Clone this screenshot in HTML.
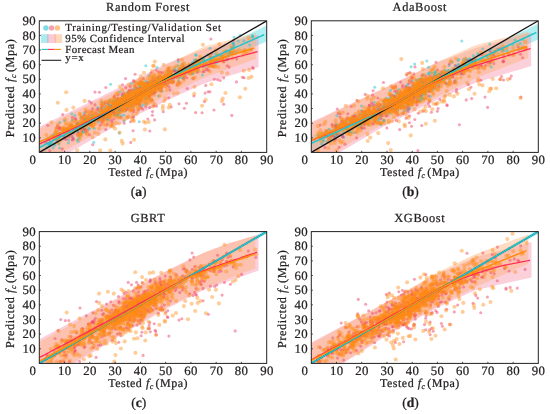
<!DOCTYPE html>
<html><head><meta charset="utf-8"><title>Predicted vs tested</title>
<style>
html,body{margin:0;padding:0;background:#fff;}
body{width:550px;height:414px;overflow:hidden;}
svg{display:block;font-family:"Liberation Serif",serif;opacity:0.999;will-change:transform;}
text{stroke:#231f20;stroke-width:0.24px;}
</style></head>
<body>
<svg width="550" height="414" viewBox="0 0 550 414" text-rendering="geometricPrecision">
<rect width="550" height="414" fill="#fff"/>
<clipPath id="clip_a"><rect x="39.3" y="20.8" width="227.4" height="131.6"/></clipPath>
<g clip-path="url(#clip_a)">
<polygon points="39.3,140.3 45.1,137.5 51,134.8 56.8,132.1 62.6,129.3 68.5,126.6 74.3,123.9 80.1,121 85.9,118 91.8,115.1 97.6,112.1 103.4,109.2 109.3,106.2 115.1,103.3 120.9,100.4 126.8,97.5 132.6,94.5 138.4,91.7 144.3,88.3 150.1,84.7 155.9,81.1 161.7,77.9 167.6,74.7 173.4,71.6 179.2,68.5 185.1,65.4 190.9,62.3 196.7,59.2 202.6,56.4 208.4,53.6 214.2,50.8 220.1,48 225.9,45.2 231.7,42.4 237.5,39.6 243.4,36.8 249.2,34 255,31.1 260.9,28.3 266.7,25.5 266.7,41.6 260.9,44 255,46.3 249.2,48.7 243.4,51.1 237.5,53.4 231.7,55.8 225.9,58.2 220.1,60.5 214.2,62.9 208.4,65.3 202.6,67.6 196.7,70 190.9,72.6 185.1,75.2 179.2,77.9 173.4,80.5 167.6,83.2 161.7,86 155.9,88.7 150.1,91.9 144.3,95 138.4,98.2 132.6,101.6 126.8,105 120.9,108.4 115.1,111.8 109.3,115.2 103.4,118.6 97.6,122 91.8,125.4 85.9,128.9 80.1,132.3 74.3,135.7 68.5,138.9 62.6,142.1 56.8,145.3 51,148.5 45.1,151.7 39.3,154.9" fill="#55dbe2" fill-opacity="0.45"/>
<polygon points="39.3,126.8 44.9,124 50.5,121.3 56.2,118.5 61.8,115.7 67.4,113 73,110.2 78.7,107.4 84.3,104.7 89.9,101.9 95.5,99.1 101.2,96.4 106.8,93.6 112.4,90.9 118,88 123.7,85.2 129.3,82.3 134.9,79.5 140.5,76.7 146.1,73.8 151.8,71 157.4,68.1 163,65.3 168.6,62.8 174.3,60.6 179.9,58.4 185.5,56.2 191.1,54 196.8,51.8 202.4,49.6 208,48 213.6,46.5 219.3,45 224.9,43.5 230.5,42 236.1,40.5 241.7,39 247.4,37.5 253,36 258.6,34.5 258.6,67 253,68.7 247.4,70.4 241.7,72.1 236.1,73.8 230.5,75.5 224.9,77.2 219.3,78.9 213.6,80.6 208,82.3 202.4,84.2 196.8,86.8 191.1,89.4 185.5,92 179.9,94.6 174.3,97.2 168.6,99.8 163,102.5 157.4,105.3 151.8,108 146.1,110.8 140.5,113.6 134.9,116.3 129.3,119.1 123.7,121.9 118,124.6 112.4,127.6 106.8,130.9 101.2,134.1 95.5,137.4 89.9,140.7 84.3,143.9 78.7,147.2 73,150.4 67.4,153.2 61.8,155.4 56.2,157.6 50.5,159.8 44.9,161.9 39.3,164.1" fill="#f58aa6" fill-opacity="0.4"/>
<polygon points="39.3,129 44.9,126.3 50.4,123.5 56,120.8 61.5,118.1 67.1,115.3 72.6,112.6 78.2,109.9 83.7,107.2 89.3,104.4 94.8,101.7 100.4,99 105.9,96.2 111.5,93.5 117,90.7 122.6,87.8 128.1,84.9 133.7,82 139.2,79.1 144.8,76.2 150.3,73.3 155.9,70.4 161.4,67.4 167,64.6 172.6,61.9 178.1,59.2 183.7,56.5 189.2,53.8 194.8,51.1 200.3,48.4 205.9,46.2 211.4,44.8 217,43.3 222.5,41.8 228.1,40.4 233.6,38.9 239.2,37.5 244.7,36 250.3,34.5 255.8,33.1 255.8,59 250.3,61 244.7,63 239.2,65 233.6,67 228.1,69 222.5,71 217,73 211.4,75 205.9,77 200.3,79.4 194.8,82.1 189.2,84.7 183.7,87.4 178.1,90.1 172.6,92.8 167,95.4 161.4,98.3 155.9,101.3 150.3,104.3 144.8,107.3 139.2,110.2 133.7,113.2 128.1,116.2 122.6,119.1 117,122.1 111.5,125.2 105.9,128.2 100.4,131.3 94.8,134.3 89.3,137.4 83.7,140.5 78.2,143.5 72.6,146.6 67.1,149.6 61.5,152.6 56,154.7 50.4,156.9 44.9,159 39.3,161.2" fill="#ffb27a" fill-opacity="0.45"/>
<g fill="#22c6d2" fill-opacity="0.5"><circle cx="105.3" cy="106.6" r="1.5"/><circle cx="157.8" cy="88" r="1.5"/><circle cx="157.3" cy="86.3" r="1.5"/><circle cx="83.2" cy="132.1" r="1.5"/><circle cx="77.4" cy="130.9" r="1.5"/><circle cx="221.5" cy="55.4" r="1.5"/><circle cx="73.8" cy="131.3" r="1.5"/><circle cx="89.9" cy="121.9" r="1.5"/><circle cx="230.2" cy="52.5" r="1.5"/><circle cx="129.5" cy="102.7" r="1.5"/><circle cx="124.9" cy="103.5" r="1.5"/><circle cx="136.4" cy="94.8" r="1.5"/><circle cx="148.1" cy="90.4" r="1.5"/><circle cx="145.8" cy="65.7" r="1.5"/><circle cx="85.8" cy="122.9" r="1.5"/><circle cx="203" cy="61.4" r="1.5"/><circle cx="105.9" cy="116" r="1.5"/><circle cx="120.1" cy="100.4" r="1.5"/><circle cx="189.1" cy="73.3" r="1.5"/><circle cx="118.7" cy="113.5" r="1.5"/><circle cx="135.9" cy="101.2" r="1.5"/><circle cx="54.8" cy="137.7" r="1.5"/><circle cx="118.9" cy="111.1" r="1.5"/><circle cx="133.1" cy="92" r="1.5"/><circle cx="116.9" cy="107" r="1.5"/><circle cx="141.1" cy="100.9" r="1.5"/><circle cx="120.8" cy="105.8" r="1.5"/><circle cx="178.1" cy="65.7" r="1.5"/><circle cx="228.4" cy="54.3" r="1.5"/><circle cx="88.8" cy="128.3" r="1.5"/><circle cx="115.1" cy="105.5" r="1.5"/><circle cx="131.7" cy="92.8" r="1.5"/><circle cx="59.9" cy="133.5" r="1.5"/><circle cx="210.5" cy="60.2" r="1.5"/><circle cx="114.4" cy="107.4" r="1.5"/><circle cx="112.3" cy="107.9" r="1.5"/><circle cx="147.7" cy="84.5" r="1.5"/><circle cx="139" cy="84.9" r="1.5"/><circle cx="211.1" cy="59" r="1.5"/><circle cx="117.6" cy="100.5" r="1.5"/><circle cx="64.3" cy="136.6" r="1.5"/><circle cx="104.7" cy="110.8" r="1.5"/><circle cx="102" cy="119.4" r="1.5"/><circle cx="141.4" cy="97.2" r="1.5"/><circle cx="124.6" cy="100.8" r="1.5"/><circle cx="145.8" cy="95.3" r="1.5"/><circle cx="102.2" cy="110.7" r="1.5"/><circle cx="145.9" cy="93.6" r="1.5"/><circle cx="91.3" cy="120.5" r="1.5"/><circle cx="212.9" cy="58.1" r="1.5"/><circle cx="125.1" cy="104" r="1.5"/><circle cx="152.5" cy="86.6" r="1.5"/><circle cx="84.8" cy="119.4" r="1.5"/><circle cx="74.9" cy="115.6" r="1.5"/><circle cx="205.1" cy="66.3" r="1.5"/><circle cx="168.1" cy="77.6" r="1.5"/><circle cx="112.9" cy="109.9" r="1.5"/><circle cx="147.4" cy="94.4" r="1.5"/><circle cx="90.1" cy="118" r="1.5"/><circle cx="49.9" cy="145.4" r="1.5"/><circle cx="119" cy="106.1" r="1.5"/><circle cx="252.3" cy="35.6" r="1.5"/><circle cx="118.3" cy="115.6" r="1.5"/><circle cx="121.8" cy="103.1" r="1.5"/><circle cx="137.7" cy="93.6" r="1.5"/><circle cx="78.5" cy="132.3" r="1.5"/><circle cx="116.4" cy="104.7" r="1.5"/><circle cx="140.9" cy="92.3" r="1.5"/><circle cx="194.8" cy="67.4" r="1.5"/><circle cx="116.8" cy="101.3" r="1.5"/><circle cx="228.9" cy="55.9" r="1.5"/><circle cx="102.6" cy="111.7" r="1.5"/><circle cx="50.4" cy="143" r="1.5"/><circle cx="46.5" cy="147.5" r="1.5"/><circle cx="158.2" cy="84.9" r="1.5"/><circle cx="118.8" cy="107.5" r="1.5"/><circle cx="139.4" cy="90.9" r="1.5"/><circle cx="145.3" cy="98.4" r="1.5"/><circle cx="78.1" cy="129" r="1.5"/><circle cx="112" cy="111.7" r="1.5"/><circle cx="167.9" cy="71.8" r="1.5"/><circle cx="147.3" cy="95.5" r="1.5"/><circle cx="179" cy="68.7" r="1.5"/><circle cx="133" cy="106.4" r="1.5"/><circle cx="159.7" cy="81.7" r="1.5"/><circle cx="109.3" cy="111.7" r="1.5"/><circle cx="135.9" cy="94.9" r="1.5"/><circle cx="77.5" cy="139.7" r="1.5"/><circle cx="94.3" cy="128.4" r="1.5"/><circle cx="145.6" cy="98.4" r="1.5"/><circle cx="71.7" cy="113.7" r="1.5"/><circle cx="191.8" cy="66.4" r="1.5"/><circle cx="129.4" cy="104.2" r="1.5"/><circle cx="145.6" cy="87.1" r="1.5"/><circle cx="134.6" cy="100.9" r="1.5"/><circle cx="124" cy="115" r="1.5"/><circle cx="182.3" cy="77.6" r="1.5"/><circle cx="196.2" cy="60" r="1.5"/><circle cx="133.8" cy="88.7" r="1.5"/><circle cx="127.1" cy="105.9" r="1.5"/><circle cx="89.2" cy="120.7" r="1.5"/><circle cx="164.7" cy="76.3" r="1.5"/><circle cx="109.8" cy="100.9" r="1.5"/><circle cx="121.7" cy="115.6" r="1.5"/><circle cx="113.8" cy="108" r="1.5"/><circle cx="79.7" cy="124.3" r="1.5"/><circle cx="183.4" cy="78.4" r="1.5"/><circle cx="91.2" cy="119.1" r="1.5"/><circle cx="226.1" cy="51.2" r="1.5"/><circle cx="77.2" cy="125.3" r="1.5"/><circle cx="133.8" cy="100.6" r="1.5"/><circle cx="92.1" cy="115.2" r="1.5"/><circle cx="105.4" cy="116.1" r="1.5"/><circle cx="189.9" cy="65.6" r="1.5"/><circle cx="111.6" cy="109.1" r="1.5"/><circle cx="107.7" cy="113.8" r="1.5"/><circle cx="107" cy="119" r="1.5"/><circle cx="108" cy="104.1" r="1.5"/><circle cx="164.4" cy="75.8" r="1.5"/><circle cx="64.9" cy="131.4" r="1.5"/><circle cx="57.1" cy="141.3" r="1.5"/><circle cx="101.5" cy="117.1" r="1.5"/><circle cx="115.5" cy="99.9" r="1.5"/><circle cx="153.1" cy="83.5" r="1.5"/><circle cx="113.6" cy="112.8" r="1.5"/><circle cx="152.1" cy="87.9" r="1.5"/><circle cx="138.4" cy="94.8" r="1.5"/><circle cx="72.4" cy="132" r="1.5"/><circle cx="119.4" cy="110.1" r="1.5"/><circle cx="141.1" cy="88" r="1.5"/><circle cx="116.4" cy="104.5" r="1.5"/><circle cx="76" cy="130.2" r="1.5"/><circle cx="73.2" cy="137.8" r="1.5"/><circle cx="149.6" cy="98.7" r="1.5"/><circle cx="139" cy="95.1" r="1.5"/><circle cx="243.9" cy="40.7" r="1.5"/><circle cx="130.6" cy="106" r="1.5"/><circle cx="56.4" cy="135.2" r="1.5"/><circle cx="232.4" cy="48.6" r="1.5"/><circle cx="168.5" cy="82.4" r="1.5"/><circle cx="78" cy="141.2" r="1.5"/><circle cx="119.5" cy="111.1" r="1.5"/><circle cx="82.6" cy="132.6" r="1.5"/><circle cx="158.9" cy="84.5" r="1.5"/><circle cx="130.6" cy="98" r="1.5"/><circle cx="238.4" cy="41" r="1.5"/><circle cx="144.1" cy="92.2" r="1.5"/><circle cx="139.4" cy="100.2" r="1.5"/><circle cx="195.6" cy="55" r="1.5"/><circle cx="80.9" cy="125.1" r="1.5"/><circle cx="101.4" cy="116.6" r="1.5"/><circle cx="153.5" cy="87.9" r="1.5"/><circle cx="129.5" cy="106.4" r="1.5"/><circle cx="138.6" cy="92.2" r="1.5"/><circle cx="182.9" cy="66.9" r="1.5"/><circle cx="144.7" cy="84.3" r="1.5"/><circle cx="78" cy="122.9" r="1.5"/><circle cx="175.9" cy="71.1" r="1.5"/><circle cx="136.8" cy="90.3" r="1.5"/><circle cx="115.5" cy="109" r="1.5"/><circle cx="149.5" cy="91" r="1.5"/><circle cx="151.5" cy="88" r="1.5"/><circle cx="127" cy="107.2" r="1.5"/><circle cx="142.8" cy="93.5" r="1.5"/><circle cx="134.1" cy="99.1" r="1.5"/><circle cx="121.9" cy="101" r="1.5"/><circle cx="126" cy="102.8" r="1.5"/><circle cx="162.3" cy="90.9" r="1.5"/><circle cx="108.8" cy="111.1" r="1.5"/><circle cx="122.7" cy="97.1" r="1.5"/><circle cx="125.6" cy="110.7" r="1.5"/><circle cx="128.6" cy="104" r="1.5"/><circle cx="69.7" cy="132.3" r="1.5"/><circle cx="236" cy="52.6" r="1.5"/><circle cx="229.9" cy="52.3" r="1.5"/><circle cx="133.6" cy="97.5" r="1.5"/><circle cx="133.1" cy="104.2" r="1.5"/><circle cx="145.3" cy="89.9" r="1.5"/><circle cx="149.5" cy="87" r="1.5"/><circle cx="155.2" cy="91.5" r="1.5"/><circle cx="138" cy="95.3" r="1.5"/><circle cx="159.7" cy="78.2" r="1.5"/><circle cx="163.3" cy="82.2" r="1.5"/><circle cx="58.3" cy="136.5" r="1.5"/><circle cx="233.9" cy="45.8" r="1.5"/><circle cx="139.9" cy="95.5" r="1.5"/><circle cx="125.7" cy="97.4" r="1.5"/><circle cx="130.5" cy="97.6" r="1.5"/><circle cx="249.7" cy="45" r="1.5"/><circle cx="155.5" cy="82.9" r="1.5"/><circle cx="102.2" cy="102.2" r="1.5"/><circle cx="84.2" cy="113" r="1.5"/><circle cx="133.9" cy="100.6" r="1.5"/><circle cx="177.1" cy="72.3" r="1.5"/><circle cx="126.7" cy="95" r="1.5"/><circle cx="131.8" cy="97.6" r="1.5"/><circle cx="153.1" cy="81.1" r="1.5"/><circle cx="150.1" cy="82.4" r="1.5"/><circle cx="73.8" cy="130.3" r="1.5"/><circle cx="162" cy="78.9" r="1.5"/><circle cx="122.6" cy="105" r="1.5"/><circle cx="99.2" cy="111.4" r="1.5"/><circle cx="143.9" cy="92.4" r="1.5"/><circle cx="123.6" cy="105.6" r="1.5"/><circle cx="118.4" cy="106" r="1.5"/><circle cx="166.7" cy="80.9" r="1.5"/><circle cx="104.2" cy="111.8" r="1.5"/><circle cx="139" cy="92.6" r="1.5"/><circle cx="141.1" cy="99.1" r="1.5"/><circle cx="130.3" cy="102.5" r="1.5"/><circle cx="131.6" cy="97" r="1.5"/><circle cx="87.2" cy="120.6" r="1.5"/><circle cx="101.2" cy="114.8" r="1.5"/><circle cx="240.3" cy="35.2" r="1.5"/><circle cx="64.3" cy="120.6" r="1.5"/><circle cx="69.3" cy="132.7" r="1.5"/><circle cx="112.7" cy="105.5" r="1.5"/><circle cx="140.8" cy="87.4" r="1.5"/><circle cx="184.8" cy="68.8" r="1.5"/><circle cx="69" cy="140" r="1.5"/><circle cx="128.1" cy="100.1" r="1.5"/><circle cx="140.1" cy="93.8" r="1.5"/><circle cx="109.4" cy="100.7" r="1.5"/><circle cx="119.3" cy="132.9" r="1.5"/><circle cx="113.2" cy="101.3" r="1.5"/><circle cx="114.9" cy="108.4" r="1.5"/><circle cx="122.5" cy="99.2" r="1.5"/><circle cx="146.3" cy="91.9" r="1.5"/><circle cx="136.6" cy="95.1" r="1.5"/><circle cx="207.8" cy="54.9" r="1.5"/><circle cx="122.3" cy="103.2" r="1.5"/><circle cx="116.8" cy="101.7" r="1.5"/><circle cx="100.7" cy="115.7" r="1.5"/><circle cx="113.5" cy="110.3" r="1.5"/><circle cx="145.3" cy="92.1" r="1.5"/><circle cx="49.8" cy="143.9" r="1.5"/><circle cx="89.3" cy="122.2" r="1.5"/><circle cx="123.8" cy="96.4" r="1.5"/><circle cx="98.4" cy="122.1" r="1.5"/><circle cx="138.7" cy="102.5" r="1.5"/><circle cx="63.3" cy="135.4" r="1.5"/><circle cx="53.7" cy="134.3" r="1.5"/><circle cx="160.4" cy="77.7" r="1.5"/><circle cx="159" cy="77.1" r="1.5"/><circle cx="114.5" cy="102" r="1.5"/><circle cx="48.7" cy="145.1" r="1.5"/><circle cx="59.5" cy="136.8" r="1.5"/><circle cx="158.3" cy="96.1" r="1.5"/><circle cx="172.3" cy="79.4" r="1.5"/><circle cx="154.7" cy="82.7" r="1.5"/><circle cx="136" cy="103.4" r="1.5"/><circle cx="225.9" cy="59.9" r="1.5"/><circle cx="134.2" cy="103.2" r="1.5"/><circle cx="129.2" cy="96.3" r="1.5"/><circle cx="110" cy="104.7" r="1.5"/><circle cx="178.3" cy="61.4" r="1.5"/><circle cx="123.6" cy="96.1" r="1.5"/><circle cx="154.8" cy="92.5" r="1.5"/><circle cx="79.2" cy="137.8" r="1.5"/><circle cx="149.2" cy="87.9" r="1.5"/><circle cx="109" cy="105.8" r="1.5"/><circle cx="193.1" cy="73.5" r="1.5"/><circle cx="110.9" cy="112.1" r="1.5"/><circle cx="52.1" cy="142.5" r="1.5"/><circle cx="158.4" cy="83.3" r="1.5"/><circle cx="170.9" cy="77.9" r="1.5"/><circle cx="203.6" cy="59.1" r="1.5"/><circle cx="150" cy="83.1" r="1.5"/><circle cx="141.6" cy="92.6" r="1.5"/><circle cx="118.4" cy="102" r="1.5"/><circle cx="97.6" cy="107.5" r="1.5"/><circle cx="134.3" cy="101.7" r="1.5"/><circle cx="159.2" cy="87.9" r="1.5"/><circle cx="119" cy="102.8" r="1.5"/><circle cx="83.5" cy="115.8" r="1.5"/><circle cx="127.4" cy="99.8" r="1.5"/><circle cx="199.9" cy="64.3" r="1.5"/><circle cx="77.8" cy="123.3" r="1.5"/><circle cx="153.5" cy="88.9" r="1.5"/><circle cx="93.7" cy="115.7" r="1.5"/><circle cx="199.6" cy="61.3" r="1.5"/><circle cx="126.7" cy="99" r="1.5"/><circle cx="138" cy="88.4" r="1.5"/><circle cx="86.8" cy="117.6" r="1.5"/><circle cx="124.2" cy="105" r="1.5"/><circle cx="115.1" cy="103" r="1.5"/><circle cx="85.4" cy="131.3" r="1.5"/><circle cx="104.3" cy="108.4" r="1.5"/><circle cx="149" cy="75.6" r="1.5"/><circle cx="146.1" cy="81.3" r="1.5"/><circle cx="146.3" cy="87.7" r="1.5"/><circle cx="111.3" cy="107.2" r="1.5"/><circle cx="192.5" cy="62.5" r="1.5"/><circle cx="220.2" cy="55.6" r="1.5"/><circle cx="252.5" cy="37" r="1.5"/><circle cx="137.6" cy="96.1" r="1.5"/><circle cx="141.7" cy="94.6" r="1.5"/><circle cx="156.6" cy="83.5" r="1.5"/><circle cx="169" cy="78" r="1.5"/><circle cx="89.4" cy="129.1" r="1.5"/><circle cx="196.2" cy="55.1" r="1.5"/><circle cx="84.3" cy="123.1" r="1.5"/><circle cx="54.8" cy="145.3" r="1.5"/><circle cx="158" cy="78.2" r="1.5"/><circle cx="131.7" cy="98.1" r="1.5"/><circle cx="103.6" cy="112.3" r="1.5"/><circle cx="133.8" cy="93.5" r="1.5"/><circle cx="103.4" cy="117.5" r="1.5"/><circle cx="59.4" cy="148.1" r="1.5"/><circle cx="82.7" cy="125.1" r="1.5"/><circle cx="119" cy="103.7" r="1.5"/><circle cx="157.2" cy="67.4" r="1.5"/><circle cx="131.5" cy="101.6" r="1.5"/><circle cx="141.7" cy="93.8" r="1.5"/><circle cx="203.3" cy="59.4" r="1.5"/><circle cx="115.6" cy="108.2" r="1.5"/><circle cx="103.4" cy="114.5" r="1.5"/><circle cx="141.2" cy="91.6" r="1.5"/><circle cx="84.3" cy="128.4" r="1.5"/><circle cx="81.1" cy="118.1" r="1.5"/><circle cx="108.3" cy="114.9" r="1.5"/><circle cx="124.1" cy="101.9" r="1.5"/><circle cx="146.8" cy="91.2" r="1.5"/><circle cx="135" cy="99.5" r="1.5"/><circle cx="192.2" cy="63.9" r="1.5"/><circle cx="131.7" cy="93.2" r="1.5"/><circle cx="131" cy="91.5" r="1.5"/><circle cx="124.2" cy="99.3" r="1.5"/><circle cx="88.3" cy="123.7" r="1.5"/><circle cx="142.1" cy="88.3" r="1.5"/><circle cx="148.5" cy="95.4" r="1.5"/><circle cx="145.4" cy="90.2" r="1.5"/><circle cx="92.2" cy="117" r="1.5"/><circle cx="155.7" cy="81.9" r="1.5"/><circle cx="107.9" cy="116.3" r="1.5"/><circle cx="137" cy="102.2" r="1.5"/><circle cx="140.1" cy="85.7" r="1.5"/><circle cx="141.3" cy="95.2" r="1.5"/><circle cx="114.1" cy="115.3" r="1.5"/><circle cx="118.4" cy="111.1" r="1.5"/><circle cx="81.2" cy="125.5" r="1.5"/><circle cx="233.2" cy="43.4" r="1.5"/><circle cx="147.9" cy="89.1" r="1.5"/><circle cx="194.3" cy="60" r="1.5"/><circle cx="233.4" cy="47" r="1.5"/><circle cx="150.3" cy="85.5" r="1.5"/><circle cx="233.7" cy="43.9" r="1.5"/><circle cx="72.9" cy="131.7" r="1.5"/><circle cx="76.2" cy="126.9" r="1.5"/><circle cx="160.5" cy="83.9" r="1.5"/><circle cx="177.9" cy="76.4" r="1.5"/><circle cx="111.3" cy="106.1" r="1.5"/><circle cx="184.4" cy="74" r="1.5"/><circle cx="166.9" cy="78.5" r="1.5"/><circle cx="101.6" cy="118.2" r="1.5"/><circle cx="143.9" cy="91.9" r="1.5"/><circle cx="137.7" cy="97.4" r="1.5"/><circle cx="84.4" cy="118.8" r="1.5"/><circle cx="127.7" cy="99.9" r="1.5"/><circle cx="139.5" cy="93.6" r="1.5"/><circle cx="110.6" cy="84.2" r="1.5"/><circle cx="145.9" cy="103.9" r="1.5"/><circle cx="179.9" cy="77.7" r="1.5"/><circle cx="143.2" cy="104.8" r="1.5"/><circle cx="90.8" cy="120.6" r="1.5"/><circle cx="58.5" cy="135.9" r="1.5"/><circle cx="112.5" cy="105.7" r="1.5"/><circle cx="147.9" cy="88" r="1.5"/><circle cx="102.8" cy="118.1" r="1.5"/><circle cx="127.5" cy="92.4" r="1.5"/><circle cx="91" cy="119" r="1.5"/><circle cx="121.1" cy="105.3" r="1.5"/><circle cx="137.7" cy="100.4" r="1.5"/><circle cx="124.4" cy="100.4" r="1.5"/><circle cx="94.9" cy="120.6" r="1.5"/><circle cx="57.2" cy="140" r="1.5"/><circle cx="138.2" cy="93.9" r="1.5"/><circle cx="96.8" cy="116.3" r="1.5"/><circle cx="49.2" cy="145.1" r="1.5"/><circle cx="108.7" cy="105" r="1.5"/><circle cx="120.1" cy="109.4" r="1.5"/><circle cx="132.8" cy="103" r="1.5"/><circle cx="124.7" cy="100.8" r="1.5"/><circle cx="155.2" cy="84.6" r="1.5"/><circle cx="153.2" cy="86" r="1.5"/><circle cx="155.4" cy="87" r="1.5"/><circle cx="151.1" cy="87.4" r="1.5"/><circle cx="150.7" cy="90.5" r="1.5"/><circle cx="138.3" cy="102.6" r="1.5"/><circle cx="78.2" cy="124.1" r="1.5"/><circle cx="50.1" cy="145.4" r="1.5"/><circle cx="153.8" cy="87.1" r="1.5"/><circle cx="138.6" cy="91.4" r="1.5"/><circle cx="166.7" cy="79.2" r="1.5"/><circle cx="234" cy="37.2" r="1.5"/><circle cx="151.5" cy="93.9" r="1.5"/><circle cx="102.1" cy="118.1" r="1.5"/><circle cx="226.3" cy="51.1" r="1.5"/><circle cx="150.7" cy="81.5" r="1.5"/><circle cx="112.6" cy="110" r="1.5"/><circle cx="129.4" cy="106.4" r="1.5"/><circle cx="156.1" cy="79.4" r="1.5"/><circle cx="122.1" cy="108" r="1.5"/><circle cx="137.6" cy="96.3" r="1.5"/><circle cx="144.5" cy="87.3" r="1.5"/><circle cx="164.5" cy="83.6" r="1.5"/><circle cx="229.8" cy="51.7" r="1.5"/><circle cx="215.6" cy="54.1" r="1.5"/><circle cx="133.3" cy="98.6" r="1.5"/><circle cx="154.4" cy="84.4" r="1.5"/><circle cx="202.5" cy="75.1" r="1.5"/><circle cx="133.7" cy="98" r="1.5"/><circle cx="231.8" cy="53.3" r="1.5"/><circle cx="93.8" cy="142.3" r="1.5"/><circle cx="122.3" cy="95.4" r="1.5"/><circle cx="161.1" cy="80.1" r="1.5"/><circle cx="174.8" cy="71.1" r="1.5"/><circle cx="204.8" cy="65.2" r="1.5"/><circle cx="47.9" cy="143.3" r="1.5"/><circle cx="136.4" cy="96.9" r="1.5"/><circle cx="118.6" cy="112.3" r="1.5"/><circle cx="60.4" cy="134.7" r="1.5"/><circle cx="116.1" cy="110.3" r="1.5"/><circle cx="177.9" cy="74.7" r="1.5"/><circle cx="178.4" cy="80.7" r="1.5"/><circle cx="87.9" cy="117.7" r="1.5"/><circle cx="158.1" cy="80.3" r="1.5"/><circle cx="134.4" cy="95.2" r="1.5"/><circle cx="146.6" cy="94.5" r="1.5"/><circle cx="110.7" cy="112.5" r="1.5"/><circle cx="140.5" cy="88.1" r="1.5"/><circle cx="128.8" cy="101.4" r="1.5"/><circle cx="146.4" cy="89.2" r="1.5"/><circle cx="140.2" cy="93.3" r="1.5"/><circle cx="134.6" cy="102.2" r="1.5"/><circle cx="101.2" cy="108" r="1.5"/><circle cx="117.3" cy="115.6" r="1.5"/><circle cx="150.9" cy="86.7" r="1.5"/><circle cx="144.9" cy="91.7" r="1.5"/><circle cx="197.9" cy="71.2" r="1.5"/><circle cx="98" cy="115.3" r="1.5"/><circle cx="88.5" cy="119.6" r="1.5"/><circle cx="124.7" cy="102.1" r="1.5"/><circle cx="171.8" cy="80.7" r="1.5"/><circle cx="68.7" cy="130.7" r="1.5"/><circle cx="196.1" cy="59.9" r="1.5"/><circle cx="177.5" cy="70.7" r="1.5"/><circle cx="113.9" cy="100.1" r="1.5"/><circle cx="119.8" cy="92.1" r="1.5"/><circle cx="139.4" cy="90.8" r="1.5"/><circle cx="138.1" cy="88.6" r="1.5"/><circle cx="135.2" cy="99.7" r="1.5"/><circle cx="133.9" cy="99.8" r="1.5"/><circle cx="76.4" cy="126.3" r="1.5"/><circle cx="139" cy="92.2" r="1.5"/><circle cx="117.5" cy="99.2" r="1.5"/><circle cx="170.7" cy="72" r="1.5"/><circle cx="146.7" cy="89.4" r="1.5"/><circle cx="203.5" cy="60.6" r="1.5"/><circle cx="177.8" cy="75.1" r="1.5"/><circle cx="197.4" cy="65.9" r="1.5"/><circle cx="185.3" cy="72.2" r="1.5"/><circle cx="193.9" cy="61.9" r="1.5"/><circle cx="91.5" cy="122.6" r="1.5"/><circle cx="134.8" cy="98.5" r="1.5"/><circle cx="152.5" cy="86.1" r="1.5"/><circle cx="81" cy="128.5" r="1.5"/><circle cx="142.4" cy="93.7" r="1.5"/><circle cx="53.2" cy="148" r="1.5"/><circle cx="231.3" cy="47.7" r="1.5"/><circle cx="83" cy="129.3" r="1.5"/><circle cx="130.3" cy="98.3" r="1.5"/><circle cx="153.3" cy="84.6" r="1.5"/><circle cx="139.3" cy="121.8" r="1.5"/><circle cx="210" cy="48.3" r="1.5"/><circle cx="134.1" cy="96.3" r="1.5"/><circle cx="182.5" cy="70.5" r="1.5"/><circle cx="58.9" cy="144.1" r="1.5"/><circle cx="110.4" cy="106.8" r="1.5"/><circle cx="88.5" cy="119.7" r="1.5"/><circle cx="164" cy="82.1" r="1.5"/><circle cx="135.5" cy="91.3" r="1.5"/><circle cx="156.7" cy="78" r="1.5"/><circle cx="126.4" cy="102.5" r="1.5"/><circle cx="113.8" cy="111.9" r="1.5"/><circle cx="232.8" cy="42.8" r="1.5"/><circle cx="117.9" cy="104.1" r="1.5"/><circle cx="117.1" cy="106.6" r="1.5"/><circle cx="72.3" cy="120" r="1.5"/><circle cx="142.5" cy="91.3" r="1.5"/><circle cx="114.1" cy="108.2" r="1.5"/><circle cx="132.3" cy="96.3" r="1.5"/><circle cx="203.9" cy="62.5" r="1.5"/><circle cx="93.8" cy="117.4" r="1.5"/><circle cx="132.6" cy="96.7" r="1.5"/><circle cx="86.7" cy="125.4" r="1.5"/><circle cx="136.9" cy="96.3" r="1.5"/><circle cx="138.3" cy="92.9" r="1.5"/><circle cx="182.5" cy="63.9" r="1.5"/><circle cx="77.7" cy="124.6" r="1.5"/><circle cx="148" cy="85.2" r="1.5"/><circle cx="85.1" cy="122.1" r="1.5"/><circle cx="140.9" cy="90.6" r="1.5"/><circle cx="158.9" cy="87.1" r="1.5"/><circle cx="197.3" cy="64.9" r="1.5"/><circle cx="134.3" cy="91.7" r="1.5"/><circle cx="108.5" cy="119.8" r="1.5"/><circle cx="200.4" cy="60.8" r="1.5"/><circle cx="131.5" cy="83.3" r="1.5"/><circle cx="216.1" cy="63.3" r="1.5"/><circle cx="133.5" cy="90.1" r="1.5"/><circle cx="80.1" cy="134.4" r="1.5"/><circle cx="140.6" cy="91.6" r="1.5"/><circle cx="136.3" cy="88" r="1.5"/><circle cx="128" cy="93.2" r="1.5"/><circle cx="102.1" cy="118.4" r="1.5"/><circle cx="124.2" cy="120.9" r="1.5"/><circle cx="106.3" cy="118.7" r="1.5"/><circle cx="171.2" cy="73.4" r="1.5"/><circle cx="149.1" cy="90.4" r="1.5"/><circle cx="196.8" cy="64.3" r="1.5"/><circle cx="147.5" cy="88.3" r="1.5"/><circle cx="210.5" cy="56.5" r="1.5"/><circle cx="111" cy="107" r="1.5"/><circle cx="193.8" cy="65.2" r="1.5"/><circle cx="192.4" cy="73.7" r="1.5"/><circle cx="147.5" cy="82.8" r="1.5"/><circle cx="140.9" cy="106.2" r="1.5"/><circle cx="129.6" cy="93.6" r="1.5"/><circle cx="164" cy="83.4" r="1.5"/><circle cx="142.1" cy="93.6" r="1.5"/><circle cx="164.6" cy="82.7" r="1.5"/><circle cx="158.2" cy="85.3" r="1.5"/><circle cx="66.1" cy="133.9" r="1.5"/><circle cx="98.7" cy="117.6" r="1.5"/><circle cx="147" cy="95" r="1.5"/><circle cx="252.6" cy="36.6" r="1.5"/><circle cx="156.3" cy="87.3" r="1.5"/><circle cx="141" cy="87.1" r="1.5"/><circle cx="74.8" cy="130.1" r="1.5"/><circle cx="140.7" cy="96.8" r="1.5"/><circle cx="133.2" cy="95.5" r="1.5"/><circle cx="110.4" cy="105.8" r="1.5"/><circle cx="136.7" cy="100" r="1.5"/><circle cx="133.2" cy="98.9" r="1.5"/><circle cx="175.1" cy="68.4" r="1.5"/><circle cx="128.3" cy="104.9" r="1.5"/><circle cx="120.7" cy="108.3" r="1.5"/><circle cx="149.9" cy="87.4" r="1.5"/><circle cx="216.5" cy="60.8" r="1.5"/><circle cx="68.4" cy="143.1" r="1.5"/><circle cx="116.9" cy="114.2" r="1.5"/><circle cx="173.3" cy="69.9" r="1.5"/><circle cx="141.3" cy="90.2" r="1.5"/><circle cx="171.1" cy="74.2" r="1.5"/><circle cx="78" cy="125.8" r="1.5"/><circle cx="217.3" cy="60.5" r="1.5"/><circle cx="89.1" cy="118.4" r="1.5"/><circle cx="59.9" cy="122.6" r="1.5"/></g>
<g fill="#f0466a" fill-opacity="0.5"><circle cx="152" cy="92.9" r="1.55"/><circle cx="233.6" cy="40.3" r="1.55"/><circle cx="119.7" cy="104.1" r="1.55"/><circle cx="127.7" cy="103.3" r="1.55"/><circle cx="139.6" cy="94" r="1.55"/><circle cx="202.9" cy="71.7" r="1.55"/><circle cx="166.7" cy="75.5" r="1.55"/><circle cx="126.2" cy="96.7" r="1.55"/><circle cx="165.5" cy="84" r="1.55"/><circle cx="178" cy="70.9" r="1.55"/><circle cx="136" cy="97.7" r="1.55"/><circle cx="160.3" cy="82" r="1.55"/><circle cx="171.2" cy="107" r="1.55"/><circle cx="49.8" cy="150.6" r="1.55"/><circle cx="179.4" cy="82.8" r="1.55"/><circle cx="185.7" cy="71.8" r="1.55"/><circle cx="125.4" cy="104.6" r="1.55"/><circle cx="155.3" cy="86.9" r="1.55"/><circle cx="83" cy="129.3" r="1.55"/><circle cx="92.7" cy="144.7" r="1.55"/><circle cx="154.9" cy="88.9" r="1.55"/><circle cx="227.2" cy="65.8" r="1.55"/><circle cx="77" cy="123.8" r="1.55"/><circle cx="154.8" cy="92.3" r="1.55"/><circle cx="124.9" cy="99.4" r="1.55"/><circle cx="59.3" cy="127.8" r="1.55"/><circle cx="137.8" cy="94.8" r="1.55"/><circle cx="89.3" cy="101.2" r="1.55"/><circle cx="214.6" cy="61" r="1.55"/><circle cx="95" cy="104.9" r="1.55"/><circle cx="103.8" cy="115.8" r="1.55"/><circle cx="138" cy="89.4" r="1.55"/><circle cx="73.6" cy="139.2" r="1.55"/><circle cx="206.9" cy="62.8" r="1.55"/><circle cx="223.8" cy="61.9" r="1.55"/><circle cx="149.7" cy="107.5" r="1.55"/><circle cx="102.3" cy="120.7" r="1.55"/><circle cx="135.1" cy="86" r="1.55"/><circle cx="117.2" cy="101.5" r="1.55"/><circle cx="144.3" cy="85.2" r="1.55"/><circle cx="179.1" cy="73.6" r="1.55"/><circle cx="141.3" cy="107.8" r="1.55"/><circle cx="106.5" cy="110.5" r="1.55"/><circle cx="89.5" cy="134.7" r="1.55"/><circle cx="139.8" cy="96.7" r="1.55"/><circle cx="111.3" cy="111.6" r="1.55"/><circle cx="205.1" cy="93.1" r="1.55"/><circle cx="139.7" cy="103.4" r="1.55"/><circle cx="174.6" cy="71.1" r="1.55"/><circle cx="187.7" cy="67.9" r="1.55"/><circle cx="137.5" cy="98.7" r="1.55"/><circle cx="127.2" cy="105" r="1.55"/><circle cx="101.9" cy="104.9" r="1.55"/><circle cx="135.3" cy="93" r="1.55"/><circle cx="69.4" cy="128.6" r="1.55"/><circle cx="122" cy="109.8" r="1.55"/><circle cx="173.6" cy="81.9" r="1.55"/><circle cx="130.6" cy="104.8" r="1.55"/><circle cx="62.2" cy="148.9" r="1.55"/><circle cx="161.1" cy="78.6" r="1.55"/><circle cx="123.3" cy="104.7" r="1.55"/><circle cx="150" cy="90.4" r="1.55"/><circle cx="183.7" cy="78.4" r="1.55"/><circle cx="158" cy="77.3" r="1.55"/><circle cx="114.4" cy="97.3" r="1.55"/><circle cx="84.8" cy="114.9" r="1.55"/><circle cx="160.5" cy="78.7" r="1.55"/><circle cx="204.2" cy="71.4" r="1.55"/><circle cx="129.1" cy="98.3" r="1.55"/><circle cx="186.8" cy="71.4" r="1.55"/><circle cx="102.6" cy="106.4" r="1.55"/><circle cx="80.5" cy="124.9" r="1.55"/><circle cx="167.2" cy="85.1" r="1.55"/><circle cx="79.5" cy="125.7" r="1.55"/><circle cx="236.7" cy="59" r="1.55"/><circle cx="124.6" cy="95.2" r="1.55"/><circle cx="140.1" cy="90.8" r="1.55"/><circle cx="67" cy="128.5" r="1.55"/><circle cx="163.7" cy="81.1" r="1.55"/><circle cx="183" cy="66.1" r="1.55"/><circle cx="105.4" cy="114.8" r="1.55"/><circle cx="98.7" cy="120.3" r="1.55"/><circle cx="72.5" cy="137.8" r="1.55"/><circle cx="153.1" cy="80.7" r="1.55"/><circle cx="222.2" cy="58.8" r="1.55"/><circle cx="117.4" cy="100.1" r="1.55"/><circle cx="153.1" cy="86.4" r="1.55"/><circle cx="128.8" cy="91.9" r="1.55"/><circle cx="133.8" cy="102.4" r="1.55"/><circle cx="211.5" cy="53.4" r="1.55"/><circle cx="113.8" cy="112.3" r="1.55"/><circle cx="96.3" cy="119.2" r="1.55"/><circle cx="72.3" cy="140" r="1.55"/><circle cx="154.4" cy="85.6" r="1.55"/><circle cx="138.6" cy="110" r="1.55"/><circle cx="116.8" cy="104.4" r="1.55"/><circle cx="160.8" cy="86.2" r="1.55"/><circle cx="135.4" cy="103.6" r="1.55"/><circle cx="152.7" cy="81.6" r="1.55"/><circle cx="140.8" cy="81.6" r="1.55"/><circle cx="120.9" cy="100.7" r="1.55"/><circle cx="202.9" cy="66.6" r="1.55"/><circle cx="138.3" cy="91.3" r="1.55"/><circle cx="77.3" cy="135.1" r="1.55"/><circle cx="212.6" cy="66.5" r="1.55"/><circle cx="56.5" cy="127.7" r="1.55"/><circle cx="108.1" cy="108.8" r="1.55"/><circle cx="100.8" cy="119" r="1.55"/><circle cx="170.7" cy="74.7" r="1.55"/><circle cx="90" cy="120.9" r="1.55"/><circle cx="134.5" cy="90.3" r="1.55"/><circle cx="68.9" cy="137" r="1.55"/><circle cx="150.2" cy="91" r="1.55"/><circle cx="183.1" cy="71" r="1.55"/><circle cx="182.5" cy="72.7" r="1.55"/><circle cx="159.6" cy="81.1" r="1.55"/><circle cx="173.3" cy="78" r="1.55"/><circle cx="135" cy="98.9" r="1.55"/><circle cx="95.7" cy="113" r="1.55"/><circle cx="227.2" cy="59.8" r="1.55"/><circle cx="136.7" cy="103.5" r="1.55"/><circle cx="142.7" cy="109.2" r="1.55"/><circle cx="190.5" cy="72" r="1.55"/><circle cx="154" cy="85.5" r="1.55"/><circle cx="168.5" cy="70.4" r="1.55"/><circle cx="121.4" cy="110.7" r="1.55"/><circle cx="137" cy="93.2" r="1.55"/><circle cx="187.2" cy="88.5" r="1.55"/><circle cx="209.9" cy="91.7" r="1.55"/><circle cx="168.7" cy="82.4" r="1.55"/><circle cx="139.2" cy="96" r="1.55"/><circle cx="90.7" cy="122.9" r="1.55"/><circle cx="161.5" cy="87.9" r="1.55"/><circle cx="144.3" cy="93.4" r="1.55"/><circle cx="68.1" cy="132.2" r="1.55"/><circle cx="130.8" cy="142.4" r="1.55"/><circle cx="85.6" cy="129.4" r="1.55"/><circle cx="197" cy="72.4" r="1.55"/><circle cx="129.5" cy="94.9" r="1.55"/><circle cx="251.5" cy="49.4" r="1.55"/><circle cx="125.8" cy="87.6" r="1.55"/><circle cx="81.1" cy="123.8" r="1.55"/><circle cx="160.6" cy="90.9" r="1.55"/><circle cx="103.5" cy="112.5" r="1.55"/><circle cx="188.2" cy="68.6" r="1.55"/><circle cx="94.4" cy="117.3" r="1.55"/><circle cx="104.5" cy="118.1" r="1.55"/><circle cx="85.4" cy="123.6" r="1.55"/><circle cx="152.1" cy="100" r="1.55"/><circle cx="64.5" cy="138.6" r="1.55"/><circle cx="140.8" cy="99.7" r="1.55"/><circle cx="47.8" cy="125.2" r="1.55"/><circle cx="156.5" cy="106.3" r="1.55"/><circle cx="59.2" cy="134.3" r="1.55"/><circle cx="114.3" cy="109.1" r="1.55"/><circle cx="171.8" cy="71.7" r="1.55"/><circle cx="145.1" cy="88.2" r="1.55"/><circle cx="64.1" cy="136.4" r="1.55"/><circle cx="181" cy="68.6" r="1.55"/><circle cx="133.8" cy="116.9" r="1.55"/><circle cx="122.5" cy="84.8" r="1.55"/><circle cx="155.9" cy="69.9" r="1.55"/><circle cx="106.8" cy="112.1" r="1.55"/><circle cx="210.5" cy="57.5" r="1.55"/><circle cx="190.9" cy="69.9" r="1.55"/><circle cx="66.3" cy="139.4" r="1.55"/><circle cx="139.7" cy="89.1" r="1.55"/><circle cx="131.8" cy="96.5" r="1.55"/><circle cx="138.4" cy="90.8" r="1.55"/><circle cx="105.1" cy="102.5" r="1.55"/><circle cx="151.1" cy="72.8" r="1.55"/><circle cx="129.2" cy="90.2" r="1.55"/><circle cx="102.7" cy="114.2" r="1.55"/><circle cx="54.8" cy="136.7" r="1.55"/><circle cx="107.6" cy="108.4" r="1.55"/><circle cx="176.7" cy="77.1" r="1.55"/><circle cx="155.1" cy="88" r="1.55"/><circle cx="75.2" cy="118.6" r="1.55"/><circle cx="144.2" cy="89.3" r="1.55"/><circle cx="122" cy="94.4" r="1.55"/><circle cx="140.5" cy="97.7" r="1.55"/><circle cx="134" cy="97.5" r="1.55"/><circle cx="207.2" cy="68.6" r="1.55"/><circle cx="145.9" cy="92.6" r="1.55"/><circle cx="97.4" cy="119.1" r="1.55"/><circle cx="111.2" cy="110" r="1.55"/><circle cx="45.8" cy="142.5" r="1.55"/><circle cx="133.5" cy="80.6" r="1.55"/><circle cx="160.8" cy="76.9" r="1.55"/><circle cx="105.6" cy="115.9" r="1.55"/><circle cx="118.6" cy="108.2" r="1.55"/><circle cx="57.5" cy="125.7" r="1.55"/><circle cx="116.3" cy="104" r="1.55"/><circle cx="80.1" cy="128.1" r="1.55"/><circle cx="71.1" cy="125.2" r="1.55"/><circle cx="71.7" cy="135.8" r="1.55"/><circle cx="127.9" cy="102.9" r="1.55"/><circle cx="178.2" cy="59.6" r="1.55"/><circle cx="120.6" cy="117.3" r="1.55"/><circle cx="143.8" cy="93.9" r="1.55"/><circle cx="184.6" cy="68.5" r="1.55"/><circle cx="117.4" cy="106.8" r="1.55"/><circle cx="173.1" cy="81.7" r="1.55"/><circle cx="138.8" cy="103.1" r="1.55"/><circle cx="100.2" cy="125.2" r="1.55"/><circle cx="122.7" cy="109.8" r="1.55"/><circle cx="91.6" cy="119" r="1.55"/><circle cx="147.7" cy="92.5" r="1.55"/><circle cx="103.3" cy="113.5" r="1.55"/><circle cx="165.3" cy="82.6" r="1.55"/><circle cx="63.8" cy="129.7" r="1.55"/><circle cx="149.8" cy="131" r="1.55"/><circle cx="145.5" cy="92.4" r="1.55"/><circle cx="121.7" cy="105.5" r="1.55"/><circle cx="111.1" cy="112.4" r="1.55"/><circle cx="138.1" cy="103.5" r="1.55"/><circle cx="170" cy="89.9" r="1.55"/><circle cx="83.3" cy="120.4" r="1.55"/><circle cx="152.8" cy="82.7" r="1.55"/><circle cx="114.4" cy="96" r="1.55"/><circle cx="189.4" cy="64.7" r="1.55"/><circle cx="129.6" cy="91.6" r="1.55"/><circle cx="137.3" cy="92.6" r="1.55"/><circle cx="103.4" cy="115.2" r="1.55"/><circle cx="186.7" cy="77.7" r="1.55"/><circle cx="113.9" cy="119" r="1.55"/><circle cx="152.8" cy="94" r="1.55"/><circle cx="104.2" cy="113.5" r="1.55"/><circle cx="158.9" cy="89.2" r="1.55"/><circle cx="162.4" cy="73" r="1.55"/><circle cx="89.5" cy="114.8" r="1.55"/><circle cx="194.5" cy="65.2" r="1.55"/><circle cx="140.1" cy="90" r="1.55"/><circle cx="108" cy="102.9" r="1.55"/><circle cx="137.1" cy="96.3" r="1.55"/><circle cx="115.5" cy="113.8" r="1.55"/><circle cx="89.7" cy="124.9" r="1.55"/><circle cx="104.9" cy="104" r="1.55"/><circle cx="97.8" cy="115.1" r="1.55"/><circle cx="169.1" cy="86.9" r="1.55"/><circle cx="158.4" cy="71.8" r="1.55"/><circle cx="128.9" cy="99" r="1.55"/><circle cx="136.5" cy="88" r="1.55"/><circle cx="85.9" cy="111.5" r="1.55"/><circle cx="107.2" cy="124.2" r="1.55"/><circle cx="122.8" cy="102.3" r="1.55"/><circle cx="154" cy="93" r="1.55"/><circle cx="125.6" cy="109.6" r="1.55"/><circle cx="87.1" cy="130.4" r="1.55"/><circle cx="143.1" cy="89.8" r="1.55"/><circle cx="130.2" cy="86.4" r="1.55"/><circle cx="101.6" cy="122.6" r="1.55"/><circle cx="117.9" cy="98.2" r="1.55"/><circle cx="136.4" cy="95.5" r="1.55"/><circle cx="124.4" cy="104.4" r="1.55"/><circle cx="118.2" cy="94.9" r="1.55"/><circle cx="162" cy="84.3" r="1.55"/><circle cx="174.3" cy="70.5" r="1.55"/><circle cx="149.4" cy="90.2" r="1.55"/><circle cx="138.7" cy="99.2" r="1.55"/><circle cx="60.6" cy="128.2" r="1.55"/><circle cx="149.7" cy="95.6" r="1.55"/><circle cx="154.6" cy="119.9" r="1.55"/><circle cx="158.1" cy="85.2" r="1.55"/><circle cx="59.3" cy="134.7" r="1.55"/><circle cx="80.5" cy="126.1" r="1.55"/><circle cx="252.6" cy="67.5" r="1.55"/><circle cx="133.8" cy="109.8" r="1.55"/><circle cx="113.3" cy="103.2" r="1.55"/><circle cx="167.9" cy="74.7" r="1.55"/><circle cx="110.9" cy="114.4" r="1.55"/><circle cx="112.1" cy="106.1" r="1.55"/><circle cx="213.2" cy="62.2" r="1.55"/><circle cx="155.2" cy="80.5" r="1.55"/><circle cx="171.2" cy="82.1" r="1.55"/><circle cx="147.1" cy="82.7" r="1.55"/><circle cx="85.8" cy="124.8" r="1.55"/><circle cx="98.2" cy="108.7" r="1.55"/><circle cx="131.3" cy="89.7" r="1.55"/><circle cx="147.8" cy="119" r="1.55"/><circle cx="98.5" cy="118.4" r="1.55"/><circle cx="124.2" cy="100.9" r="1.55"/><circle cx="127.6" cy="95.5" r="1.55"/><circle cx="148.6" cy="95.8" r="1.55"/><circle cx="91.2" cy="121.8" r="1.55"/><circle cx="140.1" cy="87.9" r="1.55"/><circle cx="190" cy="66.4" r="1.55"/><circle cx="85.5" cy="132" r="1.55"/><circle cx="126.7" cy="109.4" r="1.55"/><circle cx="127.3" cy="96.5" r="1.55"/><circle cx="229.1" cy="67.1" r="1.55"/><circle cx="149" cy="87.6" r="1.55"/><circle cx="59.4" cy="127.5" r="1.55"/><circle cx="179.5" cy="75.1" r="1.55"/><circle cx="112" cy="122.1" r="1.55"/><circle cx="168.7" cy="68.3" r="1.55"/><circle cx="185.4" cy="67.2" r="1.55"/><circle cx="143.3" cy="78.5" r="1.55"/><circle cx="152.9" cy="78.2" r="1.55"/><circle cx="149" cy="97.1" r="1.55"/><circle cx="81.8" cy="117" r="1.55"/><circle cx="109.2" cy="106.8" r="1.55"/><circle cx="123.5" cy="98.1" r="1.55"/><circle cx="108.3" cy="118" r="1.55"/><circle cx="168.7" cy="97.8" r="1.55"/><circle cx="74.4" cy="128.9" r="1.55"/><circle cx="134.2" cy="81.8" r="1.55"/><circle cx="143.3" cy="90.7" r="1.55"/><circle cx="138" cy="96.7" r="1.55"/><circle cx="204.4" cy="101.6" r="1.55"/><circle cx="125.4" cy="99.4" r="1.55"/><circle cx="130.3" cy="98.9" r="1.55"/><circle cx="124.1" cy="101.6" r="1.55"/><circle cx="123.6" cy="93.1" r="1.55"/><circle cx="72.4" cy="117.4" r="1.55"/><circle cx="156.4" cy="84.9" r="1.55"/><circle cx="126.8" cy="99.9" r="1.55"/><circle cx="83.8" cy="124" r="1.55"/><circle cx="152.1" cy="83.4" r="1.55"/><circle cx="58.9" cy="129.5" r="1.55"/><circle cx="195.3" cy="67.4" r="1.55"/><circle cx="160.5" cy="87.4" r="1.55"/><circle cx="228" cy="59" r="1.55"/><circle cx="113.3" cy="103.7" r="1.55"/><circle cx="139.3" cy="99.6" r="1.55"/><circle cx="151.2" cy="83.6" r="1.55"/><circle cx="110.7" cy="111.4" r="1.55"/><circle cx="139.4" cy="105.1" r="1.55"/><circle cx="86.4" cy="122" r="1.55"/><circle cx="121.6" cy="99" r="1.55"/><circle cx="78" cy="132.8" r="1.55"/><circle cx="105.8" cy="129.5" r="1.55"/><circle cx="193.2" cy="64.8" r="1.55"/><circle cx="129.1" cy="105.3" r="1.55"/><circle cx="176.9" cy="85" r="1.55"/><circle cx="145.8" cy="106.9" r="1.55"/><circle cx="161.8" cy="79.5" r="1.55"/><circle cx="101.2" cy="108.3" r="1.55"/><circle cx="151.3" cy="92.3" r="1.55"/><circle cx="118.9" cy="108" r="1.55"/><circle cx="47.2" cy="139.7" r="1.55"/><circle cx="109.1" cy="112.3" r="1.55"/><circle cx="163.3" cy="111.7" r="1.55"/><circle cx="153.2" cy="91.8" r="1.55"/><circle cx="92.5" cy="108.6" r="1.55"/><circle cx="81.7" cy="131" r="1.55"/><circle cx="210.9" cy="39" r="1.55"/><circle cx="134" cy="94.1" r="1.55"/><circle cx="124.1" cy="123.2" r="1.55"/><circle cx="174.4" cy="77.2" r="1.55"/><circle cx="209.9" cy="62.5" r="1.55"/><circle cx="129.6" cy="97.6" r="1.55"/><circle cx="143" cy="90.1" r="1.55"/><circle cx="208.6" cy="70.4" r="1.55"/><circle cx="188.8" cy="72.1" r="1.55"/><circle cx="86.1" cy="118.7" r="1.55"/><circle cx="160.9" cy="72.2" r="1.55"/><circle cx="141" cy="95.6" r="1.55"/><circle cx="136.3" cy="99.5" r="1.55"/><circle cx="171.7" cy="71.5" r="1.55"/><circle cx="97.3" cy="110.1" r="1.55"/><circle cx="75.8" cy="119.4" r="1.55"/><circle cx="149.3" cy="82.6" r="1.55"/><circle cx="138.6" cy="95.1" r="1.55"/><circle cx="223.7" cy="77.9" r="1.55"/><circle cx="64.3" cy="129.7" r="1.55"/><circle cx="186.2" cy="69.3" r="1.55"/><circle cx="195.9" cy="60.8" r="1.55"/><circle cx="91.8" cy="111.4" r="1.55"/><circle cx="223.7" cy="104.3" r="1.55"/><circle cx="144.3" cy="84.1" r="1.55"/><circle cx="103" cy="119.7" r="1.55"/><circle cx="253.2" cy="68.4" r="1.55"/><circle cx="101.6" cy="110.3" r="1.55"/><circle cx="116.3" cy="107.5" r="1.55"/><circle cx="49.8" cy="140.4" r="1.55"/><circle cx="149.6" cy="94.9" r="1.55"/><circle cx="73.7" cy="133" r="1.55"/><circle cx="142.3" cy="93.8" r="1.55"/><circle cx="133.3" cy="111.7" r="1.55"/><circle cx="161.8" cy="83.2" r="1.55"/><circle cx="159.8" cy="83" r="1.55"/><circle cx="143.5" cy="93.4" r="1.55"/><circle cx="193.1" cy="78.6" r="1.55"/><circle cx="75.5" cy="127.7" r="1.55"/><circle cx="111.4" cy="120.2" r="1.55"/><circle cx="206.4" cy="69.7" r="1.55"/><circle cx="178.3" cy="75.1" r="1.55"/><circle cx="145.2" cy="86.3" r="1.55"/><circle cx="143" cy="90.9" r="1.55"/><circle cx="162.2" cy="85" r="1.55"/><circle cx="157.9" cy="82.8" r="1.55"/><circle cx="128.8" cy="109" r="1.55"/><circle cx="113.9" cy="112.9" r="1.55"/><circle cx="160.6" cy="86.8" r="1.55"/><circle cx="130.8" cy="99.6" r="1.55"/><circle cx="185" cy="76.1" r="1.55"/><circle cx="129.4" cy="101.1" r="1.55"/><circle cx="84.6" cy="128.7" r="1.55"/><circle cx="137.1" cy="101" r="1.55"/><circle cx="133.1" cy="130.8" r="1.55"/><circle cx="153.8" cy="105.9" r="1.55"/><circle cx="220.2" cy="80.5" r="1.55"/><circle cx="179" cy="103.8" r="1.55"/><circle cx="217.7" cy="79.8" r="1.55"/><circle cx="195.6" cy="112.6" r="1.55"/><circle cx="186.5" cy="103.2" r="1.55"/><circle cx="202.1" cy="112.8" r="1.55"/><circle cx="132.7" cy="117.3" r="1.55"/><circle cx="130.6" cy="121.7" r="1.55"/><circle cx="244" cy="77.7" r="1.55"/><circle cx="214" cy="110" r="1.55"/><circle cx="152.5" cy="111.6" r="1.55"/><circle cx="214.3" cy="79.2" r="1.55"/><circle cx="242.5" cy="77.2" r="1.55"/><circle cx="231.8" cy="115.4" r="1.55"/><circle cx="208.1" cy="91.7" r="1.55"/><circle cx="193.9" cy="96" r="1.55"/><circle cx="205.8" cy="85.4" r="1.55"/><circle cx="152.4" cy="115.2" r="1.55"/><circle cx="184.4" cy="108.2" r="1.55"/><circle cx="236.5" cy="81.9" r="1.55"/><circle cx="105.8" cy="87.5" r="1.55"/><circle cx="91.3" cy="102.9" r="1.55"/><circle cx="62.7" cy="114.6" r="1.55"/><circle cx="125.6" cy="78.6" r="1.55"/><circle cx="99.4" cy="92.3" r="1.55"/><circle cx="135.1" cy="74.3" r="1.55"/><circle cx="95" cy="92.1" r="1.55"/></g>
<g fill="#ff8a14" fill-opacity="0.43"><circle cx="122.3" cy="90" r="2.05"/><circle cx="144.8" cy="90.4" r="2.05"/><circle cx="129.9" cy="92" r="2.05"/><circle cx="201.2" cy="61.2" r="2.05"/><circle cx="119.1" cy="123.5" r="2.05"/><circle cx="228.1" cy="54.6" r="2.05"/><circle cx="144.2" cy="84.2" r="2.05"/><circle cx="246.3" cy="53.8" r="2.05"/><circle cx="178.6" cy="73.5" r="2.05"/><circle cx="127" cy="117.7" r="2.05"/><circle cx="139.2" cy="94.1" r="2.05"/><circle cx="166.8" cy="90.1" r="2.05"/><circle cx="146.6" cy="97.1" r="2.05"/><circle cx="82.6" cy="123.3" r="2.05"/><circle cx="135.3" cy="100.8" r="2.05"/><circle cx="67.5" cy="135.9" r="2.05"/><circle cx="169.7" cy="75" r="2.05"/><circle cx="117.9" cy="101.7" r="2.05"/><circle cx="139.4" cy="101.1" r="2.05"/><circle cx="110.8" cy="126.1" r="2.05"/><circle cx="169.2" cy="72.7" r="2.05"/><circle cx="137.2" cy="111.8" r="2.05"/><circle cx="154.7" cy="78.5" r="2.05"/><circle cx="140.8" cy="83.1" r="2.05"/><circle cx="143.2" cy="93.3" r="2.05"/><circle cx="178.6" cy="75" r="2.05"/><circle cx="218.1" cy="56.3" r="2.05"/><circle cx="153.4" cy="87.1" r="2.05"/><circle cx="221.9" cy="72.5" r="2.05"/><circle cx="224" cy="52.4" r="2.05"/><circle cx="107.9" cy="107.3" r="2.05"/><circle cx="162.4" cy="86.3" r="2.05"/><circle cx="81.1" cy="121" r="2.05"/><circle cx="113.6" cy="109.2" r="2.05"/><circle cx="98.3" cy="118.3" r="2.05"/><circle cx="137.3" cy="92.3" r="2.05"/><circle cx="117.5" cy="117.5" r="2.05"/><circle cx="122.4" cy="109.9" r="2.05"/><circle cx="93.1" cy="118.1" r="2.05"/><circle cx="110.2" cy="114.7" r="2.05"/><circle cx="152.8" cy="83.2" r="2.05"/><circle cx="124.5" cy="108.7" r="2.05"/><circle cx="121.8" cy="140.9" r="2.05"/><circle cx="90.7" cy="120.3" r="2.05"/><circle cx="92.5" cy="126.8" r="2.05"/><circle cx="217.4" cy="54.6" r="2.05"/><circle cx="153.5" cy="86.4" r="2.05"/><circle cx="87.9" cy="117.3" r="2.05"/><circle cx="166.1" cy="75.4" r="2.05"/><circle cx="159.4" cy="82.4" r="2.05"/><circle cx="121.3" cy="108.1" r="2.05"/><circle cx="171.7" cy="70.5" r="2.05"/><circle cx="192.2" cy="70" r="2.05"/><circle cx="113.1" cy="126.6" r="2.05"/><circle cx="147.5" cy="97.9" r="2.05"/><circle cx="174.1" cy="67.6" r="2.05"/><circle cx="123.7" cy="104.8" r="2.05"/><circle cx="147.4" cy="93.3" r="2.05"/><circle cx="119.6" cy="112.5" r="2.05"/><circle cx="162.6" cy="78.3" r="2.05"/><circle cx="84.9" cy="122.3" r="2.05"/><circle cx="94.1" cy="113" r="2.05"/><circle cx="143.4" cy="92.2" r="2.05"/><circle cx="87.2" cy="123.8" r="2.05"/><circle cx="183.1" cy="67.6" r="2.05"/><circle cx="144.9" cy="129.5" r="2.05"/><circle cx="117.2" cy="112.2" r="2.05"/><circle cx="95.2" cy="116.9" r="2.05"/><circle cx="140.3" cy="90.9" r="2.05"/><circle cx="108.9" cy="105.6" r="2.05"/><circle cx="244.9" cy="51.2" r="2.05"/><circle cx="123.1" cy="104" r="2.05"/><circle cx="109.4" cy="108" r="2.05"/><circle cx="144.8" cy="93" r="2.05"/><circle cx="206.3" cy="64.9" r="2.05"/><circle cx="182.2" cy="68.6" r="2.05"/><circle cx="128.8" cy="116.6" r="2.05"/><circle cx="138.1" cy="97" r="2.05"/><circle cx="131.4" cy="94.1" r="2.05"/><circle cx="167.9" cy="78.2" r="2.05"/><circle cx="135.3" cy="98.9" r="2.05"/><circle cx="66.1" cy="124.7" r="2.05"/><circle cx="106.5" cy="111.7" r="2.05"/><circle cx="128" cy="97.9" r="2.05"/><circle cx="208.8" cy="65.4" r="2.05"/><circle cx="100.5" cy="117.1" r="2.05"/><circle cx="160.1" cy="88.6" r="2.05"/><circle cx="147.1" cy="85.5" r="2.05"/><circle cx="198.3" cy="60.8" r="2.05"/><circle cx="165.9" cy="75.3" r="2.05"/><circle cx="129.9" cy="98.2" r="2.05"/><circle cx="137.6" cy="93.7" r="2.05"/><circle cx="190.9" cy="70.2" r="2.05"/><circle cx="139.9" cy="89.1" r="2.05"/><circle cx="119.5" cy="105.6" r="2.05"/><circle cx="177.9" cy="83.4" r="2.05"/><circle cx="163.7" cy="77.2" r="2.05"/><circle cx="158.8" cy="80.3" r="2.05"/><circle cx="106.4" cy="106.7" r="2.05"/><circle cx="115.5" cy="107.1" r="2.05"/><circle cx="101.5" cy="115.1" r="2.05"/><circle cx="144.9" cy="90.9" r="2.05"/><circle cx="137.3" cy="94.8" r="2.05"/><circle cx="209.3" cy="66.3" r="2.05"/><circle cx="136.2" cy="98.1" r="2.05"/><circle cx="90.8" cy="122.9" r="2.05"/><circle cx="142.9" cy="82.9" r="2.05"/><circle cx="137.8" cy="106.9" r="2.05"/><circle cx="146.4" cy="100.7" r="2.05"/><circle cx="121.3" cy="111.6" r="2.05"/><circle cx="129.8" cy="99.1" r="2.05"/><circle cx="96.9" cy="119.5" r="2.05"/><circle cx="116.5" cy="99.4" r="2.05"/><circle cx="148.6" cy="86.2" r="2.05"/><circle cx="180.4" cy="83.2" r="2.05"/><circle cx="132.9" cy="97.3" r="2.05"/><circle cx="155.4" cy="83.8" r="2.05"/><circle cx="211.3" cy="66" r="2.05"/><circle cx="53.4" cy="136.4" r="2.05"/><circle cx="51.1" cy="136.4" r="2.05"/><circle cx="183.9" cy="77.7" r="2.05"/><circle cx="95.4" cy="117.5" r="2.05"/><circle cx="137.7" cy="94.2" r="2.05"/><circle cx="141.9" cy="95.1" r="2.05"/><circle cx="146" cy="102.6" r="2.05"/><circle cx="145.6" cy="122.8" r="2.05"/><circle cx="162.8" cy="79.2" r="2.05"/><circle cx="172" cy="82.8" r="2.05"/><circle cx="113.7" cy="103" r="2.05"/><circle cx="202.9" cy="44.8" r="2.05"/><circle cx="94.8" cy="110.2" r="2.05"/><circle cx="133.9" cy="101.7" r="2.05"/><circle cx="218.2" cy="66.9" r="2.05"/><circle cx="65.4" cy="131.4" r="2.05"/><circle cx="151.1" cy="85.9" r="2.05"/><circle cx="158.7" cy="87" r="2.05"/><circle cx="124" cy="106.8" r="2.05"/><circle cx="150" cy="100.9" r="2.05"/><circle cx="65.3" cy="133.3" r="2.05"/><circle cx="81.8" cy="118.2" r="2.05"/><circle cx="197.1" cy="60.9" r="2.05"/><circle cx="215.5" cy="57.7" r="2.05"/><circle cx="126.4" cy="102.1" r="2.05"/><circle cx="168.6" cy="80.4" r="2.05"/><circle cx="89.1" cy="111.4" r="2.05"/><circle cx="170.3" cy="77.8" r="2.05"/><circle cx="141" cy="93.6" r="2.05"/><circle cx="153.1" cy="65.7" r="2.05"/><circle cx="147.1" cy="89.5" r="2.05"/><circle cx="131.6" cy="99.9" r="2.05"/><circle cx="133.8" cy="99.7" r="2.05"/><circle cx="180" cy="68.9" r="2.05"/><circle cx="91.8" cy="120.2" r="2.05"/><circle cx="182.1" cy="74.9" r="2.05"/><circle cx="195.8" cy="63.1" r="2.05"/><circle cx="79.9" cy="114" r="2.05"/><circle cx="58.3" cy="124.1" r="2.05"/><circle cx="137.9" cy="102.7" r="2.05"/><circle cx="146.3" cy="86.8" r="2.05"/><circle cx="248.6" cy="51.5" r="2.05"/><circle cx="107.2" cy="107.4" r="2.05"/><circle cx="148.6" cy="102.7" r="2.05"/><circle cx="182.3" cy="73.7" r="2.05"/><circle cx="111" cy="99.9" r="2.05"/><circle cx="72" cy="126" r="2.05"/><circle cx="110.4" cy="150.6" r="2.05"/><circle cx="180.5" cy="69.8" r="2.05"/><circle cx="222.3" cy="56.8" r="2.05"/><circle cx="221.7" cy="59.2" r="2.05"/><circle cx="154.6" cy="85.7" r="2.05"/><circle cx="184.9" cy="73.1" r="2.05"/><circle cx="105.6" cy="101.9" r="2.05"/><circle cx="76.5" cy="125.6" r="2.05"/><circle cx="99" cy="128.5" r="2.05"/><circle cx="139.7" cy="101.6" r="2.05"/><circle cx="137.8" cy="88.9" r="2.05"/><circle cx="121.7" cy="99.3" r="2.05"/><circle cx="126.7" cy="94.5" r="2.05"/><circle cx="89.5" cy="122.5" r="2.05"/><circle cx="71.8" cy="123.3" r="2.05"/><circle cx="160.6" cy="78.6" r="2.05"/><circle cx="161" cy="81.6" r="2.05"/><circle cx="231.2" cy="52.7" r="2.05"/><circle cx="141.5" cy="83.5" r="2.05"/><circle cx="65.7" cy="122.5" r="2.05"/><circle cx="102.5" cy="111.3" r="2.05"/><circle cx="100.1" cy="110.3" r="2.05"/><circle cx="150" cy="93.2" r="2.05"/><circle cx="48.5" cy="138.7" r="2.05"/><circle cx="128.8" cy="96.9" r="2.05"/><circle cx="158.6" cy="76.9" r="2.05"/><circle cx="122.5" cy="101.8" r="2.05"/><circle cx="198.3" cy="62" r="2.05"/><circle cx="86.3" cy="120.7" r="2.05"/><circle cx="119.1" cy="113.2" r="2.05"/><circle cx="151.1" cy="85.9" r="2.05"/><circle cx="55.5" cy="131.7" r="2.05"/><circle cx="109" cy="117.5" r="2.05"/><circle cx="109.9" cy="113" r="2.05"/><circle cx="129.7" cy="99.3" r="2.05"/><circle cx="127.6" cy="117" r="2.05"/><circle cx="134.8" cy="96.6" r="2.05"/><circle cx="147.9" cy="94.9" r="2.05"/><circle cx="239" cy="50" r="2.05"/><circle cx="169.8" cy="80.7" r="2.05"/><circle cx="168.4" cy="75.8" r="2.05"/><circle cx="147.9" cy="95.7" r="2.05"/><circle cx="132.7" cy="94.5" r="2.05"/><circle cx="147.1" cy="88.1" r="2.05"/><circle cx="166.6" cy="71.4" r="2.05"/><circle cx="166.1" cy="86.6" r="2.05"/><circle cx="100.2" cy="150.4" r="2.05"/><circle cx="135.2" cy="90.6" r="2.05"/><circle cx="153.2" cy="78.7" r="2.05"/><circle cx="141.2" cy="100.4" r="2.05"/><circle cx="140.3" cy="91.8" r="2.05"/><circle cx="193.4" cy="64.6" r="2.05"/><circle cx="124.6" cy="96.8" r="2.05"/><circle cx="141.2" cy="92.8" r="2.05"/><circle cx="81" cy="129.4" r="2.05"/><circle cx="115.8" cy="123.1" r="2.05"/><circle cx="102.7" cy="104.7" r="2.05"/><circle cx="158.7" cy="80" r="2.05"/><circle cx="232.7" cy="51.4" r="2.05"/><circle cx="130.1" cy="100.8" r="2.05"/><circle cx="138.1" cy="96.1" r="2.05"/><circle cx="211.7" cy="62" r="2.05"/><circle cx="140.6" cy="97.4" r="2.05"/><circle cx="142.8" cy="93.6" r="2.05"/><circle cx="87.4" cy="124.7" r="2.05"/><circle cx="194" cy="69.5" r="2.05"/><circle cx="134.9" cy="87.4" r="2.05"/><circle cx="145.7" cy="90.7" r="2.05"/><circle cx="108.7" cy="115.8" r="2.05"/><circle cx="73.2" cy="120.4" r="2.05"/><circle cx="136.7" cy="90.8" r="2.05"/><circle cx="181.2" cy="72.8" r="2.05"/><circle cx="122.9" cy="110.1" r="2.05"/><circle cx="147.6" cy="78.5" r="2.05"/><circle cx="111.9" cy="103.4" r="2.05"/><circle cx="139.9" cy="96.4" r="2.05"/><circle cx="122" cy="97.9" r="2.05"/><circle cx="196.2" cy="70.1" r="2.05"/><circle cx="165.2" cy="81.5" r="2.05"/><circle cx="212.1" cy="62.8" r="2.05"/><circle cx="200.2" cy="64.6" r="2.05"/><circle cx="136" cy="97.4" r="2.05"/><circle cx="128.6" cy="94.6" r="2.05"/><circle cx="144.6" cy="92.7" r="2.05"/><circle cx="146.9" cy="88.3" r="2.05"/><circle cx="190.1" cy="69.3" r="2.05"/><circle cx="163.6" cy="80.2" r="2.05"/><circle cx="106" cy="114.7" r="2.05"/><circle cx="63.4" cy="131.4" r="2.05"/><circle cx="170.9" cy="72.1" r="2.05"/><circle cx="56.2" cy="131.9" r="2.05"/><circle cx="143.4" cy="101.9" r="2.05"/><circle cx="109.5" cy="111.3" r="2.05"/><circle cx="131.2" cy="107.4" r="2.05"/><circle cx="196.8" cy="69.4" r="2.05"/><circle cx="152.9" cy="89.1" r="2.05"/><circle cx="193" cy="78.2" r="2.05"/><circle cx="160.5" cy="78.6" r="2.05"/><circle cx="125.6" cy="94" r="2.05"/><circle cx="65.1" cy="129.3" r="2.05"/><circle cx="223.2" cy="61.1" r="2.05"/><circle cx="62.7" cy="130.3" r="2.05"/><circle cx="134.1" cy="103.9" r="2.05"/><circle cx="103.5" cy="103.6" r="2.05"/><circle cx="158.9" cy="74.1" r="2.05"/><circle cx="209.9" cy="71.5" r="2.05"/><circle cx="157.4" cy="82.6" r="2.05"/><circle cx="121.8" cy="103.5" r="2.05"/><circle cx="193.3" cy="67.4" r="2.05"/><circle cx="142.3" cy="93.8" r="2.05"/><circle cx="159.7" cy="95.8" r="2.05"/><circle cx="125.4" cy="102.2" r="2.05"/><circle cx="141.6" cy="94.7" r="2.05"/><circle cx="176.4" cy="75.9" r="2.05"/><circle cx="132.5" cy="98.5" r="2.05"/><circle cx="173.4" cy="80.7" r="2.05"/><circle cx="51.4" cy="122.4" r="2.05"/><circle cx="119.6" cy="132.5" r="2.05"/><circle cx="80.8" cy="132.9" r="2.05"/><circle cx="105.1" cy="116.9" r="2.05"/><circle cx="137.2" cy="96.3" r="2.05"/><circle cx="160.6" cy="76.4" r="2.05"/><circle cx="67.3" cy="129.7" r="2.05"/><circle cx="152.5" cy="90.1" r="2.05"/><circle cx="108" cy="121.7" r="2.05"/><circle cx="137.2" cy="91" r="2.05"/><circle cx="213.8" cy="63.2" r="2.05"/><circle cx="177.7" cy="72.3" r="2.05"/><circle cx="120.1" cy="107.3" r="2.05"/><circle cx="80.3" cy="128.1" r="2.05"/><circle cx="84.4" cy="122.1" r="2.05"/><circle cx="139.4" cy="108.3" r="2.05"/><circle cx="138.4" cy="84.7" r="2.05"/><circle cx="73.8" cy="131.1" r="2.05"/><circle cx="222.1" cy="56.9" r="2.05"/><circle cx="133.2" cy="96.1" r="2.05"/><circle cx="73.3" cy="107.6" r="2.05"/><circle cx="104.1" cy="110.4" r="2.05"/><circle cx="117.8" cy="102.4" r="2.05"/><circle cx="137" cy="97.8" r="2.05"/><circle cx="165.6" cy="80.8" r="2.05"/><circle cx="138.4" cy="95" r="2.05"/><circle cx="164.6" cy="75.6" r="2.05"/><circle cx="132.2" cy="102.4" r="2.05"/><circle cx="127.4" cy="97.4" r="2.05"/><circle cx="126.4" cy="105.2" r="2.05"/><circle cx="130.4" cy="106.7" r="2.05"/><circle cx="73" cy="131.2" r="2.05"/><circle cx="152.8" cy="87.7" r="2.05"/><circle cx="145" cy="84.6" r="2.05"/><circle cx="133.3" cy="93.7" r="2.05"/><circle cx="122.9" cy="98.7" r="2.05"/><circle cx="199.2" cy="71.3" r="2.05"/><circle cx="133.5" cy="98" r="2.05"/><circle cx="234.6" cy="53.1" r="2.05"/><circle cx="114.6" cy="114.3" r="2.05"/><circle cx="66.3" cy="129" r="2.05"/><circle cx="111.2" cy="110" r="2.05"/><circle cx="116.2" cy="104.4" r="2.05"/><circle cx="58.7" cy="142.8" r="2.05"/><circle cx="136.3" cy="104.3" r="2.05"/><circle cx="66.5" cy="109.9" r="2.05"/><circle cx="174.3" cy="75.7" r="2.05"/><circle cx="86.7" cy="121.2" r="2.05"/><circle cx="154.1" cy="75.6" r="2.05"/><circle cx="87.4" cy="116.2" r="2.05"/><circle cx="89.9" cy="117.2" r="2.05"/><circle cx="162.9" cy="106" r="2.05"/><circle cx="164.6" cy="77.2" r="2.05"/><circle cx="172.2" cy="76.1" r="2.05"/><circle cx="124.2" cy="104.3" r="2.05"/><circle cx="149" cy="83.1" r="2.05"/><circle cx="107.6" cy="107.5" r="2.05"/><circle cx="128.2" cy="98.1" r="2.05"/><circle cx="159.7" cy="86.1" r="2.05"/><circle cx="128.7" cy="105.7" r="2.05"/><circle cx="168.1" cy="74.4" r="2.05"/><circle cx="138.5" cy="93.8" r="2.05"/><circle cx="171.5" cy="81.6" r="2.05"/><circle cx="160" cy="81.5" r="2.05"/><circle cx="58.2" cy="133.4" r="2.05"/><circle cx="191.8" cy="71.8" r="2.05"/><circle cx="136.7" cy="96.5" r="2.05"/><circle cx="86.7" cy="113.6" r="2.05"/><circle cx="131.3" cy="97.4" r="2.05"/><circle cx="158" cy="87" r="2.05"/><circle cx="118" cy="108.3" r="2.05"/><circle cx="155.8" cy="83.5" r="2.05"/><circle cx="126.3" cy="105.4" r="2.05"/><circle cx="143.9" cy="91.1" r="2.05"/><circle cx="181.1" cy="73.6" r="2.05"/><circle cx="136" cy="101.3" r="2.05"/><circle cx="154.3" cy="95" r="2.05"/><circle cx="133.1" cy="120.1" r="2.05"/><circle cx="122.4" cy="103.1" r="2.05"/><circle cx="122.3" cy="103.3" r="2.05"/><circle cx="139.2" cy="83.5" r="2.05"/><circle cx="195.4" cy="67.1" r="2.05"/><circle cx="124.7" cy="102.5" r="2.05"/><circle cx="224" cy="56" r="2.05"/><circle cx="81.6" cy="124.6" r="2.05"/><circle cx="139.7" cy="79.3" r="2.05"/><circle cx="127.5" cy="103" r="2.05"/><circle cx="198.1" cy="69.3" r="2.05"/><circle cx="92.7" cy="119.6" r="2.05"/><circle cx="150.3" cy="83.2" r="2.05"/><circle cx="156" cy="87" r="2.05"/><circle cx="149.7" cy="94.6" r="2.05"/><circle cx="70.4" cy="126" r="2.05"/><circle cx="139.4" cy="84.2" r="2.05"/><circle cx="151.9" cy="88.7" r="2.05"/><circle cx="118.1" cy="102.7" r="2.05"/><circle cx="128.9" cy="105.5" r="2.05"/><circle cx="116.2" cy="94.4" r="2.05"/><circle cx="190.2" cy="73.6" r="2.05"/><circle cx="161.2" cy="83.4" r="2.05"/><circle cx="131.2" cy="100.6" r="2.05"/><circle cx="139.1" cy="98.2" r="2.05"/><circle cx="155.7" cy="85.3" r="2.05"/><circle cx="166.7" cy="77" r="2.05"/><circle cx="160.2" cy="89.7" r="2.05"/><circle cx="108.9" cy="102.5" r="2.05"/><circle cx="121.6" cy="101.6" r="2.05"/><circle cx="114.6" cy="106.3" r="2.05"/><circle cx="160.3" cy="85.8" r="2.05"/><circle cx="161.8" cy="82.5" r="2.05"/><circle cx="133.3" cy="94.4" r="2.05"/><circle cx="133" cy="102" r="2.05"/><circle cx="162.7" cy="84.3" r="2.05"/><circle cx="91.5" cy="121.6" r="2.05"/><circle cx="130.7" cy="110.3" r="2.05"/><circle cx="155.7" cy="82.5" r="2.05"/><circle cx="194.8" cy="70.6" r="2.05"/><circle cx="111.5" cy="102.3" r="2.05"/><circle cx="148.8" cy="122" r="2.05"/><circle cx="87.2" cy="123.3" r="2.05"/><circle cx="107.7" cy="110.5" r="2.05"/><circle cx="146.5" cy="98.8" r="2.05"/><circle cx="111.1" cy="117.5" r="2.05"/><circle cx="142.5" cy="95.2" r="2.05"/><circle cx="112" cy="108.7" r="2.05"/><circle cx="125.9" cy="109.7" r="2.05"/><circle cx="153.8" cy="83.8" r="2.05"/><circle cx="112.5" cy="124.1" r="2.05"/><circle cx="172" cy="76.1" r="2.05"/><circle cx="159.8" cy="74.8" r="2.05"/><circle cx="77" cy="121.5" r="2.05"/><circle cx="164.6" cy="72.3" r="2.05"/><circle cx="102" cy="114.8" r="2.05"/><circle cx="168.8" cy="82.3" r="2.05"/><circle cx="145.3" cy="86.6" r="2.05"/><circle cx="137.9" cy="96.6" r="2.05"/><circle cx="106.4" cy="108.7" r="2.05"/><circle cx="132.7" cy="102.1" r="2.05"/><circle cx="120.8" cy="102.7" r="2.05"/><circle cx="182.1" cy="71.5" r="2.05"/><circle cx="155.2" cy="104.2" r="2.05"/><circle cx="90.5" cy="119.3" r="2.05"/><circle cx="134.1" cy="95.3" r="2.05"/><circle cx="143.8" cy="89.8" r="2.05"/><circle cx="127.1" cy="98" r="2.05"/><circle cx="145.1" cy="86.1" r="2.05"/><circle cx="147.2" cy="90.2" r="2.05"/><circle cx="222.6" cy="60.6" r="2.05"/><circle cx="189.8" cy="68.6" r="2.05"/><circle cx="143.8" cy="83.5" r="2.05"/><circle cx="120.1" cy="105.9" r="2.05"/><circle cx="117.7" cy="92.9" r="2.05"/><circle cx="113.6" cy="108.5" r="2.05"/><circle cx="151.3" cy="100.2" r="2.05"/><circle cx="144.1" cy="99.3" r="2.05"/><circle cx="94.1" cy="124.4" r="2.05"/><circle cx="141.4" cy="82.6" r="2.05"/><circle cx="168.4" cy="78.5" r="2.05"/><circle cx="108.5" cy="112.5" r="2.05"/><circle cx="157.1" cy="83.8" r="2.05"/><circle cx="160.8" cy="77" r="2.05"/><circle cx="131.3" cy="99.3" r="2.05"/><circle cx="138.5" cy="97.8" r="2.05"/><circle cx="124.9" cy="100.8" r="2.05"/><circle cx="139.2" cy="97.9" r="2.05"/><circle cx="113.8" cy="105.7" r="2.05"/><circle cx="68.7" cy="125.4" r="2.05"/><circle cx="135" cy="95.4" r="2.05"/><circle cx="133.9" cy="99.3" r="2.05"/><circle cx="108.4" cy="109.9" r="2.05"/><circle cx="140.5" cy="99.4" r="2.05"/><circle cx="181.9" cy="59.8" r="2.05"/><circle cx="153.8" cy="66" r="2.05"/><circle cx="181.9" cy="72.9" r="2.05"/><circle cx="103.2" cy="121" r="2.05"/><circle cx="143.6" cy="94.7" r="2.05"/><circle cx="57.8" cy="138.4" r="2.05"/><circle cx="221.9" cy="101.1" r="2.05"/><circle cx="73" cy="127.7" r="2.05"/><circle cx="174" cy="93.6" r="2.05"/><circle cx="126.1" cy="107" r="2.05"/><circle cx="80.1" cy="114.4" r="2.05"/><circle cx="127" cy="100.9" r="2.05"/><circle cx="132.3" cy="102.3" r="2.05"/><circle cx="201.4" cy="61.5" r="2.05"/><circle cx="178.4" cy="85.3" r="2.05"/><circle cx="110.6" cy="110.7" r="2.05"/><circle cx="145.8" cy="94.1" r="2.05"/><circle cx="168.2" cy="77.8" r="2.05"/><circle cx="138.9" cy="95.8" r="2.05"/><circle cx="113.1" cy="110.4" r="2.05"/><circle cx="160.9" cy="91.1" r="2.05"/><circle cx="80.2" cy="121.9" r="2.05"/><circle cx="141.7" cy="92.2" r="2.05"/><circle cx="167" cy="75.2" r="2.05"/><circle cx="148.3" cy="93.5" r="2.05"/><circle cx="178.4" cy="82" r="2.05"/><circle cx="136.2" cy="82.1" r="2.05"/><circle cx="179.4" cy="74" r="2.05"/><circle cx="143.3" cy="101" r="2.05"/><circle cx="57.7" cy="127.3" r="2.05"/><circle cx="187.6" cy="71.4" r="2.05"/><circle cx="69.9" cy="123.4" r="2.05"/><circle cx="245" cy="50" r="2.05"/><circle cx="101.4" cy="108.4" r="2.05"/><circle cx="170.2" cy="67.7" r="2.05"/><circle cx="184" cy="71.7" r="2.05"/><circle cx="147.2" cy="86.8" r="2.05"/><circle cx="130.1" cy="110.7" r="2.05"/><circle cx="92.6" cy="137.3" r="2.05"/><circle cx="150.2" cy="88.7" r="2.05"/><circle cx="152.2" cy="70.9" r="2.05"/><circle cx="139.6" cy="97.6" r="2.05"/><circle cx="116.8" cy="107.6" r="2.05"/><circle cx="203.7" cy="61.4" r="2.05"/><circle cx="75.4" cy="128.1" r="2.05"/><circle cx="138.2" cy="100.3" r="2.05"/><circle cx="123.8" cy="119.5" r="2.05"/><circle cx="125.1" cy="99" r="2.05"/><circle cx="110.3" cy="113.9" r="2.05"/><circle cx="159.5" cy="80.3" r="2.05"/><circle cx="225.1" cy="55.4" r="2.05"/><circle cx="81.5" cy="127.1" r="2.05"/><circle cx="138.3" cy="91.3" r="2.05"/><circle cx="177.6" cy="93.1" r="2.05"/><circle cx="176.9" cy="75.6" r="2.05"/><circle cx="53.6" cy="138.8" r="2.05"/><circle cx="168.1" cy="77.1" r="2.05"/><circle cx="129" cy="98.5" r="2.05"/><circle cx="153.5" cy="85.6" r="2.05"/><circle cx="113.5" cy="102.6" r="2.05"/><circle cx="143.2" cy="94.8" r="2.05"/><circle cx="156.8" cy="90.3" r="2.05"/><circle cx="131.2" cy="104" r="2.05"/><circle cx="114.6" cy="98.9" r="2.05"/><circle cx="148.3" cy="93.5" r="2.05"/><circle cx="128.6" cy="101.8" r="2.05"/><circle cx="165.1" cy="79.1" r="2.05"/><circle cx="225.2" cy="57.7" r="2.05"/><circle cx="144.8" cy="95.3" r="2.05"/><circle cx="183.8" cy="80.6" r="2.05"/><circle cx="146.3" cy="86.8" r="2.05"/><circle cx="139.8" cy="96.6" r="2.05"/><circle cx="87" cy="134.4" r="2.05"/><circle cx="191.4" cy="71.6" r="2.05"/><circle cx="112.7" cy="108.1" r="2.05"/><circle cx="132.7" cy="115" r="2.05"/><circle cx="144.4" cy="91.1" r="2.05"/><circle cx="128.2" cy="100.5" r="2.05"/><circle cx="151.1" cy="84" r="2.05"/><circle cx="72.7" cy="127.2" r="2.05"/><circle cx="127.5" cy="104.9" r="2.05"/><circle cx="202.1" cy="105.7" r="2.05"/><circle cx="115.2" cy="116" r="2.05"/><circle cx="103.8" cy="117.1" r="2.05"/><circle cx="101.3" cy="100.8" r="2.05"/><circle cx="139" cy="95.9" r="2.05"/><circle cx="91.6" cy="115" r="2.05"/><circle cx="80.3" cy="123.5" r="2.05"/><circle cx="79.4" cy="139.2" r="2.05"/><circle cx="148.5" cy="86.3" r="2.05"/><circle cx="124.3" cy="106.6" r="2.05"/><circle cx="213.2" cy="66.1" r="2.05"/><circle cx="179.9" cy="72.4" r="2.05"/><circle cx="186.9" cy="66.3" r="2.05"/><circle cx="78.6" cy="125" r="2.05"/><circle cx="152" cy="88.4" r="2.05"/><circle cx="183.8" cy="74.8" r="2.05"/><circle cx="78.4" cy="135.2" r="2.05"/><circle cx="63.2" cy="127.8" r="2.05"/><circle cx="174.4" cy="75.7" r="2.05"/><circle cx="112.8" cy="106.6" r="2.05"/><circle cx="135.5" cy="92" r="2.05"/><circle cx="77.2" cy="150.2" r="2.05"/><circle cx="158.6" cy="82.4" r="2.05"/><circle cx="135.6" cy="92" r="2.05"/><circle cx="163.3" cy="79.7" r="2.05"/><circle cx="80.8" cy="136.3" r="2.05"/><circle cx="138.1" cy="102.1" r="2.05"/><circle cx="156.6" cy="79.1" r="2.05"/><circle cx="151.3" cy="84.3" r="2.05"/><circle cx="94" cy="115.5" r="2.05"/><circle cx="191.1" cy="73.6" r="2.05"/><circle cx="152.4" cy="86" r="2.05"/><circle cx="138.4" cy="83" r="2.05"/><circle cx="184.6" cy="71.9" r="2.05"/><circle cx="115.5" cy="101.7" r="2.05"/><circle cx="65.3" cy="119.2" r="2.05"/><circle cx="169.5" cy="71.6" r="2.05"/><circle cx="147.1" cy="92.8" r="2.05"/><circle cx="128.6" cy="106.1" r="2.05"/><circle cx="152.7" cy="89.5" r="2.05"/><circle cx="130.7" cy="94.9" r="2.05"/><circle cx="231.6" cy="46.3" r="2.05"/><circle cx="94.1" cy="121.3" r="2.05"/><circle cx="105.3" cy="139.4" r="2.05"/><circle cx="82.6" cy="122.2" r="2.05"/><circle cx="144.1" cy="86.7" r="2.05"/><circle cx="180" cy="72.9" r="2.05"/><circle cx="184.9" cy="69.5" r="2.05"/><circle cx="234.7" cy="50.9" r="2.05"/><circle cx="132.8" cy="96" r="2.05"/><circle cx="106" cy="118.9" r="2.05"/><circle cx="188.6" cy="68.5" r="2.05"/><circle cx="114.7" cy="101.7" r="2.05"/><circle cx="250.3" cy="49.6" r="2.05"/><circle cx="210.1" cy="55.9" r="2.05"/><circle cx="167.9" cy="83.4" r="2.05"/><circle cx="129.5" cy="103.4" r="2.05"/><circle cx="116.9" cy="109.6" r="2.05"/><circle cx="142.9" cy="83.6" r="2.05"/><circle cx="110.4" cy="100.4" r="2.05"/><circle cx="118.4" cy="108.5" r="2.05"/><circle cx="122.4" cy="103.3" r="2.05"/><circle cx="179.3" cy="76.1" r="2.05"/><circle cx="107.5" cy="116.2" r="2.05"/><circle cx="97" cy="119.1" r="2.05"/><circle cx="165.1" cy="78" r="2.05"/><circle cx="164.9" cy="78.5" r="2.05"/><circle cx="177.8" cy="77.8" r="2.05"/><circle cx="148.8" cy="89.1" r="2.05"/><circle cx="145.8" cy="87.7" r="2.05"/><circle cx="124.4" cy="97.2" r="2.05"/><circle cx="72.7" cy="126.1" r="2.05"/><circle cx="168.7" cy="107.6" r="2.05"/><circle cx="112.1" cy="114.8" r="2.05"/><circle cx="211.5" cy="61.3" r="2.05"/><circle cx="244.6" cy="52.1" r="2.05"/><circle cx="100.5" cy="119.2" r="2.05"/><circle cx="189.6" cy="72.6" r="2.05"/><circle cx="76.8" cy="127.6" r="2.05"/><circle cx="192.5" cy="68.1" r="2.05"/><circle cx="144.1" cy="86.3" r="2.05"/><circle cx="98.3" cy="133.9" r="2.05"/><circle cx="89.4" cy="112.2" r="2.05"/><circle cx="119.9" cy="86.5" r="2.05"/><circle cx="133.3" cy="99" r="2.05"/><circle cx="192.8" cy="66.2" r="2.05"/><circle cx="132.9" cy="92.3" r="2.05"/><circle cx="143.1" cy="96" r="2.05"/><circle cx="95.1" cy="119.2" r="2.05"/><circle cx="165.4" cy="85.7" r="2.05"/><circle cx="142.2" cy="96.9" r="2.05"/><circle cx="189.3" cy="64.3" r="2.05"/><circle cx="142" cy="93.9" r="2.05"/><circle cx="143.3" cy="91.9" r="2.05"/><circle cx="101.7" cy="113.3" r="2.05"/><circle cx="136.4" cy="97.1" r="2.05"/><circle cx="131.4" cy="93" r="2.05"/><circle cx="112.5" cy="109.1" r="2.05"/><circle cx="95.9" cy="123.6" r="2.05"/><circle cx="103.2" cy="124.5" r="2.05"/><circle cx="131.9" cy="118.9" r="2.05"/><circle cx="212.3" cy="59.9" r="2.05"/><circle cx="148.5" cy="87.9" r="2.05"/><circle cx="143.9" cy="90.8" r="2.05"/><circle cx="90.4" cy="122.5" r="2.05"/><circle cx="61.9" cy="129" r="2.05"/><circle cx="132.4" cy="94.7" r="2.05"/><circle cx="148.9" cy="93.7" r="2.05"/><circle cx="160.5" cy="79.5" r="2.05"/><circle cx="150.4" cy="84.7" r="2.05"/><circle cx="194.6" cy="86.8" r="2.05"/><circle cx="200" cy="56.9" r="2.05"/><circle cx="181.2" cy="73.2" r="2.05"/><circle cx="57.2" cy="136.4" r="2.05"/><circle cx="171.4" cy="73.9" r="2.05"/><circle cx="150.8" cy="81" r="2.05"/><circle cx="80" cy="133.6" r="2.05"/><circle cx="149.7" cy="88.8" r="2.05"/><circle cx="232" cy="48.7" r="2.05"/><circle cx="161.2" cy="80" r="2.05"/><circle cx="151.1" cy="83.8" r="2.05"/><circle cx="215.9" cy="50.2" r="2.05"/><circle cx="133.6" cy="104.8" r="2.05"/><circle cx="115.5" cy="101.1" r="2.05"/><circle cx="106.1" cy="125.1" r="2.05"/><circle cx="106.1" cy="115.1" r="2.05"/><circle cx="54" cy="138.8" r="2.05"/><circle cx="209.4" cy="60.4" r="2.05"/><circle cx="151.2" cy="94.1" r="2.05"/><circle cx="102.7" cy="112.3" r="2.05"/><circle cx="87.2" cy="133.2" r="2.05"/><circle cx="101.4" cy="105.9" r="2.05"/><circle cx="196.1" cy="69.1" r="2.05"/><circle cx="151.7" cy="87.6" r="2.05"/><circle cx="92.8" cy="122.4" r="2.05"/><circle cx="81.7" cy="128" r="2.05"/><circle cx="154.8" cy="74.6" r="2.05"/><circle cx="70.7" cy="126.3" r="2.05"/><circle cx="116.9" cy="116" r="2.05"/><circle cx="148" cy="91.5" r="2.05"/><circle cx="132.3" cy="109.7" r="2.05"/><circle cx="56.2" cy="129.2" r="2.05"/><circle cx="98.7" cy="115.4" r="2.05"/><circle cx="199.4" cy="64.1" r="2.05"/><circle cx="75.1" cy="122.2" r="2.05"/><circle cx="176.4" cy="66.1" r="2.05"/><circle cx="98.9" cy="112.3" r="2.05"/><circle cx="148.2" cy="98.5" r="2.05"/><circle cx="79.6" cy="127.9" r="2.05"/><circle cx="143.9" cy="85.2" r="2.05"/><circle cx="213.2" cy="57.9" r="2.05"/><circle cx="122.7" cy="143.6" r="2.05"/><circle cx="94.5" cy="119" r="2.05"/><circle cx="160.1" cy="84.8" r="2.05"/><circle cx="127.3" cy="102.4" r="2.05"/><circle cx="136.1" cy="91.1" r="2.05"/><circle cx="119.4" cy="99.4" r="2.05"/><circle cx="121.3" cy="98.8" r="2.05"/><circle cx="110.2" cy="117" r="2.05"/><circle cx="150.6" cy="85.6" r="2.05"/><circle cx="79" cy="125.2" r="2.05"/><circle cx="242.6" cy="55.1" r="2.05"/><circle cx="87.6" cy="116.9" r="2.05"/><circle cx="153.2" cy="91.7" r="2.05"/><circle cx="203.6" cy="69" r="2.05"/><circle cx="141.4" cy="87" r="2.05"/><circle cx="116.3" cy="103.1" r="2.05"/><circle cx="170.1" cy="74.9" r="2.05"/><circle cx="181.6" cy="65" r="2.05"/><circle cx="101.1" cy="118.9" r="2.05"/><circle cx="126" cy="96.3" r="2.05"/><circle cx="115.6" cy="106.4" r="2.05"/><circle cx="160.7" cy="80.5" r="2.05"/><circle cx="107.8" cy="101.3" r="2.05"/><circle cx="167.7" cy="76.8" r="2.05"/><circle cx="180.7" cy="75.1" r="2.05"/><circle cx="68.1" cy="129.4" r="2.05"/><circle cx="117.3" cy="104.6" r="2.05"/><circle cx="118.8" cy="101.1" r="2.05"/><circle cx="92.9" cy="126.4" r="2.05"/><circle cx="151.4" cy="75.5" r="2.05"/><circle cx="162.9" cy="85.2" r="2.05"/><circle cx="154.2" cy="77.3" r="2.05"/><circle cx="63.3" cy="129.8" r="2.05"/><circle cx="180.5" cy="66.8" r="2.05"/><circle cx="151.7" cy="89.2" r="2.05"/><circle cx="248.8" cy="37.9" r="2.05"/><circle cx="176.2" cy="73.8" r="2.05"/><circle cx="147.7" cy="86.1" r="2.05"/><circle cx="154" cy="82.1" r="2.05"/><circle cx="140.1" cy="103.9" r="2.05"/><circle cx="151.4" cy="93.3" r="2.05"/><circle cx="146.3" cy="104.2" r="2.05"/><circle cx="150.9" cy="97.7" r="2.05"/><circle cx="222.4" cy="59.6" r="2.05"/><circle cx="230.9" cy="52.5" r="2.05"/><circle cx="176" cy="74.2" r="2.05"/><circle cx="142.4" cy="87.8" r="2.05"/><circle cx="129.7" cy="102.6" r="2.05"/><circle cx="137.7" cy="94" r="2.05"/><circle cx="232.4" cy="58.4" r="2.05"/><circle cx="156.2" cy="89.4" r="2.05"/><circle cx="215" cy="66.6" r="2.05"/><circle cx="117.6" cy="106.2" r="2.05"/><circle cx="115.1" cy="128.6" r="2.05"/><circle cx="186.8" cy="73.1" r="2.05"/><circle cx="123.7" cy="111.1" r="2.05"/><circle cx="143.8" cy="121.6" r="2.05"/><circle cx="154.8" cy="61.6" r="2.05"/><circle cx="219.4" cy="58.7" r="2.05"/><circle cx="132" cy="109.8" r="2.05"/><circle cx="107.3" cy="111.7" r="2.05"/><circle cx="134.2" cy="97.4" r="2.05"/><circle cx="69.5" cy="134.1" r="2.05"/><circle cx="137.4" cy="91.5" r="2.05"/><circle cx="161.5" cy="86" r="2.05"/><circle cx="153.5" cy="82" r="2.05"/><circle cx="146.6" cy="94.5" r="2.05"/><circle cx="160.9" cy="89.7" r="2.05"/><circle cx="143.2" cy="79.6" r="2.05"/><circle cx="162" cy="84.6" r="2.05"/><circle cx="138" cy="108.6" r="2.05"/><circle cx="196.2" cy="69.1" r="2.05"/><circle cx="108.9" cy="114.2" r="2.05"/><circle cx="129.3" cy="95.9" r="2.05"/><circle cx="123.1" cy="101.6" r="2.05"/><circle cx="194.9" cy="77.6" r="2.05"/><circle cx="133.3" cy="91.1" r="2.05"/><circle cx="64" cy="132.1" r="2.05"/><circle cx="116.8" cy="111.6" r="2.05"/><circle cx="194.4" cy="63.8" r="2.05"/><circle cx="125.3" cy="99.6" r="2.05"/><circle cx="111.1" cy="113.3" r="2.05"/><circle cx="141.2" cy="98.1" r="2.05"/><circle cx="132.8" cy="100" r="2.05"/><circle cx="156.2" cy="91" r="2.05"/><circle cx="55.7" cy="133.2" r="2.05"/><circle cx="156.2" cy="82.8" r="2.05"/><circle cx="123.5" cy="107.9" r="2.05"/><circle cx="152.4" cy="91.5" r="2.05"/><circle cx="160.6" cy="83.9" r="2.05"/><circle cx="118.9" cy="100.2" r="2.05"/><circle cx="100.9" cy="119.8" r="2.05"/><circle cx="84.5" cy="117" r="2.05"/><circle cx="94.9" cy="133" r="2.05"/><circle cx="133.8" cy="94.4" r="2.05"/><circle cx="172.9" cy="82.2" r="2.05"/><circle cx="137.2" cy="94.3" r="2.05"/><circle cx="56.7" cy="137.3" r="2.05"/><circle cx="91.1" cy="125.5" r="2.05"/><circle cx="129.3" cy="92.5" r="2.05"/><circle cx="166.5" cy="76.4" r="2.05"/><circle cx="81.3" cy="134.5" r="2.05"/><circle cx="180.3" cy="69.3" r="2.05"/><circle cx="191.8" cy="69.8" r="2.05"/><circle cx="83.1" cy="117.2" r="2.05"/><circle cx="90.7" cy="124.3" r="2.05"/><circle cx="114.3" cy="108.1" r="2.05"/><circle cx="218.6" cy="60.9" r="2.05"/><circle cx="146" cy="93.7" r="2.05"/><circle cx="143.7" cy="96.9" r="2.05"/><circle cx="125.9" cy="94.2" r="2.05"/><circle cx="141.9" cy="93.3" r="2.05"/><circle cx="197.7" cy="67.8" r="2.05"/><circle cx="214.6" cy="66.6" r="2.05"/><circle cx="140" cy="89.9" r="2.05"/><circle cx="133.2" cy="93.7" r="2.05"/><circle cx="165.3" cy="98.4" r="2.05"/><circle cx="151.4" cy="99.8" r="2.05"/><circle cx="237.5" cy="51.5" r="2.05"/><circle cx="134.1" cy="98" r="2.05"/><circle cx="120.2" cy="117.6" r="2.05"/><circle cx="140.9" cy="76.1" r="2.05"/><circle cx="46.3" cy="135" r="2.05"/><circle cx="89" cy="123.7" r="2.05"/><circle cx="135.1" cy="104.4" r="2.05"/><circle cx="113.7" cy="104.8" r="2.05"/><circle cx="134.4" cy="85.6" r="2.05"/><circle cx="104.1" cy="110.2" r="2.05"/><circle cx="114.6" cy="105.4" r="2.05"/><circle cx="85.4" cy="122.9" r="2.05"/><circle cx="183.4" cy="64.4" r="2.05"/><circle cx="67.3" cy="130.7" r="2.05"/><circle cx="126" cy="100.9" r="2.05"/><circle cx="106.1" cy="109.5" r="2.05"/><circle cx="130.2" cy="100.7" r="2.05"/><circle cx="124.6" cy="99.3" r="2.05"/><circle cx="123.4" cy="96.8" r="2.05"/><circle cx="134.3" cy="106.3" r="2.05"/><circle cx="141.3" cy="94.2" r="2.05"/><circle cx="168.1" cy="68.3" r="2.05"/><circle cx="120.4" cy="98.8" r="2.05"/><circle cx="154.4" cy="89.8" r="2.05"/><circle cx="148.1" cy="86.7" r="2.05"/><circle cx="242.4" cy="51" r="2.05"/><circle cx="164.7" cy="80.1" r="2.05"/><circle cx="111.3" cy="125.1" r="2.05"/><circle cx="144.5" cy="87.5" r="2.05"/><circle cx="101.2" cy="103.4" r="2.05"/><circle cx="156.2" cy="78.4" r="2.05"/><circle cx="95.5" cy="114.1" r="2.05"/><circle cx="70.1" cy="127.8" r="2.05"/><circle cx="113.8" cy="97.9" r="2.05"/><circle cx="135.3" cy="83.5" r="2.05"/><circle cx="128.1" cy="101.5" r="2.05"/><circle cx="88" cy="120.3" r="2.05"/><circle cx="128.9" cy="84.8" r="2.05"/><circle cx="161.2" cy="86.8" r="2.05"/><circle cx="86.6" cy="130.8" r="2.05"/><circle cx="145.3" cy="83.6" r="2.05"/><circle cx="197.4" cy="61.2" r="2.05"/><circle cx="85.7" cy="109.5" r="2.05"/><circle cx="129" cy="96" r="2.05"/><circle cx="92" cy="113.6" r="2.05"/><circle cx="56.2" cy="138.9" r="2.05"/><circle cx="147.5" cy="85.4" r="2.05"/><circle cx="143.3" cy="96.1" r="2.05"/><circle cx="85.9" cy="127.2" r="2.05"/><circle cx="147.3" cy="91.5" r="2.05"/><circle cx="79.3" cy="135" r="2.05"/><circle cx="210" cy="65.8" r="2.05"/><circle cx="96.4" cy="118.5" r="2.05"/><circle cx="149" cy="90.5" r="2.05"/><circle cx="186" cy="69.9" r="2.05"/><circle cx="104.5" cy="120.8" r="2.05"/><circle cx="134.4" cy="99.7" r="2.05"/><circle cx="163.3" cy="81.9" r="2.05"/><circle cx="181.8" cy="71.6" r="2.05"/><circle cx="232.2" cy="53.2" r="2.05"/><circle cx="143" cy="89.2" r="2.05"/><circle cx="137.4" cy="94.7" r="2.05"/><circle cx="118.2" cy="103.7" r="2.05"/><circle cx="150.4" cy="85.3" r="2.05"/><circle cx="145.1" cy="91.2" r="2.05"/><circle cx="187.7" cy="69.9" r="2.05"/><circle cx="146.1" cy="94.2" r="2.05"/><circle cx="87.1" cy="119.5" r="2.05"/><circle cx="120" cy="100.7" r="2.05"/><circle cx="114.9" cy="112.7" r="2.05"/><circle cx="150.5" cy="82.7" r="2.05"/><circle cx="141.6" cy="97.5" r="2.05"/><circle cx="168" cy="69.7" r="2.05"/><circle cx="163.7" cy="64.8" r="2.05"/><circle cx="216.1" cy="59.1" r="2.05"/><circle cx="150.7" cy="89.4" r="2.05"/><circle cx="149.2" cy="91.7" r="2.05"/><circle cx="140.1" cy="95.6" r="2.05"/><circle cx="69.1" cy="132.1" r="2.05"/><circle cx="63.9" cy="127.5" r="2.05"/><circle cx="153.1" cy="102.8" r="2.05"/><circle cx="149.7" cy="80.6" r="2.05"/><circle cx="84.8" cy="124.6" r="2.05"/><circle cx="140.6" cy="90" r="2.05"/><circle cx="157.2" cy="86.3" r="2.05"/><circle cx="219.4" cy="44.1" r="2.05"/><circle cx="193.1" cy="72.3" r="2.05"/><circle cx="133.2" cy="106.9" r="2.05"/><circle cx="149.9" cy="76.6" r="2.05"/><circle cx="102.7" cy="112.9" r="2.05"/><circle cx="181.6" cy="73.7" r="2.05"/><circle cx="153.1" cy="86.5" r="2.05"/><circle cx="204.2" cy="64.9" r="2.05"/><circle cx="154.2" cy="84.7" r="2.05"/><circle cx="129.1" cy="106.5" r="2.05"/><circle cx="184.3" cy="63.4" r="2.05"/><circle cx="74.4" cy="129.2" r="2.05"/><circle cx="81.1" cy="117.7" r="2.05"/><circle cx="126.7" cy="95.9" r="2.05"/><circle cx="104.2" cy="113.2" r="2.05"/><circle cx="129.8" cy="96.2" r="2.05"/><circle cx="125.6" cy="104" r="2.05"/><circle cx="140.8" cy="97.6" r="2.05"/><circle cx="154.3" cy="89" r="2.05"/><circle cx="83.4" cy="117.9" r="2.05"/><circle cx="141.1" cy="84.4" r="2.05"/><circle cx="124.2" cy="110.3" r="2.05"/><circle cx="151.8" cy="78.5" r="2.05"/><circle cx="138" cy="103" r="2.05"/><circle cx="115.5" cy="106.1" r="2.05"/><circle cx="129.2" cy="97.2" r="2.05"/><circle cx="60.6" cy="139.4" r="2.05"/><circle cx="133.2" cy="92.6" r="2.05"/><circle cx="153.5" cy="87.5" r="2.05"/><circle cx="137.1" cy="101.7" r="2.05"/><circle cx="226.7" cy="51.6" r="2.05"/><circle cx="144.9" cy="90.1" r="2.05"/><circle cx="211.4" cy="84.3" r="2.05"/><circle cx="239.9" cy="97.3" r="2.05"/><circle cx="225.4" cy="93" r="2.05"/><circle cx="205.7" cy="99.7" r="2.05"/><circle cx="162.8" cy="108.9" r="2.05"/><circle cx="153" cy="106.5" r="2.05"/><circle cx="134.1" cy="139.7" r="2.05"/><circle cx="243.8" cy="70.8" r="2.05"/><circle cx="169.9" cy="104.7" r="2.05"/><circle cx="249.3" cy="69.9" r="2.05"/><circle cx="133.9" cy="121.1" r="2.05"/><circle cx="194.2" cy="93.9" r="2.05"/><circle cx="245.3" cy="88.7" r="2.05"/><circle cx="136.4" cy="114" r="2.05"/><circle cx="251.5" cy="76.8" r="2.05"/><circle cx="222.7" cy="98.5" r="2.05"/><circle cx="164.8" cy="129.4" r="2.05"/><circle cx="248.7" cy="78" r="2.05"/><circle cx="227.3" cy="73.2" r="2.05"/><circle cx="164.1" cy="101" r="2.05"/><circle cx="57.8" cy="102.7" r="2.05"/><circle cx="84.6" cy="100.9" r="2.05"/><circle cx="66.2" cy="92.2" r="2.05"/><circle cx="143.9" cy="72.7" r="2.05"/></g>
<line x1="39.3" y1="152.4" x2="266.7" y2="20.8" stroke="#111" stroke-width="1.3"/>
<path d="M39.3 147.6 L41.2 146.6 L43.1 145.7 L45 144.7 L46.9 143.7 L48.7 142.8 L50.6 141.8 L52.5 140.8 L54.4 139.9 L56.3 138.9 L58.2 138 L60.1 137 L62 136 L63.9 135.1 L65.8 134.1 L67.6 133.2 L69.5 132.2 L71.4 131.2 L73.3 130.2 L75.2 129.2 L77.1 128.2 L79 127.2 L80.9 126.2 L82.8 125.2 L84.7 124.1 L86.5 123.1 L88.4 122.1 L90.3 121.1 L92.2 120 L94.1 119 L96 118 L97.9 116.9 L99.8 115.9 L101.7 114.9 L103.5 113.8 L105.4 112.8 L107.3 111.8 L109.2 110.7 L111.1 109.7 L113 108.7 L114.9 107.7 L116.8 106.6 L118.7 105.6 L120.6 104.6 L122.4 103.6 L124.3 102.5 L126.2 101.5 L128.1 100.5 L130 99.5 L131.9 98.5 L133.8 97.4 L135.7 96.4 L137.6 95.4 L139.5 94.3 L141.3 93.3 L143.2 92.2 L145.1 91.2 L147 90.1 L148.9 89 L150.8 87.9 L152.7 86.8 L154.6 85.8 L156.5 84.7 L158.4 83.7 L160.2 82.7 L162.1 81.8 L164 80.8 L165.9 79.8 L167.8 78.9 L169.7 77.9 L171.6 77 L173.5 76 L175.4 75.1 L177.2 74.2 L179.1 73.2 L181 72.3 L182.9 71.4 L184.8 70.4 L186.7 69.5 L188.6 68.6 L190.5 67.7 L192.4 66.7 L194.3 65.8 L196.1 64.9 L198 64.1 L199.9 63.2 L201.8 62.4 L203.7 61.5 L205.6 60.7 L207.5 59.8 L209.4 59 L211.3 58.2 L213.2 57.3 L215 56.5 L216.9 55.7 L218.8 54.8 L220.7 54 L222.6 53.1 L224.5 52.3 L226.4 51.5 L228.3 50.6 L230.2 49.8 L232 48.9 L233.9 48.1 L235.8 47.3 L237.7 46.4 L239.6 45.6 L241.5 44.8 L243.4 43.9 L245.3 43.1 L247.2 42.2 L249.1 41.4 L250.9 40.6 L252.8 39.7 L254.7 38.9 L256.6 38 L258.5 37.2 L260.4 36.4 L262.3 35.5 L264.2 34.7" fill="none" stroke="#1fc4cc" stroke-width="1.5" stroke-linejoin="round"/>
<path d="M39.3 144.1 L41.1 143.2 L43 142.4 L44.8 141.5 L46.6 140.7 L48.5 139.9 L50.3 139 L52.1 138.2 L54 137.3 L55.8 136.5 L57.6 135.6 L59.5 134.8 L61.3 134 L63.1 133.1 L65 132.3 L66.8 131.4 L68.7 130.6 L70.5 129.7 L72.3 128.9 L74.2 128 L76 127.1 L77.8 126.2 L79.7 125.3 L81.5 124.4 L83.3 123.5 L85.2 122.5 L87 121.6 L88.8 120.7 L90.7 119.8 L92.5 118.8 L94.3 117.9 L96.2 117 L98 116.1 L99.8 115.1 L101.7 114.2 L103.5 113.3 L105.3 112.4 L107.2 111.4 L109 110.5 L110.8 109.5 L112.7 108.6 L114.5 107.6 L116.3 106.7 L118.2 105.7 L120 104.7 L121.9 103.8 L123.7 102.8 L125.5 101.8 L127.4 100.9 L129.2 99.9 L131 98.9 L132.9 97.9 L134.7 96.9 L136.5 96 L138.4 95 L140.2 93.9 L142 92.9 L143.9 91.9 L145.7 90.8 L147.5 89.8 L149.4 88.7 L151.2 87.8 L153 86.8 L154.9 85.9 L156.7 85 L158.5 84.2 L160.4 83.4 L162.2 82.6 L164 81.8 L165.9 81 L167.7 80.2 L169.5 79.4 L171.4 78.6 L173.2 77.9 L175.1 77.1 L176.9 76.4 L178.7 75.6 L180.6 74.9 L182.4 74.2 L184.2 73.4 L186.1 72.7 L187.9 72 L189.7 71.2 L191.6 70.5 L193.4 69.7 L195.2 69 L197.1 68.3 L198.9 67.6 L200.7 66.9 L202.6 66.3 L204.4 65.7 L206.2 65.1 L208.1 64.6 L209.9 64.1 L211.7 63.6 L213.6 63.2 L215.4 62.7 L217.2 62.2 L219.1 61.7 L220.9 61.2 L222.7 60.8 L224.6 60.3 L226.4 59.8 L228.3 59.3 L230.1 58.8 L231.9 58.4 L233.8 57.9 L235.6 57.4 L237.4 56.9 L239.3 56.4 L241.1 56 L242.9 55.5 L244.8 55 L246.6 54.5 L248.4 54.1 L250.3 53.6 L252.1 53.1 L253.9 52.6 L255.8 52.1 L257.6 51.7" fill="none" stroke="#ff2a55" stroke-width="1.25" stroke-linejoin="round"/>
<path d="M39.3 142 L41.1 141.2 L42.9 140.4 L44.7 139.6 L46.5 138.8 L48.3 138 L50.1 137.2 L51.9 136.4 L53.7 135.6 L55.5 134.8 L57.3 134 L59.2 133.2 L61 132.4 L62.8 131.6 L64.6 130.8 L66.4 130 L68.2 129.2 L70 128.4 L71.8 127.6 L73.6 126.8 L75.4 126 L77.2 125.2 L79 124.3 L80.8 123.5 L82.6 122.6 L84.4 121.7 L86.2 120.9 L88 120 L89.8 119.2 L91.6 118.3 L93.4 117.4 L95.2 116.6 L97.1 115.7 L98.9 114.9 L100.7 114 L102.5 113.2 L104.3 112.3 L106.1 111.4 L107.9 110.6 L109.7 109.7 L111.5 108.8 L113.3 108 L115.1 107.1 L116.9 106.2 L118.7 105.3 L120.5 104.4 L122.3 103.5 L124.1 102.6 L125.9 101.7 L127.7 100.8 L129.5 99.9 L131.3 98.9 L133.1 98 L135 97 L136.8 96 L138.6 94.9 L140.4 93.9 L142.2 92.9 L144 91.8 L145.8 90.8 L147.6 89.7 L149.4 88.7 L151.2 87.7 L153 86.7 L154.8 85.7 L156.6 84.7 L158.4 83.8 L160.2 82.9 L162 82 L163.8 81.1 L165.6 80.3 L167.4 79.4 L169.2 78.6 L171 77.8 L172.9 77 L174.7 76.2 L176.5 75.4 L178.3 74.6 L180.1 73.9 L181.9 73.1 L183.7 72.3 L185.5 71.6 L187.3 70.8 L189.1 70 L190.9 69.3 L192.7 68.5 L194.5 67.8 L196.3 67 L198.1 66.2 L199.9 65.5 L201.7 64.8 L203.5 64.1 L205.3 63.4 L207.1 62.8 L208.9 62.2 L210.8 61.7 L212.6 61.1 L214.4 60.5 L216.2 60 L218 59.4 L219.8 58.8 L221.6 58.2 L223.4 57.7 L225.2 57.1 L227 56.5 L228.8 56 L230.6 55.4 L232.4 54.8 L234.2 54.3 L236 53.7 L237.8 53.1 L239.6 52.6 L241.4 52 L243.2 51.4 L245 50.8 L246.8 50.3 L248.7 49.7 L250.5 49.1 L252.3 48.6 L254.1 48" fill="none" stroke="#ff8c0a" stroke-width="1.45" stroke-linejoin="round"/>
</g>
<rect x="39.3" y="20.8" width="227.4" height="131.6" fill="none" stroke="#222" stroke-width="1"/>
<path d="M64.6 152.4v-1.6M39.3 137.8h1.6M89.8 152.4v-1.6M39.3 123.2h1.6M115.1 152.4v-1.6M39.3 108.5h1.6M140.4 152.4v-1.6M39.3 93.9h1.6M165.6 152.4v-1.6M39.3 79.3h1.6M190.9 152.4v-1.6M39.3 64.7h1.6M216.2 152.4v-1.6M39.3 50h1.6M241.4 152.4v-1.6M39.3 35.4h1.6" stroke="#222" stroke-width="0.8" fill="none"/>
<g font-size="12.8" fill="#231f20" letter-spacing="0.35">
<text x="64.8" y="163.8" text-anchor="middle">10</text>
<text x="36" y="141.9" text-anchor="end">10</text>
<text x="90" y="163.8" text-anchor="middle">20</text>
<text x="36" y="127.3" text-anchor="end">20</text>
<text x="115.3" y="163.8" text-anchor="middle">30</text>
<text x="36" y="112.6" text-anchor="end">30</text>
<text x="140.6" y="163.8" text-anchor="middle">40</text>
<text x="36" y="98" text-anchor="end">40</text>
<text x="165.8" y="163.8" text-anchor="middle">50</text>
<text x="36" y="83.4" text-anchor="end">50</text>
<text x="191.1" y="163.8" text-anchor="middle">60</text>
<text x="36" y="68.8" text-anchor="end">60</text>
<text x="216.4" y="163.8" text-anchor="middle">70</text>
<text x="36" y="54.1" text-anchor="end">70</text>
<text x="241.6" y="163.8" text-anchor="middle">80</text>
<text x="36" y="39.5" text-anchor="end">80</text>
<text x="266.9" y="163.8" text-anchor="middle">90</text>
<text x="36" y="24.9" text-anchor="end">90</text>
<text x="32.9" y="163.8" text-anchor="middle">0</text>
</g>
<text x="148" y="11.1" text-anchor="middle" font-size="12.4" letter-spacing="0.6" fill="#231f20">Random Forest</text>
<text x="148.1" y="176.1" text-anchor="middle" font-size="12" letter-spacing="0.5" fill="#231f20">Tested <tspan font-style="italic">f</tspan><tspan font-style="italic" font-size="8" dy="2.2">c</tspan><tspan dy="-2.2" dx="-1.8"> (Mpa)</tspan></text>
<text transform="translate(14 87.9) rotate(-90)" text-anchor="middle" font-size="12.2" letter-spacing="0.6" fill="#231f20">Predicted <tspan font-style="italic">f</tspan><tspan font-style="italic" font-size="8" dy="2.2">c</tspan><tspan dy="-2.2" dx="-1.8"> (Mpa)</tspan></text>
<text x="138.7" y="195.8" text-anchor="middle" font-size="13.6" fill="#231f20">(<tspan font-weight="bold">a</tspan>)</text>
<circle cx="45.9" cy="27.9" r="2.7" fill="#22c6d2" fill-opacity="0.6"/><circle cx="51.6" cy="27.9" r="2.7" fill="#f0466a" fill-opacity="0.5"/><circle cx="57.4" cy="27.9" r="2.7" fill="#ff8a14" fill-opacity="0.5"/><rect x="41" y="34.2" width="7.6" height="8.8" fill="#55dbe2" fill-opacity="0.5"/><rect x="47" y="34.2" width="9" height="8.8" fill="#f58aa6" fill-opacity="0.45"/><rect x="54.4" y="34.2" width="7.8" height="8.8" fill="#ffb27a" fill-opacity="0.5"/><path d="M41.5 49.4H48" stroke="#1fc4cc" stroke-width="1.1"/><path d="M48 49.4H54.5" stroke="#ff2a55" stroke-width="1.1"/><path d="M54.5 49.4H61.2" stroke="#ff8c0a" stroke-width="1.1"/><path d="M41.5 60.3H61.2" stroke="#222" stroke-width="1.1"/><g font-size="10.9" fill="#231f20" letter-spacing="0.64"><text x="65.3" y="30.6">Training/Testing/Validation Set</text><text x="65.3" y="41.8" letter-spacing="0.44">95% Confidence Interval</text><text x="65.3" y="52.7" letter-spacing="0.4">Forecast Mean</text><text x="65.3" y="61.4">y=x</text></g>
<clipPath id="clip_b"><rect x="311.3" y="20.8" width="227" height="131.6"/></clipPath>
<g clip-path="url(#clip_b)">
<polygon points="311.3,136 317.1,133.6 322.9,131.3 328.8,128.9 334.6,126.5 340.4,124.1 346.2,121.7 352,119.4 357.9,116.7 363.7,114 369.5,111.3 375.3,108.7 381.1,106 387,103.3 392.8,100.6 398.6,97.7 404.4,94.7 410.2,91.6 416.1,88.2 421.9,84.6 427.7,81.1 433.5,77.9 439.4,74.6 445.2,71.4 451,68.1 456.8,64.9 462.6,61.7 468.5,58.5 474.3,55.6 480.1,52.7 485.9,49.8 491.7,46.8 497.6,43.9 503.4,41 509.2,38.1 515,35.2 520.8,32.3 526.7,29.4 532.5,26.4 538.3,23.5 538.3,39.6 532.5,42.1 526.7,44.5 520.8,47 515,49.5 509.2,52 503.4,54.4 497.6,56.9 491.7,59.4 485.9,61.8 480.1,64.3 474.3,66.8 468.5,69.2 462.6,72 456.8,74.8 451,77.5 445.2,80.3 439.4,83.1 433.5,85.9 427.7,88.7 421.9,91.8 416.1,94.9 410.2,98.2 404.4,101.7 398.6,105.3 392.8,108.6 387,111.8 381.1,114.9 375.3,118.1 369.5,121.2 363.7,124.4 357.9,127.5 352,130.7 346.2,133.5 340.4,136.4 334.6,139.2 328.8,142.1 322.9,144.9 317.1,147.8 311.3,150.6" fill="#55dbe2" fill-opacity="0.45"/>
<polygon points="311.3,122.3 316.9,119.6 322.6,117 328.2,114.3 333.9,111.6 339.5,109 345.1,106.3 350.8,103.7 356.4,101 362.1,98.3 367.7,95.7 373.3,93 379,90.4 384.6,87.7 390.3,85 395.9,82.3 401.5,79.6 407.2,76.9 412.8,74.2 418.4,71.5 424.1,68.8 429.7,66.1 435.4,63.5 441,61.1 446.6,59 452.3,56.8 457.9,54.7 463.6,52.6 469.2,50.4 474.8,48.3 480.5,46.7 486.1,45.1 491.8,43.5 497.4,42 503,40.4 508.7,38.8 514.3,37.2 520,35.6 525.6,34.1 531.2,32.5 531.2,66 525.6,67.7 520,69.4 514.3,71.1 508.7,72.8 503,74.5 497.4,76.2 491.8,77.9 486.1,79.6 480.5,81.4 474.8,83.1 469.2,85.6 463.6,88.1 457.9,90.6 452.3,93.1 446.6,95.7 441,98.2 435.4,100.8 429.7,103.5 424.1,106.3 418.4,109.1 412.8,111.9 407.2,114.7 401.5,117.4 395.9,120.2 390.3,123 384.6,126 379,129.3 373.3,132.6 367.7,136 362.1,139.3 356.4,142.6 350.8,145.9 345.1,149.3 339.5,152.5 333.9,154.5 328.2,156.6 322.6,158.6 316.9,160.6 311.3,162.6" fill="#f58aa6" fill-opacity="0.4"/>
<polygon points="311.3,123.2 316.9,120.5 322.4,117.9 328,115.3 333.5,112.6 339.1,110 344.7,107.4 350.2,104.7 355.8,102.1 361.4,99.5 366.9,96.8 372.5,94.2 378,91.6 383.6,88.9 389.2,86.2 394.7,83.4 400.3,80.7 405.9,77.9 411.4,75.1 417,72.3 422.5,69.5 428.1,66.7 433.7,63.9 439.2,61.2 444.8,58.8 450.3,56.3 455.9,53.8 461.5,51.3 467,48.9 472.6,46.4 478.2,44.5 483.7,43.1 489.3,41.7 494.8,40.2 500.4,38.8 506,37.4 511.5,36 517.1,34.6 522.6,33.2 528.2,31.8 528.2,57.9 522.6,60.1 517.1,62.3 511.5,64.4 506,66.6 500.4,68.8 494.8,70.9 489.3,73.1 483.7,75.3 478.2,77.4 472.6,79.8 467,82.5 461.5,85.2 455.9,87.9 450.3,90.6 444.8,93.3 439.2,96 433.7,98.7 428.1,101.4 422.5,104.2 417,106.9 411.4,109.6 405.9,112.4 400.3,115.1 394.7,117.9 389.2,120.6 383.6,123.6 378,126.9 372.5,130.1 366.9,133.3 361.4,136.5 355.8,139.8 350.2,143 344.7,146.2 339.1,149.4 333.5,152.5 328,154.3 322.4,156.1 316.9,157.9 311.3,159.7" fill="#ffb27a" fill-opacity="0.45"/>
<g fill="#22c6d2" fill-opacity="0.5"><circle cx="408.5" cy="94.1" r="1.5"/><circle cx="392.3" cy="109.4" r="1.5"/><circle cx="435" cy="81" r="1.5"/><circle cx="337.7" cy="129.2" r="1.5"/><circle cx="421.8" cy="97.1" r="1.5"/><circle cx="463.3" cy="59.5" r="1.5"/><circle cx="375.3" cy="121.5" r="1.5"/><circle cx="392.3" cy="104.3" r="1.5"/><circle cx="425.2" cy="88.6" r="1.5"/><circle cx="407.3" cy="92.1" r="1.5"/><circle cx="394" cy="108" r="1.5"/><circle cx="417.2" cy="93.1" r="1.5"/><circle cx="390.5" cy="90.4" r="1.5"/><circle cx="435.6" cy="72.3" r="1.5"/><circle cx="426.3" cy="81.3" r="1.5"/><circle cx="393.1" cy="107.6" r="1.5"/><circle cx="419.5" cy="87.6" r="1.5"/><circle cx="421.9" cy="96" r="1.5"/><circle cx="431.9" cy="86.4" r="1.5"/><circle cx="384.2" cy="106.6" r="1.5"/><circle cx="338.4" cy="127.6" r="1.5"/><circle cx="411.1" cy="95.9" r="1.5"/><circle cx="410.8" cy="90.8" r="1.5"/><circle cx="433.6" cy="77.6" r="1.5"/><circle cx="472.7" cy="66.2" r="1.5"/><circle cx="347.5" cy="125.7" r="1.5"/><circle cx="494.1" cy="52.1" r="1.5"/><circle cx="399.1" cy="94.1" r="1.5"/><circle cx="412.2" cy="99.6" r="1.5"/><circle cx="368.3" cy="114.5" r="1.5"/><circle cx="462.2" cy="68.9" r="1.5"/><circle cx="431.7" cy="72.8" r="1.5"/><circle cx="422" cy="99.2" r="1.5"/><circle cx="449" cy="65.4" r="1.5"/><circle cx="431.9" cy="83.5" r="1.5"/><circle cx="342.2" cy="121.3" r="1.5"/><circle cx="321.7" cy="143.8" r="1.5"/><circle cx="413" cy="99.6" r="1.5"/><circle cx="419.5" cy="90.7" r="1.5"/><circle cx="394.2" cy="103.4" r="1.5"/><circle cx="383.6" cy="121.1" r="1.5"/><circle cx="371.3" cy="118.6" r="1.5"/><circle cx="492.2" cy="54.8" r="1.5"/><circle cx="422.4" cy="88.7" r="1.5"/><circle cx="458.3" cy="65.8" r="1.5"/><circle cx="408.4" cy="94.4" r="1.5"/><circle cx="512.6" cy="44.5" r="1.5"/><circle cx="423.8" cy="93.2" r="1.5"/><circle cx="333.7" cy="139.9" r="1.5"/><circle cx="387.9" cy="106.6" r="1.5"/><circle cx="420.4" cy="81.9" r="1.5"/><circle cx="422.4" cy="87.8" r="1.5"/><circle cx="433.6" cy="77.3" r="1.5"/><circle cx="394" cy="109.5" r="1.5"/><circle cx="489.2" cy="50.2" r="1.5"/><circle cx="347.1" cy="128.2" r="1.5"/><circle cx="424.5" cy="86.2" r="1.5"/><circle cx="387.4" cy="104" r="1.5"/><circle cx="331.9" cy="131" r="1.5"/><circle cx="375.8" cy="111.8" r="1.5"/><circle cx="454.1" cy="69.3" r="1.5"/><circle cx="400.8" cy="98.6" r="1.5"/><circle cx="376.4" cy="116.2" r="1.5"/><circle cx="460.7" cy="69.2" r="1.5"/><circle cx="398.4" cy="101.5" r="1.5"/><circle cx="349.2" cy="118.2" r="1.5"/><circle cx="385.9" cy="113.8" r="1.5"/><circle cx="427" cy="84.8" r="1.5"/><circle cx="417.9" cy="85.5" r="1.5"/><circle cx="346.8" cy="124" r="1.5"/><circle cx="413.3" cy="97.6" r="1.5"/><circle cx="395.9" cy="109.1" r="1.5"/><circle cx="441.9" cy="80.1" r="1.5"/><circle cx="432.5" cy="80.9" r="1.5"/><circle cx="390.8" cy="101.5" r="1.5"/><circle cx="398" cy="102.8" r="1.5"/><circle cx="354" cy="123.4" r="1.5"/><circle cx="415.9" cy="93.5" r="1.5"/><circle cx="429.1" cy="88.2" r="1.5"/><circle cx="433.8" cy="75.7" r="1.5"/><circle cx="405.6" cy="88.9" r="1.5"/><circle cx="522.9" cy="39.2" r="1.5"/><circle cx="421.3" cy="92.5" r="1.5"/><circle cx="393.4" cy="101" r="1.5"/><circle cx="389.7" cy="113.2" r="1.5"/><circle cx="400.4" cy="106.9" r="1.5"/><circle cx="348.5" cy="125.9" r="1.5"/><circle cx="482.8" cy="49.1" r="1.5"/><circle cx="335.7" cy="133.9" r="1.5"/><circle cx="397.5" cy="101.8" r="1.5"/><circle cx="334.9" cy="126.2" r="1.5"/><circle cx="360.2" cy="126.6" r="1.5"/><circle cx="403.8" cy="106.1" r="1.5"/><circle cx="418.9" cy="79.3" r="1.5"/><circle cx="336.2" cy="127.8" r="1.5"/><circle cx="404.2" cy="100.2" r="1.5"/><circle cx="363.9" cy="116.5" r="1.5"/><circle cx="465.5" cy="61" r="1.5"/><circle cx="417" cy="92.3" r="1.5"/><circle cx="422.9" cy="75.2" r="1.5"/><circle cx="368.5" cy="124.8" r="1.5"/><circle cx="383.3" cy="101.4" r="1.5"/><circle cx="372.9" cy="112.6" r="1.5"/><circle cx="329.9" cy="134.2" r="1.5"/><circle cx="428" cy="83.4" r="1.5"/><circle cx="404.2" cy="101.4" r="1.5"/><circle cx="481.1" cy="58.8" r="1.5"/><circle cx="379.1" cy="113.8" r="1.5"/><circle cx="377.7" cy="119.2" r="1.5"/><circle cx="430.5" cy="80.5" r="1.5"/><circle cx="422.1" cy="94.5" r="1.5"/><circle cx="433.6" cy="86.5" r="1.5"/><circle cx="458.7" cy="59.5" r="1.5"/><circle cx="408.3" cy="98.4" r="1.5"/><circle cx="390.4" cy="98.2" r="1.5"/><circle cx="340.6" cy="124.2" r="1.5"/><circle cx="402.9" cy="98" r="1.5"/><circle cx="377" cy="104.8" r="1.5"/><circle cx="443.4" cy="79.5" r="1.5"/><circle cx="400.4" cy="104.8" r="1.5"/><circle cx="447.1" cy="77.1" r="1.5"/><circle cx="381.8" cy="111.9" r="1.5"/><circle cx="436.6" cy="77.9" r="1.5"/><circle cx="417.4" cy="81.1" r="1.5"/><circle cx="386.1" cy="112.1" r="1.5"/><circle cx="479.3" cy="60.1" r="1.5"/><circle cx="425.5" cy="86.3" r="1.5"/><circle cx="497.6" cy="49.3" r="1.5"/><circle cx="434.9" cy="82.8" r="1.5"/><circle cx="318.6" cy="135.5" r="1.5"/><circle cx="445.2" cy="77.8" r="1.5"/><circle cx="330.7" cy="138.4" r="1.5"/><circle cx="374.7" cy="87.3" r="1.5"/><circle cx="336.9" cy="125.8" r="1.5"/><circle cx="381.7" cy="110.3" r="1.5"/><circle cx="397.8" cy="106.4" r="1.5"/><circle cx="371.1" cy="114.7" r="1.5"/><circle cx="425.2" cy="82.8" r="1.5"/><circle cx="329" cy="129.3" r="1.5"/><circle cx="434.6" cy="73.1" r="1.5"/><circle cx="401.2" cy="101.3" r="1.5"/><circle cx="373.4" cy="112.7" r="1.5"/><circle cx="419.1" cy="90.7" r="1.5"/><circle cx="420.3" cy="88.7" r="1.5"/><circle cx="376.3" cy="115" r="1.5"/><circle cx="405.1" cy="99.5" r="1.5"/><circle cx="446.5" cy="77.2" r="1.5"/><circle cx="323.2" cy="137.5" r="1.5"/><circle cx="354.8" cy="132.5" r="1.5"/><circle cx="397.5" cy="104" r="1.5"/><circle cx="345.2" cy="124.5" r="1.5"/><circle cx="422.5" cy="85.5" r="1.5"/><circle cx="433.2" cy="78.5" r="1.5"/><circle cx="448" cy="70.5" r="1.5"/><circle cx="383.2" cy="106.6" r="1.5"/><circle cx="427.6" cy="79.7" r="1.5"/><circle cx="422.6" cy="87.5" r="1.5"/><circle cx="438.8" cy="85" r="1.5"/><circle cx="379.6" cy="104.9" r="1.5"/><circle cx="384.3" cy="107" r="1.5"/><circle cx="362.7" cy="128" r="1.5"/><circle cx="400.9" cy="95.8" r="1.5"/><circle cx="350.4" cy="121.7" r="1.5"/><circle cx="427.9" cy="91.1" r="1.5"/><circle cx="431.4" cy="80.7" r="1.5"/><circle cx="422.2" cy="88.2" r="1.5"/><circle cx="386.3" cy="105.9" r="1.5"/><circle cx="403.7" cy="101.3" r="1.5"/><circle cx="355.3" cy="115" r="1.5"/><circle cx="420.7" cy="93.5" r="1.5"/><circle cx="395.4" cy="108.4" r="1.5"/><circle cx="425.4" cy="88.3" r="1.5"/><circle cx="420.3" cy="89.4" r="1.5"/><circle cx="365.4" cy="121.1" r="1.5"/><circle cx="394.1" cy="96.6" r="1.5"/><circle cx="432.4" cy="87.4" r="1.5"/><circle cx="489.7" cy="43.9" r="1.5"/><circle cx="434.6" cy="88.4" r="1.5"/><circle cx="468.9" cy="61.5" r="1.5"/><circle cx="411.1" cy="66.7" r="1.5"/><circle cx="416" cy="80.1" r="1.5"/><circle cx="425.3" cy="87.3" r="1.5"/><circle cx="351.4" cy="132.6" r="1.5"/><circle cx="415.4" cy="95.3" r="1.5"/><circle cx="419.4" cy="92.1" r="1.5"/><circle cx="369.1" cy="113.1" r="1.5"/><circle cx="411.5" cy="98.8" r="1.5"/><circle cx="430" cy="78.9" r="1.5"/><circle cx="381" cy="124.7" r="1.5"/><circle cx="466.9" cy="60.6" r="1.5"/><circle cx="412" cy="81.1" r="1.5"/><circle cx="441.8" cy="73.6" r="1.5"/><circle cx="391" cy="99.3" r="1.5"/><circle cx="434" cy="80.4" r="1.5"/><circle cx="404.3" cy="99.4" r="1.5"/><circle cx="413.6" cy="89.9" r="1.5"/><circle cx="384.9" cy="105.2" r="1.5"/><circle cx="408.9" cy="109.3" r="1.5"/><circle cx="398.3" cy="105.2" r="1.5"/><circle cx="406.3" cy="86.4" r="1.5"/><circle cx="412" cy="90.5" r="1.5"/><circle cx="472.2" cy="60.8" r="1.5"/><circle cx="424.4" cy="88.3" r="1.5"/><circle cx="408" cy="97.6" r="1.5"/><circle cx="423.7" cy="87.5" r="1.5"/><circle cx="491.3" cy="67.1" r="1.5"/><circle cx="458" cy="60.5" r="1.5"/><circle cx="340.6" cy="128.1" r="1.5"/><circle cx="503.5" cy="50.7" r="1.5"/><circle cx="360.8" cy="113.8" r="1.5"/><circle cx="422.3" cy="88.3" r="1.5"/><circle cx="395.6" cy="95.9" r="1.5"/><circle cx="396.6" cy="105.4" r="1.5"/><circle cx="399.9" cy="96.4" r="1.5"/><circle cx="418.1" cy="98.3" r="1.5"/><circle cx="365.2" cy="113.8" r="1.5"/><circle cx="430.3" cy="90.7" r="1.5"/><circle cx="351.2" cy="125.1" r="1.5"/><circle cx="362.7" cy="117.4" r="1.5"/><circle cx="407.1" cy="104.4" r="1.5"/><circle cx="406.3" cy="96.2" r="1.5"/><circle cx="393.4" cy="106.2" r="1.5"/><circle cx="336.2" cy="131.4" r="1.5"/><circle cx="439.2" cy="73.8" r="1.5"/><circle cx="419.2" cy="89.5" r="1.5"/><circle cx="473.2" cy="55.6" r="1.5"/><circle cx="408.1" cy="99.9" r="1.5"/><circle cx="337.7" cy="135.4" r="1.5"/><circle cx="394.5" cy="98.7" r="1.5"/><circle cx="413" cy="98.2" r="1.5"/><circle cx="407.2" cy="94.6" r="1.5"/><circle cx="404" cy="111.1" r="1.5"/><circle cx="402.2" cy="99.5" r="1.5"/><circle cx="403.3" cy="96.6" r="1.5"/><circle cx="391.4" cy="108.7" r="1.5"/><circle cx="405.4" cy="100.8" r="1.5"/><circle cx="424.6" cy="93.7" r="1.5"/><circle cx="438.6" cy="75" r="1.5"/><circle cx="365.5" cy="122.6" r="1.5"/><circle cx="408.1" cy="100.7" r="1.5"/><circle cx="384.2" cy="109.2" r="1.5"/><circle cx="439" cy="80.7" r="1.5"/><circle cx="415.4" cy="95.9" r="1.5"/><circle cx="382.6" cy="108.1" r="1.5"/><circle cx="377.8" cy="110.7" r="1.5"/><circle cx="380" cy="114.5" r="1.5"/><circle cx="412" cy="96.4" r="1.5"/><circle cx="429" cy="78.1" r="1.5"/><circle cx="326.6" cy="136.2" r="1.5"/><circle cx="366.1" cy="120.7" r="1.5"/><circle cx="460.4" cy="68.6" r="1.5"/><circle cx="470.6" cy="60.5" r="1.5"/><circle cx="422" cy="78.9" r="1.5"/><circle cx="407" cy="102.7" r="1.5"/><circle cx="344.1" cy="126.8" r="1.5"/><circle cx="397.3" cy="105.1" r="1.5"/><circle cx="430.7" cy="82" r="1.5"/><circle cx="423.5" cy="90.2" r="1.5"/><circle cx="399" cy="105" r="1.5"/><circle cx="359.9" cy="124.9" r="1.5"/><circle cx="384.8" cy="111.2" r="1.5"/><circle cx="416.9" cy="89.8" r="1.5"/><circle cx="386.8" cy="98.3" r="1.5"/><circle cx="349.6" cy="131.2" r="1.5"/><circle cx="402.8" cy="103.2" r="1.5"/><circle cx="358.7" cy="124" r="1.5"/><circle cx="420" cy="81.8" r="1.5"/><circle cx="425.3" cy="79.3" r="1.5"/><circle cx="393.4" cy="101.6" r="1.5"/><circle cx="405.1" cy="97.8" r="1.5"/><circle cx="348.9" cy="132.3" r="1.5"/><circle cx="415.6" cy="91.5" r="1.5"/><circle cx="457.7" cy="67.9" r="1.5"/><circle cx="418.6" cy="92.3" r="1.5"/><circle cx="461.1" cy="70.7" r="1.5"/><circle cx="380.5" cy="116.6" r="1.5"/><circle cx="321" cy="137.6" r="1.5"/><circle cx="363.2" cy="120.1" r="1.5"/><circle cx="361.5" cy="105.9" r="1.5"/><circle cx="407" cy="99.8" r="1.5"/><circle cx="382.3" cy="112.9" r="1.5"/><circle cx="336.8" cy="115.8" r="1.5"/><circle cx="424.4" cy="86.4" r="1.5"/><circle cx="419.8" cy="97.1" r="1.5"/><circle cx="334.6" cy="136" r="1.5"/><circle cx="381.4" cy="115.4" r="1.5"/><circle cx="334.9" cy="133.6" r="1.5"/><circle cx="413.1" cy="102.6" r="1.5"/><circle cx="437.3" cy="76.7" r="1.5"/><circle cx="397.9" cy="98.7" r="1.5"/><circle cx="378.1" cy="112.6" r="1.5"/><circle cx="437.4" cy="80.4" r="1.5"/><circle cx="399.2" cy="101.7" r="1.5"/><circle cx="391.2" cy="107.9" r="1.5"/><circle cx="422.4" cy="82.6" r="1.5"/><circle cx="436.4" cy="85.4" r="1.5"/><circle cx="374.4" cy="102.2" r="1.5"/><circle cx="399.9" cy="106.1" r="1.5"/><circle cx="440.6" cy="76.8" r="1.5"/><circle cx="411.8" cy="98.8" r="1.5"/><circle cx="408.7" cy="99.5" r="1.5"/><circle cx="385.2" cy="109.3" r="1.5"/><circle cx="432.3" cy="90" r="1.5"/><circle cx="464.7" cy="63.2" r="1.5"/><circle cx="409.4" cy="94.4" r="1.5"/><circle cx="408.4" cy="93.2" r="1.5"/><circle cx="398.7" cy="89.6" r="1.5"/><circle cx="398.3" cy="105.7" r="1.5"/><circle cx="466.6" cy="65.6" r="1.5"/><circle cx="426.7" cy="86.6" r="1.5"/><circle cx="350.8" cy="120.1" r="1.5"/><circle cx="412.7" cy="95.2" r="1.5"/><circle cx="405.9" cy="101.5" r="1.5"/><circle cx="402.9" cy="97.3" r="1.5"/><circle cx="425.4" cy="88.3" r="1.5"/><circle cx="389.8" cy="101.8" r="1.5"/><circle cx="434.9" cy="74.4" r="1.5"/><circle cx="455.2" cy="65.8" r="1.5"/><circle cx="386.3" cy="111.7" r="1.5"/><circle cx="350.9" cy="121.1" r="1.5"/><circle cx="395.2" cy="107.6" r="1.5"/><circle cx="421.5" cy="90.2" r="1.5"/><circle cx="438.8" cy="74.3" r="1.5"/><circle cx="422.1" cy="86.9" r="1.5"/><circle cx="371.9" cy="105.9" r="1.5"/><circle cx="439.7" cy="74.5" r="1.5"/><circle cx="474.9" cy="59.9" r="1.5"/><circle cx="365.5" cy="112.6" r="1.5"/><circle cx="409.6" cy="94.7" r="1.5"/><circle cx="422.6" cy="81.3" r="1.5"/><circle cx="423.2" cy="98.4" r="1.5"/><circle cx="354.1" cy="124.4" r="1.5"/><circle cx="412.4" cy="98.2" r="1.5"/><circle cx="486.5" cy="56.2" r="1.5"/><circle cx="411.6" cy="96.9" r="1.5"/><circle cx="392.5" cy="95.2" r="1.5"/><circle cx="378.4" cy="109" r="1.5"/><circle cx="339.4" cy="131.2" r="1.5"/><circle cx="478.9" cy="55.1" r="1.5"/><circle cx="409.6" cy="107.5" r="1.5"/><circle cx="477.6" cy="53.5" r="1.5"/><circle cx="490.1" cy="62.9" r="1.5"/><circle cx="474" cy="60.7" r="1.5"/><circle cx="390.4" cy="96.2" r="1.5"/><circle cx="424.2" cy="92.6" r="1.5"/><circle cx="323.6" cy="141.1" r="1.5"/><circle cx="383.8" cy="120.3" r="1.5"/><circle cx="343.9" cy="137.5" r="1.5"/><circle cx="364.8" cy="114.8" r="1.5"/><circle cx="439.6" cy="78" r="1.5"/><circle cx="452.7" cy="74.3" r="1.5"/><circle cx="349.5" cy="124.5" r="1.5"/><circle cx="400.3" cy="102.9" r="1.5"/><circle cx="387.6" cy="111.7" r="1.5"/><circle cx="364.9" cy="120.7" r="1.5"/><circle cx="394" cy="109.9" r="1.5"/><circle cx="384.3" cy="120.5" r="1.5"/><circle cx="380.7" cy="112" r="1.5"/><circle cx="404.7" cy="96.1" r="1.5"/><circle cx="444.8" cy="70.2" r="1.5"/><circle cx="404.4" cy="95.1" r="1.5"/><circle cx="430.7" cy="84.9" r="1.5"/><circle cx="374" cy="118.3" r="1.5"/><circle cx="502.3" cy="48.7" r="1.5"/><circle cx="422.2" cy="83" r="1.5"/><circle cx="395.5" cy="103.5" r="1.5"/><circle cx="381" cy="113.1" r="1.5"/><circle cx="416.5" cy="89.4" r="1.5"/><circle cx="419.8" cy="100.8" r="1.5"/><circle cx="469.7" cy="60.3" r="1.5"/><circle cx="461.8" cy="40.9" r="1.5"/><circle cx="429.4" cy="90.3" r="1.5"/><circle cx="396.2" cy="93.1" r="1.5"/><circle cx="502.2" cy="49.9" r="1.5"/><circle cx="410" cy="98.8" r="1.5"/><circle cx="392.5" cy="101.3" r="1.5"/><circle cx="470" cy="60.2" r="1.5"/><circle cx="359.5" cy="122.1" r="1.5"/><circle cx="336.5" cy="124.4" r="1.5"/><circle cx="515" cy="40.1" r="1.5"/><circle cx="378.8" cy="120.6" r="1.5"/><circle cx="411.8" cy="86.3" r="1.5"/><circle cx="414.7" cy="91.6" r="1.5"/><circle cx="336.3" cy="125.1" r="1.5"/><circle cx="408" cy="100.9" r="1.5"/><circle cx="432" cy="87.1" r="1.5"/><circle cx="327.3" cy="141.4" r="1.5"/><circle cx="386.4" cy="106" r="1.5"/><circle cx="400.6" cy="96.6" r="1.5"/><circle cx="470.5" cy="66.3" r="1.5"/><circle cx="428.5" cy="67.3" r="1.5"/><circle cx="473.2" cy="65.9" r="1.5"/><circle cx="385.8" cy="110.1" r="1.5"/><circle cx="428.4" cy="74.4" r="1.5"/><circle cx="420.8" cy="79.4" r="1.5"/><circle cx="426.8" cy="60.9" r="1.5"/><circle cx="394.6" cy="97.2" r="1.5"/><circle cx="374.7" cy="112.9" r="1.5"/><circle cx="428.4" cy="73.3" r="1.5"/><circle cx="342" cy="135.3" r="1.5"/><circle cx="406.3" cy="99.9" r="1.5"/><circle cx="385.6" cy="107.9" r="1.5"/><circle cx="386.1" cy="107" r="1.5"/><circle cx="414.5" cy="87.1" r="1.5"/><circle cx="365.9" cy="117.5" r="1.5"/><circle cx="383.8" cy="107.6" r="1.5"/><circle cx="406.7" cy="94.5" r="1.5"/><circle cx="368.5" cy="118.3" r="1.5"/><circle cx="357.8" cy="120.9" r="1.5"/><circle cx="507" cy="50.8" r="1.5"/><circle cx="412" cy="98.4" r="1.5"/><circle cx="419.7" cy="89.4" r="1.5"/><circle cx="369.9" cy="117.8" r="1.5"/><circle cx="352.5" cy="121.7" r="1.5"/><circle cx="381.1" cy="110.3" r="1.5"/><circle cx="345.1" cy="126.9" r="1.5"/><circle cx="346.7" cy="122.8" r="1.5"/><circle cx="420.1" cy="97.9" r="1.5"/><circle cx="418.6" cy="95.6" r="1.5"/><circle cx="395.7" cy="104.7" r="1.5"/><circle cx="398" cy="93" r="1.5"/><circle cx="405.5" cy="99.7" r="1.5"/><circle cx="414.6" cy="63.9" r="1.5"/><circle cx="415.7" cy="86.8" r="1.5"/><circle cx="355.7" cy="122.6" r="1.5"/><circle cx="390.2" cy="103.8" r="1.5"/><circle cx="351" cy="122.6" r="1.5"/><circle cx="356.4" cy="124.9" r="1.5"/><circle cx="407.1" cy="89.4" r="1.5"/><circle cx="434.4" cy="79.2" r="1.5"/><circle cx="345.2" cy="128.1" r="1.5"/><circle cx="395.8" cy="106" r="1.5"/><circle cx="421.3" cy="85.7" r="1.5"/><circle cx="399.4" cy="98.2" r="1.5"/><circle cx="413.1" cy="89" r="1.5"/><circle cx="429.6" cy="72.6" r="1.5"/><circle cx="402.6" cy="96" r="1.5"/><circle cx="403.6" cy="101.6" r="1.5"/><circle cx="337.3" cy="134.4" r="1.5"/><circle cx="413.2" cy="99.3" r="1.5"/><circle cx="417.6" cy="95.3" r="1.5"/><circle cx="425.6" cy="92.4" r="1.5"/><circle cx="418.7" cy="85.2" r="1.5"/><circle cx="520.7" cy="48.4" r="1.5"/><circle cx="409.1" cy="88.3" r="1.5"/><circle cx="408.8" cy="105.3" r="1.5"/><circle cx="401" cy="106.8" r="1.5"/><circle cx="430.7" cy="87.4" r="1.5"/><circle cx="353.8" cy="124.3" r="1.5"/><circle cx="401.1" cy="99.7" r="1.5"/><circle cx="322.9" cy="139.9" r="1.5"/><circle cx="404.2" cy="93.1" r="1.5"/><circle cx="423.1" cy="93.9" r="1.5"/><circle cx="361.8" cy="124.7" r="1.5"/><circle cx="385.8" cy="104.6" r="1.5"/><circle cx="420.2" cy="95.6" r="1.5"/><circle cx="334" cy="136.3" r="1.5"/><circle cx="353.4" cy="121.6" r="1.5"/><circle cx="399.7" cy="97.8" r="1.5"/><circle cx="355.5" cy="120.3" r="1.5"/><circle cx="412.5" cy="90.2" r="1.5"/><circle cx="432.7" cy="82.3" r="1.5"/><circle cx="402.4" cy="98.3" r="1.5"/><circle cx="464.8" cy="64.9" r="1.5"/><circle cx="445" cy="76.1" r="1.5"/><circle cx="458.5" cy="64.3" r="1.5"/><circle cx="345.1" cy="127.9" r="1.5"/><circle cx="327.1" cy="132.9" r="1.5"/><circle cx="466.9" cy="64.4" r="1.5"/><circle cx="490.9" cy="49.3" r="1.5"/><circle cx="420.5" cy="100.4" r="1.5"/><circle cx="452.1" cy="62.2" r="1.5"/><circle cx="406.8" cy="110" r="1.5"/><circle cx="367.3" cy="118.9" r="1.5"/><circle cx="396.4" cy="104.9" r="1.5"/><circle cx="435.1" cy="71.5" r="1.5"/><circle cx="379.4" cy="118.2" r="1.5"/><circle cx="426.3" cy="87.2" r="1.5"/><circle cx="333.9" cy="134.1" r="1.5"/><circle cx="407.5" cy="84.6" r="1.5"/><circle cx="351.6" cy="118.1" r="1.5"/><circle cx="409" cy="99.7" r="1.5"/><circle cx="346.9" cy="128.5" r="1.5"/><circle cx="399.1" cy="100.4" r="1.5"/><circle cx="487.6" cy="58.3" r="1.5"/><circle cx="422.1" cy="80.8" r="1.5"/><circle cx="452.5" cy="70.3" r="1.5"/><circle cx="397.8" cy="110.1" r="1.5"/><circle cx="403.9" cy="97.9" r="1.5"/><circle cx="423" cy="87.7" r="1.5"/><circle cx="456.8" cy="72" r="1.5"/><circle cx="382.7" cy="108.3" r="1.5"/><circle cx="378.1" cy="108.3" r="1.5"/><circle cx="402.4" cy="100.4" r="1.5"/><circle cx="402.6" cy="102.2" r="1.5"/><circle cx="412.9" cy="91.4" r="1.5"/><circle cx="446.9" cy="83.4" r="1.5"/><circle cx="352.9" cy="119.5" r="1.5"/><circle cx="461.6" cy="73.6" r="1.5"/><circle cx="423.2" cy="86.6" r="1.5"/><circle cx="391.3" cy="106.1" r="1.5"/><circle cx="383.8" cy="106.4" r="1.5"/><circle cx="424.2" cy="89.6" r="1.5"/><circle cx="359.2" cy="119.3" r="1.5"/><circle cx="416.9" cy="99.1" r="1.5"/><circle cx="388.4" cy="99.8" r="1.5"/><circle cx="436" cy="77.7" r="1.5"/><circle cx="409.7" cy="90.4" r="1.5"/><circle cx="445.2" cy="78.3" r="1.5"/><circle cx="390.8" cy="104.3" r="1.5"/><circle cx="411.2" cy="96.3" r="1.5"/><circle cx="410.7" cy="94.6" r="1.5"/><circle cx="449.6" cy="78.9" r="1.5"/><circle cx="389.7" cy="107" r="1.5"/><circle cx="430.3" cy="96.5" r="1.5"/><circle cx="407.6" cy="90.8" r="1.5"/><circle cx="396.8" cy="108.5" r="1.5"/><circle cx="399.5" cy="96.6" r="1.5"/><circle cx="466.1" cy="58.4" r="1.5"/><circle cx="355.2" cy="119.9" r="1.5"/><circle cx="413.8" cy="98.4" r="1.5"/><circle cx="348.8" cy="124.8" r="1.5"/><circle cx="448.5" cy="70.4" r="1.5"/><circle cx="363.8" cy="115.1" r="1.5"/><circle cx="350.2" cy="123.6" r="1.5"/><circle cx="409.2" cy="94.9" r="1.5"/><circle cx="396.3" cy="104.2" r="1.5"/><circle cx="430.6" cy="84.6" r="1.5"/><circle cx="352.7" cy="123.7" r="1.5"/><circle cx="426.1" cy="86.1" r="1.5"/><circle cx="455.3" cy="72" r="1.5"/><circle cx="396.4" cy="104.4" r="1.5"/><circle cx="394.8" cy="103.1" r="1.5"/><circle cx="337.8" cy="133.8" r="1.5"/><circle cx="421.7" cy="83.6" r="1.5"/><circle cx="438.2" cy="79" r="1.5"/><circle cx="435.6" cy="74.8" r="1.5"/><circle cx="343.4" cy="132.1" r="1.5"/><circle cx="349.2" cy="130.6" r="1.5"/><circle cx="409.3" cy="98" r="1.5"/><circle cx="411.5" cy="94.6" r="1.5"/><circle cx="494.7" cy="51.6" r="1.5"/><circle cx="369.6" cy="111.2" r="1.5"/><circle cx="455.2" cy="80.6" r="1.5"/><circle cx="397.8" cy="100.6" r="1.5"/><circle cx="425.8" cy="94" r="1.5"/><circle cx="520.1" cy="43.6" r="1.5"/><circle cx="353.3" cy="125.2" r="1.5"/><circle cx="476" cy="59.3" r="1.5"/><circle cx="415.2" cy="85.4" r="1.5"/><circle cx="412.3" cy="94.7" r="1.5"/><circle cx="389" cy="100.3" r="1.5"/><circle cx="360.5" cy="117.5" r="1.5"/><circle cx="405" cy="100.4" r="1.5"/><circle cx="469.6" cy="58.8" r="1.5"/><circle cx="393.7" cy="106.1" r="1.5"/><circle cx="430.7" cy="80.4" r="1.5"/><circle cx="361.7" cy="110.6" r="1.5"/><circle cx="446.1" cy="71.7" r="1.5"/></g>
<g fill="#f0466a" fill-opacity="0.5"><circle cx="348" cy="131" r="1.55"/><circle cx="424.2" cy="87.7" r="1.55"/><circle cx="400.4" cy="94.7" r="1.55"/><circle cx="380.2" cy="109" r="1.55"/><circle cx="405.7" cy="86.7" r="1.55"/><circle cx="436" cy="78" r="1.55"/><circle cx="401.7" cy="98.1" r="1.55"/><circle cx="404.7" cy="93.7" r="1.55"/><circle cx="412.2" cy="98.4" r="1.55"/><circle cx="393.5" cy="105" r="1.55"/><circle cx="427.3" cy="87.4" r="1.55"/><circle cx="355.2" cy="123.1" r="1.55"/><circle cx="415.3" cy="97" r="1.55"/><circle cx="326.1" cy="135.4" r="1.55"/><circle cx="355" cy="123.4" r="1.55"/><circle cx="377.3" cy="106.7" r="1.55"/><circle cx="381.6" cy="113.6" r="1.55"/><circle cx="364.7" cy="113.3" r="1.55"/><circle cx="366.6" cy="119.3" r="1.55"/><circle cx="392.5" cy="87.6" r="1.55"/><circle cx="407.7" cy="101.3" r="1.55"/><circle cx="408" cy="111.4" r="1.55"/><circle cx="518.3" cy="47.2" r="1.55"/><circle cx="431.7" cy="81.2" r="1.55"/><circle cx="416" cy="89.4" r="1.55"/><circle cx="404.9" cy="90.3" r="1.55"/><circle cx="437.4" cy="69.8" r="1.55"/><circle cx="417.7" cy="93.1" r="1.55"/><circle cx="395.2" cy="111.5" r="1.55"/><circle cx="419.7" cy="88.6" r="1.55"/><circle cx="364.8" cy="123.7" r="1.55"/><circle cx="481.8" cy="65.9" r="1.55"/><circle cx="393.6" cy="106.7" r="1.55"/><circle cx="395.5" cy="98.1" r="1.55"/><circle cx="411.6" cy="82" r="1.55"/><circle cx="350.8" cy="122.7" r="1.55"/><circle cx="391.3" cy="95.4" r="1.55"/><circle cx="398.8" cy="104.6" r="1.55"/><circle cx="440.5" cy="80.2" r="1.55"/><circle cx="351" cy="119.4" r="1.55"/><circle cx="419.9" cy="92.4" r="1.55"/><circle cx="427.5" cy="78.3" r="1.55"/><circle cx="352.1" cy="123.5" r="1.55"/><circle cx="396.9" cy="101.7" r="1.55"/><circle cx="468" cy="60.3" r="1.55"/><circle cx="374.6" cy="120.1" r="1.55"/><circle cx="401.9" cy="98.4" r="1.55"/><circle cx="424.1" cy="90.6" r="1.55"/><circle cx="409.4" cy="103.8" r="1.55"/><circle cx="481" cy="65.2" r="1.55"/><circle cx="398.3" cy="98.4" r="1.55"/><circle cx="342.6" cy="136.9" r="1.55"/><circle cx="454.9" cy="81.4" r="1.55"/><circle cx="373.4" cy="124" r="1.55"/><circle cx="384.4" cy="112.3" r="1.55"/><circle cx="461" cy="72.1" r="1.55"/><circle cx="455.7" cy="65.5" r="1.55"/><circle cx="381.7" cy="108.9" r="1.55"/><circle cx="365.8" cy="116.1" r="1.55"/><circle cx="381" cy="104.5" r="1.55"/><circle cx="374.6" cy="105.3" r="1.55"/><circle cx="417.2" cy="101.6" r="1.55"/><circle cx="420.8" cy="87.9" r="1.55"/><circle cx="357.4" cy="118.5" r="1.55"/><circle cx="364.4" cy="121.1" r="1.55"/><circle cx="475.4" cy="60.7" r="1.55"/><circle cx="491.5" cy="58.4" r="1.55"/><circle cx="413.1" cy="84.9" r="1.55"/><circle cx="394.7" cy="91.3" r="1.55"/><circle cx="432.1" cy="87" r="1.55"/><circle cx="431.9" cy="86.7" r="1.55"/><circle cx="424.6" cy="85.3" r="1.55"/><circle cx="520.6" cy="54.2" r="1.55"/><circle cx="478.8" cy="65.8" r="1.55"/><circle cx="377.6" cy="113" r="1.55"/><circle cx="406.1" cy="98.7" r="1.55"/><circle cx="393.8" cy="95.9" r="1.55"/><circle cx="459.4" cy="124.8" r="1.55"/><circle cx="408.9" cy="89.5" r="1.55"/><circle cx="330.6" cy="136.6" r="1.55"/><circle cx="412" cy="78.2" r="1.55"/><circle cx="410.7" cy="91" r="1.55"/><circle cx="377.8" cy="98" r="1.55"/><circle cx="428.5" cy="79.1" r="1.55"/><circle cx="352.7" cy="121" r="1.55"/><circle cx="394.3" cy="106.5" r="1.55"/><circle cx="422.7" cy="86.7" r="1.55"/><circle cx="499.6" cy="48.6" r="1.55"/><circle cx="419.6" cy="94.5" r="1.55"/><circle cx="413.8" cy="94.5" r="1.55"/><circle cx="364.7" cy="119.4" r="1.55"/><circle cx="426.3" cy="85.1" r="1.55"/><circle cx="319.9" cy="137.8" r="1.55"/><circle cx="332.2" cy="124.2" r="1.55"/><circle cx="416.4" cy="102.2" r="1.55"/><circle cx="431.4" cy="88.8" r="1.55"/><circle cx="362.2" cy="111.6" r="1.55"/><circle cx="335.4" cy="126" r="1.55"/><circle cx="473.4" cy="60.5" r="1.55"/><circle cx="338.2" cy="113.4" r="1.55"/><circle cx="404.4" cy="92.8" r="1.55"/><circle cx="411.8" cy="100.5" r="1.55"/><circle cx="376.2" cy="117.5" r="1.55"/><circle cx="378.2" cy="114.8" r="1.55"/><circle cx="413.4" cy="97.3" r="1.55"/><circle cx="338.2" cy="127.5" r="1.55"/><circle cx="328" cy="136.4" r="1.55"/><circle cx="421.9" cy="90.2" r="1.55"/><circle cx="390.1" cy="107.1" r="1.55"/><circle cx="465.8" cy="68" r="1.55"/><circle cx="469.3" cy="64.5" r="1.55"/><circle cx="339.3" cy="125.4" r="1.55"/><circle cx="449.4" cy="63.9" r="1.55"/><circle cx="353.3" cy="117.4" r="1.55"/><circle cx="371.2" cy="112.5" r="1.55"/><circle cx="340" cy="117" r="1.55"/><circle cx="406.7" cy="75" r="1.55"/><circle cx="463.8" cy="69.7" r="1.55"/><circle cx="385.8" cy="116" r="1.55"/><circle cx="399.7" cy="129.6" r="1.55"/><circle cx="343.3" cy="122" r="1.55"/><circle cx="412.2" cy="101.6" r="1.55"/><circle cx="387.2" cy="105.9" r="1.55"/><circle cx="407.9" cy="89.6" r="1.55"/><circle cx="361.9" cy="128.3" r="1.55"/><circle cx="435.9" cy="80" r="1.55"/><circle cx="410" cy="90.7" r="1.55"/><circle cx="438.8" cy="77.9" r="1.55"/><circle cx="417.7" cy="87.3" r="1.55"/><circle cx="480.9" cy="80.3" r="1.55"/><circle cx="431.5" cy="83.2" r="1.55"/><circle cx="398" cy="114.9" r="1.55"/><circle cx="418.3" cy="113.2" r="1.55"/><circle cx="397.4" cy="100.3" r="1.55"/><circle cx="440" cy="75.5" r="1.55"/><circle cx="359.1" cy="115.1" r="1.55"/><circle cx="341.6" cy="121.3" r="1.55"/><circle cx="398.4" cy="106.3" r="1.55"/><circle cx="421.3" cy="81.2" r="1.55"/><circle cx="475.2" cy="64.9" r="1.55"/><circle cx="463" cy="73.9" r="1.55"/><circle cx="364.4" cy="124.8" r="1.55"/><circle cx="369.2" cy="107.2" r="1.55"/><circle cx="410.8" cy="88.3" r="1.55"/><circle cx="429.6" cy="90.5" r="1.55"/><circle cx="408" cy="87.7" r="1.55"/><circle cx="384.3" cy="112.3" r="1.55"/><circle cx="346.2" cy="124.4" r="1.55"/><circle cx="409.9" cy="92.9" r="1.55"/><circle cx="487.6" cy="62.5" r="1.55"/><circle cx="396.5" cy="120.6" r="1.55"/><circle cx="430.4" cy="85.5" r="1.55"/><circle cx="394.8" cy="97.1" r="1.55"/><circle cx="489.9" cy="61.9" r="1.55"/><circle cx="413.7" cy="88.9" r="1.55"/><circle cx="366.2" cy="115.6" r="1.55"/><circle cx="421.5" cy="85.1" r="1.55"/><circle cx="432.3" cy="78.4" r="1.55"/><circle cx="402.6" cy="87.2" r="1.55"/><circle cx="371.5" cy="102.8" r="1.55"/><circle cx="409.3" cy="80.8" r="1.55"/><circle cx="356.2" cy="120.9" r="1.55"/><circle cx="430.5" cy="75.9" r="1.55"/><circle cx="454.1" cy="82.8" r="1.55"/><circle cx="372.8" cy="104.4" r="1.55"/><circle cx="347.8" cy="113.8" r="1.55"/><circle cx="396.3" cy="107.2" r="1.55"/><circle cx="435" cy="77.5" r="1.55"/><circle cx="408.7" cy="90.1" r="1.55"/><circle cx="409.1" cy="83.5" r="1.55"/><circle cx="353.7" cy="119.4" r="1.55"/><circle cx="392" cy="104.8" r="1.55"/><circle cx="330.6" cy="135.6" r="1.55"/><circle cx="431.2" cy="83.4" r="1.55"/><circle cx="366.1" cy="111.4" r="1.55"/><circle cx="404.4" cy="106.7" r="1.55"/><circle cx="461.1" cy="73.9" r="1.55"/><circle cx="343.1" cy="136.5" r="1.55"/><circle cx="467.6" cy="68.1" r="1.55"/><circle cx="408.6" cy="89.2" r="1.55"/><circle cx="351.3" cy="106.5" r="1.55"/><circle cx="381" cy="118.6" r="1.55"/><circle cx="344.5" cy="123.2" r="1.55"/><circle cx="332.7" cy="135.7" r="1.55"/><circle cx="441.6" cy="71.8" r="1.55"/><circle cx="372" cy="123.3" r="1.55"/><circle cx="413.6" cy="99.5" r="1.55"/><circle cx="364.1" cy="111.9" r="1.55"/><circle cx="478.6" cy="68" r="1.55"/><circle cx="325.6" cy="134.9" r="1.55"/><circle cx="401.3" cy="107.9" r="1.55"/><circle cx="425.6" cy="76.1" r="1.55"/><circle cx="429.5" cy="91.4" r="1.55"/><circle cx="364.5" cy="121.5" r="1.55"/><circle cx="414.8" cy="119.5" r="1.55"/><circle cx="413.4" cy="92.7" r="1.55"/><circle cx="420.6" cy="95.4" r="1.55"/><circle cx="426.3" cy="87.6" r="1.55"/><circle cx="403" cy="94.5" r="1.55"/><circle cx="410" cy="72.5" r="1.55"/><circle cx="481.4" cy="54.6" r="1.55"/><circle cx="379.3" cy="113.3" r="1.55"/><circle cx="336.9" cy="126.2" r="1.55"/><circle cx="396.7" cy="103.8" r="1.55"/><circle cx="335.7" cy="137.5" r="1.55"/><circle cx="395.3" cy="107.7" r="1.55"/><circle cx="468.3" cy="84.5" r="1.55"/><circle cx="430" cy="86.3" r="1.55"/><circle cx="472" cy="66.8" r="1.55"/><circle cx="459.5" cy="66.6" r="1.55"/><circle cx="405.2" cy="94" r="1.55"/><circle cx="336.1" cy="128.2" r="1.55"/><circle cx="382.3" cy="115.8" r="1.55"/><circle cx="408.2" cy="96.4" r="1.55"/><circle cx="490.7" cy="51.7" r="1.55"/><circle cx="379.1" cy="105.3" r="1.55"/><circle cx="416.9" cy="105" r="1.55"/><circle cx="412.4" cy="91.1" r="1.55"/><circle cx="453.2" cy="74.5" r="1.55"/><circle cx="362.7" cy="120" r="1.55"/><circle cx="437" cy="76.5" r="1.55"/><circle cx="419.3" cy="89.8" r="1.55"/><circle cx="380" cy="115.4" r="1.55"/><circle cx="409" cy="94" r="1.55"/><circle cx="388.1" cy="110.5" r="1.55"/><circle cx="370.6" cy="114" r="1.55"/><circle cx="398.6" cy="107.1" r="1.55"/><circle cx="390.5" cy="101.6" r="1.55"/><circle cx="421.8" cy="125.6" r="1.55"/><circle cx="503.5" cy="55" r="1.55"/><circle cx="418.5" cy="95.8" r="1.55"/><circle cx="424.2" cy="82.5" r="1.55"/><circle cx="397.6" cy="99.2" r="1.55"/><circle cx="408.7" cy="98.8" r="1.55"/><circle cx="384.2" cy="107.8" r="1.55"/><circle cx="354.2" cy="117.9" r="1.55"/><circle cx="345.1" cy="144.2" r="1.55"/><circle cx="412.9" cy="97.7" r="1.55"/><circle cx="495.1" cy="56.9" r="1.55"/><circle cx="407.7" cy="106.1" r="1.55"/><circle cx="409.6" cy="115.9" r="1.55"/><circle cx="410.8" cy="93.4" r="1.55"/><circle cx="417.5" cy="95.3" r="1.55"/><circle cx="324.9" cy="147.5" r="1.55"/><circle cx="493.8" cy="63.6" r="1.55"/><circle cx="375.8" cy="110.1" r="1.55"/><circle cx="385.6" cy="107.2" r="1.55"/><circle cx="408.7" cy="108.7" r="1.55"/><circle cx="335.6" cy="125.7" r="1.55"/><circle cx="411.3" cy="92.6" r="1.55"/><circle cx="430" cy="86.2" r="1.55"/><circle cx="458.3" cy="67.8" r="1.55"/><circle cx="400.8" cy="92" r="1.55"/><circle cx="418.9" cy="92.1" r="1.55"/><circle cx="466.2" cy="99.9" r="1.55"/><circle cx="464.2" cy="65" r="1.55"/><circle cx="332.3" cy="125.9" r="1.55"/><circle cx="433.5" cy="81.3" r="1.55"/><circle cx="445.6" cy="83.4" r="1.55"/><circle cx="416.6" cy="94.6" r="1.55"/><circle cx="369.5" cy="105.4" r="1.55"/><circle cx="328.9" cy="139.3" r="1.55"/><circle cx="325.4" cy="136.1" r="1.55"/><circle cx="374.8" cy="112.5" r="1.55"/><circle cx="395.6" cy="108.6" r="1.55"/><circle cx="388.4" cy="100.5" r="1.55"/><circle cx="394.5" cy="100.6" r="1.55"/><circle cx="502.8" cy="61.7" r="1.55"/><circle cx="404.2" cy="93.3" r="1.55"/><circle cx="452.8" cy="77.3" r="1.55"/><circle cx="320.1" cy="125.1" r="1.55"/><circle cx="356.9" cy="100.4" r="1.55"/><circle cx="434.8" cy="87.3" r="1.55"/><circle cx="395.4" cy="104.8" r="1.55"/><circle cx="454.9" cy="71.1" r="1.55"/><circle cx="406.5" cy="91.5" r="1.55"/><circle cx="398.6" cy="105.2" r="1.55"/><circle cx="387.3" cy="115.6" r="1.55"/><circle cx="493.7" cy="55.4" r="1.55"/><circle cx="422.2" cy="90.9" r="1.55"/><circle cx="336.4" cy="131.5" r="1.55"/><circle cx="430" cy="85.7" r="1.55"/><circle cx="389.9" cy="108" r="1.55"/><circle cx="354.1" cy="116.3" r="1.55"/><circle cx="417.6" cy="100.6" r="1.55"/><circle cx="369.3" cy="109.8" r="1.55"/><circle cx="396.8" cy="91.1" r="1.55"/><circle cx="440.6" cy="78.3" r="1.55"/><circle cx="355.5" cy="116.2" r="1.55"/><circle cx="428.5" cy="95.7" r="1.55"/><circle cx="441.3" cy="75.5" r="1.55"/><circle cx="414.3" cy="92.6" r="1.55"/><circle cx="334.4" cy="139.2" r="1.55"/><circle cx="355.8" cy="122.4" r="1.55"/><circle cx="397.9" cy="103" r="1.55"/><circle cx="472.8" cy="62" r="1.55"/><circle cx="340.5" cy="134.5" r="1.55"/><circle cx="503.4" cy="60.8" r="1.55"/><circle cx="429.5" cy="101.4" r="1.55"/><circle cx="412.7" cy="98.4" r="1.55"/><circle cx="410.2" cy="91.4" r="1.55"/><circle cx="417.6" cy="88.3" r="1.55"/><circle cx="352.9" cy="116.1" r="1.55"/><circle cx="412.1" cy="77.4" r="1.55"/><circle cx="427.1" cy="79.9" r="1.55"/><circle cx="395.3" cy="102.9" r="1.55"/><circle cx="400.7" cy="103.9" r="1.55"/><circle cx="447.5" cy="75.5" r="1.55"/><circle cx="365.2" cy="94.4" r="1.55"/><circle cx="384.8" cy="108.1" r="1.55"/><circle cx="444" cy="73.3" r="1.55"/><circle cx="437.4" cy="82.5" r="1.55"/><circle cx="369.4" cy="105.3" r="1.55"/><circle cx="379.9" cy="108.8" r="1.55"/><circle cx="345.9" cy="120.2" r="1.55"/><circle cx="409.7" cy="99.5" r="1.55"/><circle cx="490" cy="62.3" r="1.55"/><circle cx="503.8" cy="61.7" r="1.55"/><circle cx="410.1" cy="92.6" r="1.55"/><circle cx="426.4" cy="83.3" r="1.55"/><circle cx="485.6" cy="65.2" r="1.55"/><circle cx="374.5" cy="121.3" r="1.55"/><circle cx="392.8" cy="101.4" r="1.55"/><circle cx="392.5" cy="109.1" r="1.55"/><circle cx="406.2" cy="102.4" r="1.55"/><circle cx="394.9" cy="108.1" r="1.55"/><circle cx="413.5" cy="94.8" r="1.55"/><circle cx="500.1" cy="79.4" r="1.55"/><circle cx="378.7" cy="110.7" r="1.55"/><circle cx="432.3" cy="85.6" r="1.55"/><circle cx="395.5" cy="86.4" r="1.55"/><circle cx="518.6" cy="50.2" r="1.55"/><circle cx="522.6" cy="57.7" r="1.55"/><circle cx="413.9" cy="73.9" r="1.55"/><circle cx="433.6" cy="82.2" r="1.55"/><circle cx="417.1" cy="101.2" r="1.55"/><circle cx="395.9" cy="99.5" r="1.55"/><circle cx="339.1" cy="147.4" r="1.55"/><circle cx="422.4" cy="75" r="1.55"/><circle cx="356.6" cy="137.9" r="1.55"/><circle cx="333.1" cy="136" r="1.55"/><circle cx="388.6" cy="108.8" r="1.55"/><circle cx="363.8" cy="116" r="1.55"/><circle cx="463.7" cy="65.5" r="1.55"/><circle cx="397.4" cy="106" r="1.55"/><circle cx="438.6" cy="86.7" r="1.55"/><circle cx="398.7" cy="106.9" r="1.55"/><circle cx="399.1" cy="99.6" r="1.55"/><circle cx="408.9" cy="87.8" r="1.55"/><circle cx="406.7" cy="107.9" r="1.55"/><circle cx="405.7" cy="96.7" r="1.55"/><circle cx="369" cy="110" r="1.55"/><circle cx="455.4" cy="73.4" r="1.55"/><circle cx="420.2" cy="91.9" r="1.55"/><circle cx="415.6" cy="89.4" r="1.55"/><circle cx="340.3" cy="114" r="1.55"/><circle cx="405.7" cy="97.1" r="1.55"/><circle cx="364.8" cy="128" r="1.55"/><circle cx="395.8" cy="99.7" r="1.55"/><circle cx="373.1" cy="90.7" r="1.55"/><circle cx="421.3" cy="79.4" r="1.55"/><circle cx="347" cy="118.3" r="1.55"/><circle cx="337.1" cy="134.6" r="1.55"/><circle cx="423.1" cy="111.2" r="1.55"/><circle cx="453.8" cy="69.7" r="1.55"/><circle cx="413.3" cy="91.4" r="1.55"/><circle cx="427.9" cy="87.3" r="1.55"/><circle cx="406.1" cy="118.3" r="1.55"/><circle cx="335.7" cy="139.3" r="1.55"/><circle cx="431.4" cy="80.9" r="1.55"/><circle cx="402.8" cy="85.3" r="1.55"/><circle cx="451.4" cy="71.8" r="1.55"/><circle cx="339.6" cy="127.7" r="1.55"/><circle cx="400.6" cy="82.1" r="1.55"/><circle cx="361.5" cy="127.2" r="1.55"/><circle cx="373.5" cy="114.2" r="1.55"/><circle cx="374" cy="108" r="1.55"/><circle cx="410.6" cy="91.7" r="1.55"/><circle cx="326.2" cy="131.1" r="1.55"/><circle cx="430.5" cy="79.1" r="1.55"/><circle cx="388.9" cy="102.4" r="1.55"/><circle cx="452.6" cy="76.5" r="1.55"/><circle cx="435.3" cy="83.3" r="1.55"/><circle cx="404.7" cy="94.8" r="1.55"/><circle cx="403.2" cy="113.6" r="1.55"/><circle cx="386.9" cy="127.9" r="1.55"/><circle cx="525.7" cy="47.5" r="1.55"/><circle cx="417.9" cy="150.5" r="1.55"/><circle cx="473.3" cy="62" r="1.55"/><circle cx="390" cy="104.9" r="1.55"/><circle cx="377.2" cy="114.9" r="1.55"/><circle cx="363.1" cy="120.8" r="1.55"/><circle cx="380.6" cy="113.1" r="1.55"/><circle cx="417.4" cy="86.8" r="1.55"/><circle cx="425" cy="90.4" r="1.55"/><circle cx="424.5" cy="80.6" r="1.55"/><circle cx="423.6" cy="85.7" r="1.55"/><circle cx="398.2" cy="102.1" r="1.55"/><circle cx="441.3" cy="75.9" r="1.55"/><circle cx="503.5" cy="80" r="1.55"/><circle cx="446.9" cy="104.9" r="1.55"/><circle cx="487.6" cy="107.4" r="1.55"/><circle cx="511.3" cy="76" r="1.55"/><circle cx="447.2" cy="105.5" r="1.55"/><circle cx="520.8" cy="97.1" r="1.55"/><circle cx="456.4" cy="91.7" r="1.55"/><circle cx="456.5" cy="89.5" r="1.55"/><circle cx="510.1" cy="78.6" r="1.55"/><circle cx="429.6" cy="106.4" r="1.55"/><circle cx="471.7" cy="98.6" r="1.55"/><circle cx="431.4" cy="112.2" r="1.55"/><circle cx="435.8" cy="104" r="1.55"/><circle cx="411.6" cy="126.3" r="1.55"/><circle cx="438.1" cy="108.5" r="1.55"/><circle cx="409.4" cy="122.7" r="1.55"/><circle cx="485" cy="97.1" r="1.55"/><circle cx="501.5" cy="76.6" r="1.55"/><circle cx="428.2" cy="103.9" r="1.55"/><circle cx="470.9" cy="87.3" r="1.55"/><circle cx="440" cy="99.6" r="1.55"/><circle cx="437.4" cy="111.3" r="1.55"/><circle cx="337.3" cy="109" r="1.55"/><circle cx="415" cy="66.9" r="1.55"/><circle cx="372.5" cy="95.1" r="1.55"/><circle cx="383.5" cy="82.5" r="1.55"/><circle cx="408.2" cy="73.3" r="1.55"/><circle cx="436" cy="62.2" r="1.55"/></g>
<g fill="#ff8a14" fill-opacity="0.43"><circle cx="394.7" cy="104.4" r="2.05"/><circle cx="384.4" cy="101.5" r="2.05"/><circle cx="396.1" cy="102.9" r="2.05"/><circle cx="444.3" cy="82.3" r="2.05"/><circle cx="421" cy="92.6" r="2.05"/><circle cx="421.2" cy="92.6" r="2.05"/><circle cx="397.1" cy="107.8" r="2.05"/><circle cx="367.4" cy="134.1" r="2.05"/><circle cx="393.1" cy="87.9" r="2.05"/><circle cx="372.9" cy="121.5" r="2.05"/><circle cx="365.7" cy="120.9" r="2.05"/><circle cx="425.2" cy="88.5" r="2.05"/><circle cx="404.9" cy="93" r="2.05"/><circle cx="415.2" cy="92.3" r="2.05"/><circle cx="389.2" cy="107.9" r="2.05"/><circle cx="402.6" cy="95.2" r="2.05"/><circle cx="430.2" cy="85.5" r="2.05"/><circle cx="410.5" cy="102.9" r="2.05"/><circle cx="464.2" cy="63.6" r="2.05"/><circle cx="344" cy="128.8" r="2.05"/><circle cx="504.7" cy="48.4" r="2.05"/><circle cx="415.6" cy="92.1" r="2.05"/><circle cx="377.8" cy="104.8" r="2.05"/><circle cx="387.5" cy="109.6" r="2.05"/><circle cx="416.2" cy="94.3" r="2.05"/><circle cx="477.6" cy="68.4" r="2.05"/><circle cx="417.5" cy="90.6" r="2.05"/><circle cx="352" cy="117.1" r="2.05"/><circle cx="354.2" cy="105.6" r="2.05"/><circle cx="347.8" cy="117.8" r="2.05"/><circle cx="362.5" cy="120.2" r="2.05"/><circle cx="401.3" cy="97.9" r="2.05"/><circle cx="450.7" cy="61.2" r="2.05"/><circle cx="444.1" cy="76.3" r="2.05"/><circle cx="328.4" cy="148" r="2.05"/><circle cx="415.6" cy="93.1" r="2.05"/><circle cx="320.1" cy="134" r="2.05"/><circle cx="396.2" cy="100.9" r="2.05"/><circle cx="447.1" cy="72.9" r="2.05"/><circle cx="413.8" cy="83.7" r="2.05"/><circle cx="385.7" cy="99.6" r="2.05"/><circle cx="484.6" cy="61.1" r="2.05"/><circle cx="430.7" cy="87.6" r="2.05"/><circle cx="400.1" cy="94.3" r="2.05"/><circle cx="450" cy="81.5" r="2.05"/><circle cx="401.3" cy="96.3" r="2.05"/><circle cx="395.1" cy="106" r="2.05"/><circle cx="408.3" cy="101.8" r="2.05"/><circle cx="433.6" cy="87.2" r="2.05"/><circle cx="367.1" cy="121.2" r="2.05"/><circle cx="362.2" cy="123.6" r="2.05"/><circle cx="439.3" cy="82.3" r="2.05"/><circle cx="346.7" cy="123.6" r="2.05"/><circle cx="397.1" cy="98.1" r="2.05"/><circle cx="421.8" cy="83.7" r="2.05"/><circle cx="364.3" cy="122.2" r="2.05"/><circle cx="411.1" cy="101.6" r="2.05"/><circle cx="404.9" cy="93.8" r="2.05"/><circle cx="464.1" cy="73.4" r="2.05"/><circle cx="416.7" cy="100.7" r="2.05"/><circle cx="394.2" cy="105.5" r="2.05"/><circle cx="400.2" cy="96.4" r="2.05"/><circle cx="383" cy="88.2" r="2.05"/><circle cx="388.5" cy="110.9" r="2.05"/><circle cx="388.7" cy="122.5" r="2.05"/><circle cx="413.7" cy="90.6" r="2.05"/><circle cx="415.2" cy="89.9" r="2.05"/><circle cx="456.2" cy="83" r="2.05"/><circle cx="366.4" cy="116.1" r="2.05"/><circle cx="398" cy="92.9" r="2.05"/><circle cx="432.1" cy="69.8" r="2.05"/><circle cx="419.9" cy="88.2" r="2.05"/><circle cx="342.5" cy="128.8" r="2.05"/><circle cx="424.4" cy="79" r="2.05"/><circle cx="434.8" cy="120.8" r="2.05"/><circle cx="434.3" cy="79.3" r="2.05"/><circle cx="443.8" cy="71" r="2.05"/><circle cx="438.9" cy="76.1" r="2.05"/><circle cx="395.6" cy="97.4" r="2.05"/><circle cx="384.3" cy="100.8" r="2.05"/><circle cx="406.9" cy="116.1" r="2.05"/><circle cx="462.7" cy="66.2" r="2.05"/><circle cx="365.2" cy="111.6" r="2.05"/><circle cx="434.1" cy="76.8" r="2.05"/><circle cx="393.9" cy="104" r="2.05"/><circle cx="424.9" cy="80.3" r="2.05"/><circle cx="401.6" cy="104.1" r="2.05"/><circle cx="388.6" cy="110.3" r="2.05"/><circle cx="339.6" cy="126.1" r="2.05"/><circle cx="458.7" cy="72.9" r="2.05"/><circle cx="430.8" cy="82.1" r="2.05"/><circle cx="390.2" cy="110.5" r="2.05"/><circle cx="324.2" cy="124.2" r="2.05"/><circle cx="325.8" cy="133.5" r="2.05"/><circle cx="388.8" cy="107.3" r="2.05"/><circle cx="415.4" cy="93.3" r="2.05"/><circle cx="403.8" cy="97.8" r="2.05"/><circle cx="403.1" cy="98.8" r="2.05"/><circle cx="425.9" cy="91.5" r="2.05"/><circle cx="407.7" cy="95.7" r="2.05"/><circle cx="334.8" cy="142.9" r="2.05"/><circle cx="410.8" cy="91.7" r="2.05"/><circle cx="394.9" cy="103.9" r="2.05"/><circle cx="445.4" cy="77.1" r="2.05"/><circle cx="389.4" cy="105" r="2.05"/><circle cx="407.7" cy="99.1" r="2.05"/><circle cx="422.6" cy="91" r="2.05"/><circle cx="418.1" cy="97.2" r="2.05"/><circle cx="434.3" cy="81.4" r="2.05"/><circle cx="398.9" cy="101.7" r="2.05"/><circle cx="439.4" cy="80.7" r="2.05"/><circle cx="456.1" cy="58.8" r="2.05"/><circle cx="340.7" cy="142.1" r="2.05"/><circle cx="373.6" cy="108.1" r="2.05"/><circle cx="404.6" cy="124.6" r="2.05"/><circle cx="414.7" cy="91" r="2.05"/><circle cx="400.4" cy="114.2" r="2.05"/><circle cx="436.4" cy="104" r="2.05"/><circle cx="455" cy="82.1" r="2.05"/><circle cx="439.9" cy="79.6" r="2.05"/><circle cx="450.2" cy="73.2" r="2.05"/><circle cx="335.8" cy="123" r="2.05"/><circle cx="469.4" cy="64.7" r="2.05"/><circle cx="390.3" cy="100.7" r="2.05"/><circle cx="407.3" cy="94.8" r="2.05"/><circle cx="433.7" cy="68.9" r="2.05"/><circle cx="404.4" cy="96.3" r="2.05"/><circle cx="429.8" cy="84.6" r="2.05"/><circle cx="392.4" cy="97.9" r="2.05"/><circle cx="425.6" cy="106.8" r="2.05"/><circle cx="347.7" cy="134" r="2.05"/><circle cx="401.3" cy="96.8" r="2.05"/><circle cx="402.2" cy="101.8" r="2.05"/><circle cx="373.2" cy="116.5" r="2.05"/><circle cx="395.1" cy="88.2" r="2.05"/><circle cx="408.9" cy="88.1" r="2.05"/><circle cx="452.7" cy="73.4" r="2.05"/><circle cx="403.2" cy="101" r="2.05"/><circle cx="414.6" cy="86.7" r="2.05"/><circle cx="382.7" cy="108.9" r="2.05"/><circle cx="386.2" cy="105.1" r="2.05"/><circle cx="460.8" cy="77.5" r="2.05"/><circle cx="370.2" cy="120.3" r="2.05"/><circle cx="418.2" cy="93.9" r="2.05"/><circle cx="438.6" cy="81.4" r="2.05"/><circle cx="351.8" cy="128.5" r="2.05"/><circle cx="490.5" cy="59.1" r="2.05"/><circle cx="437.8" cy="89.6" r="2.05"/><circle cx="358" cy="129.3" r="2.05"/><circle cx="411.1" cy="96.4" r="2.05"/><circle cx="395.2" cy="103.6" r="2.05"/><circle cx="391.9" cy="101.4" r="2.05"/><circle cx="467" cy="69.7" r="2.05"/><circle cx="421.2" cy="86.3" r="2.05"/><circle cx="431.7" cy="86" r="2.05"/><circle cx="439.6" cy="77.5" r="2.05"/><circle cx="362.5" cy="114.3" r="2.05"/><circle cx="385.7" cy="100.9" r="2.05"/><circle cx="433.4" cy="85.2" r="2.05"/><circle cx="326.2" cy="131.1" r="2.05"/><circle cx="344.3" cy="121.1" r="2.05"/><circle cx="430.5" cy="81.4" r="2.05"/><circle cx="423" cy="92.5" r="2.05"/><circle cx="394.8" cy="87.4" r="2.05"/><circle cx="430.7" cy="88.2" r="2.05"/><circle cx="473.2" cy="68.3" r="2.05"/><circle cx="407.8" cy="104.8" r="2.05"/><circle cx="419.9" cy="101.7" r="2.05"/><circle cx="370.6" cy="113" r="2.05"/><circle cx="357.1" cy="128" r="2.05"/><circle cx="411.2" cy="94.1" r="2.05"/><circle cx="395.3" cy="99.4" r="2.05"/><circle cx="402.3" cy="106.8" r="2.05"/><circle cx="405.7" cy="97.9" r="2.05"/><circle cx="414.7" cy="93.9" r="2.05"/><circle cx="490.9" cy="55" r="2.05"/><circle cx="422.9" cy="86.8" r="2.05"/><circle cx="382.5" cy="111.7" r="2.05"/><circle cx="363.5" cy="112.2" r="2.05"/><circle cx="392.1" cy="111.3" r="2.05"/><circle cx="432.8" cy="73.7" r="2.05"/><circle cx="400.7" cy="100" r="2.05"/><circle cx="509.1" cy="54.9" r="2.05"/><circle cx="468.4" cy="68.8" r="2.05"/><circle cx="373.8" cy="111.1" r="2.05"/><circle cx="471.2" cy="66.2" r="2.05"/><circle cx="481.4" cy="67.8" r="2.05"/><circle cx="374.5" cy="111.9" r="2.05"/><circle cx="467.3" cy="82.9" r="2.05"/><circle cx="367.7" cy="120.7" r="2.05"/><circle cx="358.3" cy="101.3" r="2.05"/><circle cx="330.2" cy="132.3" r="2.05"/><circle cx="526" cy="48.4" r="2.05"/><circle cx="448.5" cy="84.4" r="2.05"/><circle cx="395.1" cy="101.8" r="2.05"/><circle cx="339.3" cy="112.3" r="2.05"/><circle cx="388.8" cy="108.1" r="2.05"/><circle cx="433.2" cy="81.9" r="2.05"/><circle cx="431" cy="80.8" r="2.05"/><circle cx="332" cy="134.7" r="2.05"/><circle cx="406.1" cy="101.5" r="2.05"/><circle cx="352.8" cy="132.4" r="2.05"/><circle cx="345.5" cy="122.1" r="2.05"/><circle cx="419.6" cy="85.5" r="2.05"/><circle cx="400.6" cy="97.5" r="2.05"/><circle cx="415.8" cy="92.6" r="2.05"/><circle cx="388.1" cy="110.5" r="2.05"/><circle cx="349.1" cy="119.1" r="2.05"/><circle cx="419" cy="92.1" r="2.05"/><circle cx="420.5" cy="87.4" r="2.05"/><circle cx="420.3" cy="84.1" r="2.05"/><circle cx="330.9" cy="143.7" r="2.05"/><circle cx="420.1" cy="85.3" r="2.05"/><circle cx="398.9" cy="107" r="2.05"/><circle cx="353" cy="118.7" r="2.05"/><circle cx="420.8" cy="80.1" r="2.05"/><circle cx="464.5" cy="69.1" r="2.05"/><circle cx="412.3" cy="93.9" r="2.05"/><circle cx="416.5" cy="102.2" r="2.05"/><circle cx="430.7" cy="90.7" r="2.05"/><circle cx="374.8" cy="119.7" r="2.05"/><circle cx="380.4" cy="111.7" r="2.05"/><circle cx="396" cy="100.8" r="2.05"/><circle cx="358.7" cy="112.9" r="2.05"/><circle cx="392.5" cy="105.1" r="2.05"/><circle cx="404.2" cy="101.1" r="2.05"/><circle cx="461.8" cy="64.9" r="2.05"/><circle cx="401.3" cy="106.3" r="2.05"/><circle cx="483.7" cy="59.7" r="2.05"/><circle cx="360.9" cy="119.3" r="2.05"/><circle cx="398.8" cy="121.3" r="2.05"/><circle cx="451.5" cy="61.6" r="2.05"/><circle cx="513.4" cy="54.3" r="2.05"/><circle cx="436" cy="79.9" r="2.05"/><circle cx="338.3" cy="132.1" r="2.05"/><circle cx="381.6" cy="110.5" r="2.05"/><circle cx="436" cy="86" r="2.05"/><circle cx="347.1" cy="129.9" r="2.05"/><circle cx="435.7" cy="89.4" r="2.05"/><circle cx="373.9" cy="97.6" r="2.05"/><circle cx="404.3" cy="94.5" r="2.05"/><circle cx="403" cy="113" r="2.05"/><circle cx="437.5" cy="80.9" r="2.05"/><circle cx="422.8" cy="79.2" r="2.05"/><circle cx="411.7" cy="93.2" r="2.05"/><circle cx="394" cy="101.7" r="2.05"/><circle cx="423.7" cy="109.7" r="2.05"/><circle cx="336.8" cy="150.6" r="2.05"/><circle cx="400.9" cy="100.8" r="2.05"/><circle cx="378.4" cy="103.2" r="2.05"/><circle cx="447.5" cy="85.7" r="2.05"/><circle cx="424" cy="90" r="2.05"/><circle cx="416" cy="84.1" r="2.05"/><circle cx="424.9" cy="87.5" r="2.05"/><circle cx="380.9" cy="100.2" r="2.05"/><circle cx="404.9" cy="126.3" r="2.05"/><circle cx="421" cy="83.9" r="2.05"/><circle cx="420.6" cy="93.2" r="2.05"/><circle cx="351.3" cy="121.4" r="2.05"/><circle cx="367.7" cy="141" r="2.05"/><circle cx="405.9" cy="91.8" r="2.05"/><circle cx="408.9" cy="92.8" r="2.05"/><circle cx="419.6" cy="80.7" r="2.05"/><circle cx="353.8" cy="122.6" r="2.05"/><circle cx="430.8" cy="88.9" r="2.05"/><circle cx="438.6" cy="89.7" r="2.05"/><circle cx="396.6" cy="101.6" r="2.05"/><circle cx="471.2" cy="65.9" r="2.05"/><circle cx="417.5" cy="88.5" r="2.05"/><circle cx="387.6" cy="103.4" r="2.05"/><circle cx="398.8" cy="95.6" r="2.05"/><circle cx="428.2" cy="79.5" r="2.05"/><circle cx="428.2" cy="90.8" r="2.05"/><circle cx="410.1" cy="98.1" r="2.05"/><circle cx="415.2" cy="83.5" r="2.05"/><circle cx="394.7" cy="104.3" r="2.05"/><circle cx="376.3" cy="118.2" r="2.05"/><circle cx="406.7" cy="74.2" r="2.05"/><circle cx="494.9" cy="51.7" r="2.05"/><circle cx="470.4" cy="70.7" r="2.05"/><circle cx="372.5" cy="116.6" r="2.05"/><circle cx="342.9" cy="127.7" r="2.05"/><circle cx="399.9" cy="108.6" r="2.05"/><circle cx="385" cy="103.8" r="2.05"/><circle cx="420.2" cy="111.5" r="2.05"/><circle cx="412.2" cy="94.1" r="2.05"/><circle cx="478.9" cy="72.2" r="2.05"/><circle cx="424.5" cy="89.5" r="2.05"/><circle cx="444.5" cy="97" r="2.05"/><circle cx="396.3" cy="113.1" r="2.05"/><circle cx="395.2" cy="109.7" r="2.05"/><circle cx="384.4" cy="114.7" r="2.05"/><circle cx="412.5" cy="92.2" r="2.05"/><circle cx="389.7" cy="94.3" r="2.05"/><circle cx="508.3" cy="54" r="2.05"/><circle cx="418.3" cy="94.4" r="2.05"/><circle cx="440.5" cy="78.6" r="2.05"/><circle cx="429.3" cy="77" r="2.05"/><circle cx="341.3" cy="125.4" r="2.05"/><circle cx="364.3" cy="107.5" r="2.05"/><circle cx="446.2" cy="76.4" r="2.05"/><circle cx="409.2" cy="93.8" r="2.05"/><circle cx="355.9" cy="119.6" r="2.05"/><circle cx="340.9" cy="118.6" r="2.05"/><circle cx="337.6" cy="130.8" r="2.05"/><circle cx="322" cy="135.7" r="2.05"/><circle cx="411.6" cy="89.4" r="2.05"/><circle cx="415.6" cy="86" r="2.05"/><circle cx="359.4" cy="119.9" r="2.05"/><circle cx="325.6" cy="133.3" r="2.05"/><circle cx="416" cy="89.1" r="2.05"/><circle cx="325.4" cy="121.9" r="2.05"/><circle cx="412.6" cy="95.2" r="2.05"/><circle cx="524.8" cy="47.8" r="2.05"/><circle cx="408.4" cy="95.3" r="2.05"/><circle cx="344.2" cy="125.9" r="2.05"/><circle cx="438.7" cy="81.8" r="2.05"/><circle cx="464" cy="67.7" r="2.05"/><circle cx="367.9" cy="119.5" r="2.05"/><circle cx="398.5" cy="103.7" r="2.05"/><circle cx="491.3" cy="61.2" r="2.05"/><circle cx="367.9" cy="110" r="2.05"/><circle cx="357.5" cy="132.6" r="2.05"/><circle cx="368.1" cy="117.8" r="2.05"/><circle cx="411" cy="104.4" r="2.05"/><circle cx="407.3" cy="100.8" r="2.05"/><circle cx="415.6" cy="85.2" r="2.05"/><circle cx="394.1" cy="117.3" r="2.05"/><circle cx="363.1" cy="119.3" r="2.05"/><circle cx="361.2" cy="120.2" r="2.05"/><circle cx="417.8" cy="88.2" r="2.05"/><circle cx="338.1" cy="127.8" r="2.05"/><circle cx="395.3" cy="99.4" r="2.05"/><circle cx="345.6" cy="132.2" r="2.05"/><circle cx="393.6" cy="103.4" r="2.05"/><circle cx="362.8" cy="115.3" r="2.05"/><circle cx="404.4" cy="98" r="2.05"/><circle cx="469" cy="76.2" r="2.05"/><circle cx="370.6" cy="114.5" r="2.05"/><circle cx="352" cy="120.3" r="2.05"/><circle cx="373.3" cy="110.8" r="2.05"/><circle cx="414.9" cy="90.8" r="2.05"/><circle cx="375.3" cy="110.5" r="2.05"/><circle cx="404.6" cy="100" r="2.05"/><circle cx="491.2" cy="55.1" r="2.05"/><circle cx="391.7" cy="111.8" r="2.05"/><circle cx="449.3" cy="83" r="2.05"/><circle cx="389.7" cy="93.6" r="2.05"/><circle cx="408.2" cy="105.7" r="2.05"/><circle cx="480.6" cy="52.2" r="2.05"/><circle cx="453.2" cy="68.8" r="2.05"/><circle cx="404.9" cy="89.9" r="2.05"/><circle cx="426.5" cy="79.4" r="2.05"/><circle cx="419.6" cy="88.1" r="2.05"/><circle cx="387.5" cy="110.7" r="2.05"/><circle cx="418.4" cy="89.5" r="2.05"/><circle cx="345.1" cy="124.1" r="2.05"/><circle cx="414.6" cy="109.4" r="2.05"/><circle cx="395.8" cy="105.7" r="2.05"/><circle cx="410.3" cy="95" r="2.05"/><circle cx="439.3" cy="77.6" r="2.05"/><circle cx="501.8" cy="51.5" r="2.05"/><circle cx="407.4" cy="89.8" r="2.05"/><circle cx="377.4" cy="103.2" r="2.05"/><circle cx="396.3" cy="112.7" r="2.05"/><circle cx="417.7" cy="94.2" r="2.05"/><circle cx="412.9" cy="100.4" r="2.05"/><circle cx="346" cy="123.4" r="2.05"/><circle cx="403.4" cy="104.7" r="2.05"/><circle cx="423.2" cy="92.3" r="2.05"/><circle cx="435" cy="76.9" r="2.05"/><circle cx="358.4" cy="117" r="2.05"/><circle cx="404.4" cy="108.9" r="2.05"/><circle cx="374.7" cy="107.8" r="2.05"/><circle cx="469" cy="70.7" r="2.05"/><circle cx="376.7" cy="112.4" r="2.05"/><circle cx="407.1" cy="96.9" r="2.05"/><circle cx="395" cy="100.4" r="2.05"/><circle cx="422.8" cy="69.1" r="2.05"/><circle cx="410.7" cy="96.7" r="2.05"/><circle cx="417.2" cy="97" r="2.05"/><circle cx="431" cy="91.2" r="2.05"/><circle cx="323.8" cy="137.3" r="2.05"/><circle cx="429.4" cy="84.8" r="2.05"/><circle cx="403.5" cy="98.9" r="2.05"/><circle cx="410.1" cy="104.3" r="2.05"/><circle cx="340.9" cy="125.3" r="2.05"/><circle cx="431.6" cy="83.5" r="2.05"/><circle cx="356.9" cy="123.5" r="2.05"/><circle cx="390.5" cy="102.3" r="2.05"/><circle cx="403" cy="101.1" r="2.05"/><circle cx="370.4" cy="125" r="2.05"/><circle cx="371.1" cy="112.4" r="2.05"/><circle cx="425.2" cy="90.5" r="2.05"/><circle cx="411.8" cy="98.9" r="2.05"/><circle cx="365.2" cy="120.6" r="2.05"/><circle cx="417" cy="90.4" r="2.05"/><circle cx="405.8" cy="90.9" r="2.05"/><circle cx="348.6" cy="129" r="2.05"/><circle cx="374.7" cy="119.4" r="2.05"/><circle cx="349.5" cy="119.1" r="2.05"/><circle cx="397" cy="111.2" r="2.05"/><circle cx="460.4" cy="67.8" r="2.05"/><circle cx="383.9" cy="104" r="2.05"/><circle cx="406" cy="99.1" r="2.05"/><circle cx="359.1" cy="128" r="2.05"/><circle cx="414.3" cy="93" r="2.05"/><circle cx="389" cy="109.9" r="2.05"/><circle cx="424" cy="85.9" r="2.05"/><circle cx="362.7" cy="126.2" r="2.05"/><circle cx="451.2" cy="76.2" r="2.05"/><circle cx="403.7" cy="95.6" r="2.05"/><circle cx="409.7" cy="93.8" r="2.05"/><circle cx="433.5" cy="103.8" r="2.05"/><circle cx="427.6" cy="88" r="2.05"/><circle cx="419.9" cy="86.4" r="2.05"/><circle cx="350.8" cy="122.2" r="2.05"/><circle cx="425" cy="94.2" r="2.05"/><circle cx="423.2" cy="100.7" r="2.05"/><circle cx="388.8" cy="105.5" r="2.05"/><circle cx="402.6" cy="98.4" r="2.05"/><circle cx="393.7" cy="104.3" r="2.05"/><circle cx="440.3" cy="81.2" r="2.05"/><circle cx="413.3" cy="84" r="2.05"/><circle cx="385.4" cy="106.8" r="2.05"/><circle cx="378.9" cy="123.3" r="2.05"/><circle cx="391" cy="104.1" r="2.05"/><circle cx="397" cy="111.1" r="2.05"/><circle cx="350.8" cy="125.9" r="2.05"/><circle cx="380.2" cy="105.1" r="2.05"/><circle cx="424.5" cy="93.6" r="2.05"/><circle cx="409.8" cy="96.6" r="2.05"/><circle cx="347.8" cy="129.3" r="2.05"/><circle cx="378.6" cy="105.9" r="2.05"/><circle cx="321" cy="137.1" r="2.05"/><circle cx="396.6" cy="113.8" r="2.05"/><circle cx="368.8" cy="111.9" r="2.05"/><circle cx="381.1" cy="107.2" r="2.05"/><circle cx="430.5" cy="86" r="2.05"/><circle cx="418.2" cy="84.1" r="2.05"/><circle cx="362.4" cy="119.3" r="2.05"/><circle cx="424.3" cy="74.7" r="2.05"/><circle cx="439.8" cy="83.1" r="2.05"/><circle cx="367.8" cy="124.7" r="2.05"/><circle cx="408.2" cy="103.9" r="2.05"/><circle cx="376" cy="118.3" r="2.05"/><circle cx="317.9" cy="126.1" r="2.05"/><circle cx="363.6" cy="120.9" r="2.05"/><circle cx="398.5" cy="104.6" r="2.05"/><circle cx="401.4" cy="93.6" r="2.05"/><circle cx="406.7" cy="102.7" r="2.05"/><circle cx="401.4" cy="93.3" r="2.05"/><circle cx="419.3" cy="94.3" r="2.05"/><circle cx="407.6" cy="95.2" r="2.05"/><circle cx="432" cy="84.6" r="2.05"/><circle cx="321.4" cy="141.2" r="2.05"/><circle cx="406" cy="100.6" r="2.05"/><circle cx="364.6" cy="114.4" r="2.05"/><circle cx="367.7" cy="108.4" r="2.05"/><circle cx="388.5" cy="106.1" r="2.05"/><circle cx="340.2" cy="123.7" r="2.05"/><circle cx="410.8" cy="90.4" r="2.05"/><circle cx="421.3" cy="89.4" r="2.05"/><circle cx="367.4" cy="123.4" r="2.05"/><circle cx="466.3" cy="67.7" r="2.05"/><circle cx="444.1" cy="82.1" r="2.05"/><circle cx="397" cy="99.3" r="2.05"/><circle cx="425.4" cy="80.1" r="2.05"/><circle cx="381.4" cy="123.3" r="2.05"/><circle cx="401.1" cy="99.9" r="2.05"/><circle cx="379.9" cy="122.7" r="2.05"/><circle cx="353.9" cy="125.9" r="2.05"/><circle cx="424.7" cy="93.6" r="2.05"/><circle cx="434.2" cy="86.9" r="2.05"/><circle cx="447.3" cy="76.7" r="2.05"/><circle cx="356.1" cy="131.2" r="2.05"/><circle cx="376.3" cy="123.5" r="2.05"/><circle cx="401.5" cy="100.8" r="2.05"/><circle cx="474.1" cy="64.1" r="2.05"/><circle cx="403.7" cy="102.6" r="2.05"/><circle cx="418.5" cy="83" r="2.05"/><circle cx="328.6" cy="130.5" r="2.05"/><circle cx="375.9" cy="120.9" r="2.05"/><circle cx="403.7" cy="96.3" r="2.05"/><circle cx="450" cy="73.1" r="2.05"/><circle cx="407.1" cy="102.2" r="2.05"/><circle cx="421.6" cy="86.7" r="2.05"/><circle cx="393.6" cy="104.1" r="2.05"/><circle cx="390.8" cy="150.1" r="2.05"/><circle cx="383.5" cy="120.5" r="2.05"/><circle cx="403.4" cy="98.8" r="2.05"/><circle cx="425.8" cy="111.1" r="2.05"/><circle cx="393.1" cy="104.4" r="2.05"/><circle cx="404.9" cy="107.1" r="2.05"/><circle cx="434.4" cy="85.1" r="2.05"/><circle cx="431.5" cy="89.8" r="2.05"/><circle cx="464.2" cy="60.5" r="2.05"/><circle cx="419.8" cy="84.4" r="2.05"/><circle cx="439.1" cy="86.6" r="2.05"/><circle cx="398.3" cy="100.3" r="2.05"/><circle cx="393.4" cy="110.4" r="2.05"/><circle cx="352.5" cy="128.1" r="2.05"/><circle cx="414.4" cy="91.7" r="2.05"/><circle cx="482.6" cy="60.9" r="2.05"/><circle cx="413.2" cy="93.6" r="2.05"/><circle cx="337.6" cy="126.3" r="2.05"/><circle cx="397.8" cy="95.3" r="2.05"/><circle cx="351.2" cy="118.5" r="2.05"/><circle cx="444.2" cy="81.7" r="2.05"/><circle cx="357.8" cy="118" r="2.05"/><circle cx="402.6" cy="97.6" r="2.05"/><circle cx="334.5" cy="127.6" r="2.05"/><circle cx="444.5" cy="77.7" r="2.05"/><circle cx="400.4" cy="99.5" r="2.05"/><circle cx="371.2" cy="111.2" r="2.05"/><circle cx="385.5" cy="103.9" r="2.05"/><circle cx="353.8" cy="118.4" r="2.05"/><circle cx="426.1" cy="97.6" r="2.05"/><circle cx="355.3" cy="120.9" r="2.05"/><circle cx="403.8" cy="93.5" r="2.05"/><circle cx="413.9" cy="101.7" r="2.05"/><circle cx="349.5" cy="133.9" r="2.05"/><circle cx="399.6" cy="101.9" r="2.05"/><circle cx="430.9" cy="71" r="2.05"/><circle cx="425.9" cy="87.3" r="2.05"/><circle cx="388.1" cy="143.1" r="2.05"/><circle cx="426.8" cy="91.6" r="2.05"/><circle cx="430.4" cy="86.3" r="2.05"/><circle cx="334.2" cy="132.3" r="2.05"/><circle cx="418.9" cy="90.6" r="2.05"/><circle cx="429.9" cy="100.5" r="2.05"/><circle cx="444.8" cy="72.5" r="2.05"/><circle cx="398.7" cy="103.4" r="2.05"/><circle cx="403.8" cy="102.2" r="2.05"/><circle cx="366.5" cy="113.2" r="2.05"/><circle cx="402.2" cy="92.7" r="2.05"/><circle cx="403.2" cy="102.7" r="2.05"/><circle cx="405.3" cy="112.4" r="2.05"/><circle cx="413.1" cy="99.6" r="2.05"/><circle cx="412" cy="89.6" r="2.05"/><circle cx="430" cy="81.7" r="2.05"/><circle cx="409.7" cy="94.8" r="2.05"/><circle cx="425.4" cy="98.3" r="2.05"/><circle cx="431.3" cy="83.8" r="2.05"/><circle cx="391.9" cy="121.2" r="2.05"/><circle cx="477.1" cy="63.7" r="2.05"/><circle cx="387.6" cy="101.1" r="2.05"/><circle cx="402.7" cy="101.8" r="2.05"/><circle cx="353.9" cy="125.4" r="2.05"/><circle cx="426.4" cy="84.2" r="2.05"/><circle cx="377.4" cy="117.1" r="2.05"/><circle cx="392.6" cy="106.2" r="2.05"/><circle cx="328.8" cy="137.9" r="2.05"/><circle cx="382.9" cy="113.7" r="2.05"/><circle cx="437.6" cy="82.4" r="2.05"/><circle cx="405.5" cy="91.6" r="2.05"/><circle cx="423.8" cy="86.3" r="2.05"/><circle cx="396.2" cy="106.1" r="2.05"/><circle cx="423.8" cy="87.1" r="2.05"/><circle cx="341.8" cy="130.7" r="2.05"/><circle cx="417" cy="86.5" r="2.05"/><circle cx="363.1" cy="112.2" r="2.05"/><circle cx="435.9" cy="77.5" r="2.05"/><circle cx="438.1" cy="75.1" r="2.05"/><circle cx="417.1" cy="92.4" r="2.05"/><circle cx="418.2" cy="80.4" r="2.05"/><circle cx="424" cy="98.2" r="2.05"/><circle cx="394.9" cy="99.9" r="2.05"/><circle cx="406.8" cy="89.1" r="2.05"/><circle cx="425.3" cy="86.6" r="2.05"/><circle cx="368.2" cy="114" r="2.05"/><circle cx="424.4" cy="90.1" r="2.05"/><circle cx="424.8" cy="81.3" r="2.05"/><circle cx="453.9" cy="96.4" r="2.05"/><circle cx="408.2" cy="97.2" r="2.05"/><circle cx="410.8" cy="103.3" r="2.05"/><circle cx="424.3" cy="87.1" r="2.05"/><circle cx="319.7" cy="137.9" r="2.05"/><circle cx="421" cy="86.6" r="2.05"/><circle cx="317.7" cy="135.2" r="2.05"/><circle cx="450.8" cy="84.5" r="2.05"/><circle cx="372.7" cy="115.2" r="2.05"/><circle cx="422" cy="88.4" r="2.05"/><circle cx="450.5" cy="77.9" r="2.05"/><circle cx="402.1" cy="99.2" r="2.05"/><circle cx="393.4" cy="99.1" r="2.05"/><circle cx="381.1" cy="123.7" r="2.05"/><circle cx="413.5" cy="76.8" r="2.05"/><circle cx="405" cy="96.4" r="2.05"/><circle cx="360.1" cy="121.3" r="2.05"/><circle cx="425.8" cy="88.6" r="2.05"/><circle cx="342.7" cy="123.3" r="2.05"/><circle cx="415.1" cy="79.9" r="2.05"/><circle cx="441.5" cy="83.5" r="2.05"/><circle cx="318.3" cy="132.7" r="2.05"/><circle cx="430.3" cy="79.1" r="2.05"/><circle cx="443.8" cy="78.6" r="2.05"/><circle cx="396.1" cy="106.5" r="2.05"/><circle cx="337.3" cy="133" r="2.05"/><circle cx="417.9" cy="84.1" r="2.05"/><circle cx="419" cy="101.3" r="2.05"/><circle cx="371.9" cy="112.6" r="2.05"/><circle cx="432.7" cy="81.7" r="2.05"/><circle cx="421.1" cy="90.9" r="2.05"/><circle cx="393.1" cy="108.1" r="2.05"/><circle cx="411.4" cy="92.9" r="2.05"/><circle cx="449.4" cy="73.5" r="2.05"/><circle cx="431.6" cy="77.8" r="2.05"/><circle cx="425.3" cy="83.6" r="2.05"/><circle cx="422.4" cy="90.9" r="2.05"/><circle cx="342.8" cy="112.5" r="2.05"/><circle cx="436.7" cy="81" r="2.05"/><circle cx="320.5" cy="130.4" r="2.05"/><circle cx="338.9" cy="128.2" r="2.05"/><circle cx="383.5" cy="109.9" r="2.05"/><circle cx="373.6" cy="118.9" r="2.05"/><circle cx="404.9" cy="97" r="2.05"/><circle cx="417.1" cy="94.8" r="2.05"/><circle cx="379.4" cy="108.2" r="2.05"/><circle cx="433.4" cy="92.9" r="2.05"/><circle cx="434.1" cy="85.1" r="2.05"/><circle cx="427.6" cy="80.6" r="2.05"/><circle cx="484.1" cy="68.8" r="2.05"/><circle cx="398.4" cy="107.5" r="2.05"/><circle cx="399.4" cy="105.4" r="2.05"/><circle cx="405.9" cy="93.5" r="2.05"/><circle cx="425.2" cy="83.9" r="2.05"/><circle cx="334" cy="140.5" r="2.05"/><circle cx="375.3" cy="110.7" r="2.05"/><circle cx="502.5" cy="46.3" r="2.05"/><circle cx="427.7" cy="78.9" r="2.05"/><circle cx="377" cy="115.1" r="2.05"/><circle cx="402.3" cy="100.1" r="2.05"/><circle cx="407.2" cy="96.4" r="2.05"/><circle cx="360.2" cy="124.4" r="2.05"/><circle cx="398.2" cy="104.2" r="2.05"/><circle cx="367.3" cy="115.3" r="2.05"/><circle cx="473.4" cy="63.3" r="2.05"/><circle cx="418.4" cy="91.3" r="2.05"/><circle cx="388.1" cy="113.8" r="2.05"/><circle cx="486.6" cy="55.6" r="2.05"/><circle cx="364.1" cy="121.5" r="2.05"/><circle cx="441" cy="74" r="2.05"/><circle cx="344.7" cy="128.2" r="2.05"/><circle cx="456" cy="73.9" r="2.05"/><circle cx="412.3" cy="99.6" r="2.05"/><circle cx="434.7" cy="66.5" r="2.05"/><circle cx="434.6" cy="80.7" r="2.05"/><circle cx="402.5" cy="96.8" r="2.05"/><circle cx="406.8" cy="95.7" r="2.05"/><circle cx="424.6" cy="87.1" r="2.05"/><circle cx="478" cy="65.5" r="2.05"/><circle cx="394.1" cy="104.6" r="2.05"/><circle cx="441.3" cy="86.5" r="2.05"/><circle cx="366.1" cy="118.9" r="2.05"/><circle cx="447.2" cy="77.9" r="2.05"/><circle cx="391.2" cy="105" r="2.05"/><circle cx="369.2" cy="110.6" r="2.05"/><circle cx="411.4" cy="91.7" r="2.05"/><circle cx="456.6" cy="78.6" r="2.05"/><circle cx="506.6" cy="47.5" r="2.05"/><circle cx="475.4" cy="67.4" r="2.05"/><circle cx="376.3" cy="112.8" r="2.05"/><circle cx="513.4" cy="55.3" r="2.05"/><circle cx="399.6" cy="104.4" r="2.05"/><circle cx="450.6" cy="76" r="2.05"/><circle cx="361" cy="123.2" r="2.05"/><circle cx="412.4" cy="96.2" r="2.05"/><circle cx="356.5" cy="117.1" r="2.05"/><circle cx="496.5" cy="50.4" r="2.05"/><circle cx="390.2" cy="110.8" r="2.05"/><circle cx="342.8" cy="142" r="2.05"/><circle cx="405.8" cy="100.7" r="2.05"/><circle cx="445.8" cy="73.5" r="2.05"/><circle cx="371.1" cy="106.7" r="2.05"/><circle cx="427.4" cy="84.7" r="2.05"/><circle cx="447.5" cy="77.1" r="2.05"/><circle cx="401.6" cy="90" r="2.05"/><circle cx="463.5" cy="62.6" r="2.05"/><circle cx="367.2" cy="115.2" r="2.05"/><circle cx="412.1" cy="105" r="2.05"/><circle cx="343.3" cy="120" r="2.05"/><circle cx="368.1" cy="110.4" r="2.05"/><circle cx="431.1" cy="86.5" r="2.05"/><circle cx="391.2" cy="95.3" r="2.05"/><circle cx="462.1" cy="69.9" r="2.05"/><circle cx="342.3" cy="119.6" r="2.05"/><circle cx="424.3" cy="88.8" r="2.05"/><circle cx="441.8" cy="101.7" r="2.05"/><circle cx="465.7" cy="70" r="2.05"/><circle cx="341.1" cy="124.4" r="2.05"/><circle cx="385.5" cy="113.5" r="2.05"/><circle cx="385.2" cy="111.7" r="2.05"/><circle cx="436.5" cy="82.8" r="2.05"/><circle cx="359.5" cy="114.9" r="2.05"/><circle cx="419.6" cy="94" r="2.05"/><circle cx="408.1" cy="93.7" r="2.05"/><circle cx="414.8" cy="92.2" r="2.05"/><circle cx="417.7" cy="87.9" r="2.05"/><circle cx="464.6" cy="71.6" r="2.05"/><circle cx="430.8" cy="80.6" r="2.05"/><circle cx="445.2" cy="77.8" r="2.05"/><circle cx="421.8" cy="76.4" r="2.05"/><circle cx="357.9" cy="119.6" r="2.05"/><circle cx="391.1" cy="100.8" r="2.05"/><circle cx="474.9" cy="61.3" r="2.05"/><circle cx="446.8" cy="91.1" r="2.05"/><circle cx="328.4" cy="141.4" r="2.05"/><circle cx="406.7" cy="88.3" r="2.05"/><circle cx="333.7" cy="130.7" r="2.05"/><circle cx="350.6" cy="134.5" r="2.05"/><circle cx="464.2" cy="64.9" r="2.05"/><circle cx="322.9" cy="133.6" r="2.05"/><circle cx="425.2" cy="88.2" r="2.05"/><circle cx="439.8" cy="81" r="2.05"/><circle cx="393.6" cy="101.8" r="2.05"/><circle cx="317.9" cy="150.4" r="2.05"/><circle cx="354" cy="123.8" r="2.05"/><circle cx="400.8" cy="98.1" r="2.05"/><circle cx="345.4" cy="122" r="2.05"/><circle cx="348.5" cy="120.5" r="2.05"/><circle cx="362" cy="118.7" r="2.05"/><circle cx="343.8" cy="127.4" r="2.05"/><circle cx="366.7" cy="122.7" r="2.05"/><circle cx="427.8" cy="86.8" r="2.05"/><circle cx="351.4" cy="128.8" r="2.05"/><circle cx="428.2" cy="87.3" r="2.05"/><circle cx="417.4" cy="82.7" r="2.05"/><circle cx="415.9" cy="88.6" r="2.05"/><circle cx="403.1" cy="97.7" r="2.05"/><circle cx="372.5" cy="112.2" r="2.05"/><circle cx="489.2" cy="65.3" r="2.05"/><circle cx="469.3" cy="63.6" r="2.05"/><circle cx="388.6" cy="120.9" r="2.05"/><circle cx="415.9" cy="96.8" r="2.05"/><circle cx="364.7" cy="119.5" r="2.05"/><circle cx="374.4" cy="108.3" r="2.05"/><circle cx="522.8" cy="49.3" r="2.05"/><circle cx="484.8" cy="67.1" r="2.05"/><circle cx="525.3" cy="41.9" r="2.05"/><circle cx="402.3" cy="100.7" r="2.05"/><circle cx="402.7" cy="99.7" r="2.05"/><circle cx="407.4" cy="98.3" r="2.05"/><circle cx="417.9" cy="85.7" r="2.05"/><circle cx="409.2" cy="97.2" r="2.05"/><circle cx="378.2" cy="116.5" r="2.05"/><circle cx="403.4" cy="102" r="2.05"/><circle cx="402" cy="107.3" r="2.05"/><circle cx="392.1" cy="96.7" r="2.05"/><circle cx="472.4" cy="64" r="2.05"/><circle cx="444.4" cy="101.6" r="2.05"/><circle cx="406.6" cy="101.6" r="2.05"/><circle cx="384.2" cy="103.5" r="2.05"/><circle cx="401.3" cy="59.1" r="2.05"/><circle cx="430.4" cy="80.3" r="2.05"/><circle cx="401.8" cy="97.7" r="2.05"/><circle cx="366" cy="111.8" r="2.05"/><circle cx="430.2" cy="79.1" r="2.05"/><circle cx="403.5" cy="98" r="2.05"/><circle cx="513.3" cy="48.1" r="2.05"/><circle cx="425.6" cy="83.2" r="2.05"/><circle cx="390.2" cy="106.2" r="2.05"/><circle cx="457.2" cy="73.7" r="2.05"/><circle cx="369" cy="108.4" r="2.05"/><circle cx="367" cy="119.3" r="2.05"/><circle cx="453.8" cy="72.2" r="2.05"/><circle cx="458.7" cy="69.5" r="2.05"/><circle cx="422.7" cy="89.3" r="2.05"/><circle cx="398.5" cy="107" r="2.05"/><circle cx="369.5" cy="122.1" r="2.05"/><circle cx="384.3" cy="106.8" r="2.05"/><circle cx="334.2" cy="133.9" r="2.05"/><circle cx="404.4" cy="103.8" r="2.05"/><circle cx="412.5" cy="104" r="2.05"/><circle cx="522.5" cy="47.2" r="2.05"/><circle cx="449.7" cy="71.5" r="2.05"/><circle cx="504.3" cy="57.4" r="2.05"/><circle cx="330.4" cy="137.9" r="2.05"/><circle cx="338.6" cy="126" r="2.05"/><circle cx="437.7" cy="79" r="2.05"/><circle cx="479.5" cy="60.4" r="2.05"/><circle cx="413.5" cy="92.2" r="2.05"/><circle cx="378.8" cy="122.8" r="2.05"/><circle cx="444.4" cy="66.9" r="2.05"/><circle cx="355.2" cy="114" r="2.05"/><circle cx="397.1" cy="105.4" r="2.05"/><circle cx="394.6" cy="106.2" r="2.05"/><circle cx="395.7" cy="102.2" r="2.05"/><circle cx="437.6" cy="103" r="2.05"/><circle cx="395.2" cy="106.3" r="2.05"/><circle cx="412.1" cy="87.8" r="2.05"/><circle cx="446.3" cy="75.2" r="2.05"/><circle cx="404.5" cy="108.6" r="2.05"/><circle cx="422.4" cy="80" r="2.05"/><circle cx="462.4" cy="63.1" r="2.05"/><circle cx="404.6" cy="93.1" r="2.05"/><circle cx="398.9" cy="98.6" r="2.05"/><circle cx="389.7" cy="101.3" r="2.05"/><circle cx="370.2" cy="137.6" r="2.05"/><circle cx="412.9" cy="88.8" r="2.05"/><circle cx="420" cy="85.6" r="2.05"/><circle cx="411.2" cy="92.2" r="2.05"/><circle cx="400.8" cy="97.2" r="2.05"/><circle cx="360.7" cy="130.4" r="2.05"/><circle cx="405.2" cy="90.6" r="2.05"/><circle cx="418.8" cy="98.1" r="2.05"/><circle cx="417.8" cy="83.7" r="2.05"/><circle cx="493" cy="60.6" r="2.05"/><circle cx="322.3" cy="133.6" r="2.05"/><circle cx="361.7" cy="116.6" r="2.05"/><circle cx="419.4" cy="80.9" r="2.05"/><circle cx="391.1" cy="99" r="2.05"/><circle cx="406.4" cy="98.4" r="2.05"/><circle cx="498.1" cy="54.4" r="2.05"/><circle cx="488.7" cy="61.5" r="2.05"/><circle cx="464.3" cy="71.8" r="2.05"/><circle cx="388.1" cy="111.5" r="2.05"/><circle cx="385.8" cy="99.9" r="2.05"/><circle cx="398" cy="99.4" r="2.05"/><circle cx="393.7" cy="109.8" r="2.05"/><circle cx="399.1" cy="101.6" r="2.05"/><circle cx="468.9" cy="89.2" r="2.05"/><circle cx="393.1" cy="100.3" r="2.05"/><circle cx="411.6" cy="96.1" r="2.05"/><circle cx="347.1" cy="125" r="2.05"/><circle cx="493.5" cy="53.8" r="2.05"/><circle cx="407.7" cy="92.6" r="2.05"/><circle cx="352.5" cy="128.2" r="2.05"/><circle cx="397.9" cy="95" r="2.05"/><circle cx="376.1" cy="122.2" r="2.05"/><circle cx="427.6" cy="80.6" r="2.05"/><circle cx="362.3" cy="116.4" r="2.05"/><circle cx="463.4" cy="69.7" r="2.05"/><circle cx="400.1" cy="90.7" r="2.05"/><circle cx="343.2" cy="125.1" r="2.05"/><circle cx="364.5" cy="117.5" r="2.05"/><circle cx="412.6" cy="93.1" r="2.05"/><circle cx="396.7" cy="101.6" r="2.05"/><circle cx="417.4" cy="90.2" r="2.05"/><circle cx="342.4" cy="124.6" r="2.05"/><circle cx="373.7" cy="113.6" r="2.05"/><circle cx="339.2" cy="140.1" r="2.05"/><circle cx="450.1" cy="81.8" r="2.05"/><circle cx="408.7" cy="98.3" r="2.05"/><circle cx="414.5" cy="94.6" r="2.05"/><circle cx="413.5" cy="99.5" r="2.05"/><circle cx="462.6" cy="71.3" r="2.05"/><circle cx="435.1" cy="84.4" r="2.05"/><circle cx="349.5" cy="119.5" r="2.05"/><circle cx="388" cy="100.2" r="2.05"/><circle cx="431.2" cy="82.8" r="2.05"/><circle cx="389.9" cy="111.3" r="2.05"/><circle cx="358.4" cy="123.6" r="2.05"/><circle cx="419.2" cy="83.7" r="2.05"/><circle cx="389.2" cy="100.7" r="2.05"/><circle cx="402.1" cy="97" r="2.05"/><circle cx="335.6" cy="120.4" r="2.05"/><circle cx="333.8" cy="130.8" r="2.05"/><circle cx="368.7" cy="123" r="2.05"/><circle cx="386.3" cy="110.6" r="2.05"/><circle cx="404.6" cy="94.8" r="2.05"/><circle cx="382.3" cy="111.8" r="2.05"/><circle cx="358.9" cy="111.4" r="2.05"/><circle cx="456.4" cy="69.3" r="2.05"/><circle cx="415.7" cy="92.6" r="2.05"/><circle cx="437.9" cy="79" r="2.05"/><circle cx="428.4" cy="87.8" r="2.05"/><circle cx="373.2" cy="111" r="2.05"/><circle cx="465.2" cy="58.6" r="2.05"/><circle cx="407.1" cy="97.2" r="2.05"/><circle cx="474.7" cy="59.8" r="2.05"/><circle cx="387.2" cy="107.1" r="2.05"/><circle cx="437.2" cy="79.3" r="2.05"/><circle cx="415" cy="102.5" r="2.05"/><circle cx="330.2" cy="132.3" r="2.05"/><circle cx="384.4" cy="100.4" r="2.05"/><circle cx="431.3" cy="82.1" r="2.05"/><circle cx="397.1" cy="103" r="2.05"/><circle cx="410.9" cy="93.4" r="2.05"/><circle cx="363.3" cy="112" r="2.05"/><circle cx="392.4" cy="113.5" r="2.05"/><circle cx="401.5" cy="103.4" r="2.05"/><circle cx="408.6" cy="91.6" r="2.05"/><circle cx="380.7" cy="116.3" r="2.05"/><circle cx="416" cy="89.1" r="2.05"/><circle cx="386.2" cy="108.9" r="2.05"/><circle cx="437.8" cy="71.8" r="2.05"/><circle cx="393.5" cy="99.8" r="2.05"/><circle cx="419.2" cy="92.7" r="2.05"/><circle cx="395.4" cy="107.7" r="2.05"/><circle cx="416" cy="92.5" r="2.05"/><circle cx="411.4" cy="78" r="2.05"/><circle cx="488.6" cy="55.7" r="2.05"/><circle cx="416.6" cy="86.9" r="2.05"/><circle cx="419.5" cy="91.1" r="2.05"/><circle cx="445.6" cy="95.6" r="2.05"/><circle cx="404.1" cy="98.1" r="2.05"/><circle cx="410.8" cy="74" r="2.05"/><circle cx="388.3" cy="111.8" r="2.05"/><circle cx="442.3" cy="72.1" r="2.05"/><circle cx="421.1" cy="97.8" r="2.05"/><circle cx="415.2" cy="86.5" r="2.05"/><circle cx="333" cy="126.6" r="2.05"/><circle cx="355.1" cy="125.2" r="2.05"/><circle cx="517.7" cy="45.3" r="2.05"/><circle cx="436.4" cy="79.6" r="2.05"/><circle cx="354.4" cy="120.3" r="2.05"/><circle cx="389.2" cy="100.5" r="2.05"/><circle cx="429.3" cy="78.7" r="2.05"/><circle cx="378.2" cy="133.1" r="2.05"/><circle cx="368.9" cy="111.8" r="2.05"/><circle cx="482.9" cy="53.8" r="2.05"/><circle cx="433" cy="94.8" r="2.05"/><circle cx="409.5" cy="81.3" r="2.05"/><circle cx="429" cy="99.5" r="2.05"/><circle cx="359.6" cy="123.1" r="2.05"/><circle cx="371.3" cy="99.8" r="2.05"/><circle cx="330.1" cy="134.9" r="2.05"/><circle cx="384.4" cy="123.3" r="2.05"/><circle cx="426.6" cy="78.6" r="2.05"/><circle cx="478" cy="81.1" r="2.05"/><circle cx="500.4" cy="79.3" r="2.05"/><circle cx="507.9" cy="79.4" r="2.05"/><circle cx="449.9" cy="94.9" r="2.05"/><circle cx="489.2" cy="91.2" r="2.05"/><circle cx="491.2" cy="88.7" r="2.05"/><circle cx="478.3" cy="79.1" r="2.05"/><circle cx="496.2" cy="88.3" r="2.05"/><circle cx="474.5" cy="93.7" r="2.05"/><circle cx="425.9" cy="123.7" r="2.05"/><circle cx="492.7" cy="79" r="2.05"/><circle cx="457.5" cy="93.8" r="2.05"/><circle cx="408.6" cy="117.7" r="2.05"/><circle cx="490.3" cy="88.6" r="2.05"/><circle cx="520.6" cy="98" r="2.05"/><circle cx="410.7" cy="135.4" r="2.05"/><circle cx="443.8" cy="100" r="2.05"/><circle cx="482.6" cy="85.4" r="2.05"/><circle cx="432.3" cy="109.3" r="2.05"/><circle cx="479.3" cy="84.5" r="2.05"/><circle cx="367.6" cy="95.8" r="2.05"/><circle cx="367.1" cy="98.6" r="2.05"/><circle cx="422.2" cy="62.9" r="2.05"/><circle cx="345.7" cy="105.7" r="2.05"/><circle cx="391.3" cy="86" r="2.05"/></g>
<line x1="311.3" y1="152.4" x2="538.3" y2="20.8" stroke="#111" stroke-width="1.3"/>
<path d="M311.3 143.3 L313.2 142.5 L315.1 141.6 L317 140.8 L318.9 139.9 L320.8 139.1 L322.6 138.2 L324.5 137.4 L326.4 136.5 L328.3 135.7 L330.2 134.8 L332.1 134 L334 133.1 L335.9 132.3 L337.8 131.4 L339.7 130.6 L341.5 129.7 L343.4 128.9 L345.3 128 L347.2 127.2 L349.1 126.3 L351 125.4 L352.9 124.5 L354.8 123.6 L356.7 122.7 L358.6 121.8 L360.5 120.8 L362.3 119.9 L364.2 118.9 L366.1 118 L368 117 L369.9 116.1 L371.8 115.1 L373.7 114.2 L375.6 113.3 L377.5 112.3 L379.4 111.4 L381.3 110.4 L383.1 109.5 L385 108.5 L386.9 107.6 L388.8 106.6 L390.7 105.6 L392.6 104.7 L394.5 103.7 L396.4 102.7 L398.3 101.6 L400.2 100.6 L402 99.5 L403.9 98.5 L405.8 97.4 L407.7 96.3 L409.6 95.2 L411.5 94.2 L413.4 93.1 L415.3 92 L417.2 90.9 L419.1 89.8 L421 88.8 L422.8 87.7 L424.7 86.6 L426.6 85.6 L428.5 84.6 L430.4 83.6 L432.3 82.5 L434.2 81.6 L436.1 80.6 L438 79.6 L439.9 78.6 L441.8 77.6 L443.6 76.6 L445.5 75.7 L447.4 74.7 L449.3 73.7 L451.2 72.7 L453.1 71.8 L455 70.8 L456.9 69.8 L458.8 68.8 L460.7 67.8 L462.5 66.9 L464.4 65.9 L466.3 65 L468.2 64.1 L470.1 63.1 L472 62.2 L473.9 61.4 L475.8 60.5 L477.7 59.6 L479.6 58.7 L481.5 57.9 L483.3 57 L485.2 56.1 L487.1 55.2 L489 54.4 L490.9 53.5 L492.8 52.6 L494.7 51.7 L496.6 50.9 L498.5 50 L500.4 49.1 L502.3 48.2 L504.1 47.4 L506 46.5 L507.9 45.6 L509.8 44.7 L511.7 43.9 L513.6 43 L515.5 42.1 L517.4 41.2 L519.3 40.4 L521.2 39.5 L523 38.6 L524.9 37.7 L526.8 36.9 L528.7 36 L530.6 35.1 L532.5 34.2 L534.4 33.4 L536.3 32.5" fill="none" stroke="#1fc4cc" stroke-width="1.5" stroke-linejoin="round"/>
<path d="M311.3 140.7 L313.1 139.9 L315 139.1 L316.8 138.3 L318.7 137.5 L320.5 136.7 L322.4 135.9 L324.2 135.1 L326 134.3 L327.9 133.5 L329.7 132.7 L331.6 131.9 L333.4 131 L335.2 130.2 L337.1 129.4 L338.9 128.6 L340.8 127.8 L342.6 127 L344.5 126.2 L346.3 125.4 L348.1 124.6 L350 123.8 L351.8 123 L353.7 122.2 L355.5 121.4 L357.3 120.6 L359.2 119.8 L361 119 L362.9 118.2 L364.7 117.4 L366.6 116.6 L368.4 115.8 L370.2 115 L372.1 114.2 L373.9 113.4 L375.8 112.5 L377.6 111.7 L379.4 110.9 L381.3 110.1 L383.1 109.3 L385 108.5 L386.8 107.6 L388.7 106.7 L390.5 105.8 L392.3 104.8 L394.2 103.9 L396 102.9 L397.9 101.9 L399.7 100.9 L401.6 99.8 L403.4 98.8 L405.2 97.7 L407.1 96.7 L408.9 95.7 L410.8 94.6 L412.6 93.6 L414.4 92.5 L416.3 91.5 L418.1 90.4 L420 89.4 L421.8 88.5 L423.7 87.5 L425.5 86.6 L427.3 85.7 L429.2 84.8 L431 83.9 L432.9 83.1 L434.7 82.2 L436.5 81.3 L438.4 80.5 L440.2 79.6 L442.1 78.8 L443.9 78 L445.8 77.2 L447.6 76.5 L449.4 75.7 L451.3 74.9 L453.1 74.2 L455 73.4 L456.8 72.7 L458.6 71.9 L460.5 71.2 L462.3 70.4 L464.2 69.7 L466 68.9 L467.9 68.2 L469.7 67.5 L471.5 66.9 L473.4 66.2 L475.2 65.6 L477.1 65 L478.9 64.5 L480.8 63.9 L482.6 63.3 L484.4 62.8 L486.3 62.2 L488.1 61.6 L490 61.1 L491.8 60.5 L493.6 59.9 L495.5 59.4 L497.3 58.8 L499.2 58.2 L501 57.7 L502.9 57.1 L504.7 56.5 L506.5 56 L508.4 55.4 L510.2 54.8 L512.1 54.3 L513.9 53.7 L515.7 53.1 L517.6 52.6 L519.4 52 L521.3 51.4 L523.1 50.9 L525 50.3 L526.8 49.7 L528.6 49.1 L530.5 48.6" fill="none" stroke="#ff2a55" stroke-width="1.25" stroke-linejoin="round"/>
<path d="M311.3 140.3 L313.1 139.5 L314.9 138.7 L316.7 137.9 L318.5 137.1 L320.4 136.3 L322.2 135.6 L324 134.8 L325.8 134 L327.6 133.2 L329.4 132.4 L331.2 131.6 L333 130.9 L334.9 130.1 L336.7 129.3 L338.5 128.5 L340.3 127.7 L342.1 126.9 L343.9 126.1 L345.7 125.4 L347.5 124.6 L349.4 123.8 L351.2 123 L353 122.3 L354.8 121.5 L356.6 120.8 L358.4 120 L360.2 119.2 L362 118.5 L363.9 117.7 L365.7 117 L367.5 116.2 L369.3 115.5 L371.1 114.7 L372.9 113.9 L374.7 113.2 L376.5 112.4 L378.4 111.7 L380.2 110.9 L382 110.1 L383.8 109.3 L385.6 108.5 L387.4 107.6 L389.2 106.8 L391 105.8 L392.8 104.9 L394.7 103.9 L396.5 103 L398.3 102 L400.1 100.9 L401.9 99.9 L403.7 98.8 L405.5 97.8 L407.3 96.7 L409.2 95.7 L411 94.6 L412.8 93.6 L414.6 92.5 L416.4 91.5 L418.2 90.4 L420 89.4 L421.8 88.4 L423.7 87.4 L425.5 86.4 L427.3 85.4 L429.1 84.5 L430.9 83.6 L432.7 82.7 L434.5 81.8 L436.3 80.9 L438.2 80 L440 79.1 L441.8 78.2 L443.6 77.4 L445.4 76.6 L447.2 75.8 L449 75 L450.8 74.2 L452.7 73.4 L454.5 72.6 L456.3 71.8 L458.1 71 L459.9 70.2 L461.7 69.4 L463.5 68.6 L465.3 67.8 L467.1 67 L469 66.2 L470.8 65.5 L472.6 64.7 L474.4 64 L476.2 63.3 L478 62.6 L479.8 62 L481.6 61.4 L483.5 60.8 L485.3 60.2 L487.1 59.6 L488.9 59 L490.7 58.4 L492.5 57.8 L494.3 57.2 L496.1 56.6 L498 56 L499.8 55.4 L501.6 54.8 L503.4 54.2 L505.2 53.6 L507 53 L508.8 52.4 L510.6 51.8 L512.5 51.2 L514.3 50.6 L516.1 50 L517.9 49.4 L519.7 48.8 L521.5 48.2 L523.3 47.6 L525.1 47 L527 46.4" fill="none" stroke="#ff8c0a" stroke-width="1.45" stroke-linejoin="round"/>
</g>
<rect x="311.3" y="20.8" width="227" height="131.6" fill="none" stroke="#222" stroke-width="1"/>
<path d="M336.5 152.4v-1.6M311.3 137.8h1.6M361.7 152.4v-1.6M311.3 123.2h1.6M387 152.4v-1.6M311.3 108.5h1.6M412.2 152.4v-1.6M311.3 93.9h1.6M437.4 152.4v-1.6M311.3 79.3h1.6M462.6 152.4v-1.6M311.3 64.7h1.6M487.9 152.4v-1.6M311.3 50h1.6M513.1 152.4v-1.6M311.3 35.4h1.6" stroke="#222" stroke-width="0.8" fill="none"/>
<g font-size="12.8" fill="#231f20" letter-spacing="0.35">
<text x="336.7" y="163.8" text-anchor="middle">10</text>
<text x="308" y="141.9" text-anchor="end">10</text>
<text x="361.9" y="163.8" text-anchor="middle">20</text>
<text x="308" y="127.3" text-anchor="end">20</text>
<text x="387.2" y="163.8" text-anchor="middle">30</text>
<text x="308" y="112.6" text-anchor="end">30</text>
<text x="412.4" y="163.8" text-anchor="middle">40</text>
<text x="308" y="98" text-anchor="end">40</text>
<text x="437.6" y="163.8" text-anchor="middle">50</text>
<text x="308" y="83.4" text-anchor="end">50</text>
<text x="462.8" y="163.8" text-anchor="middle">60</text>
<text x="308" y="68.8" text-anchor="end">60</text>
<text x="488.1" y="163.8" text-anchor="middle">70</text>
<text x="308" y="54.1" text-anchor="end">70</text>
<text x="513.3" y="163.8" text-anchor="middle">80</text>
<text x="308" y="39.5" text-anchor="end">80</text>
<text x="538.5" y="163.8" text-anchor="middle">90</text>
<text x="308" y="24.9" text-anchor="end">90</text>
<text x="304.9" y="163.8" text-anchor="middle">0</text>
</g>
<text x="419.8" y="11.1" text-anchor="middle" font-size="12.4" letter-spacing="0.6" fill="#231f20">AdaBoost</text>
<text x="419.9" y="176.1" text-anchor="middle" font-size="12" letter-spacing="0.5" fill="#231f20">Tested <tspan font-style="italic">f</tspan><tspan font-style="italic" font-size="8" dy="2.2">c</tspan><tspan dy="-2.2" dx="-1.8"> (Mpa)</tspan></text>
<text transform="translate(286 87.9) rotate(-90)" text-anchor="middle" font-size="12.2" letter-spacing="0.6" fill="#231f20">Predicted <tspan font-style="italic">f</tspan><tspan font-style="italic" font-size="8" dy="2.2">c</tspan><tspan dy="-2.2" dx="-1.8"> (Mpa)</tspan></text>
<text x="410.5" y="195.8" text-anchor="middle" font-size="13.6" fill="#231f20">(<tspan font-weight="bold">b</tspan>)</text>
<clipPath id="clip_c"><rect x="39.3" y="231.6" width="227.4" height="131.8"/></clipPath>
<g clip-path="url(#clip_c)">
<polygon points="39.3,361.6 45.1,358.3 51,355 56.8,351.6 62.6,348.3 68.5,344.9 74.3,341.6 80.1,338.2 85.9,334.9 91.8,331.5 97.6,328.2 103.4,324.8 109.3,321.5 115.1,318.1 120.9,314.8 126.8,311.5 132.6,308.1 138.4,304.8 144.3,301.4 150.1,297.9 155.9,294.5 161.7,291.1 167.6,287.7 173.4,284.2 179.2,280.8 185.1,277.4 190.9,274 196.7,270.5 202.6,267.1 208.4,263.7 214.2,260.2 220.1,256.8 225.9,253.4 231.7,250 237.5,246.5 243.4,243.1 249.2,239.7 255,236.3 260.9,232.8 266.7,229.4 266.7,233.8 260.9,237.1 255,240.5 249.2,243.8 243.4,247.1 237.5,250.5 231.7,253.8 225.9,257.1 220.1,260.5 214.2,263.8 208.4,267.1 202.6,270.5 196.7,273.8 190.9,277.1 185.1,280.4 179.2,283.8 173.4,287.1 167.6,290.4 161.7,293.8 155.9,297.1 150.1,300.4 144.3,303.8 138.4,307.1 132.6,310.5 126.8,314 120.9,317.4 115.1,320.8 109.3,324.2 103.4,327.6 97.6,331 91.8,334.4 85.9,337.9 80.1,341.3 74.3,344.7 68.5,348.1 62.6,351.5 56.8,354.9 51,358.3 45.1,361.7 39.3,365.2" fill="#55dbe2" fill-opacity="0.45"/>
<polygon points="39.3,339.2 44.9,336.2 50.5,333.3 56.2,330.3 61.8,327.3 67.4,324.3 73,321.3 78.7,318.3 84.3,315.3 89.9,312.3 95.5,309.4 101.2,306.4 106.8,303.4 112.4,300.4 118,297.4 123.7,294.3 129.3,291.2 134.9,288.1 140.5,285 146.1,281.9 151.8,278.8 157.4,275.7 163,272.6 168.6,269.7 174.3,267 179.9,264.3 185.5,261.5 191.1,258.8 196.8,256.1 202.4,253.4 208,251.2 213.6,249 219.3,246.9 224.9,244.8 230.5,242.8 236.1,241.2 241.7,239.5 247.4,237.8 253,236.2 258.6,234.5 258.6,270.6 253,272.6 247.4,274.6 241.7,276.6 236.1,278.6 230.5,280.6 224.9,282.6 219.3,284.6 213.6,286.6 208,288.6 202.4,290.8 196.8,293.6 191.1,296.4 185.5,299.2 179.9,302.1 174.3,304.9 168.6,307.7 163,310.7 157.4,314 151.8,317.3 146.1,320.5 140.5,323.8 134.9,327 129.3,330.3 123.7,333.5 118,336.8 112.4,340.2 106.8,343.7 101.2,347.3 95.5,350.8 89.9,354.3 84.3,357.8 78.7,361.4 73,364.4 67.4,366.6 61.8,368.9 56.2,371.2 50.5,373.5 44.9,375.8 39.3,378" fill="#f58aa6" fill-opacity="0.4"/>
<polygon points="39.3,342.2 44.8,339.1 50.4,336.1 55.9,333 61.5,330 67,326.9 72.5,323.9 78.1,320.8 83.6,317.8 89.2,314.7 94.7,311.7 100.2,308.6 105.8,305.6 111.3,302.5 116.8,299.4 122.4,296.3 127.9,293.2 133.5,290 139,286.9 144.5,283.8 150.1,280.7 155.6,277.5 161.2,274.4 166.7,271.3 172.2,268.6 177.8,265.8 183.3,263 188.9,260.2 194.4,257.4 199.9,254.6 205.5,252.1 211,250 216.6,247.9 222.1,245.8 227.6,243.8 233.2,242 238.7,240.4 244.3,238.7 249.8,237.1 255.3,235.4 255.3,268.2 249.8,270.4 244.3,272.6 238.7,274.8 233.2,277 227.6,279.2 222.1,281.4 216.6,283.6 211,285.8 205.5,287.9 199.9,290.5 194.4,293.3 188.9,296.1 183.3,298.9 177.8,301.6 172.2,304.4 166.7,307.2 161.2,310.3 155.6,313.6 150.1,316.8 144.5,320 139,323.2 133.5,326.4 127.9,329.6 122.4,332.8 116.8,336 111.3,339.4 105.8,342.8 100.2,346.2 94.7,349.6 89.2,353 83.6,356.4 78.1,359.8 72.5,363.2 67,365.5 61.5,367.7 55.9,369.9 50.4,372.1 44.8,374.4 39.3,376.6" fill="#ffb27a" fill-opacity="0.45"/>
<g fill="#22c6d2" fill-opacity="0.5"><circle cx="135.7" cy="307.1" r="0.9"/><circle cx="137.9" cy="306.6" r="0.9"/><circle cx="85.4" cy="336.3" r="0.9"/><circle cx="128.7" cy="312.2" r="0.9"/><circle cx="141.7" cy="304.2" r="0.9"/><circle cx="139.8" cy="305.3" r="0.9"/><circle cx="189.4" cy="276.2" r="0.9"/><circle cx="60.5" cy="351.2" r="0.9"/><circle cx="95.3" cy="331" r="0.9"/><circle cx="84.6" cy="337" r="0.9"/><circle cx="177.9" cy="283.1" r="0.9"/><circle cx="133.7" cy="308.6" r="0.9"/><circle cx="67" cy="347.5" r="0.9"/><circle cx="66.3" cy="347.7" r="0.9"/><circle cx="172.3" cy="285.9" r="0.9"/><circle cx="86.3" cy="335.9" r="0.9"/><circle cx="150.7" cy="298.7" r="0.9"/><circle cx="149.6" cy="299.3" r="0.9"/><circle cx="65.1" cy="349" r="0.9"/><circle cx="133.7" cy="307.3" r="0.9"/><circle cx="126.2" cy="312.4" r="0.9"/><circle cx="146.5" cy="300.8" r="0.9"/><circle cx="143.4" cy="303.5" r="0.9"/><circle cx="149.1" cy="300" r="0.9"/><circle cx="154.5" cy="296.9" r="0.9"/><circle cx="102.8" cy="326.5" r="0.9"/><circle cx="109.9" cy="322.7" r="0.9"/><circle cx="90.5" cy="333.7" r="0.9"/><circle cx="192.5" cy="274.4" r="0.9"/><circle cx="150.9" cy="298.7" r="0.9"/><circle cx="114.3" cy="319.3" r="0.9"/><circle cx="202.2" cy="267.7" r="0.9"/><circle cx="113.3" cy="320.4" r="0.9"/><circle cx="123.4" cy="314.9" r="0.9"/><circle cx="137.3" cy="306.6" r="0.9"/><circle cx="98.8" cy="329.1" r="0.9"/><circle cx="132.6" cy="309.8" r="0.9"/><circle cx="138.4" cy="305.9" r="0.9"/><circle cx="134.6" cy="307.7" r="0.9"/><circle cx="95.2" cy="331.2" r="0.9"/><circle cx="180.4" cy="281.9" r="0.9"/><circle cx="131.1" cy="310.1" r="0.9"/><circle cx="114.6" cy="320" r="0.9"/><circle cx="108.1" cy="323.2" r="0.9"/><circle cx="55.6" cy="354" r="0.9"/><circle cx="143.2" cy="303.2" r="0.9"/><circle cx="179.9" cy="282" r="0.9"/><circle cx="168.2" cy="288.6" r="0.9"/><circle cx="111.3" cy="322" r="0.9"/><circle cx="123.3" cy="314.7" r="0.9"/><circle cx="134.8" cy="308.3" r="0.9"/><circle cx="97.4" cy="330" r="0.9"/><circle cx="137.6" cy="306.3" r="0.9"/><circle cx="55.8" cy="354.3" r="0.9"/><circle cx="154.9" cy="296.7" r="0.9"/><circle cx="160.1" cy="293.5" r="0.9"/><circle cx="134.1" cy="308.6" r="0.9"/><circle cx="103.1" cy="326.3" r="0.9"/><circle cx="219.9" cy="258.4" r="0.9"/><circle cx="178.1" cy="282.9" r="0.9"/><circle cx="159.8" cy="293.5" r="0.9"/><circle cx="121.6" cy="315.9" r="0.9"/><circle cx="131.3" cy="310" r="0.9"/><circle cx="157.8" cy="294.8" r="0.9"/><circle cx="137.8" cy="305.2" r="0.9"/><circle cx="221.6" cy="258" r="0.9"/><circle cx="113.8" cy="319.1" r="0.9"/><circle cx="150.9" cy="298.4" r="0.9"/><circle cx="110.8" cy="321.7" r="0.9"/><circle cx="158.4" cy="294.4" r="0.9"/><circle cx="84.5" cy="337" r="0.9"/><circle cx="84.5" cy="336.8" r="0.9"/><circle cx="88.8" cy="335" r="0.9"/><circle cx="92.1" cy="332.4" r="0.9"/><circle cx="139.3" cy="305.3" r="0.9"/><circle cx="140.4" cy="304.2" r="0.9"/><circle cx="206.2" cy="266.6" r="0.9"/><circle cx="125.2" cy="313.6" r="0.9"/><circle cx="149.8" cy="299.3" r="0.9"/><circle cx="130.1" cy="310.3" r="0.9"/><circle cx="56.2" cy="353.7" r="0.9"/><circle cx="189.5" cy="275.8" r="0.9"/><circle cx="120.2" cy="316.4" r="0.9"/><circle cx="143.3" cy="303.7" r="0.9"/><circle cx="145.7" cy="301.8" r="0.9"/><circle cx="119.6" cy="316.4" r="0.9"/><circle cx="157.8" cy="294.7" r="0.9"/><circle cx="107.3" cy="325.5" r="0.9"/><circle cx="108.9" cy="322.9" r="0.9"/><circle cx="121.4" cy="315.9" r="0.9"/><circle cx="98.1" cy="329.1" r="0.9"/><circle cx="191.2" cy="275.5" r="0.9"/><circle cx="154" cy="296.5" r="0.9"/><circle cx="160.8" cy="292.8" r="0.9"/><circle cx="144.1" cy="302.6" r="0.9"/><circle cx="99.5" cy="330" r="0.9"/><circle cx="123.8" cy="314.5" r="0.9"/><circle cx="114.8" cy="319.1" r="0.9"/><circle cx="113.5" cy="319.5" r="0.9"/><circle cx="65.6" cy="347.9" r="0.9"/><circle cx="135.4" cy="307.7" r="0.9"/><circle cx="72" cy="344.1" r="0.9"/><circle cx="141.1" cy="304.4" r="0.9"/><circle cx="132.6" cy="309.8" r="0.9"/><circle cx="132.5" cy="309.4" r="0.9"/><circle cx="103.7" cy="327.9" r="0.9"/><circle cx="130.9" cy="310.4" r="0.9"/><circle cx="85.2" cy="336.7" r="0.9"/><circle cx="152.3" cy="297.6" r="0.9"/><circle cx="113.8" cy="319.4" r="0.9"/><circle cx="201.4" cy="269.5" r="0.9"/><circle cx="148.9" cy="299.5" r="0.9"/><circle cx="188" cy="277.2" r="0.9"/><circle cx="215.1" cy="261.2" r="0.9"/><circle cx="71.1" cy="344.9" r="0.9"/><circle cx="130.4" cy="310.6" r="0.9"/><circle cx="108.5" cy="323.3" r="0.9"/><circle cx="121.7" cy="315.9" r="0.9"/><circle cx="130.7" cy="310.7" r="0.9"/><circle cx="93.9" cy="331" r="0.9"/><circle cx="106.9" cy="324.4" r="0.9"/><circle cx="71.5" cy="344.8" r="0.9"/><circle cx="90.4" cy="334" r="0.9"/><circle cx="132.1" cy="311.1" r="0.9"/><circle cx="194.9" cy="273" r="0.9"/><circle cx="159.6" cy="294" r="0.9"/><circle cx="71.2" cy="346.5" r="0.9"/><circle cx="65.4" cy="348.6" r="0.9"/><circle cx="94.1" cy="331.7" r="0.9"/><circle cx="62.6" cy="349.6" r="0.9"/><circle cx="141.8" cy="304.2" r="0.9"/><circle cx="139.1" cy="304.6" r="0.9"/><circle cx="116.5" cy="319.1" r="0.9"/><circle cx="162.6" cy="291.6" r="0.9"/><circle cx="102.1" cy="327.6" r="0.9"/><circle cx="174.6" cy="285" r="0.9"/><circle cx="93" cy="332.1" r="0.9"/><circle cx="204.8" cy="267.9" r="0.9"/><circle cx="90.7" cy="333.6" r="0.9"/><circle cx="193.5" cy="274" r="0.9"/><circle cx="80.5" cy="339.6" r="0.9"/><circle cx="144.3" cy="302.1" r="0.9"/><circle cx="94.1" cy="331.7" r="0.9"/><circle cx="242.8" cy="245.1" r="0.9"/><circle cx="72.7" cy="344.4" r="0.9"/><circle cx="138.6" cy="305.8" r="0.9"/><circle cx="58.9" cy="352.1" r="0.9"/><circle cx="82.8" cy="338.4" r="0.9"/><circle cx="132.8" cy="309.1" r="0.9"/><circle cx="154.5" cy="296.9" r="0.9"/><circle cx="140.3" cy="304.7" r="0.9"/><circle cx="246" cy="244" r="0.9"/><circle cx="146.2" cy="301.5" r="0.9"/><circle cx="175.3" cy="284.7" r="0.9"/><circle cx="141.8" cy="303.5" r="0.9"/><circle cx="140.6" cy="304.7" r="0.9"/><circle cx="164.5" cy="291.3" r="0.9"/><circle cx="136.8" cy="307.7" r="0.9"/><circle cx="108.1" cy="323.7" r="0.9"/><circle cx="146.5" cy="301.4" r="0.9"/></g>
<g fill="#f0466a" fill-opacity="0.5"><circle cx="46.8" cy="356.1" r="1.55"/><circle cx="165.8" cy="288.8" r="1.55"/><circle cx="147.8" cy="290.3" r="1.55"/><circle cx="128.7" cy="309.9" r="1.55"/><circle cx="66" cy="342.8" r="1.55"/><circle cx="102.1" cy="337" r="1.55"/><circle cx="106.5" cy="304" r="1.55"/><circle cx="163.6" cy="297" r="1.55"/><circle cx="98.8" cy="323.8" r="1.55"/><circle cx="210.4" cy="286.2" r="1.55"/><circle cx="95.5" cy="328.8" r="1.55"/><circle cx="129.2" cy="320.5" r="1.55"/><circle cx="149.7" cy="322.6" r="1.55"/><circle cx="119.8" cy="333.3" r="1.55"/><circle cx="118" cy="311.1" r="1.55"/><circle cx="159.9" cy="278.4" r="1.55"/><circle cx="126" cy="327.8" r="1.55"/><circle cx="226.8" cy="265.2" r="1.55"/><circle cx="141.7" cy="299.9" r="1.55"/><circle cx="115.1" cy="311.8" r="1.55"/><circle cx="132.3" cy="309.6" r="1.55"/><circle cx="155.4" cy="302.1" r="1.55"/><circle cx="93.4" cy="347.4" r="1.55"/><circle cx="182.4" cy="290" r="1.55"/><circle cx="155" cy="282" r="1.55"/><circle cx="121.6" cy="317.3" r="1.55"/><circle cx="91.8" cy="342.8" r="1.55"/><circle cx="100.1" cy="329.2" r="1.55"/><circle cx="131.1" cy="303.5" r="1.55"/><circle cx="76.5" cy="333" r="1.55"/><circle cx="136.7" cy="314.4" r="1.55"/><circle cx="118.4" cy="314.7" r="1.55"/><circle cx="84.9" cy="346.6" r="1.55"/><circle cx="141.1" cy="335.7" r="1.55"/><circle cx="155.4" cy="290.6" r="1.55"/><circle cx="170.9" cy="279.6" r="1.55"/><circle cx="143.1" cy="355.4" r="1.55"/><circle cx="92.3" cy="322.5" r="1.55"/><circle cx="143.9" cy="299.4" r="1.55"/><circle cx="102" cy="321.7" r="1.55"/><circle cx="145.8" cy="301.5" r="1.55"/><circle cx="83" cy="332.2" r="1.55"/><circle cx="119.6" cy="315.8" r="1.55"/><circle cx="144.4" cy="297.4" r="1.55"/><circle cx="54.1" cy="351.5" r="1.55"/><circle cx="152.2" cy="291.5" r="1.55"/><circle cx="161.7" cy="306.9" r="1.55"/><circle cx="144.8" cy="297.5" r="1.55"/><circle cx="74.1" cy="347.8" r="1.55"/><circle cx="134.5" cy="318.6" r="1.55"/><circle cx="54.2" cy="355" r="1.55"/><circle cx="114.6" cy="324.4" r="1.55"/><circle cx="161.5" cy="285.4" r="1.55"/><circle cx="111.9" cy="309.8" r="1.55"/><circle cx="67.3" cy="341.2" r="1.55"/><circle cx="74.2" cy="345.4" r="1.55"/><circle cx="137" cy="300.7" r="1.55"/><circle cx="128.2" cy="282.4" r="1.55"/><circle cx="144.1" cy="317" r="1.55"/><circle cx="132.1" cy="299.4" r="1.55"/><circle cx="115.3" cy="313.2" r="1.55"/><circle cx="155.8" cy="331.6" r="1.55"/><circle cx="114.3" cy="318.8" r="1.55"/><circle cx="155" cy="300.3" r="1.55"/><circle cx="166.5" cy="289.4" r="1.55"/><circle cx="173.1" cy="287.6" r="1.55"/><circle cx="153.7" cy="294" r="1.55"/><circle cx="141.3" cy="310.7" r="1.55"/><circle cx="141.9" cy="315.8" r="1.55"/><circle cx="160.4" cy="291.1" r="1.55"/><circle cx="119.8" cy="314.2" r="1.55"/><circle cx="142.5" cy="298.7" r="1.55"/><circle cx="142.3" cy="282.6" r="1.55"/><circle cx="140.1" cy="323.4" r="1.55"/><circle cx="130" cy="298.2" r="1.55"/><circle cx="115.4" cy="319.4" r="1.55"/><circle cx="121.3" cy="320.1" r="1.55"/><circle cx="143" cy="294.3" r="1.55"/><circle cx="204.2" cy="281.3" r="1.55"/><circle cx="145.5" cy="291.3" r="1.55"/><circle cx="113.9" cy="322.3" r="1.55"/><circle cx="185.2" cy="278.5" r="1.55"/><circle cx="141.2" cy="302.5" r="1.55"/><circle cx="113.8" cy="317" r="1.55"/><circle cx="128" cy="328.2" r="1.55"/><circle cx="96.1" cy="357.4" r="1.55"/><circle cx="156.2" cy="308.5" r="1.55"/><circle cx="109.7" cy="332.9" r="1.55"/><circle cx="59.6" cy="347.2" r="1.55"/><circle cx="64" cy="346.8" r="1.55"/><circle cx="180.2" cy="283.3" r="1.55"/><circle cx="162.7" cy="290.3" r="1.55"/><circle cx="114.3" cy="318.4" r="1.55"/><circle cx="176.3" cy="274.5" r="1.55"/><circle cx="83.1" cy="329.1" r="1.55"/><circle cx="156.1" cy="334.8" r="1.55"/><circle cx="82.3" cy="328.5" r="1.55"/><circle cx="141.5" cy="315" r="1.55"/><circle cx="158.4" cy="287.6" r="1.55"/><circle cx="64.5" cy="355.2" r="1.55"/><circle cx="155.4" cy="299.8" r="1.55"/><circle cx="135.5" cy="308.3" r="1.55"/><circle cx="124.4" cy="309.7" r="1.55"/><circle cx="173.6" cy="287.4" r="1.55"/><circle cx="168.3" cy="284.9" r="1.55"/><circle cx="92.9" cy="312.7" r="1.55"/><circle cx="150" cy="302" r="1.55"/><circle cx="123.8" cy="305.7" r="1.55"/><circle cx="153.6" cy="305.7" r="1.55"/><circle cx="74.6" cy="340.5" r="1.55"/><circle cx="123.2" cy="316.9" r="1.55"/><circle cx="155.2" cy="330.2" r="1.55"/><circle cx="110" cy="312.5" r="1.55"/><circle cx="78.7" cy="344.5" r="1.55"/><circle cx="144.1" cy="302.9" r="1.55"/><circle cx="199.7" cy="281.8" r="1.55"/><circle cx="134.7" cy="315.2" r="1.55"/><circle cx="103.8" cy="331.9" r="1.55"/><circle cx="125.5" cy="314.7" r="1.55"/><circle cx="143" cy="298.2" r="1.55"/><circle cx="192.2" cy="277.9" r="1.55"/><circle cx="162.7" cy="309.8" r="1.55"/><circle cx="160.9" cy="287.3" r="1.55"/><circle cx="105.1" cy="327.5" r="1.55"/><circle cx="170.7" cy="286.4" r="1.55"/><circle cx="214.7" cy="286.5" r="1.55"/><circle cx="141.2" cy="304" r="1.55"/><circle cx="165.1" cy="285" r="1.55"/><circle cx="125.5" cy="306.6" r="1.55"/><circle cx="153.8" cy="297.2" r="1.55"/><circle cx="186.8" cy="270.6" r="1.55"/><circle cx="80" cy="308" r="1.55"/><circle cx="155.4" cy="304.5" r="1.55"/><circle cx="248.4" cy="251" r="1.55"/><circle cx="126.9" cy="305.5" r="1.55"/><circle cx="140.2" cy="315.1" r="1.55"/><circle cx="132.2" cy="302.7" r="1.55"/><circle cx="111.5" cy="316" r="1.55"/><circle cx="127.6" cy="323.1" r="1.55"/><circle cx="137.3" cy="296.3" r="1.55"/><circle cx="164.4" cy="305" r="1.55"/><circle cx="62" cy="350.2" r="1.55"/><circle cx="148" cy="310.7" r="1.55"/><circle cx="128.5" cy="313.3" r="1.55"/><circle cx="224.2" cy="266" r="1.55"/><circle cx="199.4" cy="267.6" r="1.55"/><circle cx="203.1" cy="275.4" r="1.55"/><circle cx="74.5" cy="347.3" r="1.55"/><circle cx="159.8" cy="283.6" r="1.55"/><circle cx="208.5" cy="269.8" r="1.55"/><circle cx="103.4" cy="325.3" r="1.55"/><circle cx="230.5" cy="256.5" r="1.55"/><circle cx="255.9" cy="257.4" r="1.55"/><circle cx="202.9" cy="288.4" r="1.55"/><circle cx="133.4" cy="305.5" r="1.55"/><circle cx="88.7" cy="333" r="1.55"/><circle cx="77" cy="345.3" r="1.55"/><circle cx="131.4" cy="312.3" r="1.55"/><circle cx="109.2" cy="316" r="1.55"/><circle cx="165.2" cy="276.1" r="1.55"/><circle cx="149" cy="312" r="1.55"/><circle cx="136.6" cy="304.7" r="1.55"/><circle cx="202.5" cy="269.4" r="1.55"/><circle cx="69.3" cy="361.6" r="1.55"/><circle cx="116.5" cy="320.8" r="1.55"/><circle cx="146" cy="295.9" r="1.55"/><circle cx="70.2" cy="340.6" r="1.55"/><circle cx="102.5" cy="314.6" r="1.55"/><circle cx="108.9" cy="321" r="1.55"/><circle cx="115.5" cy="309.7" r="1.55"/><circle cx="201.9" cy="280.7" r="1.55"/><circle cx="138.9" cy="303.2" r="1.55"/><circle cx="126" cy="314.1" r="1.55"/><circle cx="140.6" cy="320.1" r="1.55"/><circle cx="155.5" cy="293.4" r="1.55"/><circle cx="138.2" cy="285.1" r="1.55"/><circle cx="226.6" cy="261.3" r="1.55"/><circle cx="117.5" cy="334.1" r="1.55"/><circle cx="133.4" cy="306.5" r="1.55"/><circle cx="152.9" cy="299.5" r="1.55"/><circle cx="170.4" cy="301" r="1.55"/><circle cx="133.8" cy="301.6" r="1.55"/><circle cx="92.4" cy="321.4" r="1.55"/><circle cx="146.1" cy="299.1" r="1.55"/><circle cx="93.9" cy="323" r="1.55"/><circle cx="161.3" cy="285" r="1.55"/><circle cx="71" cy="336.6" r="1.55"/><circle cx="139.1" cy="295.2" r="1.55"/><circle cx="155.6" cy="284.2" r="1.55"/><circle cx="93.6" cy="322" r="1.55"/><circle cx="86.3" cy="315.7" r="1.55"/><circle cx="149.2" cy="325.2" r="1.55"/><circle cx="137.8" cy="308.5" r="1.55"/><circle cx="128.9" cy="309.2" r="1.55"/><circle cx="133.1" cy="308.7" r="1.55"/><circle cx="182.8" cy="275.7" r="1.55"/><circle cx="138.7" cy="291.7" r="1.55"/><circle cx="167.5" cy="283.6" r="1.55"/><circle cx="47.1" cy="354.3" r="1.55"/><circle cx="150.6" cy="308.6" r="1.55"/><circle cx="192.1" cy="253" r="1.55"/><circle cx="201.3" cy="284.7" r="1.55"/><circle cx="94.7" cy="328.7" r="1.55"/><circle cx="213.8" cy="260.5" r="1.55"/><circle cx="92" cy="335.5" r="1.55"/><circle cx="55" cy="338.5" r="1.55"/><circle cx="64" cy="351.8" r="1.55"/><circle cx="127.5" cy="307.1" r="1.55"/><circle cx="84.3" cy="347.5" r="1.55"/><circle cx="119.1" cy="302.9" r="1.55"/><circle cx="149.9" cy="281.6" r="1.55"/><circle cx="91.5" cy="335.9" r="1.55"/><circle cx="210.2" cy="270.8" r="1.55"/><circle cx="142.7" cy="297.5" r="1.55"/><circle cx="129.5" cy="309.7" r="1.55"/><circle cx="160.8" cy="282.4" r="1.55"/><circle cx="131.8" cy="303" r="1.55"/><circle cx="74.7" cy="350.9" r="1.55"/><circle cx="145.3" cy="309.1" r="1.55"/><circle cx="221.2" cy="271.1" r="1.55"/><circle cx="101" cy="327.6" r="1.55"/><circle cx="130.6" cy="308.5" r="1.55"/><circle cx="153" cy="310" r="1.55"/><circle cx="194.8" cy="266.5" r="1.55"/><circle cx="101.9" cy="310.2" r="1.55"/><circle cx="136.5" cy="299.3" r="1.55"/><circle cx="132.5" cy="325.6" r="1.55"/><circle cx="126.8" cy="311" r="1.55"/><circle cx="166.1" cy="287.3" r="1.55"/><circle cx="160.3" cy="295.2" r="1.55"/><circle cx="126.1" cy="292.3" r="1.55"/><circle cx="136.8" cy="288.1" r="1.55"/><circle cx="222.3" cy="259.7" r="1.55"/><circle cx="122.1" cy="316.9" r="1.55"/><circle cx="176.3" cy="286.7" r="1.55"/><circle cx="117.3" cy="313" r="1.55"/><circle cx="167.8" cy="310.6" r="1.55"/><circle cx="123.8" cy="311.8" r="1.55"/><circle cx="135" cy="304.6" r="1.55"/><circle cx="127.2" cy="307.5" r="1.55"/><circle cx="123.4" cy="298.7" r="1.55"/><circle cx="129.4" cy="317.7" r="1.55"/><circle cx="196.1" cy="288.6" r="1.55"/><circle cx="111.2" cy="320.2" r="1.55"/><circle cx="75.4" cy="350.6" r="1.55"/><circle cx="115.6" cy="329.2" r="1.55"/><circle cx="135.5" cy="303.4" r="1.55"/><circle cx="97.8" cy="328.8" r="1.55"/><circle cx="101.7" cy="325.4" r="1.55"/><circle cx="163.8" cy="297.2" r="1.55"/><circle cx="175.1" cy="290.8" r="1.55"/><circle cx="60.3" cy="361.6" r="1.55"/><circle cx="218.9" cy="271.6" r="1.55"/><circle cx="122.3" cy="317.4" r="1.55"/><circle cx="150.2" cy="297.5" r="1.55"/><circle cx="132.6" cy="316" r="1.55"/><circle cx="143.8" cy="291.8" r="1.55"/><circle cx="83" cy="334.7" r="1.55"/><circle cx="117.8" cy="317.4" r="1.55"/><circle cx="110.8" cy="301.7" r="1.55"/><circle cx="89.1" cy="324.2" r="1.55"/><circle cx="178.8" cy="279.5" r="1.55"/><circle cx="120.8" cy="335.7" r="1.55"/><circle cx="116.3" cy="310.2" r="1.55"/><circle cx="96.5" cy="301.6" r="1.55"/><circle cx="99.7" cy="321.1" r="1.55"/><circle cx="214.4" cy="269" r="1.55"/><circle cx="118.5" cy="321.2" r="1.55"/><circle cx="142.3" cy="313.6" r="1.55"/><circle cx="179" cy="320.1" r="1.55"/><circle cx="200.9" cy="274.8" r="1.55"/><circle cx="193" cy="295.6" r="1.55"/><circle cx="92.7" cy="337.3" r="1.55"/><circle cx="159" cy="290.8" r="1.55"/><circle cx="137.2" cy="300" r="1.55"/><circle cx="147.3" cy="309.8" r="1.55"/><circle cx="226.5" cy="253.1" r="1.55"/><circle cx="217.6" cy="255.3" r="1.55"/><circle cx="137.7" cy="301.7" r="1.55"/><circle cx="200.5" cy="275.5" r="1.55"/><circle cx="145.8" cy="305.3" r="1.55"/><circle cx="113.2" cy="312.9" r="1.55"/><circle cx="176.3" cy="289.1" r="1.55"/><circle cx="79" cy="340.8" r="1.55"/><circle cx="131.4" cy="304.6" r="1.55"/><circle cx="183.3" cy="269" r="1.55"/><circle cx="128.3" cy="304.5" r="1.55"/><circle cx="160.2" cy="280.7" r="1.55"/><circle cx="123.1" cy="307.2" r="1.55"/><circle cx="145.1" cy="293.3" r="1.55"/><circle cx="192.3" cy="278.3" r="1.55"/><circle cx="129.7" cy="298.2" r="1.55"/><circle cx="104.2" cy="335.3" r="1.55"/><circle cx="185" cy="277.2" r="1.55"/><circle cx="147.5" cy="299.2" r="1.55"/><circle cx="133.2" cy="290.9" r="1.55"/><circle cx="130.6" cy="319.7" r="1.55"/><circle cx="102.4" cy="319.7" r="1.55"/><circle cx="90.2" cy="330.2" r="1.55"/><circle cx="132.9" cy="299.8" r="1.55"/><circle cx="100.1" cy="325.6" r="1.55"/><circle cx="74.2" cy="352.8" r="1.55"/><circle cx="164" cy="294.2" r="1.55"/><circle cx="213.4" cy="269.4" r="1.55"/><circle cx="128.6" cy="310.9" r="1.55"/><circle cx="141" cy="286.8" r="1.55"/><circle cx="172.3" cy="287" r="1.55"/><circle cx="113.2" cy="326.6" r="1.55"/><circle cx="137.1" cy="325.3" r="1.55"/><circle cx="168.7" cy="289.5" r="1.55"/><circle cx="111.8" cy="328.9" r="1.55"/><circle cx="118.5" cy="296.6" r="1.55"/><circle cx="113.4" cy="305.2" r="1.55"/><circle cx="128.9" cy="310.8" r="1.55"/><circle cx="200.6" cy="283.5" r="1.55"/><circle cx="186.4" cy="272.1" r="1.55"/><circle cx="140.2" cy="307.1" r="1.55"/><circle cx="142" cy="304.8" r="1.55"/><circle cx="203.2" cy="268.1" r="1.55"/><circle cx="55.4" cy="353.8" r="1.55"/><circle cx="138.7" cy="302.8" r="1.55"/><circle cx="214" cy="271.5" r="1.55"/><circle cx="146.4" cy="298.6" r="1.55"/><circle cx="103.6" cy="313.5" r="1.55"/><circle cx="139.4" cy="302.3" r="1.55"/><circle cx="45.4" cy="358.8" r="1.55"/><circle cx="138" cy="310.6" r="1.55"/><circle cx="141.5" cy="319.8" r="1.55"/><circle cx="94.2" cy="331.2" r="1.55"/><circle cx="141.9" cy="332.2" r="1.55"/><circle cx="120.9" cy="314.3" r="1.55"/><circle cx="119.9" cy="327.6" r="1.55"/><circle cx="119.1" cy="311" r="1.55"/><circle cx="61.8" cy="339.7" r="1.55"/><circle cx="146.2" cy="296.9" r="1.55"/><circle cx="157" cy="286.8" r="1.55"/><circle cx="139.2" cy="297.1" r="1.55"/><circle cx="163.8" cy="293" r="1.55"/><circle cx="128.8" cy="311.4" r="1.55"/><circle cx="192.4" cy="269.4" r="1.55"/><circle cx="150.1" cy="303.6" r="1.55"/><circle cx="164.6" cy="294.2" r="1.55"/><circle cx="169.2" cy="292.1" r="1.55"/><circle cx="66.2" cy="348.1" r="1.55"/><circle cx="227.8" cy="257.5" r="1.55"/><circle cx="63.9" cy="361.6" r="1.55"/><circle cx="79.7" cy="361.6" r="1.55"/><circle cx="134.2" cy="321" r="1.55"/><circle cx="131.3" cy="297.7" r="1.55"/><circle cx="129" cy="317.6" r="1.55"/><circle cx="136.6" cy="282.4" r="1.55"/><circle cx="115.9" cy="320.7" r="1.55"/><circle cx="116.1" cy="321" r="1.55"/><circle cx="65.4" cy="320.6" r="1.55"/><circle cx="116.6" cy="311.9" r="1.55"/><circle cx="138.2" cy="304.2" r="1.55"/><circle cx="159.3" cy="288.7" r="1.55"/><circle cx="66.2" cy="355.2" r="1.55"/><circle cx="140.9" cy="307" r="1.55"/><circle cx="148.9" cy="297.8" r="1.55"/><circle cx="179.7" cy="292.4" r="1.55"/><circle cx="124.1" cy="293.4" r="1.55"/><circle cx="98.4" cy="345.2" r="1.55"/><circle cx="148.2" cy="296.6" r="1.55"/><circle cx="159.8" cy="293.9" r="1.55"/><circle cx="150.4" cy="279.5" r="1.55"/><circle cx="164" cy="281.6" r="1.55"/><circle cx="209" cy="264" r="1.55"/><circle cx="140" cy="312.2" r="1.55"/><circle cx="100.8" cy="345" r="1.55"/><circle cx="150.2" cy="280.7" r="1.55"/><circle cx="118.5" cy="321.4" r="1.55"/><circle cx="111" cy="320.5" r="1.55"/><circle cx="120" cy="319.7" r="1.55"/><circle cx="118.9" cy="301.5" r="1.55"/><circle cx="118.8" cy="342.2" r="1.55"/><circle cx="148.2" cy="328.8" r="1.55"/><circle cx="71" cy="341.8" r="1.55"/><circle cx="120.5" cy="327.1" r="1.55"/><circle cx="95.4" cy="318.3" r="1.55"/><circle cx="143.8" cy="308" r="1.55"/><circle cx="196.6" cy="295.1" r="1.55"/><circle cx="233.1" cy="266.9" r="1.55"/><circle cx="170.7" cy="277" r="1.55"/><circle cx="131.2" cy="310.6" r="1.55"/><circle cx="125.8" cy="312.8" r="1.55"/><circle cx="112.4" cy="340.3" r="1.55"/><circle cx="164.1" cy="290.6" r="1.55"/><circle cx="80" cy="336.3" r="1.55"/><circle cx="89.6" cy="339.7" r="1.55"/><circle cx="88.1" cy="324.1" r="1.55"/><circle cx="182.9" cy="287.4" r="1.55"/><circle cx="94.3" cy="320.2" r="1.55"/><circle cx="91.4" cy="322.5" r="1.55"/><circle cx="184.9" cy="268.7" r="1.55"/><circle cx="120.1" cy="316.5" r="1.55"/><circle cx="125.9" cy="298.7" r="1.55"/><circle cx="134.7" cy="310.9" r="1.55"/><circle cx="195.5" cy="294.5" r="1.55"/><circle cx="241.6" cy="274.4" r="1.55"/><circle cx="150.3" cy="331.8" r="1.55"/><circle cx="208.4" cy="314.2" r="1.55"/><circle cx="154.2" cy="323.8" r="1.55"/><circle cx="235.2" cy="330.9" r="1.55"/><circle cx="230.4" cy="284.3" r="1.55"/><circle cx="167.4" cy="316.7" r="1.55"/><circle cx="181.8" cy="318.7" r="1.55"/><circle cx="203.1" cy="300.8" r="1.55"/><circle cx="167.8" cy="317.6" r="1.55"/><circle cx="165.8" cy="312.2" r="1.55"/><circle cx="160.6" cy="309.5" r="1.55"/><circle cx="168.9" cy="336.1" r="1.55"/><circle cx="189.7" cy="293.7" r="1.55"/><circle cx="158.3" cy="313.3" r="1.55"/><circle cx="194.7" cy="292.2" r="1.55"/><circle cx="216.7" cy="285.1" r="1.55"/><circle cx="224.5" cy="282.5" r="1.55"/><circle cx="222.1" cy="295.1" r="1.55"/><circle cx="138.5" cy="320.6" r="1.55"/><circle cx="149.4" cy="328.4" r="1.55"/><circle cx="68.8" cy="320.5" r="1.55"/><circle cx="60.8" cy="319.5" r="1.55"/><circle cx="189.9" cy="259.9" r="1.55"/><circle cx="58" cy="330.4" r="1.55"/><circle cx="193.7" cy="257" r="1.55"/><circle cx="131.5" cy="284.7" r="1.55"/></g>
<g fill="#ff8a14" fill-opacity="0.43"><circle cx="121.5" cy="289.5" r="2.05"/><circle cx="111.6" cy="318.9" r="2.05"/><circle cx="83.6" cy="339.1" r="2.05"/><circle cx="128.4" cy="302.7" r="2.05"/><circle cx="120" cy="323.9" r="2.05"/><circle cx="148.8" cy="293.8" r="2.05"/><circle cx="119.5" cy="309.6" r="2.05"/><circle cx="103.9" cy="327.5" r="2.05"/><circle cx="187.1" cy="278.7" r="2.05"/><circle cx="74.5" cy="355.3" r="2.05"/><circle cx="134.8" cy="300.8" r="2.05"/><circle cx="63.7" cy="346.3" r="2.05"/><circle cx="54.7" cy="346.9" r="2.05"/><circle cx="149" cy="304.5" r="2.05"/><circle cx="122.1" cy="310.9" r="2.05"/><circle cx="142.3" cy="296.5" r="2.05"/><circle cx="121.5" cy="314" r="2.05"/><circle cx="134.6" cy="306.4" r="2.05"/><circle cx="124.5" cy="306.4" r="2.05"/><circle cx="150.2" cy="301.2" r="2.05"/><circle cx="162" cy="299.9" r="2.05"/><circle cx="89" cy="341.1" r="2.05"/><circle cx="117.3" cy="320.2" r="2.05"/><circle cx="80.3" cy="336.2" r="2.05"/><circle cx="110.5" cy="318" r="2.05"/><circle cx="90.2" cy="337.6" r="2.05"/><circle cx="139" cy="315.6" r="2.05"/><circle cx="143.9" cy="312" r="2.05"/><circle cx="151.1" cy="302.1" r="2.05"/><circle cx="136.6" cy="308.6" r="2.05"/><circle cx="135.7" cy="307.4" r="2.05"/><circle cx="120.4" cy="316.4" r="2.05"/><circle cx="119" cy="321.1" r="2.05"/><circle cx="81.7" cy="329.7" r="2.05"/><circle cx="147.7" cy="303.2" r="2.05"/><circle cx="157.7" cy="298.1" r="2.05"/><circle cx="91.2" cy="328.6" r="2.05"/><circle cx="150.7" cy="302.5" r="2.05"/><circle cx="109.6" cy="327.8" r="2.05"/><circle cx="135.5" cy="316.1" r="2.05"/><circle cx="97.4" cy="334.5" r="2.05"/><circle cx="140.5" cy="307.5" r="2.05"/><circle cx="67.4" cy="340.5" r="2.05"/><circle cx="142.1" cy="277.1" r="2.05"/><circle cx="153.1" cy="272.4" r="2.05"/><circle cx="153.8" cy="295" r="2.05"/><circle cx="129.2" cy="318.9" r="2.05"/><circle cx="199.9" cy="283.6" r="2.05"/><circle cx="128.4" cy="301" r="2.05"/><circle cx="196.5" cy="284" r="2.05"/><circle cx="156.9" cy="302.2" r="2.05"/><circle cx="117" cy="324.5" r="2.05"/><circle cx="57.2" cy="345.5" r="2.05"/><circle cx="164.6" cy="290.2" r="2.05"/><circle cx="146.6" cy="312.3" r="2.05"/><circle cx="214.1" cy="270.2" r="2.05"/><circle cx="104" cy="328.8" r="2.05"/><circle cx="90" cy="328.1" r="2.05"/><circle cx="83" cy="337.1" r="2.05"/><circle cx="72.8" cy="353.3" r="2.05"/><circle cx="174.5" cy="286.1" r="2.05"/><circle cx="69.2" cy="340.7" r="2.05"/><circle cx="106.2" cy="324.8" r="2.05"/><circle cx="200.2" cy="273.9" r="2.05"/><circle cx="246.9" cy="256" r="2.05"/><circle cx="61.6" cy="355.6" r="2.05"/><circle cx="130.4" cy="307.1" r="2.05"/><circle cx="178.6" cy="285.7" r="2.05"/><circle cx="168.4" cy="303.9" r="2.05"/><circle cx="191.4" cy="272.2" r="2.05"/><circle cx="219.7" cy="262.2" r="2.05"/><circle cx="94.2" cy="345.8" r="2.05"/><circle cx="126.3" cy="314.7" r="2.05"/><circle cx="119.1" cy="314.1" r="2.05"/><circle cx="150.3" cy="300.9" r="2.05"/><circle cx="104.8" cy="316.2" r="2.05"/><circle cx="165.1" cy="280.4" r="2.05"/><circle cx="167.9" cy="290.2" r="2.05"/><circle cx="143.5" cy="300.8" r="2.05"/><circle cx="153.2" cy="295.6" r="2.05"/><circle cx="123.8" cy="320" r="2.05"/><circle cx="195.3" cy="270.6" r="2.05"/><circle cx="108" cy="328.3" r="2.05"/><circle cx="112" cy="337" r="2.05"/><circle cx="124.7" cy="341.4" r="2.05"/><circle cx="106.2" cy="325.9" r="2.05"/><circle cx="164.3" cy="283.6" r="2.05"/><circle cx="136.6" cy="314.1" r="2.05"/><circle cx="129.1" cy="325.8" r="2.05"/><circle cx="219.1" cy="268.8" r="2.05"/><circle cx="155.8" cy="294.8" r="2.05"/><circle cx="78.5" cy="337.9" r="2.05"/><circle cx="158.3" cy="314.9" r="2.05"/><circle cx="149.1" cy="293.1" r="2.05"/><circle cx="169.6" cy="280" r="2.05"/><circle cx="164.5" cy="298.7" r="2.05"/><circle cx="125" cy="315.9" r="2.05"/><circle cx="174.4" cy="279.8" r="2.05"/><circle cx="153.8" cy="288.3" r="2.05"/><circle cx="157.3" cy="294.8" r="2.05"/><circle cx="102.4" cy="326.1" r="2.05"/><circle cx="90.6" cy="330.9" r="2.05"/><circle cx="140.9" cy="300.6" r="2.05"/><circle cx="114.6" cy="311" r="2.05"/><circle cx="89.5" cy="331.9" r="2.05"/><circle cx="135.4" cy="352.9" r="2.05"/><circle cx="216.8" cy="267.7" r="2.05"/><circle cx="118.7" cy="328.1" r="2.05"/><circle cx="132.2" cy="322.2" r="2.05"/><circle cx="167.1" cy="284.9" r="2.05"/><circle cx="130.3" cy="302.9" r="2.05"/><circle cx="74.7" cy="344.8" r="2.05"/><circle cx="152.7" cy="284.7" r="2.05"/><circle cx="65.8" cy="344.6" r="2.05"/><circle cx="133.5" cy="309.2" r="2.05"/><circle cx="63.3" cy="348.3" r="2.05"/><circle cx="114.3" cy="361.6" r="2.05"/><circle cx="136.1" cy="302.5" r="2.05"/><circle cx="128" cy="313.9" r="2.05"/><circle cx="184.7" cy="281.3" r="2.05"/><circle cx="133" cy="309" r="2.05"/><circle cx="176.2" cy="280.4" r="2.05"/><circle cx="96.9" cy="338.4" r="2.05"/><circle cx="121.1" cy="314.6" r="2.05"/><circle cx="180.5" cy="286.6" r="2.05"/><circle cx="231.3" cy="262.3" r="2.05"/><circle cx="114.1" cy="318.1" r="2.05"/><circle cx="164" cy="285" r="2.05"/><circle cx="114.4" cy="337.3" r="2.05"/><circle cx="136.1" cy="303" r="2.05"/><circle cx="195.1" cy="276.1" r="2.05"/><circle cx="148.4" cy="304.3" r="2.05"/><circle cx="163.5" cy="287.1" r="2.05"/><circle cx="146.3" cy="308.3" r="2.05"/><circle cx="89.1" cy="325.3" r="2.05"/><circle cx="130.6" cy="331.1" r="2.05"/><circle cx="141.8" cy="312.1" r="2.05"/><circle cx="142.4" cy="304.3" r="2.05"/><circle cx="140.1" cy="310.8" r="2.05"/><circle cx="121.4" cy="314" r="2.05"/><circle cx="113.9" cy="315.5" r="2.05"/><circle cx="134.1" cy="313.5" r="2.05"/><circle cx="155.3" cy="299.7" r="2.05"/><circle cx="150.9" cy="286.9" r="2.05"/><circle cx="104.9" cy="326.1" r="2.05"/><circle cx="152.8" cy="299.6" r="2.05"/><circle cx="55.9" cy="347.6" r="2.05"/><circle cx="54.5" cy="355.7" r="2.05"/><circle cx="144.3" cy="296.9" r="2.05"/><circle cx="145.7" cy="332.4" r="2.05"/><circle cx="151.1" cy="310.7" r="2.05"/><circle cx="212.4" cy="271" r="2.05"/><circle cx="135.5" cy="302.8" r="2.05"/><circle cx="170.3" cy="277" r="2.05"/><circle cx="123.7" cy="314.3" r="2.05"/><circle cx="154.4" cy="303.9" r="2.05"/><circle cx="104.4" cy="331.5" r="2.05"/><circle cx="199.4" cy="274.8" r="2.05"/><circle cx="143.1" cy="304.7" r="2.05"/><circle cx="58.4" cy="353.3" r="2.05"/><circle cx="155.8" cy="297.9" r="2.05"/><circle cx="137.4" cy="338.3" r="2.05"/><circle cx="137.2" cy="305" r="2.05"/><circle cx="175.1" cy="281.4" r="2.05"/><circle cx="121.8" cy="319.9" r="2.05"/><circle cx="192" cy="277.6" r="2.05"/><circle cx="146.3" cy="305" r="2.05"/><circle cx="158.9" cy="299.5" r="2.05"/><circle cx="150.8" cy="311.5" r="2.05"/><circle cx="191.7" cy="280.8" r="2.05"/><circle cx="82.3" cy="340.9" r="2.05"/><circle cx="177.3" cy="277.1" r="2.05"/><circle cx="162.6" cy="290.9" r="2.05"/><circle cx="128" cy="295.5" r="2.05"/><circle cx="103" cy="334.7" r="2.05"/><circle cx="246.4" cy="256.6" r="2.05"/><circle cx="132.5" cy="312.2" r="2.05"/><circle cx="110.5" cy="318.5" r="2.05"/><circle cx="59.4" cy="352.3" r="2.05"/><circle cx="160.4" cy="288.9" r="2.05"/><circle cx="236.2" cy="268.2" r="2.05"/><circle cx="152.4" cy="297" r="2.05"/><circle cx="198.8" cy="271" r="2.05"/><circle cx="115.5" cy="314.6" r="2.05"/><circle cx="58.4" cy="347" r="2.05"/><circle cx="160.7" cy="288.1" r="2.05"/><circle cx="138.9" cy="314.2" r="2.05"/><circle cx="118.6" cy="319" r="2.05"/><circle cx="110.2" cy="319.3" r="2.05"/><circle cx="237.5" cy="265" r="2.05"/><circle cx="128.6" cy="291.1" r="2.05"/><circle cx="111.8" cy="314.8" r="2.05"/><circle cx="81.1" cy="335.4" r="2.05"/><circle cx="52.3" cy="358.3" r="2.05"/><circle cx="93.7" cy="337.6" r="2.05"/><circle cx="112.5" cy="341.6" r="2.05"/><circle cx="75.9" cy="340.9" r="2.05"/><circle cx="95.4" cy="313.2" r="2.05"/><circle cx="126.7" cy="320.7" r="2.05"/><circle cx="56.4" cy="344" r="2.05"/><circle cx="170.3" cy="292.1" r="2.05"/><circle cx="154.8" cy="285.3" r="2.05"/><circle cx="101.9" cy="325.1" r="2.05"/><circle cx="195.2" cy="311" r="2.05"/><circle cx="160.5" cy="300.9" r="2.05"/><circle cx="157.5" cy="285.5" r="2.05"/><circle cx="117.6" cy="311.8" r="2.05"/><circle cx="108.4" cy="322.8" r="2.05"/><circle cx="183.4" cy="266.4" r="2.05"/><circle cx="121.6" cy="315.8" r="2.05"/><circle cx="101.7" cy="330.7" r="2.05"/><circle cx="131.1" cy="310.7" r="2.05"/><circle cx="172.7" cy="298.1" r="2.05"/><circle cx="80.8" cy="342.5" r="2.05"/><circle cx="151.5" cy="299" r="2.05"/><circle cx="97" cy="329.5" r="2.05"/><circle cx="96.1" cy="341.4" r="2.05"/><circle cx="124.5" cy="303.5" r="2.05"/><circle cx="103.6" cy="331" r="2.05"/><circle cx="127.7" cy="324.1" r="2.05"/><circle cx="136.8" cy="305.4" r="2.05"/><circle cx="203.9" cy="276.3" r="2.05"/><circle cx="81.6" cy="338.1" r="2.05"/><circle cx="150.7" cy="297.3" r="2.05"/><circle cx="186.2" cy="292.1" r="2.05"/><circle cx="144.9" cy="314.7" r="2.05"/><circle cx="72.2" cy="340.9" r="2.05"/><circle cx="116.3" cy="324.2" r="2.05"/><circle cx="107.5" cy="323" r="2.05"/><circle cx="108.4" cy="311.3" r="2.05"/><circle cx="64.3" cy="352.1" r="2.05"/><circle cx="100.3" cy="323" r="2.05"/><circle cx="156.6" cy="283.8" r="2.05"/><circle cx="175.8" cy="276.5" r="2.05"/><circle cx="196" cy="267" r="2.05"/><circle cx="90.7" cy="355.4" r="2.05"/><circle cx="171.1" cy="285.4" r="2.05"/><circle cx="139.5" cy="299.9" r="2.05"/><circle cx="143.1" cy="323" r="2.05"/><circle cx="148.6" cy="321.6" r="2.05"/><circle cx="47.6" cy="361.6" r="2.05"/><circle cx="142.8" cy="283.2" r="2.05"/><circle cx="203.7" cy="269.2" r="2.05"/><circle cx="138.7" cy="322.9" r="2.05"/><circle cx="135.4" cy="307.6" r="2.05"/><circle cx="170.5" cy="289.3" r="2.05"/><circle cx="126.8" cy="312.6" r="2.05"/><circle cx="141.2" cy="319.5" r="2.05"/><circle cx="133.8" cy="310.5" r="2.05"/><circle cx="120.3" cy="313.1" r="2.05"/><circle cx="118.9" cy="322" r="2.05"/><circle cx="97.7" cy="329.4" r="2.05"/><circle cx="99" cy="293.6" r="2.05"/><circle cx="159.4" cy="308.8" r="2.05"/><circle cx="125.4" cy="313" r="2.05"/><circle cx="240" cy="249.9" r="2.05"/><circle cx="222.2" cy="265.8" r="2.05"/><circle cx="135.5" cy="315.1" r="2.05"/><circle cx="58.5" cy="349.2" r="2.05"/><circle cx="73.6" cy="343" r="2.05"/><circle cx="115.4" cy="355.1" r="2.05"/><circle cx="137.9" cy="316.3" r="2.05"/><circle cx="142.2" cy="317.8" r="2.05"/><circle cx="78.7" cy="342.7" r="2.05"/><circle cx="161.2" cy="272.8" r="2.05"/><circle cx="115.2" cy="306.3" r="2.05"/><circle cx="131" cy="316.7" r="2.05"/><circle cx="189.2" cy="295.4" r="2.05"/><circle cx="122.3" cy="329" r="2.05"/><circle cx="115.4" cy="320.4" r="2.05"/><circle cx="171.9" cy="290" r="2.05"/><circle cx="146.8" cy="300.3" r="2.05"/><circle cx="185.9" cy="271.3" r="2.05"/><circle cx="136.6" cy="308" r="2.05"/><circle cx="117.7" cy="320.7" r="2.05"/><circle cx="50" cy="355.9" r="2.05"/><circle cx="176.8" cy="283.6" r="2.05"/><circle cx="74.7" cy="331.5" r="2.05"/><circle cx="151" cy="304" r="2.05"/><circle cx="137.8" cy="306" r="2.05"/><circle cx="205" cy="271.9" r="2.05"/><circle cx="154.8" cy="301.9" r="2.05"/><circle cx="104.1" cy="330.7" r="2.05"/><circle cx="195.7" cy="276.5" r="2.05"/><circle cx="181.5" cy="277.4" r="2.05"/><circle cx="142" cy="303.8" r="2.05"/><circle cx="134" cy="313.4" r="2.05"/><circle cx="75.1" cy="337.7" r="2.05"/><circle cx="114.7" cy="339.7" r="2.05"/><circle cx="87.5" cy="329.8" r="2.05"/><circle cx="196.9" cy="277.2" r="2.05"/><circle cx="149.9" cy="303.5" r="2.05"/><circle cx="128.4" cy="305.8" r="2.05"/><circle cx="153.5" cy="291.9" r="2.05"/><circle cx="161.5" cy="293.1" r="2.05"/><circle cx="77.4" cy="341.8" r="2.05"/><circle cx="119.2" cy="323" r="2.05"/><circle cx="148.7" cy="295.2" r="2.05"/><circle cx="118.9" cy="329.4" r="2.05"/><circle cx="160.9" cy="298.3" r="2.05"/><circle cx="89.3" cy="356.3" r="2.05"/><circle cx="197.5" cy="274.6" r="2.05"/><circle cx="92.5" cy="336.2" r="2.05"/><circle cx="98.7" cy="319.9" r="2.05"/><circle cx="135.8" cy="306.4" r="2.05"/><circle cx="147.1" cy="299.2" r="2.05"/><circle cx="145.9" cy="297" r="2.05"/><circle cx="184.8" cy="289.8" r="2.05"/><circle cx="169.9" cy="281.4" r="2.05"/><circle cx="122.3" cy="307.9" r="2.05"/><circle cx="154.8" cy="294.1" r="2.05"/><circle cx="144.5" cy="297.1" r="2.05"/><circle cx="117.7" cy="317.3" r="2.05"/><circle cx="63.5" cy="360.3" r="2.05"/><circle cx="164.1" cy="283.1" r="2.05"/><circle cx="200.7" cy="266.1" r="2.05"/><circle cx="83.8" cy="344.1" r="2.05"/><circle cx="128.8" cy="312.2" r="2.05"/><circle cx="128.5" cy="311.4" r="2.05"/><circle cx="142.5" cy="315.4" r="2.05"/><circle cx="131.4" cy="302.7" r="2.05"/><circle cx="234.6" cy="264.1" r="2.05"/><circle cx="100.1" cy="320.3" r="2.05"/><circle cx="154.8" cy="300.9" r="2.05"/><circle cx="212.1" cy="262.1" r="2.05"/><circle cx="155.3" cy="298.7" r="2.05"/><circle cx="71.3" cy="332.2" r="2.05"/><circle cx="125.4" cy="311.8" r="2.05"/><circle cx="216.5" cy="262.9" r="2.05"/><circle cx="256.1" cy="254.3" r="2.05"/><circle cx="101.7" cy="329.7" r="2.05"/><circle cx="144.9" cy="295.5" r="2.05"/><circle cx="95" cy="328.1" r="2.05"/><circle cx="132.5" cy="313.7" r="2.05"/><circle cx="127.9" cy="313.5" r="2.05"/><circle cx="61.3" cy="342.3" r="2.05"/><circle cx="86.3" cy="334.8" r="2.05"/><circle cx="160.7" cy="294.8" r="2.05"/><circle cx="99.9" cy="324.4" r="2.05"/><circle cx="79.6" cy="355.5" r="2.05"/><circle cx="96.1" cy="337.7" r="2.05"/><circle cx="131" cy="316.8" r="2.05"/><circle cx="115.3" cy="324.6" r="2.05"/><circle cx="140.9" cy="305.7" r="2.05"/><circle cx="101.6" cy="319.4" r="2.05"/><circle cx="197.3" cy="276.7" r="2.05"/><circle cx="181.9" cy="286.7" r="2.05"/><circle cx="106.3" cy="333.7" r="2.05"/><circle cx="125.6" cy="318.9" r="2.05"/><circle cx="123.6" cy="319.4" r="2.05"/><circle cx="109.8" cy="318.2" r="2.05"/><circle cx="144.3" cy="311" r="2.05"/><circle cx="138.6" cy="309" r="2.05"/><circle cx="141.8" cy="302.7" r="2.05"/><circle cx="143.9" cy="295.8" r="2.05"/><circle cx="135.2" cy="288.2" r="2.05"/><circle cx="123.6" cy="318.8" r="2.05"/><circle cx="202" cy="270.5" r="2.05"/><circle cx="106.6" cy="326.5" r="2.05"/><circle cx="123.2" cy="329" r="2.05"/><circle cx="125.2" cy="303.7" r="2.05"/><circle cx="73.1" cy="341.9" r="2.05"/><circle cx="148.6" cy="328.3" r="2.05"/><circle cx="142.6" cy="328.3" r="2.05"/><circle cx="139.3" cy="316.5" r="2.05"/><circle cx="145.7" cy="302.3" r="2.05"/><circle cx="133.6" cy="300.5" r="2.05"/><circle cx="149.1" cy="296.1" r="2.05"/><circle cx="113.7" cy="323.8" r="2.05"/><circle cx="202.3" cy="277.4" r="2.05"/><circle cx="168.7" cy="291.1" r="2.05"/><circle cx="108.8" cy="325.1" r="2.05"/><circle cx="226.3" cy="271.5" r="2.05"/><circle cx="144.4" cy="315.1" r="2.05"/><circle cx="99.9" cy="330.4" r="2.05"/><circle cx="59" cy="347.1" r="2.05"/><circle cx="162" cy="282.7" r="2.05"/><circle cx="200.1" cy="275.2" r="2.05"/><circle cx="93.2" cy="332.1" r="2.05"/><circle cx="132.1" cy="302.4" r="2.05"/><circle cx="220.6" cy="268.8" r="2.05"/><circle cx="173.3" cy="281.2" r="2.05"/><circle cx="130" cy="325.6" r="2.05"/><circle cx="134.8" cy="315" r="2.05"/><circle cx="212.1" cy="297" r="2.05"/><circle cx="83.3" cy="336.7" r="2.05"/><circle cx="146.4" cy="303.1" r="2.05"/><circle cx="156.5" cy="292.4" r="2.05"/><circle cx="181.3" cy="281.3" r="2.05"/><circle cx="106.7" cy="318.6" r="2.05"/><circle cx="148.5" cy="287.1" r="2.05"/><circle cx="117.4" cy="311.6" r="2.05"/><circle cx="74.8" cy="344.2" r="2.05"/><circle cx="140" cy="301.4" r="2.05"/><circle cx="87.1" cy="327.7" r="2.05"/><circle cx="145.3" cy="301.7" r="2.05"/><circle cx="144" cy="303.9" r="2.05"/><circle cx="127.6" cy="309.4" r="2.05"/><circle cx="78.7" cy="337" r="2.05"/><circle cx="167.7" cy="298.8" r="2.05"/><circle cx="90" cy="341.6" r="2.05"/><circle cx="60.6" cy="361.6" r="2.05"/><circle cx="126.9" cy="308.7" r="2.05"/><circle cx="96.4" cy="325.9" r="2.05"/><circle cx="119.9" cy="333.5" r="2.05"/><circle cx="105.5" cy="321.1" r="2.05"/><circle cx="137.8" cy="312.4" r="2.05"/><circle cx="113.8" cy="315.3" r="2.05"/><circle cx="127.3" cy="309.5" r="2.05"/><circle cx="202.8" cy="272.7" r="2.05"/><circle cx="103.3" cy="320.3" r="2.05"/><circle cx="133.7" cy="309.6" r="2.05"/><circle cx="120.8" cy="313.7" r="2.05"/><circle cx="129.4" cy="306.5" r="2.05"/><circle cx="71.9" cy="345.3" r="2.05"/><circle cx="157.7" cy="295.7" r="2.05"/><circle cx="214.5" cy="271.1" r="2.05"/><circle cx="183.2" cy="283.6" r="2.05"/><circle cx="148.3" cy="299.4" r="2.05"/><circle cx="109" cy="333.2" r="2.05"/><circle cx="156.1" cy="307.4" r="2.05"/><circle cx="162.6" cy="281.7" r="2.05"/><circle cx="152.8" cy="303.1" r="2.05"/><circle cx="113.6" cy="313.4" r="2.05"/><circle cx="204.7" cy="279.7" r="2.05"/><circle cx="110.4" cy="324.3" r="2.05"/><circle cx="123.6" cy="291.3" r="2.05"/><circle cx="132.4" cy="320.3" r="2.05"/><circle cx="146.8" cy="296.5" r="2.05"/><circle cx="93.5" cy="326.1" r="2.05"/><circle cx="157" cy="290.5" r="2.05"/><circle cx="126" cy="315.3" r="2.05"/><circle cx="169.7" cy="286.8" r="2.05"/><circle cx="162.5" cy="289.6" r="2.05"/><circle cx="79.7" cy="344" r="2.05"/><circle cx="107.3" cy="318.6" r="2.05"/><circle cx="115.9" cy="343.1" r="2.05"/><circle cx="143.2" cy="315.9" r="2.05"/><circle cx="171.5" cy="282.6" r="2.05"/><circle cx="100.3" cy="342.3" r="2.05"/><circle cx="157.2" cy="287.3" r="2.05"/><circle cx="78.9" cy="340.5" r="2.05"/><circle cx="151.8" cy="309.7" r="2.05"/><circle cx="123.1" cy="319.2" r="2.05"/><circle cx="89.6" cy="329.5" r="2.05"/><circle cx="167.4" cy="300.4" r="2.05"/><circle cx="99.9" cy="334" r="2.05"/><circle cx="142.8" cy="304.4" r="2.05"/><circle cx="106" cy="309.4" r="2.05"/><circle cx="108.8" cy="334.7" r="2.05"/><circle cx="173.8" cy="273.6" r="2.05"/><circle cx="138.3" cy="301.3" r="2.05"/><circle cx="93.3" cy="330.4" r="2.05"/><circle cx="117.6" cy="323.5" r="2.05"/><circle cx="135" cy="299.9" r="2.05"/><circle cx="161.8" cy="289.7" r="2.05"/><circle cx="201.5" cy="266.4" r="2.05"/><circle cx="111.5" cy="320.3" r="2.05"/><circle cx="156.4" cy="295.5" r="2.05"/><circle cx="159.2" cy="292" r="2.05"/><circle cx="72.2" cy="346.9" r="2.05"/><circle cx="157.7" cy="301.8" r="2.05"/><circle cx="124.8" cy="318.3" r="2.05"/><circle cx="126.2" cy="325.3" r="2.05"/><circle cx="126.8" cy="301.6" r="2.05"/><circle cx="195" cy="272.4" r="2.05"/><circle cx="145.2" cy="340.5" r="2.05"/><circle cx="144.3" cy="300.8" r="2.05"/><circle cx="151.5" cy="302.4" r="2.05"/><circle cx="229.6" cy="255.3" r="2.05"/><circle cx="65.1" cy="341.2" r="2.05"/><circle cx="83.9" cy="359.5" r="2.05"/><circle cx="141.2" cy="299.4" r="2.05"/><circle cx="107.3" cy="316.8" r="2.05"/><circle cx="82.1" cy="329.9" r="2.05"/><circle cx="152.2" cy="294.3" r="2.05"/><circle cx="73.8" cy="344.8" r="2.05"/><circle cx="133.9" cy="310.6" r="2.05"/><circle cx="139.6" cy="312.1" r="2.05"/><circle cx="156.7" cy="299.4" r="2.05"/><circle cx="135.1" cy="313.4" r="2.05"/><circle cx="129.4" cy="307" r="2.05"/><circle cx="66.3" cy="357.6" r="2.05"/><circle cx="160" cy="308.6" r="2.05"/><circle cx="50.7" cy="360.6" r="2.05"/><circle cx="220.3" cy="266.4" r="2.05"/><circle cx="107.5" cy="318.8" r="2.05"/><circle cx="57.9" cy="352.7" r="2.05"/><circle cx="112.1" cy="315.5" r="2.05"/><circle cx="90" cy="337.5" r="2.05"/><circle cx="158.1" cy="290.4" r="2.05"/><circle cx="207.7" cy="276.6" r="2.05"/><circle cx="67" cy="352.4" r="2.05"/><circle cx="124.7" cy="314.8" r="2.05"/><circle cx="195.6" cy="285.1" r="2.05"/><circle cx="130.7" cy="313.3" r="2.05"/><circle cx="106.2" cy="325.8" r="2.05"/><circle cx="71.5" cy="340.8" r="2.05"/><circle cx="127.8" cy="313.6" r="2.05"/><circle cx="129.6" cy="309" r="2.05"/><circle cx="117.6" cy="323.8" r="2.05"/><circle cx="137.2" cy="312.6" r="2.05"/><circle cx="105.1" cy="327.5" r="2.05"/><circle cx="104.8" cy="340.5" r="2.05"/><circle cx="135.8" cy="293.1" r="2.05"/><circle cx="97.3" cy="349" r="2.05"/><circle cx="122.6" cy="315.5" r="2.05"/><circle cx="181.9" cy="283.1" r="2.05"/><circle cx="179.1" cy="287.3" r="2.05"/><circle cx="229.9" cy="263.8" r="2.05"/><circle cx="146.3" cy="294" r="2.05"/><circle cx="120.1" cy="313" r="2.05"/><circle cx="54.3" cy="355.3" r="2.05"/><circle cx="124.9" cy="314.6" r="2.05"/><circle cx="140.1" cy="288" r="2.05"/><circle cx="69.4" cy="336.8" r="2.05"/><circle cx="133.3" cy="303" r="2.05"/><circle cx="157.3" cy="282.4" r="2.05"/><circle cx="207.7" cy="277.2" r="2.05"/><circle cx="136.4" cy="300.4" r="2.05"/><circle cx="137.8" cy="299" r="2.05"/><circle cx="142.5" cy="320.1" r="2.05"/><circle cx="117" cy="307.4" r="2.05"/><circle cx="173" cy="281.9" r="2.05"/><circle cx="136.1" cy="314.7" r="2.05"/><circle cx="156.1" cy="335" r="2.05"/><circle cx="215.1" cy="262.4" r="2.05"/><circle cx="119.5" cy="310.3" r="2.05"/><circle cx="134" cy="309.7" r="2.05"/><circle cx="122.1" cy="302.7" r="2.05"/><circle cx="255.3" cy="249.6" r="2.05"/><circle cx="166.9" cy="297.6" r="2.05"/><circle cx="157.4" cy="288.9" r="2.05"/><circle cx="130.3" cy="303.8" r="2.05"/><circle cx="90" cy="324.4" r="2.05"/><circle cx="123.3" cy="323.8" r="2.05"/><circle cx="72.7" cy="344.1" r="2.05"/><circle cx="128.1" cy="324" r="2.05"/><circle cx="133.6" cy="308.1" r="2.05"/><circle cx="186" cy="280.8" r="2.05"/><circle cx="115.9" cy="318.4" r="2.05"/><circle cx="114.6" cy="328.5" r="2.05"/><circle cx="232" cy="260.2" r="2.05"/><circle cx="67.3" cy="347.9" r="2.05"/><circle cx="85.1" cy="338" r="2.05"/><circle cx="139.4" cy="297.1" r="2.05"/><circle cx="91.7" cy="336" r="2.05"/><circle cx="152" cy="287.8" r="2.05"/><circle cx="195.9" cy="272" r="2.05"/><circle cx="98.8" cy="337.9" r="2.05"/><circle cx="149.4" cy="308.1" r="2.05"/><circle cx="120.9" cy="319.7" r="2.05"/><circle cx="123.5" cy="307.6" r="2.05"/><circle cx="95.1" cy="331.5" r="2.05"/><circle cx="160.2" cy="295.3" r="2.05"/><circle cx="96.2" cy="339" r="2.05"/><circle cx="205.6" cy="277.6" r="2.05"/><circle cx="115.4" cy="317.5" r="2.05"/><circle cx="137.9" cy="298.4" r="2.05"/><circle cx="112.9" cy="323.6" r="2.05"/><circle cx="197.5" cy="281" r="2.05"/><circle cx="107.2" cy="322" r="2.05"/><circle cx="160.3" cy="287.3" r="2.05"/><circle cx="186.3" cy="270.5" r="2.05"/><circle cx="178.8" cy="281" r="2.05"/><circle cx="122.5" cy="334.6" r="2.05"/><circle cx="128" cy="329.8" r="2.05"/><circle cx="113.8" cy="293.6" r="2.05"/><circle cx="214.2" cy="264.6" r="2.05"/><circle cx="189.1" cy="274.9" r="2.05"/><circle cx="153.7" cy="301" r="2.05"/><circle cx="125.8" cy="309.6" r="2.05"/><circle cx="162.2" cy="296.9" r="2.05"/><circle cx="124" cy="318.3" r="2.05"/><circle cx="156.1" cy="305.3" r="2.05"/><circle cx="153.2" cy="301.5" r="2.05"/><circle cx="160.4" cy="288.5" r="2.05"/><circle cx="123" cy="321.4" r="2.05"/><circle cx="147.4" cy="294.9" r="2.05"/><circle cx="111.8" cy="323.8" r="2.05"/><circle cx="129.7" cy="313.2" r="2.05"/><circle cx="123.1" cy="313.8" r="2.05"/><circle cx="165.6" cy="290.5" r="2.05"/><circle cx="63.5" cy="348.3" r="2.05"/><circle cx="130.5" cy="326.6" r="2.05"/><circle cx="131.9" cy="311.7" r="2.05"/><circle cx="81.4" cy="331.8" r="2.05"/><circle cx="151.8" cy="286.7" r="2.05"/><circle cx="133.4" cy="298.8" r="2.05"/><circle cx="132.1" cy="320.9" r="2.05"/><circle cx="128.5" cy="312.6" r="2.05"/><circle cx="110.5" cy="327.1" r="2.05"/><circle cx="126.3" cy="319.2" r="2.05"/><circle cx="166.9" cy="289.3" r="2.05"/><circle cx="109.9" cy="324.1" r="2.05"/><circle cx="136.1" cy="313.6" r="2.05"/><circle cx="144.9" cy="291.7" r="2.05"/><circle cx="79.6" cy="318.4" r="2.05"/><circle cx="230.8" cy="261.3" r="2.05"/><circle cx="142.1" cy="308.6" r="2.05"/><circle cx="111.1" cy="332.1" r="2.05"/><circle cx="152.4" cy="287.5" r="2.05"/><circle cx="136.9" cy="310.5" r="2.05"/><circle cx="116.5" cy="310.8" r="2.05"/><circle cx="130.5" cy="304" r="2.05"/><circle cx="102.8" cy="332.2" r="2.05"/><circle cx="162.5" cy="291.2" r="2.05"/><circle cx="161.6" cy="287.6" r="2.05"/><circle cx="201.4" cy="274.1" r="2.05"/><circle cx="137.3" cy="294.7" r="2.05"/><circle cx="214.5" cy="267.2" r="2.05"/><circle cx="148.7" cy="298.6" r="2.05"/><circle cx="125.5" cy="302.2" r="2.05"/><circle cx="155.3" cy="304.4" r="2.05"/><circle cx="192.2" cy="281.8" r="2.05"/><circle cx="134.8" cy="311.5" r="2.05"/><circle cx="129" cy="310" r="2.05"/><circle cx="113.4" cy="326.6" r="2.05"/><circle cx="144.9" cy="312.6" r="2.05"/><circle cx="69.9" cy="360.7" r="2.05"/><circle cx="146" cy="280.1" r="2.05"/><circle cx="129.2" cy="324" r="2.05"/><circle cx="172.3" cy="287.1" r="2.05"/><circle cx="153.4" cy="297.1" r="2.05"/><circle cx="119.2" cy="327.6" r="2.05"/><circle cx="77.1" cy="354.1" r="2.05"/><circle cx="82.4" cy="332.8" r="2.05"/><circle cx="51.1" cy="361.6" r="2.05"/><circle cx="197.6" cy="289.2" r="2.05"/><circle cx="181.5" cy="280" r="2.05"/><circle cx="109.2" cy="316.7" r="2.05"/><circle cx="58.6" cy="331" r="2.05"/><circle cx="205.1" cy="265.8" r="2.05"/><circle cx="172.7" cy="286.7" r="2.05"/><circle cx="97.9" cy="325.1" r="2.05"/><circle cx="150.2" cy="299.1" r="2.05"/><circle cx="132.1" cy="319" r="2.05"/><circle cx="99.8" cy="336.1" r="2.05"/><circle cx="50.7" cy="349" r="2.05"/><circle cx="135.2" cy="314.4" r="2.05"/><circle cx="83.3" cy="335.3" r="2.05"/><circle cx="89.9" cy="331.4" r="2.05"/><circle cx="142.1" cy="326.8" r="2.05"/><circle cx="120.2" cy="307.8" r="2.05"/><circle cx="135" cy="319.2" r="2.05"/><circle cx="100.6" cy="324.4" r="2.05"/><circle cx="151.7" cy="297" r="2.05"/><circle cx="142.2" cy="309.6" r="2.05"/><circle cx="173.1" cy="288.6" r="2.05"/><circle cx="99.7" cy="329.3" r="2.05"/><circle cx="129.2" cy="315.6" r="2.05"/><circle cx="142.6" cy="301.2" r="2.05"/><circle cx="124.5" cy="313.8" r="2.05"/><circle cx="197.3" cy="280.5" r="2.05"/><circle cx="129.2" cy="313.1" r="2.05"/><circle cx="91.4" cy="348.2" r="2.05"/><circle cx="110.7" cy="319.1" r="2.05"/><circle cx="115" cy="314.6" r="2.05"/><circle cx="125.6" cy="332.5" r="2.05"/><circle cx="76.1" cy="342.2" r="2.05"/><circle cx="145.6" cy="306.6" r="2.05"/><circle cx="158.5" cy="286.3" r="2.05"/><circle cx="146.9" cy="293.4" r="2.05"/><circle cx="209" cy="289.7" r="2.05"/><circle cx="123.5" cy="311.6" r="2.05"/><circle cx="139.9" cy="306" r="2.05"/><circle cx="205.7" cy="273.3" r="2.05"/><circle cx="130.7" cy="309.6" r="2.05"/><circle cx="114.8" cy="327.2" r="2.05"/><circle cx="210.3" cy="265.1" r="2.05"/><circle cx="142.1" cy="295.4" r="2.05"/><circle cx="115.8" cy="316.1" r="2.05"/><circle cx="69.4" cy="351.2" r="2.05"/><circle cx="142.3" cy="296.9" r="2.05"/><circle cx="106.9" cy="316.5" r="2.05"/><circle cx="124.4" cy="308.6" r="2.05"/><circle cx="59.1" cy="348" r="2.05"/><circle cx="167.5" cy="295.2" r="2.05"/><circle cx="135.7" cy="304.9" r="2.05"/><circle cx="87.8" cy="333.6" r="2.05"/><circle cx="146.1" cy="300.5" r="2.05"/><circle cx="111.8" cy="322.8" r="2.05"/><circle cx="51.4" cy="354.6" r="2.05"/><circle cx="97.4" cy="341.2" r="2.05"/><circle cx="133.7" cy="308.1" r="2.05"/><circle cx="198.2" cy="271.6" r="2.05"/><circle cx="100.7" cy="333.6" r="2.05"/><circle cx="144.2" cy="314.4" r="2.05"/><circle cx="120" cy="315" r="2.05"/><circle cx="150.1" cy="295.3" r="2.05"/><circle cx="136.3" cy="309.1" r="2.05"/><circle cx="109.8" cy="328.6" r="2.05"/><circle cx="76.8" cy="331.9" r="2.05"/><circle cx="132.3" cy="303.1" r="2.05"/><circle cx="147.3" cy="295.2" r="2.05"/><circle cx="129.6" cy="306.2" r="2.05"/><circle cx="131.1" cy="315.7" r="2.05"/><circle cx="72" cy="339.2" r="2.05"/><circle cx="90.9" cy="330.9" r="2.05"/><circle cx="123.7" cy="319.5" r="2.05"/><circle cx="127.6" cy="313.5" r="2.05"/><circle cx="79.7" cy="337.7" r="2.05"/><circle cx="93.4" cy="343.1" r="2.05"/><circle cx="110.8" cy="320.6" r="2.05"/><circle cx="126.5" cy="312.4" r="2.05"/><circle cx="84.6" cy="335" r="2.05"/><circle cx="51.6" cy="356.9" r="2.05"/><circle cx="110.2" cy="311.3" r="2.05"/><circle cx="149.7" cy="273" r="2.05"/><circle cx="123.1" cy="310.7" r="2.05"/><circle cx="181.5" cy="279.9" r="2.05"/><circle cx="191.6" cy="303.8" r="2.05"/><circle cx="111.7" cy="318" r="2.05"/><circle cx="130.9" cy="311.2" r="2.05"/><circle cx="104.1" cy="328.5" r="2.05"/><circle cx="134.9" cy="297" r="2.05"/><circle cx="137" cy="320.2" r="2.05"/><circle cx="152.1" cy="298.7" r="2.05"/><circle cx="153.4" cy="299.6" r="2.05"/><circle cx="173.2" cy="284" r="2.05"/><circle cx="145.3" cy="298.7" r="2.05"/><circle cx="124.1" cy="329.5" r="2.05"/><circle cx="130.6" cy="312.2" r="2.05"/><circle cx="127.3" cy="309.3" r="2.05"/><circle cx="192.2" cy="284.2" r="2.05"/><circle cx="128.1" cy="316.8" r="2.05"/><circle cx="150.4" cy="289" r="2.05"/><circle cx="224.5" cy="244.7" r="2.05"/><circle cx="83" cy="345.4" r="2.05"/><circle cx="121.1" cy="328.5" r="2.05"/><circle cx="130.8" cy="325.6" r="2.05"/><circle cx="133.6" cy="317.9" r="2.05"/><circle cx="194.2" cy="274.3" r="2.05"/><circle cx="133.6" cy="308.6" r="2.05"/><circle cx="100.2" cy="323.5" r="2.05"/><circle cx="129" cy="313.1" r="2.05"/><circle cx="149" cy="307" r="2.05"/><circle cx="68" cy="343.9" r="2.05"/><circle cx="129.3" cy="300.7" r="2.05"/><circle cx="142.5" cy="301.3" r="2.05"/><circle cx="130.6" cy="312.5" r="2.05"/><circle cx="84.5" cy="343" r="2.05"/><circle cx="126.9" cy="296.3" r="2.05"/><circle cx="62.4" cy="340.5" r="2.05"/><circle cx="60.4" cy="351.5" r="2.05"/><circle cx="201.8" cy="278.6" r="2.05"/><circle cx="74.2" cy="341.1" r="2.05"/><circle cx="186.9" cy="275.8" r="2.05"/><circle cx="134" cy="305.4" r="2.05"/><circle cx="68.8" cy="347.7" r="2.05"/><circle cx="116.3" cy="311.1" r="2.05"/><circle cx="131.3" cy="307.6" r="2.05"/><circle cx="139.2" cy="300.2" r="2.05"/><circle cx="69" cy="347" r="2.05"/><circle cx="91.1" cy="331.8" r="2.05"/><circle cx="147.4" cy="306" r="2.05"/><circle cx="122.9" cy="330" r="2.05"/><circle cx="129.8" cy="303" r="2.05"/><circle cx="144.8" cy="295.3" r="2.05"/><circle cx="75.4" cy="343.7" r="2.05"/><circle cx="169.4" cy="272.2" r="2.05"/><circle cx="152.6" cy="299.8" r="2.05"/><circle cx="143.3" cy="302.9" r="2.05"/><circle cx="163.1" cy="291.8" r="2.05"/><circle cx="166.4" cy="293.4" r="2.05"/><circle cx="170.3" cy="270.3" r="2.05"/><circle cx="146.7" cy="301.6" r="2.05"/><circle cx="168.5" cy="281.1" r="2.05"/><circle cx="80.7" cy="344.8" r="2.05"/><circle cx="150.3" cy="306.1" r="2.05"/><circle cx="126.2" cy="301.9" r="2.05"/><circle cx="78.6" cy="342.3" r="2.05"/><circle cx="189.1" cy="272.7" r="2.05"/><circle cx="105" cy="335.2" r="2.05"/><circle cx="74.1" cy="326.1" r="2.05"/><circle cx="223.6" cy="256.9" r="2.05"/><circle cx="157.2" cy="287.4" r="2.05"/><circle cx="101.7" cy="327.9" r="2.05"/><circle cx="161.7" cy="302.9" r="2.05"/><circle cx="142.3" cy="310.1" r="2.05"/><circle cx="132.8" cy="304.1" r="2.05"/><circle cx="123.5" cy="304.6" r="2.05"/><circle cx="89.8" cy="335.7" r="2.05"/><circle cx="118.8" cy="317.3" r="2.05"/><circle cx="227.1" cy="261.9" r="2.05"/><circle cx="132.8" cy="310" r="2.05"/><circle cx="138.6" cy="286.5" r="2.05"/><circle cx="154.7" cy="296.5" r="2.05"/><circle cx="106.4" cy="310.2" r="2.05"/><circle cx="162.1" cy="310.4" r="2.05"/><circle cx="130.2" cy="304.4" r="2.05"/><circle cx="68.3" cy="343.8" r="2.05"/><circle cx="191.6" cy="281.3" r="2.05"/><circle cx="146.8" cy="297.9" r="2.05"/><circle cx="66.7" cy="312.5" r="2.05"/><circle cx="142.9" cy="297.1" r="2.05"/><circle cx="142" cy="306.2" r="2.05"/><circle cx="105.9" cy="327" r="2.05"/><circle cx="89.8" cy="332.3" r="2.05"/><circle cx="130.8" cy="311.8" r="2.05"/><circle cx="120" cy="320.6" r="2.05"/><circle cx="71.7" cy="349.9" r="2.05"/><circle cx="127.4" cy="319.5" r="2.05"/><circle cx="128.5" cy="297.6" r="2.05"/><circle cx="89" cy="332.5" r="2.05"/><circle cx="141.9" cy="317.3" r="2.05"/><circle cx="138.6" cy="314" r="2.05"/><circle cx="146.3" cy="296" r="2.05"/><circle cx="104.2" cy="343.7" r="2.05"/><circle cx="129.4" cy="316.7" r="2.05"/><circle cx="134.4" cy="307.3" r="2.05"/><circle cx="165.4" cy="288.7" r="2.05"/><circle cx="46.8" cy="358.7" r="2.05"/><circle cx="135.4" cy="308.4" r="2.05"/><circle cx="137.6" cy="311.8" r="2.05"/><circle cx="169.7" cy="280.9" r="2.05"/><circle cx="171.5" cy="296.1" r="2.05"/><circle cx="234" cy="265.8" r="2.05"/><circle cx="115" cy="326.9" r="2.05"/><circle cx="133.7" cy="305" r="2.05"/><circle cx="198.3" cy="271.7" r="2.05"/><circle cx="240.8" cy="264.8" r="2.05"/><circle cx="129.1" cy="315.9" r="2.05"/><circle cx="121.6" cy="323.2" r="2.05"/><circle cx="92.1" cy="333.3" r="2.05"/><circle cx="117.6" cy="320.2" r="2.05"/><circle cx="156.2" cy="289.5" r="2.05"/><circle cx="161.4" cy="296.7" r="2.05"/><circle cx="101.8" cy="329.4" r="2.05"/><circle cx="118.6" cy="316.9" r="2.05"/><circle cx="154.5" cy="279.5" r="2.05"/><circle cx="142.1" cy="300.1" r="2.05"/><circle cx="169.4" cy="283.6" r="2.05"/><circle cx="59.2" cy="352.2" r="2.05"/><circle cx="81.1" cy="335.4" r="2.05"/><circle cx="64.4" cy="355.6" r="2.05"/><circle cx="100.6" cy="323.2" r="2.05"/><circle cx="133.9" cy="306.6" r="2.05"/><circle cx="162.8" cy="286.7" r="2.05"/><circle cx="168.9" cy="286.1" r="2.05"/><circle cx="143.2" cy="306.4" r="2.05"/><circle cx="99.1" cy="325.3" r="2.05"/><circle cx="210.3" cy="267.9" r="2.05"/><circle cx="106.7" cy="343.5" r="2.05"/><circle cx="120.9" cy="348.5" r="2.05"/><circle cx="112.1" cy="319.3" r="2.05"/><circle cx="150.9" cy="303" r="2.05"/><circle cx="131.3" cy="309.7" r="2.05"/><circle cx="59.5" cy="346.1" r="2.05"/><circle cx="135.9" cy="310.8" r="2.05"/><circle cx="123.1" cy="317.2" r="2.05"/><circle cx="69.2" cy="347" r="2.05"/><circle cx="89" cy="343" r="2.05"/><circle cx="134" cy="303.6" r="2.05"/><circle cx="138.5" cy="316.5" r="2.05"/><circle cx="151.3" cy="290.8" r="2.05"/><circle cx="134" cy="312" r="2.05"/><circle cx="84.7" cy="338.5" r="2.05"/><circle cx="150" cy="292.6" r="2.05"/><circle cx="86.3" cy="332.9" r="2.05"/><circle cx="102.2" cy="322.5" r="2.05"/><circle cx="137.8" cy="310.8" r="2.05"/><circle cx="100.4" cy="324.9" r="2.05"/><circle cx="103.5" cy="334.3" r="2.05"/><circle cx="64.9" cy="340.3" r="2.05"/><circle cx="135.3" cy="272.2" r="2.05"/><circle cx="146.1" cy="311.8" r="2.05"/><circle cx="133.7" cy="307.8" r="2.05"/><circle cx="85.4" cy="332.1" r="2.05"/><circle cx="176.1" cy="301" r="2.05"/><circle cx="133.4" cy="307.7" r="2.05"/><circle cx="152.3" cy="296" r="2.05"/><circle cx="126.6" cy="316.7" r="2.05"/><circle cx="56" cy="351.8" r="2.05"/><circle cx="185.6" cy="277.2" r="2.05"/><circle cx="169.7" cy="291.7" r="2.05"/><circle cx="216.3" cy="274.2" r="2.05"/><circle cx="116.5" cy="311.9" r="2.05"/><circle cx="96.3" cy="322.8" r="2.05"/><circle cx="66.7" cy="344.6" r="2.05"/><circle cx="146.6" cy="308.5" r="2.05"/><circle cx="151.6" cy="295.6" r="2.05"/><circle cx="123.7" cy="311.3" r="2.05"/><circle cx="138.2" cy="298.6" r="2.05"/><circle cx="220.6" cy="262.1" r="2.05"/><circle cx="144.5" cy="309.9" r="2.05"/><circle cx="185.7" cy="287.2" r="2.05"/><circle cx="242.9" cy="257.8" r="2.05"/><circle cx="113.3" cy="322.1" r="2.05"/><circle cx="135.6" cy="298.8" r="2.05"/><circle cx="139.8" cy="304.4" r="2.05"/><circle cx="230.8" cy="262" r="2.05"/><circle cx="159" cy="293.5" r="2.05"/><circle cx="143.5" cy="301.9" r="2.05"/><circle cx="77.7" cy="340.1" r="2.05"/><circle cx="56.7" cy="361.6" r="2.05"/><circle cx="124.7" cy="302.3" r="2.05"/><circle cx="171.4" cy="285.5" r="2.05"/><circle cx="195.9" cy="270.7" r="2.05"/><circle cx="123.6" cy="318" r="2.05"/><circle cx="123.5" cy="314.6" r="2.05"/><circle cx="147.3" cy="298.4" r="2.05"/><circle cx="172.5" cy="293.8" r="2.05"/><circle cx="129.7" cy="305.8" r="2.05"/><circle cx="181.2" cy="278" r="2.05"/><circle cx="128.6" cy="330.3" r="2.05"/><circle cx="72.2" cy="349.2" r="2.05"/><circle cx="233.9" cy="262.5" r="2.05"/><circle cx="142.3" cy="306.1" r="2.05"/><circle cx="105.8" cy="316.8" r="2.05"/><circle cx="133.4" cy="311.7" r="2.05"/><circle cx="87" cy="336.3" r="2.05"/><circle cx="200.4" cy="301.1" r="2.05"/><circle cx="116.4" cy="320.7" r="2.05"/><circle cx="215.6" cy="268" r="2.05"/><circle cx="103.8" cy="324.1" r="2.05"/><circle cx="98.2" cy="310.1" r="2.05"/><circle cx="107.9" cy="315.3" r="2.05"/><circle cx="218.9" cy="303.4" r="2.05"/><circle cx="185.2" cy="301" r="2.05"/><circle cx="187.9" cy="319.3" r="2.05"/><circle cx="238.2" cy="276.3" r="2.05"/><circle cx="159.3" cy="324.9" r="2.05"/><circle cx="165.1" cy="321.7" r="2.05"/><circle cx="183.9" cy="306.1" r="2.05"/><circle cx="172.7" cy="315.6" r="2.05"/><circle cx="134" cy="338.7" r="2.05"/><circle cx="197.7" cy="302.9" r="2.05"/><circle cx="232.9" cy="281.5" r="2.05"/><circle cx="205.9" cy="313.2" r="2.05"/><circle cx="235.6" cy="280" r="2.05"/><circle cx="165.3" cy="313.8" r="2.05"/><circle cx="163.9" cy="309.5" r="2.05"/><circle cx="176" cy="313" r="2.05"/><circle cx="197.3" cy="297.9" r="2.05"/><circle cx="135.9" cy="332.4" r="2.05"/><circle cx="164.7" cy="320.7" r="2.05"/><circle cx="215.9" cy="289.7" r="2.05"/><circle cx="99.2" cy="302.9" r="2.05"/><circle cx="101.9" cy="306" r="2.05"/><circle cx="70" cy="324.5" r="2.05"/><circle cx="107.9" cy="291.7" r="2.05"/><circle cx="138.8" cy="287.6" r="2.05"/><circle cx="169.9" cy="270.7" r="2.05"/></g>
<line x1="39.3" y1="363.4" x2="266.7" y2="231.6" stroke="#111" stroke-width="1.3"/>
<path d="M39.3 363.4 L41.2 362.3 L43.1 361.2 L45 360.1 L46.9 359 L48.9 357.9 L50.8 356.8 L52.7 355.6 L54.6 354.5 L56.5 353.4 L58.4 352.3 L60.3 351.2 L62.2 350.1 L64.1 349 L66.1 347.9 L68 346.8 L69.9 345.7 L71.8 344.6 L73.7 343.5 L75.6 342.4 L77.5 341.2 L79.4 340.1 L81.3 339 L83.3 337.9 L85.2 336.8 L87.1 335.7 L89 334.6 L90.9 333.5 L92.8 332.4 L94.7 331.3 L96.6 330.2 L98.5 329.1 L100.4 328 L102.4 326.9 L104.3 325.7 L106.2 324.6 L108.1 323.5 L110 322.4 L111.9 321.3 L113.8 320.2 L115.7 319.1 L117.6 318 L119.6 316.9 L121.5 315.8 L123.4 314.7 L125.3 313.6 L127.2 312.5 L129.1 311.3 L131 310.2 L132.9 309.1 L134.8 308 L136.8 306.9 L138.7 305.8 L140.6 304.7 L142.5 303.6 L144.4 302.5 L146.3 301.4 L148.2 300.3 L150.1 299.2 L152 298.1 L154 296.9 L155.9 295.8 L157.8 294.7 L159.7 293.6 L161.6 292.5 L163.5 291.4 L165.4 290.3 L167.3 289.2 L169.2 288.1 L171.2 287 L173.1 285.9 L175 284.8 L176.9 283.7 L178.8 282.5 L180.7 281.4 L182.6 280.3 L184.5 279.2 L186.4 278.1 L188.4 277 L190.3 275.9 L192.2 274.8 L194.1 273.7 L196 272.6 L197.9 271.5 L199.8 270.4 L201.7 269.3 L203.6 268.1 L205.6 267 L207.5 265.9 L209.4 264.8 L211.3 263.7 L213.2 262.6 L215.1 261.5 L217 260.4 L218.9 259.3 L220.8 258.2 L222.7 257.1 L224.7 256 L226.6 254.9 L228.5 253.8 L230.4 252.6 L232.3 251.5 L234.2 250.4 L236.1 249.3 L238 248.2 L239.9 247.1 L241.9 246 L243.8 244.9 L245.7 243.8 L247.6 242.7 L249.5 241.6 L251.4 240.5 L253.3 239.4 L255.2 238.2 L257.1 237.1 L259.1 236 L261 234.9 L262.9 233.8 L264.8 232.7 L266.7 231.6" fill="none" stroke="#1fc4cc" stroke-width="1.65" stroke-linejoin="round"/>
<path d="M39.3 357.5 L41.1 356.6 L43 355.6 L44.8 354.7 L46.6 353.7 L48.5 352.7 L50.3 351.8 L52.1 350.8 L53.9 349.8 L55.8 348.9 L57.6 347.9 L59.4 347 L61.3 346 L63.1 345 L64.9 344.1 L66.8 343.1 L68.6 342.2 L70.4 341.2 L72.2 340.2 L74.1 339.3 L75.9 338.3 L77.7 337.3 L79.6 336.3 L81.4 335.3 L83.2 334.4 L85.1 333.4 L86.9 332.4 L88.7 331.4 L90.5 330.4 L92.4 329.4 L94.2 328.4 L96 327.4 L97.9 326.4 L99.7 325.4 L101.5 324.4 L103.4 323.4 L105.2 322.5 L107 321.5 L108.8 320.5 L110.7 319.5 L112.5 318.5 L114.3 317.5 L116.2 316.5 L118 315.5 L119.8 314.5 L121.7 313.5 L123.5 312.5 L125.3 311.5 L127.2 310.5 L129 309.5 L130.8 308.5 L132.6 307.5 L134.5 306.5 L136.3 305.5 L138.1 304.4 L140 303.4 L141.8 302.4 L143.6 301.4 L145.5 300.4 L147.3 299.3 L149.1 298.3 L150.9 297.3 L152.8 296.3 L154.6 295.3 L156.4 294.2 L158.3 293.2 L160.1 292.2 L161.9 291.2 L163.8 290.2 L165.6 289.2 L167.4 288.2 L169.2 287.2 L171.1 286.2 L172.9 285.2 L174.7 284.2 L176.6 283.2 L178.4 282.2 L180.2 281.2 L182.1 280.3 L183.9 279.4 L185.7 278.5 L187.5 277.7 L189.4 276.9 L191.2 276.1 L193 275.3 L194.9 274.6 L196.7 273.8 L198.5 273 L200.4 272.2 L202.2 271.4 L204 270.7 L205.9 269.9 L207.7 269.2 L209.5 268.5 L211.3 267.9 L213.2 267.2 L215 266.6 L216.8 266 L218.7 265.4 L220.5 264.7 L222.3 264.1 L224.2 263.5 L226 262.9 L227.8 262.2 L229.6 261.6 L231.5 261 L233.3 260.4 L235.1 259.7 L237 259.1 L238.8 258.5 L240.6 257.9 L242.5 257.2 L244.3 256.6 L246.1 256 L247.9 255.4 L249.8 254.7 L251.6 254.1 L253.4 253.5 L255.3 252.9 L257.1 252.2" fill="none" stroke="#ff2a55" stroke-width="1.25" stroke-linejoin="round"/>
<path d="M39.3 361.2 L41.1 360.2 L42.9 359.3 L44.7 358.3 L46.5 357.3 L48.3 356.3 L50.2 355.4 L52 354.4 L53.8 353.4 L55.6 352.4 L57.4 351.5 L59.2 350.5 L61 349.5 L62.8 348.5 L64.6 347.5 L66.4 346.5 L68.2 345.6 L70.1 344.6 L71.9 343.6 L73.7 342.6 L75.5 341.6 L77.3 340.6 L79.1 339.6 L80.9 338.6 L82.7 337.6 L84.5 336.6 L86.3 335.6 L88.1 334.6 L90 333.6 L91.8 332.6 L93.6 331.6 L95.4 330.6 L97.2 329.6 L99 328.6 L100.8 327.6 L102.6 326.6 L104.4 325.6 L106.2 324.6 L108 323.5 L109.9 322.5 L111.7 321.5 L113.5 320.4 L115.3 319.4 L117.1 318.3 L118.9 317.3 L120.7 316.2 L122.5 315.2 L124.3 314.1 L126.1 313.1 L127.9 312 L129.8 311 L131.6 309.9 L133.4 308.9 L135.2 307.8 L137 306.8 L138.8 305.7 L140.6 304.7 L142.4 303.6 L144.2 302.6 L146 301.5 L147.8 300.5 L149.6 299.4 L151.5 298.4 L153.3 297.3 L155.1 296.3 L156.9 295.2 L158.7 294.2 L160.5 293.2 L162.3 292.1 L164.1 291.1 L165.9 290 L167.7 289 L169.5 287.9 L171.4 286.9 L173.2 285.8 L175 284.8 L176.8 283.7 L178.6 282.7 L180.4 281.6 L182.2 280.6 L184 279.7 L185.8 278.8 L187.6 277.9 L189.4 277.1 L191.3 276.3 L193.1 275.6 L194.9 274.9 L196.7 274.2 L198.5 273.6 L200.3 272.9 L202.1 272.3 L203.9 271.7 L205.7 271.1 L207.5 270.5 L209.3 269.8 L211.2 269.2 L213 268.6 L214.8 268 L216.6 267.3 L218.4 266.7 L220.2 266.1 L222 265.5 L223.8 264.8 L225.6 264.2 L227.4 263.6 L229.2 262.9 L231.1 262.3 L232.9 261.7 L234.7 261.1 L236.5 260.4 L238.3 259.8 L240.1 259.2 L241.9 258.5 L243.7 257.9 L245.5 257.3 L247.3 256.7 L249.1 256 L251 255.4 L252.8 254.8 L254.6 254.2" fill="none" stroke="#ff8c0a" stroke-width="1.45" stroke-linejoin="round"/>
</g>
<rect x="39.3" y="231.6" width="227.4" height="131.8" fill="none" stroke="#222" stroke-width="1"/>
<path d="M64.6 363.4v-1.6M39.3 348.8h1.6M89.8 363.4v-1.6M39.3 334.1h1.6M115.1 363.4v-1.6M39.3 319.5h1.6M140.4 363.4v-1.6M39.3 304.8h1.6M165.6 363.4v-1.6M39.3 290.2h1.6M190.9 363.4v-1.6M39.3 275.5h1.6M216.2 363.4v-1.6M39.3 260.9h1.6M241.4 363.4v-1.6M39.3 246.2h1.6" stroke="#222" stroke-width="0.8" fill="none"/>
<g font-size="12.8" fill="#231f20" letter-spacing="0.35">
<text x="64.8" y="374.8" text-anchor="middle">10</text>
<text x="36" y="352.9" text-anchor="end">10</text>
<text x="90" y="374.8" text-anchor="middle">20</text>
<text x="36" y="338.2" text-anchor="end">20</text>
<text x="115.3" y="374.8" text-anchor="middle">30</text>
<text x="36" y="323.6" text-anchor="end">30</text>
<text x="140.6" y="374.8" text-anchor="middle">40</text>
<text x="36" y="308.9" text-anchor="end">40</text>
<text x="165.8" y="374.8" text-anchor="middle">50</text>
<text x="36" y="294.3" text-anchor="end">50</text>
<text x="191.1" y="374.8" text-anchor="middle">60</text>
<text x="36" y="279.6" text-anchor="end">60</text>
<text x="216.4" y="374.8" text-anchor="middle">70</text>
<text x="36" y="265" text-anchor="end">70</text>
<text x="241.6" y="374.8" text-anchor="middle">80</text>
<text x="36" y="250.3" text-anchor="end">80</text>
<text x="266.9" y="374.8" text-anchor="middle">90</text>
<text x="36" y="235.7" text-anchor="end">90</text>
<text x="32.9" y="374.8" text-anchor="middle">0</text>
</g>
<text x="148" y="221.9" text-anchor="middle" font-size="12.4" letter-spacing="0.6" fill="#231f20">GBRT</text>
<text x="148.1" y="387.1" text-anchor="middle" font-size="12" letter-spacing="0.5" fill="#231f20">Tested <tspan font-style="italic">f</tspan><tspan font-style="italic" font-size="8" dy="2.2">c</tspan><tspan dy="-2.2" dx="-1.8"> (Mpa)</tspan></text>
<text transform="translate(14 298.8) rotate(-90)" text-anchor="middle" font-size="12.2" letter-spacing="0.6" fill="#231f20">Predicted <tspan font-style="italic">f</tspan><tspan font-style="italic" font-size="8" dy="2.2">c</tspan><tspan dy="-2.2" dx="-1.8"> (Mpa)</tspan></text>
<text x="138.7" y="406.8" text-anchor="middle" font-size="13.6" fill="#231f20">(<tspan font-weight="bold">c</tspan>)</text>
<clipPath id="clip_d"><rect x="311.3" y="231.6" width="227" height="131.8"/></clipPath>
<g clip-path="url(#clip_d)">
<polygon points="311.3,361.9 317.1,358.6 322.9,355.2 328.8,351.9 334.6,348.5 340.4,345.2 346.2,341.8 352,338.5 357.9,335.1 363.7,331.7 369.5,328.4 375.3,325 381.1,321.7 387,318.3 392.8,315 398.6,311.6 404.4,308.3 410.2,304.9 416.1,301.5 421.9,298.1 427.7,294.6 433.5,291.2 439.4,287.8 445.2,284.3 451,280.9 456.8,277.5 462.6,274 468.5,270.6 474.3,267.2 480.1,263.7 485.9,260.3 491.7,256.9 497.6,253.4 503.4,250 509.2,246.6 515,243.1 520.8,239.7 526.7,236.3 532.5,232.8 538.3,229.4 538.3,233.8 532.5,237.1 526.7,240.4 520.8,243.8 515,247.1 509.2,250.4 503.4,253.7 497.6,257.1 491.7,260.4 485.9,263.7 480.1,267.1 474.3,270.4 468.5,273.7 462.6,277 456.8,280.4 451,283.7 445.2,287 439.4,290.3 433.5,293.7 427.7,297 421.9,300.3 416.1,303.6 410.2,307 404.4,310.4 398.6,313.8 392.8,317.2 387,320.6 381.1,324 375.3,327.4 369.5,330.8 363.7,334.2 357.9,337.6 352,341 346.2,344.4 340.4,347.8 334.6,351.2 328.8,354.6 322.9,358.1 317.1,361.5 311.3,364.9" fill="#55dbe2" fill-opacity="0.45"/>
<polygon points="311.3,342.6 316.9,339.6 322.6,336.5 328.2,333.5 333.9,330.5 339.5,327.4 345.2,324.4 350.8,321.3 356.5,318.3 362.1,315.3 367.8,312.2 373.4,309.2 379.1,306.2 384.7,303.1 390.3,300 396,296.9 401.6,293.8 407.3,290.7 412.9,287.6 418.6,284.5 424.2,281.3 429.9,278.2 435.5,275.1 441.2,272.4 446.8,269.9 452.4,267.4 458.1,264.9 463.7,262.3 469.4,259.8 475,257.3 480.7,255.8 486.3,254.3 492,252.8 497.6,251.3 503.3,249.8 508.9,248.3 514.6,246.8 520.2,245.3 525.8,243.8 531.5,242.3 531.5,277.4 525.8,278.7 520.2,280 514.6,281.3 508.9,282.6 503.3,283.8 497.6,285.1 492,286.4 486.3,287.7 480.7,288.9 475,290.3 469.4,292.9 463.7,295.5 458.1,298.1 452.4,300.8 446.8,303.4 441.2,306 435.5,308.8 429.9,311.9 424.2,315 418.6,318.1 412.9,321.3 407.3,324.4 401.6,327.5 396,330.6 390.3,333.7 384.7,337 379.1,340.6 373.4,344.2 367.8,347.8 362.1,351.3 356.5,354.9 350.8,358.5 345.2,362.1 339.5,364.9 333.9,367.2 328.2,369.6 322.6,371.9 316.9,374.2 311.3,376.6" fill="#f58aa6" fill-opacity="0.4"/>
<polygon points="311.3,343.6 316.9,340.6 322.4,337.5 328,334.4 333.5,331.4 339.1,328.3 344.7,325.2 350.2,322.2 355.8,319.1 361.4,316 366.9,313 372.5,309.9 378,306.8 383.6,303.7 389.2,300.6 394.7,297.4 400.3,294.2 405.9,290.9 411.4,287.7 417,284.5 422.5,281.2 428.1,278 433.7,274.8 439.2,271.7 444.8,269 450.3,266.3 455.9,263.7 461.5,261 467,258.3 472.6,255.6 478.2,253.2 483.7,251.1 489.3,249 494.8,246.9 500.4,244.8 506,242.7 511.5,240.7 517.1,238.6 522.6,236.6 528.2,234.5 528.2,263.8 522.6,266.3 517.1,268.7 511.5,271.2 506,273.7 500.4,276.1 494.8,278.6 489.3,281 483.7,283.5 478.2,286 472.6,288.6 467,291.4 461.5,294.2 455.9,297 450.3,299.8 444.8,302.6 439.2,305.4 433.7,308.4 428.1,311.4 422.5,314.5 417,317.6 411.4,320.6 405.9,323.7 400.3,326.8 394.7,329.8 389.2,332.9 383.6,336.3 378,339.9 372.5,343.5 366.9,347 361.4,350.6 355.8,354.2 350.2,357.8 344.7,361.4 339.1,364.4 333.5,366.5 328,368.7 322.4,370.8 316.9,373 311.3,375.1" fill="#ffb27a" fill-opacity="0.45"/>
<g fill="#22c6d2" fill-opacity="0.5"><circle cx="421.1" cy="300.3" r="0.9"/><circle cx="396.1" cy="314.3" r="0.9"/><circle cx="384.7" cy="321.5" r="0.9"/><circle cx="474.6" cy="268" r="0.9"/><circle cx="456.1" cy="279.1" r="0.9"/><circle cx="402.2" cy="310.9" r="0.9"/><circle cx="411.8" cy="304.8" r="0.9"/><circle cx="425.4" cy="296.9" r="0.9"/><circle cx="364.5" cy="332.6" r="0.9"/><circle cx="424.3" cy="297.7" r="0.9"/><circle cx="391.2" cy="317.1" r="0.9"/><circle cx="409.7" cy="306.3" r="0.9"/><circle cx="395.9" cy="316.3" r="0.9"/><circle cx="387.9" cy="319.3" r="0.9"/><circle cx="389.4" cy="317.8" r="0.9"/><circle cx="456.4" cy="279.1" r="0.9"/><circle cx="440.1" cy="287.8" r="0.9"/><circle cx="375.9" cy="325.4" r="0.9"/><circle cx="379.5" cy="323.6" r="0.9"/><circle cx="371.7" cy="329.1" r="0.9"/><circle cx="385.8" cy="320.4" r="0.9"/><circle cx="411.5" cy="305.2" r="0.9"/><circle cx="443.7" cy="285.8" r="0.9"/><circle cx="375.1" cy="326.2" r="0.9"/><circle cx="411.5" cy="307" r="0.9"/><circle cx="410" cy="305.8" r="0.9"/><circle cx="509.3" cy="248.1" r="0.9"/><circle cx="499.6" cy="253.7" r="0.9"/><circle cx="348.6" cy="341.2" r="0.9"/><circle cx="371.7" cy="328.7" r="0.9"/><circle cx="493.5" cy="257.6" r="0.9"/><circle cx="366.3" cy="331.3" r="0.9"/><circle cx="497.9" cy="254.1" r="0.9"/><circle cx="491" cy="259.2" r="0.9"/><circle cx="371.4" cy="328.1" r="0.9"/><circle cx="421.4" cy="299.2" r="0.9"/><circle cx="476.6" cy="268.2" r="0.9"/><circle cx="402.4" cy="310.2" r="0.9"/><circle cx="446.5" cy="284.8" r="0.9"/><circle cx="410.4" cy="306.1" r="0.9"/><circle cx="394.5" cy="315.3" r="0.9"/><circle cx="403.3" cy="309.8" r="0.9"/><circle cx="453.5" cy="280.2" r="0.9"/><circle cx="447.3" cy="284.2" r="0.9"/><circle cx="448.6" cy="284.3" r="0.9"/><circle cx="420.2" cy="300.3" r="0.9"/><circle cx="450.2" cy="282.7" r="0.9"/><circle cx="334.5" cy="350.7" r="0.9"/><circle cx="433.9" cy="292.2" r="0.9"/><circle cx="388.2" cy="319" r="0.9"/><circle cx="435.3" cy="291.6" r="0.9"/><circle cx="448.3" cy="284.3" r="0.9"/><circle cx="381.8" cy="322.4" r="0.9"/><circle cx="354.9" cy="338.5" r="0.9"/><circle cx="448.3" cy="284.3" r="0.9"/><circle cx="465.9" cy="273.6" r="0.9"/><circle cx="354.4" cy="338.1" r="0.9"/><circle cx="414.7" cy="303.6" r="0.9"/><circle cx="401.8" cy="311" r="0.9"/><circle cx="389.6" cy="317.7" r="0.9"/><circle cx="502.4" cy="252.3" r="0.9"/><circle cx="340.1" cy="346.6" r="0.9"/><circle cx="343.1" cy="344.6" r="0.9"/><circle cx="424.9" cy="297.2" r="0.9"/><circle cx="350.2" cy="342.1" r="0.9"/><circle cx="395" cy="316.2" r="0.9"/><circle cx="430.6" cy="293.5" r="0.9"/><circle cx="390.3" cy="317.9" r="0.9"/><circle cx="461.6" cy="276.9" r="0.9"/><circle cx="384.9" cy="320.8" r="0.9"/><circle cx="430.3" cy="294.3" r="0.9"/><circle cx="402.1" cy="310.4" r="0.9"/><circle cx="391.8" cy="316" r="0.9"/><circle cx="326.8" cy="354.5" r="0.9"/><circle cx="442.2" cy="289.9" r="0.9"/><circle cx="426.8" cy="297.2" r="0.9"/><circle cx="332.8" cy="350.8" r="0.9"/><circle cx="334.8" cy="349.3" r="0.9"/><circle cx="410" cy="306.2" r="0.9"/><circle cx="396.1" cy="314.5" r="0.9"/><circle cx="419.8" cy="300.6" r="0.9"/><circle cx="483.6" cy="263.9" r="0.9"/><circle cx="409.6" cy="306.8" r="0.9"/><circle cx="391.1" cy="316.2" r="0.9"/><circle cx="347.5" cy="341.8" r="0.9"/><circle cx="377.5" cy="325.2" r="0.9"/><circle cx="442.8" cy="287.5" r="0.9"/><circle cx="443.1" cy="286.6" r="0.9"/><circle cx="398.1" cy="312.8" r="0.9"/><circle cx="421.6" cy="299.2" r="0.9"/><circle cx="381.7" cy="323.2" r="0.9"/><circle cx="512.1" cy="246.9" r="0.9"/><circle cx="383.3" cy="322" r="0.9"/><circle cx="404.7" cy="307.9" r="0.9"/><circle cx="397.9" cy="314.1" r="0.9"/><circle cx="385.2" cy="320.2" r="0.9"/><circle cx="379.1" cy="324.3" r="0.9"/><circle cx="418.2" cy="300.3" r="0.9"/><circle cx="398" cy="313.3" r="0.9"/><circle cx="468" cy="272" r="0.9"/><circle cx="527.8" cy="237.8" r="0.9"/><circle cx="401.6" cy="311.2" r="0.9"/><circle cx="382.1" cy="322.5" r="0.9"/><circle cx="425.9" cy="296.3" r="0.9"/><circle cx="385.2" cy="320.8" r="0.9"/><circle cx="424.2" cy="297.5" r="0.9"/><circle cx="336.7" cy="348.4" r="0.9"/><circle cx="378.7" cy="324.7" r="0.9"/><circle cx="432.4" cy="293" r="0.9"/><circle cx="420.1" cy="300.3" r="0.9"/><circle cx="325.2" cy="354.9" r="0.9"/><circle cx="485.4" cy="262.5" r="0.9"/><circle cx="470.4" cy="270.5" r="0.9"/><circle cx="419.1" cy="302.2" r="0.9"/><circle cx="388.1" cy="319.4" r="0.9"/><circle cx="400.5" cy="311.4" r="0.9"/><circle cx="367.6" cy="330.4" r="0.9"/><circle cx="367.6" cy="330.5" r="0.9"/><circle cx="423.8" cy="299.1" r="0.9"/><circle cx="343.5" cy="344.1" r="0.9"/><circle cx="412.3" cy="304.6" r="0.9"/><circle cx="447" cy="284.2" r="0.9"/><circle cx="436.3" cy="290" r="0.9"/><circle cx="342.5" cy="344.3" r="0.9"/><circle cx="472.2" cy="269.9" r="0.9"/><circle cx="348.6" cy="342.1" r="0.9"/><circle cx="378.8" cy="324.3" r="0.9"/><circle cx="379.5" cy="323.5" r="0.9"/><circle cx="385.6" cy="321" r="0.9"/><circle cx="423" cy="298.4" r="0.9"/><circle cx="436.7" cy="290.8" r="0.9"/><circle cx="411.9" cy="305.2" r="0.9"/><circle cx="354.7" cy="337.8" r="0.9"/><circle cx="430" cy="294.5" r="0.9"/><circle cx="474" cy="269.4" r="0.9"/><circle cx="385.6" cy="321.3" r="0.9"/><circle cx="405" cy="308.8" r="0.9"/><circle cx="458.2" cy="277.9" r="0.9"/><circle cx="424.1" cy="298.6" r="0.9"/><circle cx="409.3" cy="307.6" r="0.9"/><circle cx="427.9" cy="295.6" r="0.9"/><circle cx="387.6" cy="318.6" r="0.9"/><circle cx="405.2" cy="308.6" r="0.9"/><circle cx="432.2" cy="293.5" r="0.9"/><circle cx="406" cy="308.1" r="0.9"/><circle cx="389" cy="318.6" r="0.9"/><circle cx="377.3" cy="325" r="0.9"/><circle cx="347.5" cy="342.4" r="0.9"/><circle cx="414.8" cy="302.9" r="0.9"/><circle cx="458.7" cy="277.3" r="0.9"/><circle cx="400.8" cy="310.9" r="0.9"/><circle cx="402.3" cy="310.5" r="0.9"/><circle cx="482.4" cy="264.1" r="0.9"/><circle cx="464.6" cy="274.3" r="0.9"/><circle cx="395.8" cy="313.5" r="0.9"/><circle cx="343.3" cy="344.7" r="0.9"/><circle cx="438.2" cy="289.6" r="0.9"/><circle cx="358.5" cy="336" r="0.9"/><circle cx="400.9" cy="311.8" r="0.9"/><circle cx="416.6" cy="301.9" r="0.9"/></g>
<g fill="#f0466a" fill-opacity="0.5"><circle cx="426.7" cy="288.5" r="1.55"/><circle cx="427.7" cy="291.8" r="1.55"/><circle cx="451.4" cy="280.4" r="1.55"/><circle cx="463" cy="275.7" r="1.55"/><circle cx="432.7" cy="290" r="1.55"/><circle cx="372.5" cy="313.4" r="1.55"/><circle cx="470.8" cy="279.9" r="1.55"/><circle cx="497.3" cy="280.8" r="1.55"/><circle cx="406.9" cy="319" r="1.55"/><circle cx="438.8" cy="299" r="1.55"/><circle cx="331.4" cy="349.1" r="1.55"/><circle cx="396.4" cy="308.6" r="1.55"/><circle cx="407.3" cy="307.1" r="1.55"/><circle cx="364.4" cy="335.4" r="1.55"/><circle cx="461.5" cy="281.2" r="1.55"/><circle cx="350.6" cy="352.7" r="1.55"/><circle cx="379.4" cy="336.3" r="1.55"/><circle cx="424" cy="300.8" r="1.55"/><circle cx="439.6" cy="291.4" r="1.55"/><circle cx="398.7" cy="317.9" r="1.55"/><circle cx="433.6" cy="298.2" r="1.55"/><circle cx="365" cy="322.8" r="1.55"/><circle cx="359.1" cy="337.3" r="1.55"/><circle cx="378.7" cy="326.7" r="1.55"/><circle cx="430.1" cy="334.8" r="1.55"/><circle cx="364.6" cy="325.1" r="1.55"/><circle cx="417.2" cy="307.7" r="1.55"/><circle cx="518.8" cy="261.3" r="1.55"/><circle cx="392.4" cy="305.1" r="1.55"/><circle cx="407.7" cy="327.9" r="1.55"/><circle cx="422" cy="295.6" r="1.55"/><circle cx="423.7" cy="301.3" r="1.55"/><circle cx="419.1" cy="310.5" r="1.55"/><circle cx="364.4" cy="326.4" r="1.55"/><circle cx="424.7" cy="291.1" r="1.55"/><circle cx="383.1" cy="322" r="1.55"/><circle cx="504.6" cy="268.6" r="1.55"/><circle cx="408.2" cy="313.2" r="1.55"/><circle cx="445.3" cy="293.9" r="1.55"/><circle cx="422.7" cy="303.5" r="1.55"/><circle cx="415.5" cy="298.7" r="1.55"/><circle cx="409" cy="328.6" r="1.55"/><circle cx="392.8" cy="326.5" r="1.55"/><circle cx="359.9" cy="335.2" r="1.55"/><circle cx="433.7" cy="299.6" r="1.55"/><circle cx="436.1" cy="292.6" r="1.55"/><circle cx="431.2" cy="285" r="1.55"/><circle cx="318.4" cy="361.6" r="1.55"/><circle cx="390.5" cy="316.9" r="1.55"/><circle cx="332.8" cy="337.9" r="1.55"/><circle cx="482.9" cy="253" r="1.55"/><circle cx="417.6" cy="300.7" r="1.55"/><circle cx="473.4" cy="277.4" r="1.55"/><circle cx="403.6" cy="341.7" r="1.55"/><circle cx="370.9" cy="324.2" r="1.55"/><circle cx="378.2" cy="323.7" r="1.55"/><circle cx="371.2" cy="331" r="1.55"/><circle cx="412.8" cy="294.3" r="1.55"/><circle cx="459.4" cy="288" r="1.55"/><circle cx="401" cy="305.4" r="1.55"/><circle cx="353.2" cy="336.4" r="1.55"/><circle cx="376.6" cy="332.7" r="1.55"/><circle cx="387.6" cy="334.8" r="1.55"/><circle cx="415.4" cy="289.5" r="1.55"/><circle cx="333.9" cy="346.5" r="1.55"/><circle cx="475.8" cy="295.4" r="1.55"/><circle cx="352" cy="335.7" r="1.55"/><circle cx="371.6" cy="328.4" r="1.55"/><circle cx="474.4" cy="274.4" r="1.55"/><circle cx="466.8" cy="281.2" r="1.55"/><circle cx="364.4" cy="327.2" r="1.55"/><circle cx="429.5" cy="299.9" r="1.55"/><circle cx="361.6" cy="334.1" r="1.55"/><circle cx="405" cy="323.1" r="1.55"/><circle cx="444.2" cy="291.6" r="1.55"/><circle cx="416.1" cy="303.4" r="1.55"/><circle cx="328.4" cy="352.2" r="1.55"/><circle cx="345.4" cy="342.7" r="1.55"/><circle cx="348.8" cy="342.1" r="1.55"/><circle cx="444.4" cy="282.8" r="1.55"/><circle cx="388.6" cy="310" r="1.55"/><circle cx="392.5" cy="314.9" r="1.55"/><circle cx="391.6" cy="317.9" r="1.55"/><circle cx="395.3" cy="342.4" r="1.55"/><circle cx="397.7" cy="308" r="1.55"/><circle cx="403.6" cy="319.9" r="1.55"/><circle cx="474" cy="274.6" r="1.55"/><circle cx="414.1" cy="313.8" r="1.55"/><circle cx="408.6" cy="311.1" r="1.55"/><circle cx="456.8" cy="281" r="1.55"/><circle cx="495.4" cy="257.7" r="1.55"/><circle cx="372.6" cy="324.5" r="1.55"/><circle cx="454.5" cy="289.9" r="1.55"/><circle cx="392.6" cy="326.7" r="1.55"/><circle cx="414.7" cy="297.5" r="1.55"/><circle cx="386" cy="316.6" r="1.55"/><circle cx="429.6" cy="297.1" r="1.55"/><circle cx="339.8" cy="334.8" r="1.55"/><circle cx="411.2" cy="313.4" r="1.55"/><circle cx="445.5" cy="286.1" r="1.55"/><circle cx="432.6" cy="295.3" r="1.55"/><circle cx="345.9" cy="352.7" r="1.55"/><circle cx="386" cy="307.1" r="1.55"/><circle cx="483" cy="269.6" r="1.55"/><circle cx="458.7" cy="281.3" r="1.55"/><circle cx="449.2" cy="299.3" r="1.55"/><circle cx="482.3" cy="271.8" r="1.55"/><circle cx="390.4" cy="322.9" r="1.55"/><circle cx="360.7" cy="336.5" r="1.55"/><circle cx="407.3" cy="302.6" r="1.55"/><circle cx="422.9" cy="300.4" r="1.55"/><circle cx="418.3" cy="300.3" r="1.55"/><circle cx="446.6" cy="285.6" r="1.55"/><circle cx="431.5" cy="296.2" r="1.55"/><circle cx="441.9" cy="295" r="1.55"/><circle cx="398.8" cy="291.7" r="1.55"/><circle cx="433.2" cy="331.2" r="1.55"/><circle cx="410.7" cy="310" r="1.55"/><circle cx="337.6" cy="358" r="1.55"/><circle cx="415" cy="299.7" r="1.55"/><circle cx="440.6" cy="279.7" r="1.55"/><circle cx="444.4" cy="277" r="1.55"/><circle cx="318.7" cy="361.1" r="1.55"/><circle cx="464.7" cy="280.5" r="1.55"/><circle cx="454.3" cy="311.9" r="1.55"/><circle cx="406.8" cy="307.5" r="1.55"/><circle cx="356.2" cy="340.4" r="1.55"/><circle cx="415.9" cy="314.8" r="1.55"/><circle cx="388.2" cy="312.4" r="1.55"/><circle cx="403.3" cy="324.7" r="1.55"/><circle cx="411.7" cy="294.9" r="1.55"/><circle cx="426.3" cy="304.2" r="1.55"/><circle cx="355.8" cy="334" r="1.55"/><circle cx="329.2" cy="350.7" r="1.55"/><circle cx="421.4" cy="287.6" r="1.55"/><circle cx="327.7" cy="348.9" r="1.55"/><circle cx="408.8" cy="312.5" r="1.55"/><circle cx="472.2" cy="281.9" r="1.55"/><circle cx="403.8" cy="293.9" r="1.55"/><circle cx="370.1" cy="321.5" r="1.55"/><circle cx="349.2" cy="331.7" r="1.55"/><circle cx="396.1" cy="323.3" r="1.55"/><circle cx="348.2" cy="336.7" r="1.55"/><circle cx="359.2" cy="336" r="1.55"/><circle cx="474.7" cy="277.1" r="1.55"/><circle cx="376.4" cy="320.2" r="1.55"/><circle cx="361.4" cy="321.9" r="1.55"/><circle cx="344.4" cy="349.8" r="1.55"/><circle cx="427.9" cy="293.8" r="1.55"/><circle cx="370.9" cy="329.6" r="1.55"/><circle cx="414.9" cy="301.1" r="1.55"/><circle cx="338.8" cy="345.7" r="1.55"/><circle cx="436.6" cy="283.4" r="1.55"/><circle cx="385.9" cy="323.3" r="1.55"/><circle cx="497.4" cy="247.1" r="1.55"/><circle cx="380.1" cy="310.6" r="1.55"/><circle cx="421.6" cy="299.2" r="1.55"/><circle cx="378.3" cy="335.9" r="1.55"/><circle cx="418.5" cy="290.4" r="1.55"/><circle cx="379.2" cy="311.3" r="1.55"/><circle cx="402.8" cy="324.6" r="1.55"/><circle cx="510" cy="260.2" r="1.55"/><circle cx="421.4" cy="297" r="1.55"/><circle cx="392" cy="304.9" r="1.55"/><circle cx="408.4" cy="296.2" r="1.55"/><circle cx="349.8" cy="347.2" r="1.55"/><circle cx="413.5" cy="309.3" r="1.55"/><circle cx="377.1" cy="322.9" r="1.55"/><circle cx="416.6" cy="291.3" r="1.55"/><circle cx="401.1" cy="322.8" r="1.55"/><circle cx="478.5" cy="274.8" r="1.55"/><circle cx="337.7" cy="348.3" r="1.55"/><circle cx="424.5" cy="324.6" r="1.55"/><circle cx="413.6" cy="298.1" r="1.55"/><circle cx="440.8" cy="288.7" r="1.55"/><circle cx="418.7" cy="297.9" r="1.55"/><circle cx="400.5" cy="306.6" r="1.55"/><circle cx="331.8" cy="352.6" r="1.55"/><circle cx="400.9" cy="316" r="1.55"/><circle cx="373.8" cy="327.7" r="1.55"/><circle cx="449.5" cy="283" r="1.55"/><circle cx="433.7" cy="294.9" r="1.55"/><circle cx="443.5" cy="291.7" r="1.55"/><circle cx="445.2" cy="302" r="1.55"/><circle cx="408.6" cy="310.2" r="1.55"/><circle cx="389.4" cy="293" r="1.55"/><circle cx="405.1" cy="291.6" r="1.55"/><circle cx="448.3" cy="279.4" r="1.55"/><circle cx="368.3" cy="327.4" r="1.55"/><circle cx="366.4" cy="335.5" r="1.55"/><circle cx="327.5" cy="355.9" r="1.55"/><circle cx="394.7" cy="319.2" r="1.55"/><circle cx="342.2" cy="350" r="1.55"/><circle cx="425.7" cy="318.2" r="1.55"/><circle cx="382.5" cy="320.1" r="1.55"/><circle cx="339.1" cy="354.4" r="1.55"/><circle cx="331.4" cy="347.1" r="1.55"/><circle cx="428.9" cy="294.3" r="1.55"/><circle cx="376.8" cy="322.7" r="1.55"/><circle cx="366.7" cy="322.4" r="1.55"/><circle cx="416.4" cy="298.5" r="1.55"/><circle cx="463.6" cy="287" r="1.55"/><circle cx="438.8" cy="288.7" r="1.55"/><circle cx="419.2" cy="304.2" r="1.55"/><circle cx="383.7" cy="323.9" r="1.55"/><circle cx="422.8" cy="302.8" r="1.55"/><circle cx="398.8" cy="322.7" r="1.55"/><circle cx="421.7" cy="288.3" r="1.55"/><circle cx="434" cy="296.5" r="1.55"/><circle cx="443.4" cy="275" r="1.55"/><circle cx="401.3" cy="295.1" r="1.55"/><circle cx="400" cy="316.4" r="1.55"/><circle cx="380" cy="333.7" r="1.55"/><circle cx="357.1" cy="332.3" r="1.55"/><circle cx="412.3" cy="304.8" r="1.55"/><circle cx="520.7" cy="245.9" r="1.55"/><circle cx="416" cy="298.6" r="1.55"/><circle cx="420.4" cy="297.7" r="1.55"/><circle cx="408" cy="312.1" r="1.55"/><circle cx="392.7" cy="312.2" r="1.55"/><circle cx="449.8" cy="324.4" r="1.55"/><circle cx="438.9" cy="296.1" r="1.55"/><circle cx="397.1" cy="306.9" r="1.55"/><circle cx="374.4" cy="337" r="1.55"/><circle cx="412.3" cy="298.2" r="1.55"/><circle cx="359.7" cy="319.1" r="1.55"/><circle cx="422.4" cy="298.3" r="1.55"/><circle cx="429.5" cy="297.4" r="1.55"/><circle cx="368.7" cy="310.7" r="1.55"/><circle cx="415.1" cy="295.3" r="1.55"/><circle cx="408.8" cy="307.6" r="1.55"/><circle cx="373" cy="321.9" r="1.55"/><circle cx="439.9" cy="283.8" r="1.55"/><circle cx="362" cy="340.7" r="1.55"/><circle cx="406.6" cy="326.5" r="1.55"/><circle cx="474.7" cy="274.6" r="1.55"/><circle cx="320.3" cy="347.6" r="1.55"/><circle cx="376" cy="312.8" r="1.55"/><circle cx="474.8" cy="281.6" r="1.55"/><circle cx="390.5" cy="309.6" r="1.55"/><circle cx="338.3" cy="336.7" r="1.55"/><circle cx="402.7" cy="313.1" r="1.55"/><circle cx="481.7" cy="277.2" r="1.55"/><circle cx="405.7" cy="314.6" r="1.55"/><circle cx="460.8" cy="272.8" r="1.55"/><circle cx="423.3" cy="302.4" r="1.55"/><circle cx="341.2" cy="323.1" r="1.55"/><circle cx="442" cy="292.7" r="1.55"/><circle cx="430.9" cy="305.1" r="1.55"/><circle cx="357" cy="326.8" r="1.55"/><circle cx="395.1" cy="313.8" r="1.55"/><circle cx="411.7" cy="291.3" r="1.55"/><circle cx="320" cy="361.6" r="1.55"/><circle cx="424" cy="300.7" r="1.55"/><circle cx="408.2" cy="306.8" r="1.55"/><circle cx="431.1" cy="313.4" r="1.55"/><circle cx="364.4" cy="332.6" r="1.55"/><circle cx="337" cy="349.8" r="1.55"/><circle cx="386.2" cy="318.3" r="1.55"/><circle cx="405.8" cy="298" r="1.55"/><circle cx="402.6" cy="306.7" r="1.55"/><circle cx="446.3" cy="293.4" r="1.55"/><circle cx="442.1" cy="287.7" r="1.55"/><circle cx="390.2" cy="316.8" r="1.55"/><circle cx="328.6" cy="349.8" r="1.55"/><circle cx="518" cy="260.2" r="1.55"/><circle cx="425.9" cy="292.7" r="1.55"/><circle cx="356" cy="338.8" r="1.55"/><circle cx="410" cy="315.5" r="1.55"/><circle cx="436.8" cy="285.2" r="1.55"/><circle cx="490.8" cy="272.7" r="1.55"/><circle cx="486.3" cy="270.4" r="1.55"/><circle cx="414.9" cy="315.8" r="1.55"/><circle cx="379.4" cy="335.6" r="1.55"/><circle cx="380.6" cy="323" r="1.55"/><circle cx="414.7" cy="316.3" r="1.55"/><circle cx="435.7" cy="310.8" r="1.55"/><circle cx="423.4" cy="298.1" r="1.55"/><circle cx="398.3" cy="316.2" r="1.55"/><circle cx="388.6" cy="328.7" r="1.55"/><circle cx="425.6" cy="312.8" r="1.55"/><circle cx="467.1" cy="275.3" r="1.55"/><circle cx="340.4" cy="349.5" r="1.55"/><circle cx="389.6" cy="336" r="1.55"/><circle cx="404.3" cy="311" r="1.55"/><circle cx="411.9" cy="300.4" r="1.55"/><circle cx="440.1" cy="302.3" r="1.55"/><circle cx="429" cy="298.6" r="1.55"/><circle cx="398.8" cy="325.6" r="1.55"/><circle cx="354.3" cy="341.9" r="1.55"/><circle cx="460.6" cy="283.6" r="1.55"/><circle cx="411.8" cy="294.6" r="1.55"/><circle cx="494.2" cy="273.7" r="1.55"/><circle cx="384.5" cy="316.7" r="1.55"/><circle cx="509.1" cy="248.6" r="1.55"/><circle cx="425.5" cy="300.3" r="1.55"/><circle cx="412.3" cy="310.2" r="1.55"/><circle cx="358.3" cy="299.4" r="1.55"/><circle cx="404.7" cy="324.4" r="1.55"/><circle cx="408.2" cy="291.8" r="1.55"/><circle cx="405.7" cy="307" r="1.55"/><circle cx="461.6" cy="277.4" r="1.55"/><circle cx="402.5" cy="304" r="1.55"/><circle cx="421.4" cy="293.3" r="1.55"/><circle cx="509.2" cy="271" r="1.55"/><circle cx="424" cy="301.2" r="1.55"/><circle cx="432.8" cy="302" r="1.55"/><circle cx="468.3" cy="273.5" r="1.55"/><circle cx="431.1" cy="301.9" r="1.55"/><circle cx="394.5" cy="305.6" r="1.55"/><circle cx="405.2" cy="302.3" r="1.55"/><circle cx="431.3" cy="292.3" r="1.55"/><circle cx="356.4" cy="350.4" r="1.55"/><circle cx="396.4" cy="307.1" r="1.55"/><circle cx="372.5" cy="331.8" r="1.55"/><circle cx="414.4" cy="279.3" r="1.55"/><circle cx="395.3" cy="308.4" r="1.55"/><circle cx="393.1" cy="330.9" r="1.55"/><circle cx="425.6" cy="293.1" r="1.55"/><circle cx="432.9" cy="284.9" r="1.55"/><circle cx="359.4" cy="332.9" r="1.55"/><circle cx="386.3" cy="294.6" r="1.55"/><circle cx="358.1" cy="338.5" r="1.55"/><circle cx="370.7" cy="321.7" r="1.55"/><circle cx="384.8" cy="323.7" r="1.55"/><circle cx="397.4" cy="315.6" r="1.55"/><circle cx="378.4" cy="317.9" r="1.55"/><circle cx="397.5" cy="314.6" r="1.55"/><circle cx="385.7" cy="328" r="1.55"/><circle cx="514.3" cy="258.9" r="1.55"/><circle cx="459" cy="274" r="1.55"/><circle cx="431.8" cy="292" r="1.55"/><circle cx="403.3" cy="301.7" r="1.55"/><circle cx="374.6" cy="342.7" r="1.55"/><circle cx="382.2" cy="331.4" r="1.55"/><circle cx="371.3" cy="320" r="1.55"/><circle cx="347.8" cy="349.5" r="1.55"/><circle cx="423.5" cy="296.8" r="1.55"/><circle cx="362.6" cy="324.6" r="1.55"/><circle cx="343.6" cy="360.1" r="1.55"/><circle cx="525.1" cy="269.4" r="1.55"/><circle cx="386.5" cy="312.1" r="1.55"/><circle cx="404.9" cy="305.9" r="1.55"/><circle cx="409.3" cy="303.4" r="1.55"/><circle cx="400.2" cy="312.4" r="1.55"/><circle cx="379.2" cy="326.8" r="1.55"/><circle cx="332.4" cy="353.5" r="1.55"/><circle cx="455" cy="283.1" r="1.55"/><circle cx="395.7" cy="303" r="1.55"/><circle cx="395" cy="315.8" r="1.55"/><circle cx="441.7" cy="301.8" r="1.55"/><circle cx="368.7" cy="333.2" r="1.55"/><circle cx="412.7" cy="294.1" r="1.55"/><circle cx="389.3" cy="308.7" r="1.55"/><circle cx="378" cy="329.4" r="1.55"/><circle cx="413.9" cy="304.4" r="1.55"/><circle cx="360.7" cy="346.3" r="1.55"/><circle cx="375.3" cy="326.3" r="1.55"/><circle cx="317.3" cy="359.9" r="1.55"/><circle cx="428.5" cy="293" r="1.55"/><circle cx="364.7" cy="323.4" r="1.55"/><circle cx="385.5" cy="324.3" r="1.55"/><circle cx="386.9" cy="324.2" r="1.55"/><circle cx="403.8" cy="308.4" r="1.55"/><circle cx="353.6" cy="333.2" r="1.55"/><circle cx="399.3" cy="308.4" r="1.55"/><circle cx="378.5" cy="319.4" r="1.55"/><circle cx="416.8" cy="298.1" r="1.55"/><circle cx="436.5" cy="293" r="1.55"/><circle cx="406.5" cy="305.8" r="1.55"/><circle cx="379.5" cy="319.5" r="1.55"/><circle cx="473" cy="271.7" r="1.55"/><circle cx="372.2" cy="322.4" r="1.55"/><circle cx="398.8" cy="317.4" r="1.55"/><circle cx="372.1" cy="337.6" r="1.55"/><circle cx="362.8" cy="331.7" r="1.55"/><circle cx="439.4" cy="291.5" r="1.55"/><circle cx="428.9" cy="295.9" r="1.55"/><circle cx="405.4" cy="307" r="1.55"/><circle cx="363.5" cy="335.8" r="1.55"/><circle cx="388.4" cy="307.6" r="1.55"/><circle cx="370.4" cy="317" r="1.55"/><circle cx="438.3" cy="306.5" r="1.55"/><circle cx="431.1" cy="298.5" r="1.55"/><circle cx="345.8" cy="327.2" r="1.55"/><circle cx="380.7" cy="330.3" r="1.55"/><circle cx="492.3" cy="254.6" r="1.55"/><circle cx="362" cy="342.4" r="1.55"/><circle cx="482.7" cy="276.9" r="1.55"/><circle cx="436.1" cy="295.8" r="1.55"/><circle cx="392.5" cy="309.3" r="1.55"/><circle cx="338.8" cy="343.8" r="1.55"/><circle cx="409.8" cy="312.1" r="1.55"/><circle cx="389.5" cy="314.6" r="1.55"/><circle cx="385.9" cy="317" r="1.55"/><circle cx="413.8" cy="325.4" r="1.55"/><circle cx="426.6" cy="300.1" r="1.55"/><circle cx="396.6" cy="313.4" r="1.55"/><circle cx="457.7" cy="305" r="1.55"/><circle cx="411.3" cy="329" r="1.55"/><circle cx="506.1" cy="289.2" r="1.55"/><circle cx="432.3" cy="312.5" r="1.55"/><circle cx="429.6" cy="329.9" r="1.55"/><circle cx="517.3" cy="288.1" r="1.55"/><circle cx="510.2" cy="287.4" r="1.55"/><circle cx="437" cy="312.4" r="1.55"/><circle cx="414.3" cy="324.4" r="1.55"/><circle cx="441.4" cy="323.5" r="1.55"/><circle cx="480.7" cy="312.7" r="1.55"/><circle cx="431.6" cy="328.4" r="1.55"/><circle cx="506" cy="288" r="1.55"/><circle cx="430.1" cy="322.1" r="1.55"/><circle cx="487.4" cy="297" r="1.55"/><circle cx="477.7" cy="298.1" r="1.55"/><circle cx="425.8" cy="329.8" r="1.55"/><circle cx="473.1" cy="303.2" r="1.55"/><circle cx="446.6" cy="309.2" r="1.55"/><circle cx="442.4" cy="326.3" r="1.55"/><circle cx="426.1" cy="315.8" r="1.55"/><circle cx="415.3" cy="319.1" r="1.55"/><circle cx="387" cy="302.1" r="1.55"/><circle cx="425.8" cy="274.6" r="1.55"/><circle cx="357.7" cy="313.9" r="1.55"/><circle cx="467" cy="253.2" r="1.55"/><circle cx="402.5" cy="290.4" r="1.55"/><circle cx="365.7" cy="304.2" r="1.55"/></g>
<g fill="#ff8a14" fill-opacity="0.43"><circle cx="434.2" cy="290.8" r="2.05"/><circle cx="345.5" cy="340.2" r="2.05"/><circle cx="354.4" cy="331.4" r="2.05"/><circle cx="449.5" cy="296.3" r="2.05"/><circle cx="333" cy="352.5" r="2.05"/><circle cx="408.7" cy="315.1" r="2.05"/><circle cx="428.1" cy="290.7" r="2.05"/><circle cx="460.9" cy="281.6" r="2.05"/><circle cx="433" cy="284.1" r="2.05"/><circle cx="414.5" cy="304.7" r="2.05"/><circle cx="476.6" cy="269" r="2.05"/><circle cx="408.6" cy="312.5" r="2.05"/><circle cx="481.1" cy="261.3" r="2.05"/><circle cx="418.4" cy="300.9" r="2.05"/><circle cx="384" cy="318.6" r="2.05"/><circle cx="403.1" cy="318.2" r="2.05"/><circle cx="507.3" cy="239.1" r="2.05"/><circle cx="489.3" cy="267.3" r="2.05"/><circle cx="399.4" cy="344" r="2.05"/><circle cx="325.6" cy="349.2" r="2.05"/><circle cx="438.5" cy="285.7" r="2.05"/><circle cx="442.8" cy="297.6" r="2.05"/><circle cx="412" cy="310.6" r="2.05"/><circle cx="375.3" cy="332.3" r="2.05"/><circle cx="466.4" cy="272.3" r="2.05"/><circle cx="437.5" cy="297.9" r="2.05"/><circle cx="423.6" cy="305.8" r="2.05"/><circle cx="414.4" cy="307" r="2.05"/><circle cx="386.5" cy="322.3" r="2.05"/><circle cx="389.5" cy="317" r="2.05"/><circle cx="401.5" cy="312.8" r="2.05"/><circle cx="412.7" cy="307.2" r="2.05"/><circle cx="426" cy="292.9" r="2.05"/><circle cx="353" cy="345.5" r="2.05"/><circle cx="375" cy="321.1" r="2.05"/><circle cx="421.6" cy="301.4" r="2.05"/><circle cx="334" cy="347.9" r="2.05"/><circle cx="395.5" cy="325.3" r="2.05"/><circle cx="391" cy="320.4" r="2.05"/><circle cx="403.5" cy="311.2" r="2.05"/><circle cx="436.1" cy="290.3" r="2.05"/><circle cx="426" cy="321.6" r="2.05"/><circle cx="476.5" cy="257.6" r="2.05"/><circle cx="413.8" cy="296.8" r="2.05"/><circle cx="476" cy="270.2" r="2.05"/><circle cx="457.2" cy="280.3" r="2.05"/><circle cx="425.1" cy="304.9" r="2.05"/><circle cx="456.4" cy="286.5" r="2.05"/><circle cx="400.5" cy="312.9" r="2.05"/><circle cx="526.8" cy="243" r="2.05"/><circle cx="405.5" cy="323.6" r="2.05"/><circle cx="412.9" cy="302.6" r="2.05"/><circle cx="362.4" cy="337.2" r="2.05"/><circle cx="376.2" cy="330.5" r="2.05"/><circle cx="393.4" cy="316" r="2.05"/><circle cx="447.8" cy="276.3" r="2.05"/><circle cx="435.5" cy="335.7" r="2.05"/><circle cx="446" cy="310.4" r="2.05"/><circle cx="413" cy="305.4" r="2.05"/><circle cx="403.4" cy="309.9" r="2.05"/><circle cx="433.5" cy="297" r="2.05"/><circle cx="403.5" cy="314.1" r="2.05"/><circle cx="487.2" cy="263.5" r="2.05"/><circle cx="406.2" cy="325" r="2.05"/><circle cx="434.2" cy="297.8" r="2.05"/><circle cx="434.5" cy="289.1" r="2.05"/><circle cx="378.4" cy="332.7" r="2.05"/><circle cx="414.1" cy="307.4" r="2.05"/><circle cx="492.8" cy="267.8" r="2.05"/><circle cx="430.8" cy="298.8" r="2.05"/><circle cx="399.4" cy="314.9" r="2.05"/><circle cx="390.6" cy="320" r="2.05"/><circle cx="415.5" cy="305.8" r="2.05"/><circle cx="420.2" cy="289.4" r="2.05"/><circle cx="455.8" cy="278.1" r="2.05"/><circle cx="398.6" cy="316.1" r="2.05"/><circle cx="454.9" cy="281.6" r="2.05"/><circle cx="395.3" cy="307.3" r="2.05"/><circle cx="335" cy="350.2" r="2.05"/><circle cx="400.7" cy="313.9" r="2.05"/><circle cx="445.4" cy="291.9" r="2.05"/><circle cx="411.6" cy="299.9" r="2.05"/><circle cx="469.7" cy="269" r="2.05"/><circle cx="447.1" cy="288.6" r="2.05"/><circle cx="434.5" cy="288.8" r="2.05"/><circle cx="368.4" cy="318.5" r="2.05"/><circle cx="407.2" cy="308.6" r="2.05"/><circle cx="366.4" cy="326.2" r="2.05"/><circle cx="418" cy="306" r="2.05"/><circle cx="444.3" cy="287.9" r="2.05"/><circle cx="401.7" cy="313.5" r="2.05"/><circle cx="405" cy="297.5" r="2.05"/><circle cx="387" cy="311.9" r="2.05"/><circle cx="431.5" cy="295.3" r="2.05"/><circle cx="372.4" cy="328.6" r="2.05"/><circle cx="492.8" cy="250.1" r="2.05"/><circle cx="399" cy="310.5" r="2.05"/><circle cx="384.8" cy="329.2" r="2.05"/><circle cx="417.7" cy="304" r="2.05"/><circle cx="455.3" cy="277.6" r="2.05"/><circle cx="402.5" cy="315.6" r="2.05"/><circle cx="394.1" cy="297.9" r="2.05"/><circle cx="395.5" cy="317.4" r="2.05"/><circle cx="353.6" cy="344.5" r="2.05"/><circle cx="408.7" cy="307.3" r="2.05"/><circle cx="408.7" cy="309.3" r="2.05"/><circle cx="456.2" cy="282.4" r="2.05"/><circle cx="396.7" cy="309.4" r="2.05"/><circle cx="413.4" cy="307.8" r="2.05"/><circle cx="477.1" cy="263.9" r="2.05"/><circle cx="439.8" cy="288.9" r="2.05"/><circle cx="473.7" cy="264.8" r="2.05"/><circle cx="386.6" cy="329.4" r="2.05"/><circle cx="381.4" cy="322.2" r="2.05"/><circle cx="353" cy="343.2" r="2.05"/><circle cx="397.1" cy="321.2" r="2.05"/><circle cx="358.4" cy="353.4" r="2.05"/><circle cx="400.5" cy="317.3" r="2.05"/><circle cx="405.2" cy="306.2" r="2.05"/><circle cx="371.2" cy="322.5" r="2.05"/><circle cx="419.5" cy="298" r="2.05"/><circle cx="413.3" cy="308.3" r="2.05"/><circle cx="332.4" cy="350.8" r="2.05"/><circle cx="403.5" cy="308.7" r="2.05"/><circle cx="441.1" cy="291.1" r="2.05"/><circle cx="441.9" cy="283.1" r="2.05"/><circle cx="475.7" cy="266.5" r="2.05"/><circle cx="403.9" cy="312.9" r="2.05"/><circle cx="495.6" cy="263" r="2.05"/><circle cx="356.5" cy="340.4" r="2.05"/><circle cx="410.8" cy="294.9" r="2.05"/><circle cx="339.7" cy="346.4" r="2.05"/><circle cx="424" cy="274.3" r="2.05"/><circle cx="409.1" cy="314.6" r="2.05"/><circle cx="408.6" cy="294.8" r="2.05"/><circle cx="318.8" cy="356.2" r="2.05"/><circle cx="389.8" cy="331.9" r="2.05"/><circle cx="394.1" cy="340.8" r="2.05"/><circle cx="408.6" cy="300.8" r="2.05"/><circle cx="474" cy="273" r="2.05"/><circle cx="414.2" cy="297.1" r="2.05"/><circle cx="382.6" cy="329.3" r="2.05"/><circle cx="440.1" cy="287.5" r="2.05"/><circle cx="384" cy="336" r="2.05"/><circle cx="399.1" cy="312.3" r="2.05"/><circle cx="400.1" cy="313.1" r="2.05"/><circle cx="381.8" cy="318.9" r="2.05"/><circle cx="443.6" cy="285" r="2.05"/><circle cx="403.7" cy="315.2" r="2.05"/><circle cx="349.6" cy="324.7" r="2.05"/><circle cx="324.9" cy="361.6" r="2.05"/><circle cx="350.8" cy="337.3" r="2.05"/><circle cx="474.2" cy="274" r="2.05"/><circle cx="404.3" cy="317.8" r="2.05"/><circle cx="383.5" cy="322.1" r="2.05"/><circle cx="419.1" cy="310" r="2.05"/><circle cx="396.8" cy="323.3" r="2.05"/><circle cx="352.3" cy="343.9" r="2.05"/><circle cx="393.1" cy="313.6" r="2.05"/><circle cx="437.5" cy="284.6" r="2.05"/><circle cx="426.3" cy="286.5" r="2.05"/><circle cx="395.1" cy="308.3" r="2.05"/><circle cx="362.2" cy="341.8" r="2.05"/><circle cx="429.1" cy="301.3" r="2.05"/><circle cx="357.4" cy="315.6" r="2.05"/><circle cx="470.7" cy="262.8" r="2.05"/><circle cx="460" cy="283.6" r="2.05"/><circle cx="344.9" cy="341.6" r="2.05"/><circle cx="450.3" cy="324.5" r="2.05"/><circle cx="373.7" cy="328.5" r="2.05"/><circle cx="377.8" cy="317" r="2.05"/><circle cx="394" cy="315.6" r="2.05"/><circle cx="409.2" cy="317.6" r="2.05"/><circle cx="363.3" cy="315.5" r="2.05"/><circle cx="372.1" cy="326" r="2.05"/><circle cx="437.7" cy="289" r="2.05"/><circle cx="426.6" cy="292.9" r="2.05"/><circle cx="381.5" cy="318.5" r="2.05"/><circle cx="402.3" cy="297.7" r="2.05"/><circle cx="411.7" cy="307.3" r="2.05"/><circle cx="434.7" cy="295" r="2.05"/><circle cx="372.7" cy="330.4" r="2.05"/><circle cx="339.5" cy="335" r="2.05"/><circle cx="318.9" cy="347" r="2.05"/><circle cx="405.5" cy="297.9" r="2.05"/><circle cx="414.3" cy="311.5" r="2.05"/><circle cx="370.4" cy="336.9" r="2.05"/><circle cx="438.7" cy="290" r="2.05"/><circle cx="424.1" cy="301.1" r="2.05"/><circle cx="393.2" cy="332.1" r="2.05"/><circle cx="419.9" cy="294.5" r="2.05"/><circle cx="378.4" cy="331" r="2.05"/><circle cx="359.3" cy="339.2" r="2.05"/><circle cx="391.9" cy="295.2" r="2.05"/><circle cx="392.7" cy="318.9" r="2.05"/><circle cx="398.9" cy="318.8" r="2.05"/><circle cx="346.3" cy="352.3" r="2.05"/><circle cx="423.2" cy="299.5" r="2.05"/><circle cx="405.3" cy="313.4" r="2.05"/><circle cx="397" cy="310.2" r="2.05"/><circle cx="417" cy="305.6" r="2.05"/><circle cx="377.5" cy="326" r="2.05"/><circle cx="398.4" cy="306.4" r="2.05"/><circle cx="392.3" cy="309.1" r="2.05"/><circle cx="393.3" cy="311.7" r="2.05"/><circle cx="361.1" cy="332.2" r="2.05"/><circle cx="374.9" cy="329.8" r="2.05"/><circle cx="506.4" cy="255.8" r="2.05"/><circle cx="398.1" cy="312.8" r="2.05"/><circle cx="395.9" cy="312.5" r="2.05"/><circle cx="408.7" cy="336.3" r="2.05"/><circle cx="410.5" cy="314.3" r="2.05"/><circle cx="433" cy="281.9" r="2.05"/><circle cx="429.4" cy="286.7" r="2.05"/><circle cx="479.7" cy="267.6" r="2.05"/><circle cx="391.1" cy="317.4" r="2.05"/><circle cx="395.9" cy="305.7" r="2.05"/><circle cx="383.2" cy="330.9" r="2.05"/><circle cx="398.4" cy="316.7" r="2.05"/><circle cx="408.3" cy="315.5" r="2.05"/><circle cx="424.4" cy="296.3" r="2.05"/><circle cx="462.5" cy="283.6" r="2.05"/><circle cx="401" cy="302.5" r="2.05"/><circle cx="463.9" cy="271.8" r="2.05"/><circle cx="370.9" cy="326.4" r="2.05"/><circle cx="377.4" cy="318.5" r="2.05"/><circle cx="386.3" cy="320.5" r="2.05"/><circle cx="414.9" cy="292.6" r="2.05"/><circle cx="432.4" cy="300.6" r="2.05"/><circle cx="477.2" cy="278.4" r="2.05"/><circle cx="477.5" cy="274" r="2.05"/><circle cx="350.3" cy="326.6" r="2.05"/><circle cx="386.4" cy="316.5" r="2.05"/><circle cx="388.7" cy="315.7" r="2.05"/><circle cx="422.3" cy="293.7" r="2.05"/><circle cx="409.9" cy="318.3" r="2.05"/><circle cx="363.5" cy="327.8" r="2.05"/><circle cx="424" cy="296.8" r="2.05"/><circle cx="416" cy="302.4" r="2.05"/><circle cx="410" cy="312.3" r="2.05"/><circle cx="437.5" cy="295.4" r="2.05"/><circle cx="374.9" cy="347.5" r="2.05"/><circle cx="523.2" cy="253.1" r="2.05"/><circle cx="409.6" cy="317" r="2.05"/><circle cx="395.2" cy="316" r="2.05"/><circle cx="356.8" cy="341.9" r="2.05"/><circle cx="414.1" cy="306.8" r="2.05"/><circle cx="344.8" cy="346.1" r="2.05"/><circle cx="359.6" cy="339" r="2.05"/><circle cx="486.5" cy="260.9" r="2.05"/><circle cx="386.5" cy="339.6" r="2.05"/><circle cx="415.4" cy="303.3" r="2.05"/><circle cx="425.9" cy="288.6" r="2.05"/><circle cx="472" cy="272.4" r="2.05"/><circle cx="385.7" cy="304.7" r="2.05"/><circle cx="404.8" cy="296.5" r="2.05"/><circle cx="484.4" cy="270.1" r="2.05"/><circle cx="455" cy="277.2" r="2.05"/><circle cx="397.9" cy="311.3" r="2.05"/><circle cx="452.1" cy="282.3" r="2.05"/><circle cx="424.1" cy="282.9" r="2.05"/><circle cx="421.4" cy="299.9" r="2.05"/><circle cx="424.6" cy="290.1" r="2.05"/><circle cx="491.7" cy="261.4" r="2.05"/><circle cx="364.8" cy="323.9" r="2.05"/><circle cx="406.5" cy="303.8" r="2.05"/><circle cx="398" cy="317.4" r="2.05"/><circle cx="333.5" cy="345.3" r="2.05"/><circle cx="431.5" cy="289.7" r="2.05"/><circle cx="468" cy="264.2" r="2.05"/><circle cx="405.7" cy="310.1" r="2.05"/><circle cx="434.8" cy="276" r="2.05"/><circle cx="346.3" cy="342.4" r="2.05"/><circle cx="372.5" cy="334" r="2.05"/><circle cx="345.9" cy="327.6" r="2.05"/><circle cx="404" cy="314.4" r="2.05"/><circle cx="397" cy="315.7" r="2.05"/><circle cx="435.6" cy="296" r="2.05"/><circle cx="426.7" cy="278" r="2.05"/><circle cx="451.8" cy="270.5" r="2.05"/><circle cx="385" cy="312.3" r="2.05"/><circle cx="444.4" cy="280.7" r="2.05"/><circle cx="420.6" cy="300.6" r="2.05"/><circle cx="401.5" cy="312.4" r="2.05"/><circle cx="513.3" cy="251.3" r="2.05"/><circle cx="402.6" cy="313.6" r="2.05"/><circle cx="455" cy="282.7" r="2.05"/><circle cx="356.3" cy="337.1" r="2.05"/><circle cx="344.3" cy="349.8" r="2.05"/><circle cx="421" cy="295.1" r="2.05"/><circle cx="396.2" cy="318.1" r="2.05"/><circle cx="360.1" cy="332.7" r="2.05"/><circle cx="336.3" cy="350.3" r="2.05"/><circle cx="390.7" cy="320.7" r="2.05"/><circle cx="398.3" cy="316.1" r="2.05"/><circle cx="425.2" cy="310.9" r="2.05"/><circle cx="378.3" cy="326.1" r="2.05"/><circle cx="371.4" cy="334.2" r="2.05"/><circle cx="381.3" cy="325.2" r="2.05"/><circle cx="444.8" cy="292.8" r="2.05"/><circle cx="457.6" cy="292" r="2.05"/><circle cx="416.9" cy="296.2" r="2.05"/><circle cx="358.1" cy="315.9" r="2.05"/><circle cx="461.9" cy="272" r="2.05"/><circle cx="453.8" cy="285" r="2.05"/><circle cx="351.7" cy="339.5" r="2.05"/><circle cx="401.7" cy="323.1" r="2.05"/><circle cx="394.7" cy="323.3" r="2.05"/><circle cx="432.3" cy="295.7" r="2.05"/><circle cx="450.6" cy="291.1" r="2.05"/><circle cx="351.7" cy="340.4" r="2.05"/><circle cx="385" cy="315.7" r="2.05"/><circle cx="385.5" cy="313.9" r="2.05"/><circle cx="352.6" cy="341.1" r="2.05"/><circle cx="397.2" cy="321.1" r="2.05"/><circle cx="396.3" cy="318.1" r="2.05"/><circle cx="382.3" cy="307.5" r="2.05"/><circle cx="343.2" cy="347.1" r="2.05"/><circle cx="449.4" cy="287.1" r="2.05"/><circle cx="398.4" cy="319.7" r="2.05"/><circle cx="342.9" cy="337" r="2.05"/><circle cx="454.8" cy="263.4" r="2.05"/><circle cx="432.7" cy="292.1" r="2.05"/><circle cx="425.9" cy="313.5" r="2.05"/><circle cx="392.7" cy="318" r="2.05"/><circle cx="431.9" cy="276.5" r="2.05"/><circle cx="436.4" cy="300.4" r="2.05"/><circle cx="418.5" cy="308.1" r="2.05"/><circle cx="395.7" cy="312.3" r="2.05"/><circle cx="410.1" cy="306.7" r="2.05"/><circle cx="378.1" cy="318.7" r="2.05"/><circle cx="419.4" cy="304" r="2.05"/><circle cx="441.7" cy="282.5" r="2.05"/><circle cx="401.8" cy="313" r="2.05"/><circle cx="455.4" cy="279.7" r="2.05"/><circle cx="425.2" cy="283.3" r="2.05"/><circle cx="353.9" cy="342.2" r="2.05"/><circle cx="455.3" cy="279.7" r="2.05"/><circle cx="478.1" cy="268.2" r="2.05"/><circle cx="413.7" cy="299.7" r="2.05"/><circle cx="433.5" cy="298.1" r="2.05"/><circle cx="321.4" cy="359.4" r="2.05"/><circle cx="425.7" cy="301" r="2.05"/><circle cx="401.8" cy="310.3" r="2.05"/><circle cx="407.3" cy="300.6" r="2.05"/><circle cx="403.1" cy="318.9" r="2.05"/><circle cx="347.7" cy="337.3" r="2.05"/><circle cx="409.3" cy="313.5" r="2.05"/><circle cx="398.8" cy="297.9" r="2.05"/><circle cx="442" cy="292" r="2.05"/><circle cx="418" cy="306.8" r="2.05"/><circle cx="415.2" cy="307" r="2.05"/><circle cx="453.1" cy="281.6" r="2.05"/><circle cx="329.7" cy="356.4" r="2.05"/><circle cx="379.9" cy="316.9" r="2.05"/><circle cx="494.2" cy="270.4" r="2.05"/><circle cx="409.6" cy="305.5" r="2.05"/><circle cx="420.4" cy="277.6" r="2.05"/><circle cx="407.5" cy="311.7" r="2.05"/><circle cx="417.7" cy="306.1" r="2.05"/><circle cx="428.3" cy="292.6" r="2.05"/><circle cx="466.7" cy="282.1" r="2.05"/><circle cx="432.3" cy="276.8" r="2.05"/><circle cx="447" cy="303.8" r="2.05"/><circle cx="410.8" cy="314.4" r="2.05"/><circle cx="318.2" cy="357.4" r="2.05"/><circle cx="446.4" cy="302.6" r="2.05"/><circle cx="399.5" cy="314.1" r="2.05"/><circle cx="416.4" cy="310.6" r="2.05"/><circle cx="358.6" cy="326.6" r="2.05"/><circle cx="411.3" cy="309.2" r="2.05"/><circle cx="428.9" cy="294" r="2.05"/><circle cx="366.3" cy="343.4" r="2.05"/><circle cx="348" cy="348.4" r="2.05"/><circle cx="371.8" cy="324.7" r="2.05"/><circle cx="382.9" cy="317.9" r="2.05"/><circle cx="398.8" cy="306.8" r="2.05"/><circle cx="411" cy="301.7" r="2.05"/><circle cx="408.8" cy="302.9" r="2.05"/><circle cx="343.6" cy="354.1" r="2.05"/><circle cx="339.9" cy="343" r="2.05"/><circle cx="412.8" cy="298.6" r="2.05"/><circle cx="400.9" cy="311.9" r="2.05"/><circle cx="419.4" cy="293.1" r="2.05"/><circle cx="463.1" cy="282.8" r="2.05"/><circle cx="396.7" cy="320.5" r="2.05"/><circle cx="402.9" cy="314" r="2.05"/><circle cx="458.5" cy="277.7" r="2.05"/><circle cx="394.5" cy="322" r="2.05"/><circle cx="395.7" cy="359.5" r="2.05"/><circle cx="453.5" cy="283.4" r="2.05"/><circle cx="430.3" cy="294.6" r="2.05"/><circle cx="488.7" cy="261.3" r="2.05"/><circle cx="425.8" cy="301.7" r="2.05"/><circle cx="435.5" cy="283.6" r="2.05"/><circle cx="355" cy="333.6" r="2.05"/><circle cx="430" cy="307.4" r="2.05"/><circle cx="397.3" cy="319.8" r="2.05"/><circle cx="416.5" cy="308.7" r="2.05"/><circle cx="471.9" cy="273.5" r="2.05"/><circle cx="453.2" cy="270.2" r="2.05"/><circle cx="464.5" cy="268.8" r="2.05"/><circle cx="403.8" cy="300.9" r="2.05"/><circle cx="386.4" cy="323" r="2.05"/><circle cx="468.4" cy="275.5" r="2.05"/><circle cx="406.3" cy="307.2" r="2.05"/><circle cx="341.4" cy="352.9" r="2.05"/><circle cx="492.6" cy="277" r="2.05"/><circle cx="477.3" cy="274" r="2.05"/><circle cx="345.7" cy="323.1" r="2.05"/><circle cx="429.1" cy="296.6" r="2.05"/><circle cx="356.6" cy="330.6" r="2.05"/><circle cx="383.8" cy="310.6" r="2.05"/><circle cx="405.8" cy="301.8" r="2.05"/><circle cx="402.9" cy="310.8" r="2.05"/><circle cx="521.6" cy="253.9" r="2.05"/><circle cx="371.3" cy="320.9" r="2.05"/><circle cx="370.4" cy="333.5" r="2.05"/><circle cx="331.1" cy="351" r="2.05"/><circle cx="419.9" cy="312.9" r="2.05"/><circle cx="414.2" cy="307.6" r="2.05"/><circle cx="419.8" cy="300.3" r="2.05"/><circle cx="319.6" cy="361.6" r="2.05"/><circle cx="350.7" cy="340.2" r="2.05"/><circle cx="389.4" cy="316.6" r="2.05"/><circle cx="471.3" cy="272.5" r="2.05"/><circle cx="424.1" cy="296.4" r="2.05"/><circle cx="454.4" cy="306.7" r="2.05"/><circle cx="403.3" cy="300.9" r="2.05"/><circle cx="392.4" cy="313.8" r="2.05"/><circle cx="408.2" cy="320.9" r="2.05"/><circle cx="458" cy="273.4" r="2.05"/><circle cx="391.2" cy="342.5" r="2.05"/><circle cx="385.7" cy="312.7" r="2.05"/><circle cx="402.1" cy="318.5" r="2.05"/><circle cx="415.2" cy="299.8" r="2.05"/><circle cx="402.9" cy="337.9" r="2.05"/><circle cx="399.1" cy="316.9" r="2.05"/><circle cx="476.6" cy="274.2" r="2.05"/><circle cx="454.7" cy="277.9" r="2.05"/><circle cx="410" cy="306.6" r="2.05"/><circle cx="366.8" cy="333.1" r="2.05"/><circle cx="389" cy="332.2" r="2.05"/><circle cx="333.6" cy="341" r="2.05"/><circle cx="445.2" cy="286.5" r="2.05"/><circle cx="336.6" cy="345.7" r="2.05"/><circle cx="426.6" cy="291.8" r="2.05"/><circle cx="393.4" cy="313.9" r="2.05"/><circle cx="402.2" cy="306.3" r="2.05"/><circle cx="431.9" cy="284.1" r="2.05"/><circle cx="438.3" cy="291.6" r="2.05"/><circle cx="380.3" cy="319.6" r="2.05"/><circle cx="419.6" cy="294.4" r="2.05"/><circle cx="479.9" cy="289.3" r="2.05"/><circle cx="351.8" cy="346.7" r="2.05"/><circle cx="414.3" cy="298.7" r="2.05"/><circle cx="438.1" cy="294.9" r="2.05"/><circle cx="480.6" cy="265.7" r="2.05"/><circle cx="358.3" cy="335.7" r="2.05"/><circle cx="423.3" cy="330.9" r="2.05"/><circle cx="422.4" cy="302.8" r="2.05"/><circle cx="365.7" cy="331" r="2.05"/><circle cx="410.3" cy="304.3" r="2.05"/><circle cx="498.5" cy="264.2" r="2.05"/><circle cx="428.4" cy="294.3" r="2.05"/><circle cx="397.9" cy="333.6" r="2.05"/><circle cx="396.9" cy="312.1" r="2.05"/><circle cx="431.3" cy="300.1" r="2.05"/><circle cx="430.9" cy="293.5" r="2.05"/><circle cx="398.8" cy="304.5" r="2.05"/><circle cx="398.4" cy="310.8" r="2.05"/><circle cx="377.2" cy="322.2" r="2.05"/><circle cx="414" cy="324.5" r="2.05"/><circle cx="430.4" cy="293.3" r="2.05"/><circle cx="385.6" cy="318.1" r="2.05"/><circle cx="431.4" cy="295.4" r="2.05"/><circle cx="409.1" cy="313.5" r="2.05"/><circle cx="375" cy="318.2" r="2.05"/><circle cx="372.8" cy="334.5" r="2.05"/><circle cx="434.3" cy="296.9" r="2.05"/><circle cx="330.6" cy="341.7" r="2.05"/><circle cx="337.1" cy="353.6" r="2.05"/><circle cx="433.9" cy="289.4" r="2.05"/><circle cx="401.7" cy="306.2" r="2.05"/><circle cx="456.7" cy="289.4" r="2.05"/><circle cx="384" cy="308.6" r="2.05"/><circle cx="370.8" cy="324.1" r="2.05"/><circle cx="455.5" cy="282.4" r="2.05"/><circle cx="367.5" cy="327.4" r="2.05"/><circle cx="427.4" cy="290.4" r="2.05"/><circle cx="341.1" cy="355.3" r="2.05"/><circle cx="390.3" cy="310.8" r="2.05"/><circle cx="406" cy="291.4" r="2.05"/><circle cx="352.4" cy="343.5" r="2.05"/><circle cx="490.6" cy="266.3" r="2.05"/><circle cx="404.6" cy="311.6" r="2.05"/><circle cx="459.4" cy="291.2" r="2.05"/><circle cx="473.1" cy="259.9" r="2.05"/><circle cx="373.6" cy="329.4" r="2.05"/><circle cx="327.8" cy="353.5" r="2.05"/><circle cx="427.2" cy="295.8" r="2.05"/><circle cx="487.7" cy="268.1" r="2.05"/><circle cx="451.2" cy="292" r="2.05"/><circle cx="391.1" cy="302.2" r="2.05"/><circle cx="410.2" cy="335.9" r="2.05"/><circle cx="421.9" cy="296.1" r="2.05"/><circle cx="474.6" cy="263.3" r="2.05"/><circle cx="399.3" cy="303.9" r="2.05"/><circle cx="512.5" cy="233.8" r="2.05"/><circle cx="383.5" cy="317.3" r="2.05"/><circle cx="382.9" cy="325" r="2.05"/><circle cx="425" cy="298.5" r="2.05"/><circle cx="435.6" cy="303.6" r="2.05"/><circle cx="409.6" cy="308.3" r="2.05"/><circle cx="446.2" cy="282.9" r="2.05"/><circle cx="440.2" cy="290" r="2.05"/><circle cx="413.2" cy="304.6" r="2.05"/><circle cx="454.6" cy="272.2" r="2.05"/><circle cx="363.3" cy="333.5" r="2.05"/><circle cx="409.4" cy="302" r="2.05"/><circle cx="434.6" cy="282.5" r="2.05"/><circle cx="328.1" cy="354.3" r="2.05"/><circle cx="406.7" cy="304.1" r="2.05"/><circle cx="457.7" cy="278.4" r="2.05"/><circle cx="423.3" cy="291.2" r="2.05"/><circle cx="391.7" cy="320" r="2.05"/><circle cx="444.7" cy="329.5" r="2.05"/><circle cx="413.9" cy="304.8" r="2.05"/><circle cx="459.5" cy="282.5" r="2.05"/><circle cx="399.3" cy="307.1" r="2.05"/><circle cx="457.4" cy="279.8" r="2.05"/><circle cx="420.4" cy="296.3" r="2.05"/><circle cx="418.3" cy="306.3" r="2.05"/><circle cx="348.2" cy="342.5" r="2.05"/><circle cx="422.3" cy="285.9" r="2.05"/><circle cx="355.7" cy="345.7" r="2.05"/><circle cx="484" cy="277.1" r="2.05"/><circle cx="337.6" cy="352.3" r="2.05"/><circle cx="496.1" cy="261.4" r="2.05"/><circle cx="416.3" cy="288.1" r="2.05"/><circle cx="352.1" cy="347.8" r="2.05"/><circle cx="424.8" cy="299.7" r="2.05"/><circle cx="349.2" cy="340.3" r="2.05"/><circle cx="419.3" cy="301.9" r="2.05"/><circle cx="455.9" cy="288.5" r="2.05"/><circle cx="342.2" cy="351.5" r="2.05"/><circle cx="411.1" cy="297" r="2.05"/><circle cx="335.5" cy="345.4" r="2.05"/><circle cx="340.6" cy="342.9" r="2.05"/><circle cx="413.6" cy="300.3" r="2.05"/><circle cx="402.1" cy="300.3" r="2.05"/><circle cx="416.9" cy="292.8" r="2.05"/><circle cx="445.6" cy="286.5" r="2.05"/><circle cx="328.8" cy="342.6" r="2.05"/><circle cx="520.8" cy="250.3" r="2.05"/><circle cx="420" cy="305.6" r="2.05"/><circle cx="417" cy="290.5" r="2.05"/><circle cx="413.6" cy="299.9" r="2.05"/><circle cx="485.1" cy="273.9" r="2.05"/><circle cx="396.7" cy="339.1" r="2.05"/><circle cx="393" cy="317.9" r="2.05"/><circle cx="424.4" cy="294.6" r="2.05"/><circle cx="446.2" cy="282.6" r="2.05"/><circle cx="410.3" cy="316.1" r="2.05"/><circle cx="430.6" cy="289.1" r="2.05"/><circle cx="424.2" cy="296.3" r="2.05"/><circle cx="402.3" cy="316.1" r="2.05"/><circle cx="415.9" cy="310.7" r="2.05"/><circle cx="472.8" cy="271.9" r="2.05"/><circle cx="488.1" cy="269.8" r="2.05"/><circle cx="391.3" cy="313.2" r="2.05"/><circle cx="341.1" cy="333.3" r="2.05"/><circle cx="419.7" cy="303.1" r="2.05"/><circle cx="441" cy="292.1" r="2.05"/><circle cx="331.8" cy="347.3" r="2.05"/><circle cx="354" cy="328.5" r="2.05"/><circle cx="470.9" cy="279.4" r="2.05"/><circle cx="429.4" cy="284.5" r="2.05"/><circle cx="392.1" cy="318.2" r="2.05"/><circle cx="505" cy="266.4" r="2.05"/><circle cx="363.1" cy="327" r="2.05"/><circle cx="350.4" cy="335.5" r="2.05"/><circle cx="399.9" cy="323.2" r="2.05"/><circle cx="365.1" cy="319.5" r="2.05"/><circle cx="442.6" cy="289.8" r="2.05"/><circle cx="425.2" cy="302.9" r="2.05"/><circle cx="387.8" cy="320.4" r="2.05"/><circle cx="350.3" cy="345.9" r="2.05"/><circle cx="450.9" cy="286.3" r="2.05"/><circle cx="391.7" cy="322" r="2.05"/><circle cx="401.2" cy="316.1" r="2.05"/><circle cx="403.9" cy="310.5" r="2.05"/><circle cx="458.2" cy="274.6" r="2.05"/><circle cx="417.9" cy="299.6" r="2.05"/><circle cx="398.2" cy="287.5" r="2.05"/><circle cx="367" cy="334.8" r="2.05"/><circle cx="348.4" cy="336.1" r="2.05"/><circle cx="443.7" cy="272.5" r="2.05"/><circle cx="464.4" cy="274.7" r="2.05"/><circle cx="361.8" cy="332.4" r="2.05"/><circle cx="323.3" cy="349.7" r="2.05"/><circle cx="408.6" cy="305.1" r="2.05"/><circle cx="401.8" cy="317.1" r="2.05"/><circle cx="424.5" cy="291" r="2.05"/><circle cx="459.7" cy="274.2" r="2.05"/><circle cx="407.9" cy="307.4" r="2.05"/><circle cx="424.9" cy="300.6" r="2.05"/><circle cx="381" cy="315.2" r="2.05"/><circle cx="417" cy="293.2" r="2.05"/><circle cx="428.3" cy="293.8" r="2.05"/><circle cx="364.2" cy="340.2" r="2.05"/><circle cx="380.2" cy="334.4" r="2.05"/><circle cx="425.4" cy="299" r="2.05"/><circle cx="397" cy="308.2" r="2.05"/><circle cx="405" cy="311.6" r="2.05"/><circle cx="326.8" cy="360.2" r="2.05"/><circle cx="436.5" cy="280.4" r="2.05"/><circle cx="427.2" cy="311.9" r="2.05"/><circle cx="390.3" cy="313.8" r="2.05"/><circle cx="342.9" cy="355.7" r="2.05"/><circle cx="375" cy="330.5" r="2.05"/><circle cx="355" cy="338" r="2.05"/><circle cx="348.6" cy="333.3" r="2.05"/><circle cx="409.7" cy="302.1" r="2.05"/><circle cx="349.2" cy="335.6" r="2.05"/><circle cx="318.2" cy="361.3" r="2.05"/><circle cx="423.3" cy="292.9" r="2.05"/><circle cx="436.9" cy="282" r="2.05"/><circle cx="412.4" cy="301.9" r="2.05"/><circle cx="414.7" cy="302.2" r="2.05"/><circle cx="386.6" cy="323.2" r="2.05"/><circle cx="400.6" cy="323.6" r="2.05"/><circle cx="352.7" cy="345.3" r="2.05"/><circle cx="412.9" cy="309.5" r="2.05"/><circle cx="424" cy="302.4" r="2.05"/><circle cx="396.7" cy="315.4" r="2.05"/><circle cx="437.8" cy="289.6" r="2.05"/><circle cx="354.9" cy="334.3" r="2.05"/><circle cx="436.5" cy="291.1" r="2.05"/><circle cx="340.3" cy="353.8" r="2.05"/><circle cx="344" cy="346.5" r="2.05"/><circle cx="421.1" cy="310.4" r="2.05"/><circle cx="432.8" cy="290.3" r="2.05"/><circle cx="426.2" cy="281.6" r="2.05"/><circle cx="409.4" cy="308.7" r="2.05"/><circle cx="355.7" cy="341" r="2.05"/><circle cx="464.3" cy="265.5" r="2.05"/><circle cx="461.1" cy="281" r="2.05"/><circle cx="408.6" cy="314.2" r="2.05"/><circle cx="425" cy="292.6" r="2.05"/><circle cx="396.3" cy="322.5" r="2.05"/><circle cx="452.1" cy="281" r="2.05"/><circle cx="403.1" cy="316.5" r="2.05"/><circle cx="412.6" cy="309.8" r="2.05"/><circle cx="361.9" cy="351.1" r="2.05"/><circle cx="423.2" cy="304.5" r="2.05"/><circle cx="362.2" cy="335.2" r="2.05"/><circle cx="424.9" cy="293.1" r="2.05"/><circle cx="408.4" cy="305.9" r="2.05"/><circle cx="356.5" cy="331.6" r="2.05"/><circle cx="375" cy="326.6" r="2.05"/><circle cx="428.9" cy="298.5" r="2.05"/><circle cx="455.7" cy="287.9" r="2.05"/><circle cx="421.4" cy="300.1" r="2.05"/><circle cx="492.9" cy="261.7" r="2.05"/><circle cx="443.6" cy="274" r="2.05"/><circle cx="433.8" cy="286.9" r="2.05"/><circle cx="479.9" cy="270.8" r="2.05"/><circle cx="396.2" cy="323.4" r="2.05"/><circle cx="459.5" cy="286.7" r="2.05"/><circle cx="472.5" cy="261.2" r="2.05"/><circle cx="339" cy="340.5" r="2.05"/><circle cx="415.3" cy="339.5" r="2.05"/><circle cx="363.3" cy="334.2" r="2.05"/><circle cx="390.5" cy="324.2" r="2.05"/><circle cx="455.6" cy="288.5" r="2.05"/><circle cx="442.5" cy="276.6" r="2.05"/><circle cx="394.4" cy="321.1" r="2.05"/><circle cx="415.7" cy="305.6" r="2.05"/><circle cx="379" cy="329.5" r="2.05"/><circle cx="508.3" cy="255.6" r="2.05"/><circle cx="421.4" cy="289.4" r="2.05"/><circle cx="367.8" cy="332.1" r="2.05"/><circle cx="505.7" cy="267.4" r="2.05"/><circle cx="383.8" cy="314.5" r="2.05"/><circle cx="355.2" cy="335.8" r="2.05"/><circle cx="410.7" cy="308.4" r="2.05"/><circle cx="371.1" cy="320" r="2.05"/><circle cx="387.5" cy="320" r="2.05"/><circle cx="362" cy="320.4" r="2.05"/><circle cx="419.4" cy="301.7" r="2.05"/><circle cx="343" cy="341.3" r="2.05"/><circle cx="437.9" cy="295.6" r="2.05"/><circle cx="430.4" cy="297.8" r="2.05"/><circle cx="354.1" cy="350.9" r="2.05"/><circle cx="372.1" cy="338.4" r="2.05"/><circle cx="397.7" cy="313" r="2.05"/><circle cx="366.7" cy="335.7" r="2.05"/><circle cx="443.8" cy="285.2" r="2.05"/><circle cx="414" cy="314.9" r="2.05"/><circle cx="442.1" cy="287.7" r="2.05"/><circle cx="332.3" cy="357.8" r="2.05"/><circle cx="415.3" cy="294.4" r="2.05"/><circle cx="392.5" cy="317.9" r="2.05"/><circle cx="408" cy="322.7" r="2.05"/><circle cx="428.7" cy="296.9" r="2.05"/><circle cx="349.9" cy="339.6" r="2.05"/><circle cx="386.4" cy="323" r="2.05"/><circle cx="403.1" cy="314.9" r="2.05"/><circle cx="410.9" cy="309.7" r="2.05"/><circle cx="363.6" cy="324.9" r="2.05"/><circle cx="432.4" cy="278.4" r="2.05"/><circle cx="393.5" cy="316.2" r="2.05"/><circle cx="419.3" cy="306.3" r="2.05"/><circle cx="482.4" cy="267.1" r="2.05"/><circle cx="398.1" cy="321.4" r="2.05"/><circle cx="449.1" cy="276.8" r="2.05"/><circle cx="337.6" cy="338.1" r="2.05"/><circle cx="345.7" cy="350.1" r="2.05"/><circle cx="397.4" cy="307.7" r="2.05"/><circle cx="442.4" cy="286.6" r="2.05"/><circle cx="448.3" cy="298.2" r="2.05"/><circle cx="403.9" cy="295.5" r="2.05"/><circle cx="476.6" cy="271.9" r="2.05"/><circle cx="396" cy="326.5" r="2.05"/><circle cx="405.1" cy="304.2" r="2.05"/><circle cx="425.5" cy="305.9" r="2.05"/><circle cx="422.7" cy="296.9" r="2.05"/><circle cx="452.1" cy="293" r="2.05"/><circle cx="398.1" cy="327.5" r="2.05"/><circle cx="410.8" cy="298.9" r="2.05"/><circle cx="392.6" cy="318.4" r="2.05"/><circle cx="407.4" cy="314" r="2.05"/><circle cx="427.5" cy="295.4" r="2.05"/><circle cx="318.8" cy="355.9" r="2.05"/><circle cx="443.9" cy="275.4" r="2.05"/><circle cx="388.2" cy="335.1" r="2.05"/><circle cx="403.5" cy="315.5" r="2.05"/><circle cx="492.1" cy="271.2" r="2.05"/><circle cx="369.6" cy="329.8" r="2.05"/><circle cx="421.2" cy="306.7" r="2.05"/><circle cx="473" cy="287.9" r="2.05"/><circle cx="348.2" cy="337.1" r="2.05"/><circle cx="445.5" cy="278.4" r="2.05"/><circle cx="368.1" cy="331.7" r="2.05"/><circle cx="422.3" cy="289.7" r="2.05"/><circle cx="327.8" cy="347.2" r="2.05"/><circle cx="383.1" cy="315.5" r="2.05"/><circle cx="448.1" cy="285.1" r="2.05"/><circle cx="366" cy="326.9" r="2.05"/><circle cx="361.5" cy="332.3" r="2.05"/><circle cx="352.5" cy="345.2" r="2.05"/><circle cx="414" cy="297.2" r="2.05"/><circle cx="424" cy="294.8" r="2.05"/><circle cx="373.6" cy="326.4" r="2.05"/><circle cx="393.1" cy="309.4" r="2.05"/><circle cx="411.8" cy="300.6" r="2.05"/><circle cx="409.5" cy="315.9" r="2.05"/><circle cx="413.8" cy="293.4" r="2.05"/><circle cx="404.4" cy="304.8" r="2.05"/><circle cx="429.6" cy="324" r="2.05"/><circle cx="335.7" cy="344.4" r="2.05"/><circle cx="381.8" cy="315.3" r="2.05"/><circle cx="375.3" cy="318.2" r="2.05"/><circle cx="420.8" cy="300" r="2.05"/><circle cx="351.9" cy="344.2" r="2.05"/><circle cx="324.5" cy="350.3" r="2.05"/><circle cx="422.3" cy="304.8" r="2.05"/><circle cx="454" cy="270.4" r="2.05"/><circle cx="372.4" cy="326.8" r="2.05"/><circle cx="330.2" cy="350.3" r="2.05"/><circle cx="408.8" cy="297.8" r="2.05"/><circle cx="457.9" cy="278" r="2.05"/><circle cx="403.5" cy="299.4" r="2.05"/><circle cx="431" cy="284.8" r="2.05"/><circle cx="398.4" cy="321.1" r="2.05"/><circle cx="375.3" cy="334.8" r="2.05"/><circle cx="495.7" cy="265.7" r="2.05"/><circle cx="461.5" cy="280" r="2.05"/><circle cx="467.4" cy="279.7" r="2.05"/><circle cx="360.9" cy="340" r="2.05"/><circle cx="455" cy="278.1" r="2.05"/><circle cx="414.6" cy="308.2" r="2.05"/><circle cx="413.2" cy="310" r="2.05"/><circle cx="432.3" cy="296.2" r="2.05"/><circle cx="463.7" cy="282.3" r="2.05"/><circle cx="453.5" cy="284.3" r="2.05"/><circle cx="440.6" cy="282.2" r="2.05"/><circle cx="358.2" cy="336.6" r="2.05"/><circle cx="406.8" cy="308" r="2.05"/><circle cx="426.9" cy="305.7" r="2.05"/><circle cx="347.4" cy="336.2" r="2.05"/><circle cx="332.8" cy="343.7" r="2.05"/><circle cx="401.7" cy="313.7" r="2.05"/><circle cx="428.3" cy="298.9" r="2.05"/><circle cx="393" cy="345.4" r="2.05"/><circle cx="389" cy="315.5" r="2.05"/><circle cx="380.9" cy="322" r="2.05"/><circle cx="407.1" cy="282.3" r="2.05"/><circle cx="403.2" cy="315.1" r="2.05"/><circle cx="411.8" cy="290.5" r="2.05"/><circle cx="398.8" cy="314.9" r="2.05"/><circle cx="360.1" cy="332" r="2.05"/><circle cx="419" cy="307.9" r="2.05"/><circle cx="452.9" cy="283.1" r="2.05"/><circle cx="371.3" cy="341.6" r="2.05"/><circle cx="346.4" cy="338.5" r="2.05"/><circle cx="394.4" cy="304.7" r="2.05"/><circle cx="476.4" cy="272.9" r="2.05"/><circle cx="398.5" cy="311.2" r="2.05"/><circle cx="414.5" cy="301.7" r="2.05"/><circle cx="393.1" cy="302.8" r="2.05"/><circle cx="425.6" cy="291.1" r="2.05"/><circle cx="466" cy="281.6" r="2.05"/><circle cx="366.7" cy="333.4" r="2.05"/><circle cx="410.7" cy="303.6" r="2.05"/><circle cx="387.6" cy="317.8" r="2.05"/><circle cx="436.6" cy="276.7" r="2.05"/><circle cx="401.4" cy="316.8" r="2.05"/><circle cx="471.1" cy="286.7" r="2.05"/><circle cx="359.1" cy="344.3" r="2.05"/><circle cx="402.3" cy="314.2" r="2.05"/><circle cx="410.3" cy="299.3" r="2.05"/><circle cx="475.5" cy="282.9" r="2.05"/><circle cx="416.9" cy="300.4" r="2.05"/><circle cx="339" cy="331.7" r="2.05"/><circle cx="454.6" cy="286.2" r="2.05"/><circle cx="399" cy="314.5" r="2.05"/><circle cx="436.1" cy="292.1" r="2.05"/><circle cx="356.1" cy="335.5" r="2.05"/><circle cx="433.4" cy="299.1" r="2.05"/><circle cx="363.9" cy="328.2" r="2.05"/><circle cx="395" cy="316.9" r="2.05"/><circle cx="383.8" cy="316.7" r="2.05"/><circle cx="401.9" cy="313.4" r="2.05"/><circle cx="383.5" cy="320" r="2.05"/><circle cx="352.8" cy="343" r="2.05"/><circle cx="451.5" cy="292.4" r="2.05"/><circle cx="446.9" cy="290.9" r="2.05"/><circle cx="422.4" cy="293.4" r="2.05"/><circle cx="374.1" cy="318.5" r="2.05"/><circle cx="447.4" cy="283.5" r="2.05"/><circle cx="379.5" cy="323.4" r="2.05"/><circle cx="439.1" cy="288.7" r="2.05"/><circle cx="415.4" cy="310.4" r="2.05"/><circle cx="414.8" cy="294" r="2.05"/><circle cx="390.9" cy="317" r="2.05"/><circle cx="400.3" cy="315.9" r="2.05"/><circle cx="407.3" cy="307.7" r="2.05"/><circle cx="363" cy="335.3" r="2.05"/><circle cx="423.7" cy="295" r="2.05"/><circle cx="347.9" cy="335.8" r="2.05"/><circle cx="334.2" cy="344.9" r="2.05"/><circle cx="431.9" cy="294.5" r="2.05"/><circle cx="367.9" cy="342.2" r="2.05"/><circle cx="389.8" cy="322.1" r="2.05"/><circle cx="352" cy="329.1" r="2.05"/><circle cx="457.8" cy="268.9" r="2.05"/><circle cx="365.6" cy="338.7" r="2.05"/><circle cx="473.4" cy="260.3" r="2.05"/><circle cx="396.8" cy="312.9" r="2.05"/><circle cx="380.8" cy="306.3" r="2.05"/><circle cx="388.6" cy="316.4" r="2.05"/><circle cx="347.5" cy="350.9" r="2.05"/><circle cx="403.3" cy="315" r="2.05"/><circle cx="500.3" cy="263.8" r="2.05"/><circle cx="416.6" cy="305.1" r="2.05"/><circle cx="458.6" cy="269.6" r="2.05"/><circle cx="406.4" cy="305.7" r="2.05"/><circle cx="397.8" cy="321" r="2.05"/><circle cx="413.3" cy="299.5" r="2.05"/><circle cx="393.8" cy="348.5" r="2.05"/><circle cx="438" cy="304.1" r="2.05"/><circle cx="458.8" cy="292.5" r="2.05"/><circle cx="385.1" cy="316.6" r="2.05"/><circle cx="390.4" cy="316.6" r="2.05"/><circle cx="361.9" cy="334.6" r="2.05"/><circle cx="416.4" cy="304" r="2.05"/><circle cx="407.9" cy="305.9" r="2.05"/><circle cx="495" cy="254.4" r="2.05"/><circle cx="378.5" cy="320.2" r="2.05"/><circle cx="407.2" cy="297.6" r="2.05"/><circle cx="373.2" cy="332.5" r="2.05"/><circle cx="347.5" cy="337.5" r="2.05"/><circle cx="397.7" cy="314.1" r="2.05"/><circle cx="397.8" cy="316.9" r="2.05"/><circle cx="430.6" cy="286" r="2.05"/><circle cx="378.7" cy="323.1" r="2.05"/><circle cx="395.7" cy="312.7" r="2.05"/><circle cx="413.1" cy="306.6" r="2.05"/><circle cx="364.4" cy="333" r="2.05"/><circle cx="368.7" cy="337" r="2.05"/><circle cx="365.8" cy="336.4" r="2.05"/><circle cx="403.4" cy="319.6" r="2.05"/><circle cx="400.2" cy="311.7" r="2.05"/><circle cx="422" cy="298.2" r="2.05"/><circle cx="370.9" cy="328.4" r="2.05"/><circle cx="434.2" cy="279.5" r="2.05"/><circle cx="431.9" cy="289.2" r="2.05"/><circle cx="429.6" cy="304.4" r="2.05"/><circle cx="432.2" cy="289.1" r="2.05"/><circle cx="397.1" cy="308.9" r="2.05"/><circle cx="432.4" cy="297.9" r="2.05"/><circle cx="416.2" cy="303.2" r="2.05"/><circle cx="430.4" cy="291.9" r="2.05"/><circle cx="428.2" cy="299.6" r="2.05"/><circle cx="416.5" cy="305.7" r="2.05"/><circle cx="438" cy="304.5" r="2.05"/><circle cx="409.2" cy="295.7" r="2.05"/><circle cx="373.9" cy="317.5" r="2.05"/><circle cx="348.1" cy="327.3" r="2.05"/><circle cx="417.6" cy="305.8" r="2.05"/><circle cx="414.2" cy="307.6" r="2.05"/><circle cx="402.9" cy="315.2" r="2.05"/><circle cx="358.2" cy="317" r="2.05"/><circle cx="463.9" cy="278.3" r="2.05"/><circle cx="437.2" cy="292.7" r="2.05"/><circle cx="353.5" cy="348.3" r="2.05"/><circle cx="492.3" cy="286.7" r="2.05"/><circle cx="490.5" cy="302" r="2.05"/><circle cx="429.1" cy="332" r="2.05"/><circle cx="441.4" cy="316.2" r="2.05"/><circle cx="459.4" cy="298.9" r="2.05"/><circle cx="475" cy="293.2" r="2.05"/><circle cx="429.2" cy="314.2" r="2.05"/><circle cx="483.3" cy="304.8" r="2.05"/><circle cx="515.3" cy="272" r="2.05"/><circle cx="473.8" cy="305.1" r="2.05"/><circle cx="511.3" cy="290.9" r="2.05"/><circle cx="474.3" cy="308" r="2.05"/><circle cx="433" cy="328.2" r="2.05"/><circle cx="493.3" cy="288.3" r="2.05"/><circle cx="414" cy="327.4" r="2.05"/><circle cx="462.7" cy="311.9" r="2.05"/><circle cx="431.4" cy="339" r="2.05"/><circle cx="431.8" cy="314" r="2.05"/><circle cx="458.4" cy="295.8" r="2.05"/><circle cx="463.3" cy="302.9" r="2.05"/><circle cx="387.7" cy="297.2" r="2.05"/><circle cx="388" cy="294.6" r="2.05"/><circle cx="439.2" cy="272.5" r="2.05"/><circle cx="431.6" cy="276.5" r="2.05"/><circle cx="461.8" cy="250.8" r="2.05"/></g>
<line x1="311.3" y1="363.4" x2="538.3" y2="231.6" stroke="#111" stroke-width="1.3"/>
<path d="M311.3 363.4 L313.2 362.3 L315.1 361.2 L317 360.1 L318.9 359 L320.8 357.9 L322.7 356.8 L324.7 355.6 L326.6 354.5 L328.5 353.4 L330.4 352.3 L332.3 351.2 L334.2 350.1 L336.1 349 L338 347.9 L339.9 346.8 L341.8 345.7 L343.7 344.6 L345.6 343.5 L347.5 342.4 L349.5 341.2 L351.4 340.1 L353.3 339 L355.2 337.9 L357.1 336.8 L359 335.7 L360.9 334.6 L362.8 333.5 L364.7 332.4 L366.6 331.3 L368.5 330.2 L370.4 329.1 L372.3 328 L374.2 326.9 L376.2 325.7 L378.1 324.6 L380 323.5 L381.9 322.4 L383.8 321.3 L385.7 320.2 L387.6 319.1 L389.5 318 L391.4 316.9 L393.3 315.8 L395.2 314.7 L397.1 313.6 L399 312.5 L401 311.3 L402.9 310.2 L404.8 309.1 L406.7 308 L408.6 306.9 L410.5 305.8 L412.4 304.7 L414.3 303.6 L416.2 302.5 L418.1 301.4 L420 300.3 L421.9 299.2 L423.8 298.1 L425.8 296.9 L427.7 295.8 L429.6 294.7 L431.5 293.6 L433.4 292.5 L435.3 291.4 L437.2 290.3 L439.1 289.2 L441 288.1 L442.9 287 L444.8 285.9 L446.7 284.8 L448.6 283.7 L450.6 282.5 L452.5 281.4 L454.4 280.3 L456.3 279.2 L458.2 278.1 L460.1 277 L462 275.9 L463.9 274.8 L465.8 273.7 L467.7 272.6 L469.6 271.5 L471.5 270.4 L473.4 269.3 L475.4 268.1 L477.3 267 L479.2 265.9 L481.1 264.8 L483 263.7 L484.9 262.6 L486.8 261.5 L488.7 260.4 L490.6 259.3 L492.5 258.2 L494.4 257.1 L496.3 256 L498.2 254.9 L500.1 253.8 L502.1 252.6 L504 251.5 L505.9 250.4 L507.8 249.3 L509.7 248.2 L511.6 247.1 L513.5 246 L515.4 244.9 L517.3 243.8 L519.2 242.7 L521.1 241.6 L523 240.5 L524.9 239.4 L526.9 238.2 L528.8 237.1 L530.7 236 L532.6 234.9 L534.5 233.8 L536.4 232.7 L538.3 231.6" fill="none" stroke="#1fc4cc" stroke-width="1.65" stroke-linejoin="round"/>
<path d="M311.3 359.7 L313.1 358.8 L315 357.8 L316.8 356.8 L318.7 355.8 L320.5 354.8 L322.3 353.8 L324.2 352.9 L326 351.9 L327.8 350.9 L329.7 349.9 L331.5 348.9 L333.4 348 L335.2 347 L337 346 L338.9 345 L340.7 344 L342.5 343.1 L344.4 342.1 L346.2 341.1 L348.1 340.1 L349.9 339.1 L351.7 338.1 L353.6 337 L355.4 336 L357.2 335 L359.1 334 L360.9 332.9 L362.8 331.9 L364.6 330.9 L366.4 329.8 L368.3 328.8 L370.1 327.8 L371.9 326.8 L373.8 325.7 L375.6 324.7 L377.5 323.7 L379.3 322.6 L381.1 321.6 L383 320.6 L384.8 319.5 L386.6 318.5 L388.5 317.5 L390.3 316.5 L392.2 315.4 L394 314.4 L395.8 313.4 L397.7 312.3 L399.5 311.3 L401.3 310.3 L403.2 309.3 L405 308.2 L406.9 307.2 L408.7 306.2 L410.5 305.2 L412.4 304.1 L414.2 303.1 L416 302.1 L417.9 301.1 L419.7 300 L421.6 299 L423.4 298 L425.2 297 L427.1 295.9 L428.9 294.9 L430.7 293.9 L432.6 292.9 L434.4 291.9 L436.3 290.9 L438.1 289.9 L439.9 289 L441.8 288 L443.6 287.1 L445.4 286.2 L447.3 285.3 L449.1 284.4 L451 283.5 L452.8 282.6 L454.6 281.7 L456.5 280.9 L458.3 280.1 L460.1 279.4 L462 278.6 L463.8 278 L465.7 277.3 L467.5 276.6 L469.3 276 L471.2 275.3 L473 274.6 L474.8 274 L476.7 273.4 L478.5 272.7 L480.4 272.1 L482.2 271.6 L484 271 L485.9 270.4 L487.7 269.9 L489.5 269.3 L491.4 268.8 L493.2 268.2 L495.1 267.7 L496.9 267.1 L498.7 266.6 L500.6 266.2 L502.4 265.7 L504.2 265.3 L506.1 264.9 L507.9 264.6 L509.8 264.2 L511.6 263.9 L513.4 263.5 L515.3 263.1 L517.1 262.8 L519 262.4 L520.8 262.1 L522.6 261.7 L524.5 261.4 L526.3 261 L528.1 260.7 L530 260.3" fill="none" stroke="#ff2a55" stroke-width="1.25" stroke-linejoin="round"/>
<path d="M311.3 360.5 L313.1 359.5 L314.9 358.6 L316.7 357.6 L318.5 356.7 L320.3 355.7 L322.1 354.8 L324 353.8 L325.8 352.8 L327.6 351.9 L329.4 350.9 L331.2 350 L333 349 L334.8 348.1 L336.6 347.1 L338.4 346.2 L340.2 345.2 L342 344.2 L343.8 343.2 L345.7 342.2 L347.5 341.2 L349.3 340.2 L351.1 339.2 L352.9 338.2 L354.7 337.2 L356.5 336.2 L358.3 335.2 L360.1 334.2 L361.9 333.2 L363.7 332.2 L365.5 331.2 L367.3 330.2 L369.2 329.2 L371 328.2 L372.8 327.2 L374.6 326.3 L376.4 325.3 L378.2 324.3 L380 323.3 L381.8 322.3 L383.6 321.3 L385.4 320.3 L387.2 319.3 L389 318.3 L390.8 317.2 L392.7 316.2 L394.5 315.1 L396.3 314.1 L398.1 313 L399.9 312 L401.7 310.9 L403.5 309.9 L405.3 308.8 L407.1 307.8 L408.9 306.7 L410.7 305.7 L412.5 304.6 L414.4 303.6 L416.2 302.5 L418 301.5 L419.8 300.4 L421.6 299.4 L423.4 298.3 L425.2 297.3 L427 296.2 L428.8 295.2 L430.6 294.1 L432.4 293.1 L434.2 292 L436 291 L437.9 289.9 L439.7 288.9 L441.5 287.9 L443.3 286.9 L445.1 285.9 L446.9 285 L448.7 284 L450.5 283.1 L452.3 282.2 L454.1 281.3 L455.9 280.4 L457.7 279.5 L459.6 278.7 L461.4 277.8 L463.2 277 L465 276.2 L466.8 275.4 L468.6 274.5 L470.4 273.7 L472.2 272.9 L474 272.1 L475.8 271.3 L477.6 270.5 L479.4 269.8 L481.2 269 L483.1 268.3 L484.9 267.5 L486.7 266.8 L488.5 266.1 L490.3 265.3 L492.1 264.6 L493.9 263.9 L495.7 263.1 L497.5 262.4 L499.3 261.7 L501.1 260.9 L502.9 260.2 L504.8 259.4 L506.6 258.7 L508.4 258 L510.2 257.2 L512 256.5 L513.8 255.8 L515.6 255 L517.4 254.3 L519.2 253.6 L521 252.8 L522.8 252.1 L524.6 251.4 L526.4 250.6" fill="none" stroke="#ff8c0a" stroke-width="1.45" stroke-linejoin="round"/>
</g>
<rect x="311.3" y="231.6" width="227" height="131.8" fill="none" stroke="#222" stroke-width="1"/>
<path d="M336.5 363.4v-1.6M311.3 348.8h1.6M361.7 363.4v-1.6M311.3 334.1h1.6M387 363.4v-1.6M311.3 319.5h1.6M412.2 363.4v-1.6M311.3 304.8h1.6M437.4 363.4v-1.6M311.3 290.2h1.6M462.6 363.4v-1.6M311.3 275.5h1.6M487.9 363.4v-1.6M311.3 260.9h1.6M513.1 363.4v-1.6M311.3 246.2h1.6" stroke="#222" stroke-width="0.8" fill="none"/>
<g font-size="12.8" fill="#231f20" letter-spacing="0.35">
<text x="336.7" y="374.8" text-anchor="middle">10</text>
<text x="308" y="352.9" text-anchor="end">10</text>
<text x="361.9" y="374.8" text-anchor="middle">20</text>
<text x="308" y="338.2" text-anchor="end">20</text>
<text x="387.2" y="374.8" text-anchor="middle">30</text>
<text x="308" y="323.6" text-anchor="end">30</text>
<text x="412.4" y="374.8" text-anchor="middle">40</text>
<text x="308" y="308.9" text-anchor="end">40</text>
<text x="437.6" y="374.8" text-anchor="middle">50</text>
<text x="308" y="294.3" text-anchor="end">50</text>
<text x="462.8" y="374.8" text-anchor="middle">60</text>
<text x="308" y="279.6" text-anchor="end">60</text>
<text x="488.1" y="374.8" text-anchor="middle">70</text>
<text x="308" y="265" text-anchor="end">70</text>
<text x="513.3" y="374.8" text-anchor="middle">80</text>
<text x="308" y="250.3" text-anchor="end">80</text>
<text x="538.5" y="374.8" text-anchor="middle">90</text>
<text x="308" y="235.7" text-anchor="end">90</text>
<text x="304.9" y="374.8" text-anchor="middle">0</text>
</g>
<text x="419.8" y="221.9" text-anchor="middle" font-size="12.4" letter-spacing="0.6" fill="#231f20">XGBoost</text>
<text x="419.9" y="387.1" text-anchor="middle" font-size="12" letter-spacing="0.5" fill="#231f20">Tested <tspan font-style="italic">f</tspan><tspan font-style="italic" font-size="8" dy="2.2">c</tspan><tspan dy="-2.2" dx="-1.8"> (Mpa)</tspan></text>
<text transform="translate(286 298.8) rotate(-90)" text-anchor="middle" font-size="12.2" letter-spacing="0.6" fill="#231f20">Predicted <tspan font-style="italic">f</tspan><tspan font-style="italic" font-size="8" dy="2.2">c</tspan><tspan dy="-2.2" dx="-1.8"> (Mpa)</tspan></text>
<text x="410.5" y="406.8" text-anchor="middle" font-size="13.6" fill="#231f20">(<tspan font-weight="bold">d</tspan>)</text>
</svg>
</body></html>
